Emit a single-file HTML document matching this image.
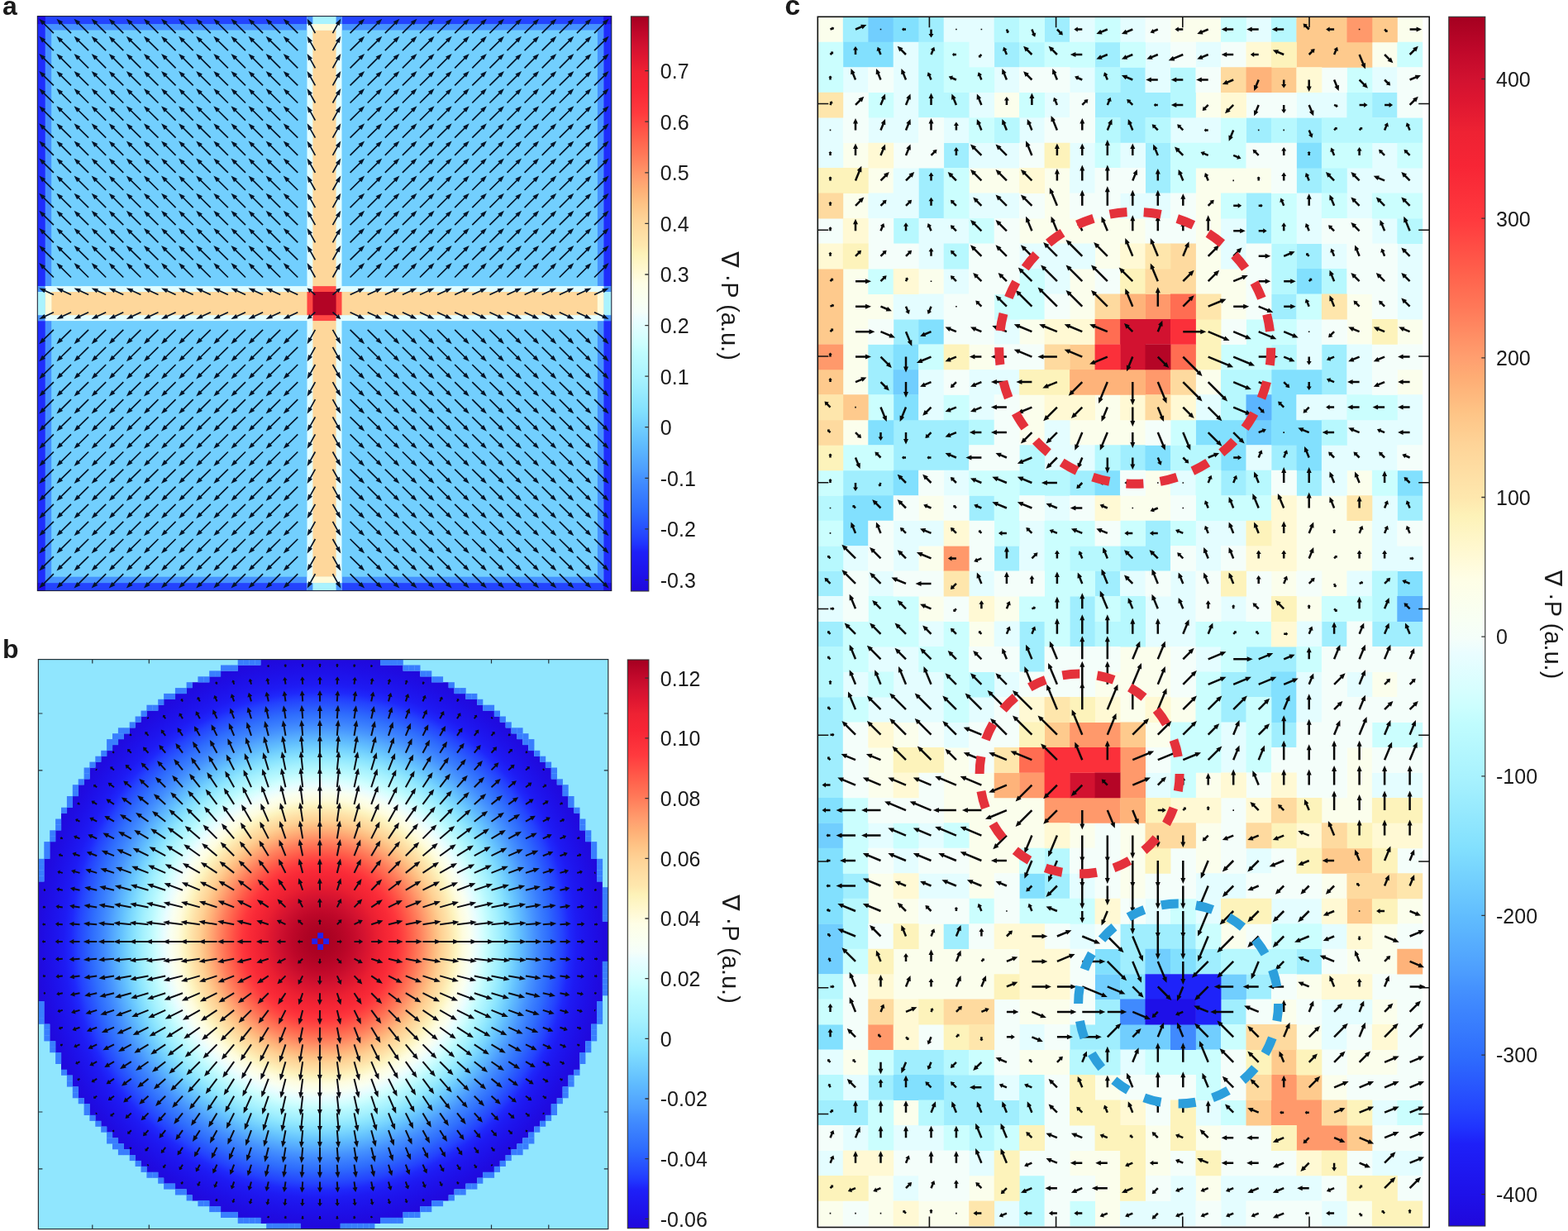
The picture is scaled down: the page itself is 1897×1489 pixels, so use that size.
<!DOCTYPE html><html><head><meta charset="utf-8"><title>figure</title><style>html,body{margin:0;padding:0;background:#fff;}svg{display:block;}text{font-family:"Liberation Sans","DejaVu Sans",Arial,sans-serif;fill:#1a1a1a;}</style></head><body><svg xmlns="http://www.w3.org/2000/svg" width="1897" height="1489" viewBox="0 0 1897 1489"><rect width="1897" height="1489" fill="#fff"/><g id="pa"><rect x="45.3" y="19.6" width="694.5" height="695" fill="#72cffe"/><rect x="58.5" y="32.8" width="668.1" height="668.6" fill="none" stroke="#4592fe" stroke-width="7.4"/><rect x="45.3" y="19.6" width="694.5" height="9.5" fill="#2443fe"/><rect x="45.3" y="705.1" width="694.5" height="9.5" fill="#2443fe"/><rect x="45.3" y="19.6" width="9.5" height="695" fill="#1f2dfc"/><rect x="730.3" y="19.6" width="9.5" height="695" fill="#1f2dfc"/><rect x="45.3" y="19.6" width="9.5" height="9.5" fill="#1e0ee6"/><rect x="730.3" y="19.6" width="9.5" height="9.5" fill="#1e0ee6"/><rect x="45.3" y="705.1" width="9.5" height="9.5" fill="#1e0ee6"/><rect x="730.3" y="705.1" width="9.5" height="9.5" fill="#1e0ee6"/><rect x="371.5" y="19.6" width="42" height="695" fill="#e2fdff"/><rect x="378.4" y="19.6" width="28.2" height="695" fill="#fed79b"/><rect x="45.3" y="346.1" width="694.5" height="42" fill="#e2fdff"/><rect x="45.3" y="353" width="694.5" height="28.2" fill="#fed79b"/><rect x="371.5" y="19.6" width="42" height="9.5" fill="#4592fe"/><rect x="378.4" y="19.6" width="28.2" height="9.5" fill="#aaf3fe"/><rect x="371.5" y="705.1" width="42" height="9.5" fill="#4592fe"/><rect x="378.4" y="705.1" width="28.2" height="9.5" fill="#aaf3fe"/><rect x="371.5" y="29.1" width="42" height="7.4" fill="#e2fdff"/><rect x="378.4" y="29.1" width="28.2" height="7.4" fill="#fffad8"/><rect x="371.5" y="697.7" width="42" height="7.4" fill="#e2fdff"/><rect x="378.4" y="697.7" width="28.2" height="7.4" fill="#fffad8"/><rect x="45.3" y="346.1" width="9.5" height="42" fill="#4592fe"/><rect x="45.3" y="353" width="9.5" height="28.2" fill="#aaf3fe"/><rect x="730.3" y="346.1" width="9.5" height="42" fill="#4592fe"/><rect x="730.3" y="353" width="9.5" height="28.2" fill="#aaf3fe"/><rect x="54.8" y="346.1" width="7.4" height="42" fill="#e2fdff"/><rect x="54.8" y="353" width="7.4" height="28.2" fill="#fffad8"/><rect x="722.9" y="346.1" width="7.4" height="42" fill="#e2fdff"/><rect x="722.9" y="353" width="7.4" height="28.2" fill="#fffad8"/><rect x="371.5" y="353" width="42" height="28.2" fill="#ff4743"/><rect x="378.4" y="346.1" width="28.2" height="42" fill="#ff4743"/><rect x="378.4" y="353" width="28.2" height="28.2" fill="#b30425"/><path d="M64.9 40.1l-14.8 -14.6M86 40.1l-14.8 -14.6M107.1 40.1l-14.8 -14.6M128.2 40.1l-14.8 -14.6M149.3 40.1l-14.8 -14.6M170.4 40.1l-14.8 -14.6M191.5 40.1l-14.8 -14.6M212.6 40.1l-14.8 -14.6M233.7 40.1l-14.8 -14.6M254.8 40.1l-14.8 -14.6M275.9 40.1l-14.8 -14.6M297 40.1l-14.8 -14.6M318.1 40.1l-14.8 -14.6M339.2 40.1l-14.8 -14.6M360.3 40.1l-14.8 -14.6M381.4 40.1l-7.8 -13.9M402.5 40.1l7.8 -13.9M423.6 40.1l14.8 -14.6M444.7 40.1l14.8 -14.6M465.8 40.1l14.8 -14.6M486.9 40.1l14.8 -14.6M508 40.1l14.8 -14.6M529.1 40.1l14.8 -14.6M550.2 40.1l14.8 -14.6M571.3 40.1l14.8 -14.6M592.4 40.1l14.8 -14.6M613.5 40.1l14.8 -14.6M634.6 40.1l14.8 -14.6M655.7 40.1l14.8 -14.6M676.8 40.1l14.8 -14.6M697.9 40.1l14.8 -14.6M719 40.1l14.8 -14.6M64.9 61.2l-14.8 -14.6M86 61.2l-14.8 -14.6M107.1 61.2l-14.8 -14.6M128.2 61.2l-14.8 -14.6M149.3 61.2l-14.8 -14.6M170.4 61.2l-14.8 -14.6M191.5 61.2l-14.8 -14.6M212.6 61.2l-14.8 -14.6M233.7 61.2l-14.8 -14.6M254.8 61.2l-14.8 -14.6M275.9 61.2l-14.8 -14.6M297 61.2l-14.8 -14.6M318.1 61.2l-14.8 -14.6M339.2 61.2l-14.8 -14.6M360.3 61.2l-14.8 -14.6M381.4 61.2l-7.8 -13.9M402.5 61.2l7.8 -13.9M423.6 61.2l14.8 -14.6M444.7 61.2l14.8 -14.6M465.8 61.2l14.8 -14.6M486.9 61.2l14.8 -14.6M508 61.2l14.8 -14.6M529.1 61.2l14.8 -14.6M550.2 61.2l14.8 -14.6M571.3 61.2l14.8 -14.6M592.4 61.2l14.8 -14.6M613.5 61.2l14.8 -14.6M634.6 61.2l14.8 -14.6M655.7 61.2l14.8 -14.6M676.8 61.2l14.8 -14.6M697.9 61.2l14.8 -14.6M719 61.2l14.8 -14.6M64.9 82.3l-14.8 -14.6M86 82.3l-14.8 -14.6M107.1 82.3l-14.8 -14.6M128.2 82.3l-14.8 -14.6M149.3 82.3l-14.8 -14.6M170.4 82.3l-14.8 -14.6M191.5 82.3l-14.8 -14.6M212.6 82.3l-14.8 -14.6M233.7 82.3l-14.8 -14.6M254.8 82.3l-14.8 -14.6M275.9 82.3l-14.8 -14.6M297 82.3l-14.8 -14.6M318.1 82.3l-14.8 -14.6M339.2 82.3l-14.8 -14.6M360.3 82.3l-14.8 -14.6M381.4 82.3l-7.8 -13.9M402.5 82.3l7.8 -13.9M423.6 82.3l14.8 -14.6M444.7 82.3l14.8 -14.6M465.8 82.3l14.8 -14.6M486.9 82.3l14.8 -14.6M508 82.3l14.8 -14.6M529.1 82.3l14.8 -14.6M550.2 82.3l14.8 -14.6M571.3 82.3l14.8 -14.6M592.4 82.3l14.8 -14.6M613.5 82.3l14.8 -14.6M634.6 82.3l14.8 -14.6M655.7 82.3l14.8 -14.6M676.8 82.3l14.8 -14.6M697.9 82.3l14.8 -14.6M719 82.3l14.8 -14.6M64.9 103.4l-14.8 -14.6M86 103.4l-14.8 -14.6M107.1 103.4l-14.8 -14.6M128.2 103.4l-14.8 -14.6M149.3 103.4l-14.8 -14.6M170.4 103.4l-14.8 -14.6M191.5 103.4l-14.8 -14.6M212.6 103.4l-14.8 -14.6M233.7 103.4l-14.8 -14.6M254.8 103.4l-14.8 -14.6M275.9 103.4l-14.8 -14.6M297 103.4l-14.8 -14.6M318.1 103.4l-14.8 -14.6M339.2 103.4l-14.8 -14.6M360.3 103.4l-14.8 -14.6M381.4 103.4l-7.8 -13.9M402.5 103.4l7.8 -13.9M423.6 103.4l14.8 -14.6M444.7 103.4l14.8 -14.6M465.8 103.4l14.8 -14.6M486.9 103.4l14.8 -14.6M508 103.4l14.8 -14.6M529.1 103.4l14.8 -14.6M550.2 103.4l14.8 -14.6M571.3 103.4l14.8 -14.6M592.4 103.4l14.8 -14.6M613.5 103.4l14.8 -14.6M634.6 103.4l14.8 -14.6M655.7 103.4l14.8 -14.6M676.8 103.4l14.8 -14.6M697.9 103.4l14.8 -14.6M719 103.4l14.8 -14.6M64.9 124.5l-14.8 -14.6M86 124.5l-14.8 -14.6M107.1 124.5l-14.8 -14.6M128.2 124.5l-14.8 -14.6M149.3 124.5l-14.8 -14.6M170.4 124.5l-14.8 -14.6M191.5 124.5l-14.8 -14.6M212.6 124.5l-14.8 -14.6M233.7 124.5l-14.8 -14.6M254.8 124.5l-14.8 -14.6M275.9 124.5l-14.8 -14.6M297 124.5l-14.8 -14.6M318.1 124.5l-14.8 -14.6M339.2 124.5l-14.8 -14.6M360.3 124.5l-14.8 -14.6M381.4 124.5l-7.8 -13.9M402.5 124.5l7.8 -13.9M423.6 124.5l14.8 -14.6M444.7 124.5l14.8 -14.6M465.8 124.5l14.8 -14.6M486.9 124.5l14.8 -14.6M508 124.5l14.8 -14.6M529.1 124.5l14.8 -14.6M550.2 124.5l14.8 -14.6M571.3 124.5l14.8 -14.6M592.4 124.5l14.8 -14.6M613.5 124.5l14.8 -14.6M634.6 124.5l14.8 -14.6M655.7 124.5l14.8 -14.6M676.8 124.5l14.8 -14.6M697.9 124.5l14.8 -14.6M719 124.5l14.8 -14.6M64.9 145.6l-14.8 -14.6M86 145.6l-14.8 -14.6M107.1 145.6l-14.8 -14.6M128.2 145.6l-14.8 -14.6M149.3 145.6l-14.8 -14.6M170.4 145.6l-14.8 -14.6M191.5 145.6l-14.8 -14.6M212.6 145.6l-14.8 -14.6M233.7 145.6l-14.8 -14.6M254.8 145.6l-14.8 -14.6M275.9 145.6l-14.8 -14.6M297 145.6l-14.8 -14.6M318.1 145.6l-14.8 -14.6M339.2 145.6l-14.8 -14.6M360.3 145.6l-14.8 -14.6M381.4 145.6l-7.8 -13.9M402.5 145.6l7.8 -13.9M423.6 145.6l14.8 -14.6M444.7 145.6l14.8 -14.6M465.8 145.6l14.8 -14.6M486.9 145.6l14.8 -14.6M508 145.6l14.8 -14.6M529.1 145.6l14.8 -14.6M550.2 145.6l14.8 -14.6M571.3 145.6l14.8 -14.6M592.4 145.6l14.8 -14.6M613.5 145.6l14.8 -14.6M634.6 145.6l14.8 -14.6M655.7 145.6l14.8 -14.6M676.8 145.6l14.8 -14.6M697.9 145.6l14.8 -14.6M719 145.6l14.8 -14.6M64.9 166.7l-14.8 -14.6M86 166.7l-14.8 -14.6M107.1 166.7l-14.8 -14.6M128.2 166.7l-14.8 -14.6M149.3 166.7l-14.8 -14.6M170.4 166.7l-14.8 -14.6M191.5 166.7l-14.8 -14.6M212.6 166.7l-14.8 -14.6M233.7 166.7l-14.8 -14.6M254.8 166.7l-14.8 -14.6M275.9 166.7l-14.8 -14.6M297 166.7l-14.8 -14.6M318.1 166.7l-14.8 -14.6M339.2 166.7l-14.8 -14.6M360.3 166.7l-14.8 -14.6M381.4 166.7l-7.8 -13.9M402.5 166.7l7.8 -13.9M423.6 166.7l14.8 -14.6M444.7 166.7l14.8 -14.6M465.8 166.7l14.8 -14.6M486.9 166.7l14.8 -14.6M508 166.7l14.8 -14.6M529.1 166.7l14.8 -14.6M550.2 166.7l14.8 -14.6M571.3 166.7l14.8 -14.6M592.4 166.7l14.8 -14.6M613.5 166.7l14.8 -14.6M634.6 166.7l14.8 -14.6M655.7 166.7l14.8 -14.6M676.8 166.7l14.8 -14.6M697.9 166.7l14.8 -14.6M719 166.7l14.8 -14.6M64.9 187.8l-14.8 -14.6M86 187.8l-14.8 -14.6M107.1 187.8l-14.8 -14.6M128.2 187.8l-14.8 -14.6M149.3 187.8l-14.8 -14.6M170.4 187.8l-14.8 -14.6M191.5 187.8l-14.8 -14.6M212.6 187.8l-14.8 -14.6M233.7 187.8l-14.8 -14.6M254.8 187.8l-14.8 -14.6M275.9 187.8l-14.8 -14.6M297 187.8l-14.8 -14.6M318.1 187.8l-14.8 -14.6M339.2 187.8l-14.8 -14.6M360.3 187.8l-14.8 -14.6M381.4 187.8l-7.8 -13.9M402.5 187.8l7.8 -13.9M423.6 187.8l14.8 -14.6M444.7 187.8l14.8 -14.6M465.8 187.8l14.8 -14.6M486.9 187.8l14.8 -14.6M508 187.8l14.8 -14.6M529.1 187.8l14.8 -14.6M550.2 187.8l14.8 -14.6M571.3 187.8l14.8 -14.6M592.4 187.8l14.8 -14.6M613.5 187.8l14.8 -14.6M634.6 187.8l14.8 -14.6M655.7 187.8l14.8 -14.6M676.8 187.8l14.8 -14.6M697.9 187.8l14.8 -14.6M719 187.8l14.8 -14.6M64.9 208.9l-14.8 -14.6M86 208.9l-14.8 -14.6M107.1 208.9l-14.8 -14.6M128.2 208.9l-14.8 -14.6M149.3 208.9l-14.8 -14.6M170.4 208.9l-14.8 -14.6M191.5 208.9l-14.8 -14.6M212.6 208.9l-14.8 -14.6M233.7 208.9l-14.8 -14.6M254.8 208.9l-14.8 -14.6M275.9 208.9l-14.8 -14.6M297 208.9l-14.8 -14.6M318.1 208.9l-14.8 -14.6M339.2 208.9l-14.8 -14.6M360.3 208.9l-14.8 -14.6M381.4 208.9l-7.8 -13.9M402.5 208.9l7.8 -13.9M423.6 208.9l14.8 -14.6M444.7 208.9l14.8 -14.6M465.8 208.9l14.8 -14.6M486.9 208.9l14.8 -14.6M508 208.9l14.8 -14.6M529.1 208.9l14.8 -14.6M550.2 208.9l14.8 -14.6M571.3 208.9l14.8 -14.6M592.4 208.9l14.8 -14.6M613.5 208.9l14.8 -14.6M634.6 208.9l14.8 -14.6M655.7 208.9l14.8 -14.6M676.8 208.9l14.8 -14.6M697.9 208.9l14.8 -14.6M719 208.9l14.8 -14.6M64.9 230l-14.8 -14.6M86 230l-14.8 -14.6M107.1 230l-14.8 -14.6M128.2 230l-14.8 -14.6M149.3 230l-14.8 -14.6M170.4 230l-14.8 -14.6M191.5 230l-14.8 -14.6M212.6 230l-14.8 -14.6M233.7 230l-14.8 -14.6M254.8 230l-14.8 -14.6M275.9 230l-14.8 -14.6M297 230l-14.8 -14.6M318.1 230l-14.8 -14.6M339.2 230l-14.8 -14.6M360.3 230l-14.8 -14.6M381.4 230l-7.8 -13.9M402.5 230l7.8 -13.9M423.6 230l14.8 -14.6M444.7 230l14.8 -14.6M465.8 230l14.8 -14.6M486.9 230l14.8 -14.6M508 230l14.8 -14.6M529.1 230l14.8 -14.6M550.2 230l14.8 -14.6M571.3 230l14.8 -14.6M592.4 230l14.8 -14.6M613.5 230l14.8 -14.6M634.6 230l14.8 -14.6M655.7 230l14.8 -14.6M676.8 230l14.8 -14.6M697.9 230l14.8 -14.6M719 230l14.8 -14.6M64.9 251.1l-14.8 -14.6M86 251.1l-14.8 -14.6M107.1 251.1l-14.8 -14.6M128.2 251.1l-14.8 -14.6M149.3 251.1l-14.8 -14.6M170.4 251.1l-14.8 -14.6M191.5 251.1l-14.8 -14.6M212.6 251.1l-14.8 -14.6M233.7 251.1l-14.8 -14.6M254.8 251.1l-14.8 -14.6M275.9 251.1l-14.8 -14.6M297 251.1l-14.8 -14.6M318.1 251.1l-14.8 -14.6M339.2 251.1l-14.8 -14.6M360.3 251.1l-14.8 -14.6M381.4 251.1l-7.8 -13.9M402.5 251.1l7.8 -13.9M423.6 251.1l14.8 -14.6M444.7 251.1l14.8 -14.6M465.8 251.1l14.8 -14.6M486.9 251.1l14.8 -14.6M508 251.1l14.8 -14.6M529.1 251.1l14.8 -14.6M550.2 251.1l14.8 -14.6M571.3 251.1l14.8 -14.6M592.4 251.1l14.8 -14.6M613.5 251.1l14.8 -14.6M634.6 251.1l14.8 -14.6M655.7 251.1l14.8 -14.6M676.8 251.1l14.8 -14.6M697.9 251.1l14.8 -14.6M719 251.1l14.8 -14.6M64.9 272.2l-14.8 -14.6M86 272.2l-14.8 -14.6M107.1 272.2l-14.8 -14.6M128.2 272.2l-14.8 -14.6M149.3 272.2l-14.8 -14.6M170.4 272.2l-14.8 -14.6M191.5 272.2l-14.8 -14.6M212.6 272.2l-14.8 -14.6M233.7 272.2l-14.8 -14.6M254.8 272.2l-14.8 -14.6M275.9 272.2l-14.8 -14.6M297 272.2l-14.8 -14.6M318.1 272.2l-14.8 -14.6M339.2 272.2l-14.8 -14.6M360.3 272.2l-14.8 -14.6M381.4 272.2l-7.8 -13.9M402.5 272.2l7.8 -13.9M423.6 272.2l14.8 -14.6M444.7 272.2l14.8 -14.6M465.8 272.2l14.8 -14.6M486.9 272.2l14.8 -14.6M508 272.2l14.8 -14.6M529.1 272.2l14.8 -14.6M550.2 272.2l14.8 -14.6M571.3 272.2l14.8 -14.6M592.4 272.2l14.8 -14.6M613.5 272.2l14.8 -14.6M634.6 272.2l14.8 -14.6M655.7 272.2l14.8 -14.6M676.8 272.2l14.8 -14.6M697.9 272.2l14.8 -14.6M719 272.2l14.8 -14.6M64.9 293.3l-14.8 -14.6M86 293.3l-14.8 -14.6M107.1 293.3l-14.8 -14.6M128.2 293.3l-14.8 -14.6M149.3 293.3l-14.8 -14.6M170.4 293.3l-14.8 -14.6M191.5 293.3l-14.8 -14.6M212.6 293.3l-14.8 -14.6M233.7 293.3l-14.8 -14.6M254.8 293.3l-14.8 -14.6M275.9 293.3l-14.8 -14.6M297 293.3l-14.8 -14.6M318.1 293.3l-14.8 -14.6M339.2 293.3l-14.8 -14.6M360.3 293.3l-14.8 -14.6M381.4 293.3l-7.8 -13.9M402.5 293.3l7.8 -13.9M423.6 293.3l14.8 -14.6M444.7 293.3l14.8 -14.6M465.8 293.3l14.8 -14.6M486.9 293.3l14.8 -14.6M508 293.3l14.8 -14.6M529.1 293.3l14.8 -14.6M550.2 293.3l14.8 -14.6M571.3 293.3l14.8 -14.6M592.4 293.3l14.8 -14.6M613.5 293.3l14.8 -14.6M634.6 293.3l14.8 -14.6M655.7 293.3l14.8 -14.6M676.8 293.3l14.8 -14.6M697.9 293.3l14.8 -14.6M719 293.3l14.8 -14.6M64.9 314.4l-14.8 -14.6M86 314.4l-14.8 -14.6M107.1 314.4l-14.8 -14.6M128.2 314.4l-14.8 -14.6M149.3 314.4l-14.8 -14.6M170.4 314.4l-14.8 -14.6M191.5 314.4l-14.8 -14.6M212.6 314.4l-14.8 -14.6M233.7 314.4l-14.8 -14.6M254.8 314.4l-14.8 -14.6M275.9 314.4l-14.8 -14.6M297 314.4l-14.8 -14.6M318.1 314.4l-14.8 -14.6M339.2 314.4l-14.8 -14.6M360.3 314.4l-14.8 -14.6M381.4 314.4l-7.8 -13.9M402.5 314.4l7.8 -13.9M423.6 314.4l14.8 -14.6M444.7 314.4l14.8 -14.6M465.8 314.4l14.8 -14.6M486.9 314.4l14.8 -14.6M508 314.4l14.8 -14.6M529.1 314.4l14.8 -14.6M550.2 314.4l14.8 -14.6M571.3 314.4l14.8 -14.6M592.4 314.4l14.8 -14.6M613.5 314.4l14.8 -14.6M634.6 314.4l14.8 -14.6M655.7 314.4l14.8 -14.6M676.8 314.4l14.8 -14.6M697.9 314.4l14.8 -14.6M719 314.4l14.8 -14.6M64.9 335.5l-14.8 -14.6M86 335.5l-14.8 -14.6M107.1 335.5l-14.8 -14.6M128.2 335.5l-14.8 -14.6M149.3 335.5l-14.8 -14.6M170.4 335.5l-14.8 -14.6M191.5 335.5l-14.8 -14.6M212.6 335.5l-14.8 -14.6M233.7 335.5l-14.8 -14.6M254.8 335.5l-14.8 -14.6M275.9 335.5l-14.8 -14.6M297 335.5l-14.8 -14.6M318.1 335.5l-14.8 -14.6M339.2 335.5l-14.8 -14.6M360.3 335.5l-14.8 -14.6M381.4 335.5l-7.8 -13.9M402.5 335.5l7.8 -13.9M423.6 335.5l14.8 -14.6M444.7 335.5l14.8 -14.6M465.8 335.5l14.8 -14.6M486.9 335.5l14.8 -14.6M508 335.5l14.8 -14.6M529.1 335.5l14.8 -14.6M550.2 335.5l14.8 -14.6M571.3 335.5l14.8 -14.6M592.4 335.5l14.8 -14.6M613.5 335.5l14.8 -14.6M634.6 335.5l14.8 -14.6M655.7 335.5l14.8 -14.6M676.8 335.5l14.8 -14.6M697.9 335.5l14.8 -14.6M719 335.5l14.8 -14.6M64.9 356.6l-14 -6.5M86 356.6l-14 -6.5M107.1 356.6l-14 -6.5M128.2 356.6l-14 -6.5M149.3 356.6l-14 -6.5M170.4 356.6l-14 -6.5M191.5 356.6l-14 -6.5M212.6 356.6l-14 -6.5M233.7 356.6l-14 -6.5M254.8 356.6l-14 -6.5M275.9 356.6l-14 -6.5M297 356.6l-14 -6.5M318.1 356.6l-14 -6.5M339.2 356.6l-14 -6.5M360.3 356.6l-14 -6.5M381.4 356.6l-7.6 -6.4M402.5 356.6l7.6 -6.4M423.6 356.6l14 -6.5M444.7 356.6l14 -6.5M465.8 356.6l14 -6.5M486.9 356.6l14 -6.5M508 356.6l14 -6.5M529.1 356.6l14 -6.5M550.2 356.6l14 -6.5M571.3 356.6l14 -6.5M592.4 356.6l14 -6.5M613.5 356.6l14 -6.5M634.6 356.6l14 -6.5M655.7 356.6l14 -6.5M676.8 356.6l14 -6.5M697.9 356.6l14 -6.5M719 356.6l14 -6.5M64.9 377.7l-14 6.5M86 377.7l-14 6.5M107.1 377.7l-14 6.5M128.2 377.7l-14 6.5M149.3 377.7l-14 6.5M170.4 377.7l-14 6.5M191.5 377.7l-14 6.5M212.6 377.7l-14 6.5M233.7 377.7l-14 6.5M254.8 377.7l-14 6.5M275.9 377.7l-14 6.5M297 377.7l-14 6.5M318.1 377.7l-14 6.5M339.2 377.7l-14 6.5M360.3 377.7l-14 6.5M381.4 377.7l-7.6 6.4M402.5 377.7l7.6 6.4M423.6 377.7l14 6.5M444.7 377.7l14 6.5M465.8 377.7l14 6.5M486.9 377.7l14 6.5M508 377.7l14 6.5M529.1 377.7l14 6.5M550.2 377.7l14 6.5M571.3 377.7l14 6.5M592.4 377.7l14 6.5M613.5 377.7l14 6.5M634.6 377.7l14 6.5M655.7 377.7l14 6.5M676.8 377.7l14 6.5M697.9 377.7l14 6.5M719 377.7l14 6.5M64.9 398.8l-14.8 14.6M86 398.8l-14.8 14.6M107.1 398.8l-14.8 14.6M128.2 398.8l-14.8 14.6M149.3 398.8l-14.8 14.6M170.4 398.8l-14.8 14.6M191.5 398.8l-14.8 14.6M212.6 398.8l-14.8 14.6M233.7 398.8l-14.8 14.6M254.8 398.8l-14.8 14.6M275.9 398.8l-14.8 14.6M297 398.8l-14.8 14.6M318.1 398.8l-14.8 14.6M339.2 398.8l-14.8 14.6M360.3 398.8l-14.8 14.6M381.4 398.8l-7.8 13.9M402.5 398.8l7.8 13.9M423.6 398.8l14.8 14.6M444.7 398.8l14.8 14.6M465.8 398.8l14.8 14.6M486.9 398.8l14.8 14.6M508 398.8l14.8 14.6M529.1 398.8l14.8 14.6M550.2 398.8l14.8 14.6M571.3 398.8l14.8 14.6M592.4 398.8l14.8 14.6M613.5 398.8l14.8 14.6M634.6 398.8l14.8 14.6M655.7 398.8l14.8 14.6M676.8 398.8l14.8 14.6M697.9 398.8l14.8 14.6M719 398.8l14.8 14.6M64.9 419.9l-14.8 14.6M86 419.9l-14.8 14.6M107.1 419.9l-14.8 14.6M128.2 419.9l-14.8 14.6M149.3 419.9l-14.8 14.6M170.4 419.9l-14.8 14.6M191.5 419.9l-14.8 14.6M212.6 419.9l-14.8 14.6M233.7 419.9l-14.8 14.6M254.8 419.9l-14.8 14.6M275.9 419.9l-14.8 14.6M297 419.9l-14.8 14.6M318.1 419.9l-14.8 14.6M339.2 419.9l-14.8 14.6M360.3 419.9l-14.8 14.6M381.4 419.9l-7.8 13.9M402.5 419.9l7.8 13.9M423.6 419.9l14.8 14.6M444.7 419.9l14.8 14.6M465.8 419.9l14.8 14.6M486.9 419.9l14.8 14.6M508 419.9l14.8 14.6M529.1 419.9l14.8 14.6M550.2 419.9l14.8 14.6M571.3 419.9l14.8 14.6M592.4 419.9l14.8 14.6M613.5 419.9l14.8 14.6M634.6 419.9l14.8 14.6M655.7 419.9l14.8 14.6M676.8 419.9l14.8 14.6M697.9 419.9l14.8 14.6M719 419.9l14.8 14.6M64.9 441l-14.8 14.6M86 441l-14.8 14.6M107.1 441l-14.8 14.6M128.2 441l-14.8 14.6M149.3 441l-14.8 14.6M170.4 441l-14.8 14.6M191.5 441l-14.8 14.6M212.6 441l-14.8 14.6M233.7 441l-14.8 14.6M254.8 441l-14.8 14.6M275.9 441l-14.8 14.6M297 441l-14.8 14.6M318.1 441l-14.8 14.6M339.2 441l-14.8 14.6M360.3 441l-14.8 14.6M381.4 441l-7.8 13.9M402.5 441l7.8 13.9M423.6 441l14.8 14.6M444.7 441l14.8 14.6M465.8 441l14.8 14.6M486.9 441l14.8 14.6M508 441l14.8 14.6M529.1 441l14.8 14.6M550.2 441l14.8 14.6M571.3 441l14.8 14.6M592.4 441l14.8 14.6M613.5 441l14.8 14.6M634.6 441l14.8 14.6M655.7 441l14.8 14.6M676.8 441l14.8 14.6M697.9 441l14.8 14.6M719 441l14.8 14.6M64.9 462.1l-14.8 14.6M86 462.1l-14.8 14.6M107.1 462.1l-14.8 14.6M128.2 462.1l-14.8 14.6M149.3 462.1l-14.8 14.6M170.4 462.1l-14.8 14.6M191.5 462.1l-14.8 14.6M212.6 462.1l-14.8 14.6M233.7 462.1l-14.8 14.6M254.8 462.1l-14.8 14.6M275.9 462.1l-14.8 14.6M297 462.1l-14.8 14.6M318.1 462.1l-14.8 14.6M339.2 462.1l-14.8 14.6M360.3 462.1l-14.8 14.6M381.4 462.1l-7.8 13.9M402.5 462.1l7.8 13.9M423.6 462.1l14.8 14.6M444.7 462.1l14.8 14.6M465.8 462.1l14.8 14.6M486.9 462.1l14.8 14.6M508 462.1l14.8 14.6M529.1 462.1l14.8 14.6M550.2 462.1l14.8 14.6M571.3 462.1l14.8 14.6M592.4 462.1l14.8 14.6M613.5 462.1l14.8 14.6M634.6 462.1l14.8 14.6M655.7 462.1l14.8 14.6M676.8 462.1l14.8 14.6M697.9 462.1l14.8 14.6M719 462.1l14.8 14.6M64.9 483.2l-14.8 14.6M86 483.2l-14.8 14.6M107.1 483.2l-14.8 14.6M128.2 483.2l-14.8 14.6M149.3 483.2l-14.8 14.6M170.4 483.2l-14.8 14.6M191.5 483.2l-14.8 14.6M212.6 483.2l-14.8 14.6M233.7 483.2l-14.8 14.6M254.8 483.2l-14.8 14.6M275.9 483.2l-14.8 14.6M297 483.2l-14.8 14.6M318.1 483.2l-14.8 14.6M339.2 483.2l-14.8 14.6M360.3 483.2l-14.8 14.6M381.4 483.2l-7.8 13.9M402.5 483.2l7.8 13.9M423.6 483.2l14.8 14.6M444.7 483.2l14.8 14.6M465.8 483.2l14.8 14.6M486.9 483.2l14.8 14.6M508 483.2l14.8 14.6M529.1 483.2l14.8 14.6M550.2 483.2l14.8 14.6M571.3 483.2l14.8 14.6M592.4 483.2l14.8 14.6M613.5 483.2l14.8 14.6M634.6 483.2l14.8 14.6M655.7 483.2l14.8 14.6M676.8 483.2l14.8 14.6M697.9 483.2l14.8 14.6M719 483.2l14.8 14.6M64.9 504.3l-14.8 14.6M86 504.3l-14.8 14.6M107.1 504.3l-14.8 14.6M128.2 504.3l-14.8 14.6M149.3 504.3l-14.8 14.6M170.4 504.3l-14.8 14.6M191.5 504.3l-14.8 14.6M212.6 504.3l-14.8 14.6M233.7 504.3l-14.8 14.6M254.8 504.3l-14.8 14.6M275.9 504.3l-14.8 14.6M297 504.3l-14.8 14.6M318.1 504.3l-14.8 14.6M339.2 504.3l-14.8 14.6M360.3 504.3l-14.8 14.6M381.4 504.3l-7.8 13.9M402.5 504.3l7.8 13.9M423.6 504.3l14.8 14.6M444.7 504.3l14.8 14.6M465.8 504.3l14.8 14.6M486.9 504.3l14.8 14.6M508 504.3l14.8 14.6M529.1 504.3l14.8 14.6M550.2 504.3l14.8 14.6M571.3 504.3l14.8 14.6M592.4 504.3l14.8 14.6M613.5 504.3l14.8 14.6M634.6 504.3l14.8 14.6M655.7 504.3l14.8 14.6M676.8 504.3l14.8 14.6M697.9 504.3l14.8 14.6M719 504.3l14.8 14.6M64.9 525.4l-14.8 14.6M86 525.4l-14.8 14.6M107.1 525.4l-14.8 14.6M128.2 525.4l-14.8 14.6M149.3 525.4l-14.8 14.6M170.4 525.4l-14.8 14.6M191.5 525.4l-14.8 14.6M212.6 525.4l-14.8 14.6M233.7 525.4l-14.8 14.6M254.8 525.4l-14.8 14.6M275.9 525.4l-14.8 14.6M297 525.4l-14.8 14.6M318.1 525.4l-14.8 14.6M339.2 525.4l-14.8 14.6M360.3 525.4l-14.8 14.6M381.4 525.4l-7.8 13.9M402.5 525.4l7.8 13.9M423.6 525.4l14.8 14.6M444.7 525.4l14.8 14.6M465.8 525.4l14.8 14.6M486.9 525.4l14.8 14.6M508 525.4l14.8 14.6M529.1 525.4l14.8 14.6M550.2 525.4l14.8 14.6M571.3 525.4l14.8 14.6M592.4 525.4l14.8 14.6M613.5 525.4l14.8 14.6M634.6 525.4l14.8 14.6M655.7 525.4l14.8 14.6M676.8 525.4l14.8 14.6M697.9 525.4l14.8 14.6M719 525.4l14.8 14.6M64.9 546.5l-14.8 14.6M86 546.5l-14.8 14.6M107.1 546.5l-14.8 14.6M128.2 546.5l-14.8 14.6M149.3 546.5l-14.8 14.6M170.4 546.5l-14.8 14.6M191.5 546.5l-14.8 14.6M212.6 546.5l-14.8 14.6M233.7 546.5l-14.8 14.6M254.8 546.5l-14.8 14.6M275.9 546.5l-14.8 14.6M297 546.5l-14.8 14.6M318.1 546.5l-14.8 14.6M339.2 546.5l-14.8 14.6M360.3 546.5l-14.8 14.6M381.4 546.5l-7.8 13.9M402.5 546.5l7.8 13.9M423.6 546.5l14.8 14.6M444.7 546.5l14.8 14.6M465.8 546.5l14.8 14.6M486.9 546.5l14.8 14.6M508 546.5l14.8 14.6M529.1 546.5l14.8 14.6M550.2 546.5l14.8 14.6M571.3 546.5l14.8 14.6M592.4 546.5l14.8 14.6M613.5 546.5l14.8 14.6M634.6 546.5l14.8 14.6M655.7 546.5l14.8 14.6M676.8 546.5l14.8 14.6M697.9 546.5l14.8 14.6M719 546.5l14.8 14.6M64.9 567.6l-14.8 14.6M86 567.6l-14.8 14.6M107.1 567.6l-14.8 14.6M128.2 567.6l-14.8 14.6M149.3 567.6l-14.8 14.6M170.4 567.6l-14.8 14.6M191.5 567.6l-14.8 14.6M212.6 567.6l-14.8 14.6M233.7 567.6l-14.8 14.6M254.8 567.6l-14.8 14.6M275.9 567.6l-14.8 14.6M297 567.6l-14.8 14.6M318.1 567.6l-14.8 14.6M339.2 567.6l-14.8 14.6M360.3 567.6l-14.8 14.6M381.4 567.6l-7.8 13.9M402.5 567.6l7.8 13.9M423.6 567.6l14.8 14.6M444.7 567.6l14.8 14.6M465.8 567.6l14.8 14.6M486.9 567.6l14.8 14.6M508 567.6l14.8 14.6M529.1 567.6l14.8 14.6M550.2 567.6l14.8 14.6M571.3 567.6l14.8 14.6M592.4 567.6l14.8 14.6M613.5 567.6l14.8 14.6M634.6 567.6l14.8 14.6M655.7 567.6l14.8 14.6M676.8 567.6l14.8 14.6M697.9 567.6l14.8 14.6M719 567.6l14.8 14.6M64.9 588.7l-14.8 14.6M86 588.7l-14.8 14.6M107.1 588.7l-14.8 14.6M128.2 588.7l-14.8 14.6M149.3 588.7l-14.8 14.6M170.4 588.7l-14.8 14.6M191.5 588.7l-14.8 14.6M212.6 588.7l-14.8 14.6M233.7 588.7l-14.8 14.6M254.8 588.7l-14.8 14.6M275.9 588.7l-14.8 14.6M297 588.7l-14.8 14.6M318.1 588.7l-14.8 14.6M339.2 588.7l-14.8 14.6M360.3 588.7l-14.8 14.6M381.4 588.7l-7.8 13.9M402.5 588.7l7.8 13.9M423.6 588.7l14.8 14.6M444.7 588.7l14.8 14.6M465.8 588.7l14.8 14.6M486.9 588.7l14.8 14.6M508 588.7l14.8 14.6M529.1 588.7l14.8 14.6M550.2 588.7l14.8 14.6M571.3 588.7l14.8 14.6M592.4 588.7l14.8 14.6M613.5 588.7l14.8 14.6M634.6 588.7l14.8 14.6M655.7 588.7l14.8 14.6M676.8 588.7l14.8 14.6M697.9 588.7l14.8 14.6M719 588.7l14.8 14.6M64.9 609.8l-14.8 14.6M86 609.8l-14.8 14.6M107.1 609.8l-14.8 14.6M128.2 609.8l-14.8 14.6M149.3 609.8l-14.8 14.6M170.4 609.8l-14.8 14.6M191.5 609.8l-14.8 14.6M212.6 609.8l-14.8 14.6M233.7 609.8l-14.8 14.6M254.8 609.8l-14.8 14.6M275.9 609.8l-14.8 14.6M297 609.8l-14.8 14.6M318.1 609.8l-14.8 14.6M339.2 609.8l-14.8 14.6M360.3 609.8l-14.8 14.6M381.4 609.8l-7.8 13.9M402.5 609.8l7.8 13.9M423.6 609.8l14.8 14.6M444.7 609.8l14.8 14.6M465.8 609.8l14.8 14.6M486.9 609.8l14.8 14.6M508 609.8l14.8 14.6M529.1 609.8l14.8 14.6M550.2 609.8l14.8 14.6M571.3 609.8l14.8 14.6M592.4 609.8l14.8 14.6M613.5 609.8l14.8 14.6M634.6 609.8l14.8 14.6M655.7 609.8l14.8 14.6M676.8 609.8l14.8 14.6M697.9 609.8l14.8 14.6M719 609.8l14.8 14.6M64.9 630.9l-14.8 14.6M86 630.9l-14.8 14.6M107.1 630.9l-14.8 14.6M128.2 630.9l-14.8 14.6M149.3 630.9l-14.8 14.6M170.4 630.9l-14.8 14.6M191.5 630.9l-14.8 14.6M212.6 630.9l-14.8 14.6M233.7 630.9l-14.8 14.6M254.8 630.9l-14.8 14.6M275.9 630.9l-14.8 14.6M297 630.9l-14.8 14.6M318.1 630.9l-14.8 14.6M339.2 630.9l-14.8 14.6M360.3 630.9l-14.8 14.6M381.4 630.9l-7.8 13.9M402.5 630.9l7.8 13.9M423.6 630.9l14.8 14.6M444.7 630.9l14.8 14.6M465.8 630.9l14.8 14.6M486.9 630.9l14.8 14.6M508 630.9l14.8 14.6M529.1 630.9l14.8 14.6M550.2 630.9l14.8 14.6M571.3 630.9l14.8 14.6M592.4 630.9l14.8 14.6M613.5 630.9l14.8 14.6M634.6 630.9l14.8 14.6M655.7 630.9l14.8 14.6M676.8 630.9l14.8 14.6M697.9 630.9l14.8 14.6M719 630.9l14.8 14.6M64.9 652l-14.8 14.6M86 652l-14.8 14.6M107.1 652l-14.8 14.6M128.2 652l-14.8 14.6M149.3 652l-14.8 14.6M170.4 652l-14.8 14.6M191.5 652l-14.8 14.6M212.6 652l-14.8 14.6M233.7 652l-14.8 14.6M254.8 652l-14.8 14.6M275.9 652l-14.8 14.6M297 652l-14.8 14.6M318.1 652l-14.8 14.6M339.2 652l-14.8 14.6M360.3 652l-14.8 14.6M381.4 652l-7.8 13.9M402.5 652l7.8 13.9M423.6 652l14.8 14.6M444.7 652l14.8 14.6M465.8 652l14.8 14.6M486.9 652l14.8 14.6M508 652l14.8 14.6M529.1 652l14.8 14.6M550.2 652l14.8 14.6M571.3 652l14.8 14.6M592.4 652l14.8 14.6M613.5 652l14.8 14.6M634.6 652l14.8 14.6M655.7 652l14.8 14.6M676.8 652l14.8 14.6M697.9 652l14.8 14.6M719 652l14.8 14.6M64.9 673.1l-14.8 14.6M86 673.1l-14.8 14.6M107.1 673.1l-14.8 14.6M128.2 673.1l-14.8 14.6M149.3 673.1l-14.8 14.6M170.4 673.1l-14.8 14.6M191.5 673.1l-14.8 14.6M212.6 673.1l-14.8 14.6M233.7 673.1l-14.8 14.6M254.8 673.1l-14.8 14.6M275.9 673.1l-14.8 14.6M297 673.1l-14.8 14.6M318.1 673.1l-14.8 14.6M339.2 673.1l-14.8 14.6M360.3 673.1l-14.8 14.6M381.4 673.1l-7.8 13.9M402.5 673.1l7.8 13.9M423.6 673.1l14.8 14.6M444.7 673.1l14.8 14.6M465.8 673.1l14.8 14.6M486.9 673.1l14.8 14.6M508 673.1l14.8 14.6M529.1 673.1l14.8 14.6M550.2 673.1l14.8 14.6M571.3 673.1l14.8 14.6M592.4 673.1l14.8 14.6M613.5 673.1l14.8 14.6M634.6 673.1l14.8 14.6M655.7 673.1l14.8 14.6M676.8 673.1l14.8 14.6M697.9 673.1l14.8 14.6M719 673.1l14.8 14.6M64.9 694.2l-14.8 14.6M86 694.2l-14.8 14.6M107.1 694.2l-14.8 14.6M128.2 694.2l-14.8 14.6M149.3 694.2l-14.8 14.6M170.4 694.2l-14.8 14.6M191.5 694.2l-14.8 14.6M212.6 694.2l-14.8 14.6M233.7 694.2l-14.8 14.6M254.8 694.2l-14.8 14.6M275.9 694.2l-14.8 14.6M297 694.2l-14.8 14.6M318.1 694.2l-14.8 14.6M339.2 694.2l-14.8 14.6M360.3 694.2l-14.8 14.6M381.4 694.2l-7.8 13.9M402.5 694.2l7.8 13.9M423.6 694.2l14.8 14.6M444.7 694.2l14.8 14.6M465.8 694.2l14.8 14.6M486.9 694.2l14.8 14.6M508 694.2l14.8 14.6M529.1 694.2l14.8 14.6M550.2 694.2l14.8 14.6M571.3 694.2l14.8 14.6M592.4 694.2l14.8 14.6M613.5 694.2l14.8 14.6M634.6 694.2l14.8 14.6M655.7 694.2l14.8 14.6M676.8 694.2l14.8 14.6M697.9 694.2l14.8 14.6M719 694.2l14.8 14.6" stroke="#061428" stroke-width="1.7" fill="none"/><path d="M47.3 22.7L55 26.3L51 30.3zM68.4 22.7L76.1 26.3L72.1 30.3zM89.5 22.7L97.2 26.3L93.2 30.3zM110.6 22.7L118.3 26.3L114.3 30.3zM131.7 22.7L139.4 26.3L135.4 30.3zM152.8 22.7L160.5 26.3L156.5 30.3zM173.9 22.7L181.6 26.3L177.6 30.3zM195 22.7L202.7 26.3L198.7 30.3zM216.1 22.7L223.8 26.3L219.8 30.3zM237.2 22.7L244.9 26.3L240.9 30.3zM258.3 22.7L266 26.3L262 30.3zM279.4 22.7L287.1 26.3L283.1 30.3zM300.5 22.7L308.2 26.3L304.2 30.3zM321.6 22.7L329.3 26.3L325.3 30.3zM342.7 22.7L350.4 26.3L346.4 30.3zM371.6 22.7L378 28.3L373.1 31zM412.3 22.7L410.8 31L405.9 28.3zM441.2 22.7L437.5 30.3L433.5 26.3zM462.3 22.7L458.6 30.3L454.6 26.3zM483.4 22.7L479.7 30.3L475.7 26.3zM504.5 22.7L500.8 30.3L496.8 26.3zM525.6 22.7L521.9 30.3L517.9 26.3zM546.7 22.7L543 30.3L539 26.3zM567.8 22.7L564.1 30.3L560.1 26.3zM588.9 22.7L585.2 30.3L581.2 26.3zM610 22.7L606.3 30.3L602.3 26.3zM631.1 22.7L627.4 30.3L623.4 26.3zM652.2 22.7L648.5 30.3L644.5 26.3zM673.3 22.7L669.6 30.3L665.6 26.3zM694.4 22.7L690.7 30.3L686.7 26.3zM715.5 22.7L711.8 30.3L707.8 26.3zM736.6 22.7L732.9 30.3L728.9 26.3zM47.3 43.8L55 47.4L51 51.4zM68.4 43.8L76.1 47.4L72.1 51.4zM89.5 43.8L97.2 47.4L93.2 51.4zM110.6 43.8L118.3 47.4L114.3 51.4zM131.7 43.8L139.4 47.4L135.4 51.4zM152.8 43.8L160.5 47.4L156.5 51.4zM173.9 43.8L181.6 47.4L177.6 51.4zM195 43.8L202.7 47.4L198.7 51.4zM216.1 43.8L223.8 47.4L219.8 51.4zM237.2 43.8L244.9 47.4L240.9 51.4zM258.3 43.8L266 47.4L262 51.4zM279.4 43.8L287.1 47.4L283.1 51.4zM300.5 43.8L308.2 47.4L304.2 51.4zM321.6 43.8L329.3 47.4L325.3 51.4zM342.7 43.8L350.4 47.4L346.4 51.4zM371.6 43.8L378 49.4L373.1 52.1zM412.3 43.8L410.8 52.1L405.9 49.4zM441.2 43.8L437.5 51.4L433.5 47.4zM462.3 43.8L458.6 51.4L454.6 47.4zM483.4 43.8L479.7 51.4L475.7 47.4zM504.5 43.8L500.8 51.4L496.8 47.4zM525.6 43.8L521.9 51.4L517.9 47.4zM546.7 43.8L543 51.4L539 47.4zM567.8 43.8L564.1 51.4L560.1 47.4zM588.9 43.8L585.2 51.4L581.2 47.4zM610 43.8L606.3 51.4L602.3 47.4zM631.1 43.8L627.4 51.4L623.4 47.4zM652.2 43.8L648.5 51.4L644.5 47.4zM673.3 43.8L669.6 51.4L665.6 47.4zM694.4 43.8L690.7 51.4L686.7 47.4zM715.5 43.8L711.8 51.4L707.8 47.4zM736.6 43.8L732.9 51.4L728.9 47.4zM47.3 64.9L55 68.5L51 72.5zM68.4 64.9L76.1 68.5L72.1 72.5zM89.5 64.9L97.2 68.5L93.2 72.5zM110.6 64.9L118.3 68.5L114.3 72.5zM131.7 64.9L139.4 68.5L135.4 72.5zM152.8 64.9L160.5 68.5L156.5 72.5zM173.9 64.9L181.6 68.5L177.6 72.5zM195 64.9L202.7 68.5L198.7 72.5zM216.1 64.9L223.8 68.5L219.8 72.5zM237.2 64.9L244.9 68.5L240.9 72.5zM258.3 64.9L266 68.5L262 72.5zM279.4 64.9L287.1 68.5L283.1 72.5zM300.5 64.9L308.2 68.5L304.2 72.5zM321.6 64.9L329.3 68.5L325.3 72.5zM342.7 64.9L350.4 68.5L346.4 72.5zM371.6 64.9L378 70.5L373.1 73.2zM412.3 64.9L410.8 73.2L405.9 70.5zM441.2 64.9L437.5 72.5L433.5 68.5zM462.3 64.9L458.6 72.5L454.6 68.5zM483.4 64.9L479.7 72.5L475.7 68.5zM504.5 64.9L500.8 72.5L496.8 68.5zM525.6 64.9L521.9 72.5L517.9 68.5zM546.7 64.9L543 72.5L539 68.5zM567.8 64.9L564.1 72.5L560.1 68.5zM588.9 64.9L585.2 72.5L581.2 68.5zM610 64.9L606.3 72.5L602.3 68.5zM631.1 64.9L627.4 72.5L623.4 68.5zM652.2 64.9L648.5 72.5L644.5 68.5zM673.3 64.9L669.6 72.5L665.6 68.5zM694.4 64.9L690.7 72.5L686.7 68.5zM715.5 64.9L711.8 72.5L707.8 68.5zM736.6 64.9L732.9 72.5L728.9 68.5zM47.3 86L55 89.6L51 93.6zM68.4 86L76.1 89.6L72.1 93.6zM89.5 86L97.2 89.6L93.2 93.6zM110.6 86L118.3 89.6L114.3 93.6zM131.7 86L139.4 89.6L135.4 93.6zM152.8 86L160.5 89.6L156.5 93.6zM173.9 86L181.6 89.6L177.6 93.6zM195 86L202.7 89.6L198.7 93.6zM216.1 86L223.8 89.6L219.8 93.6zM237.2 86L244.9 89.6L240.9 93.6zM258.3 86L266 89.6L262 93.6zM279.4 86L287.1 89.6L283.1 93.6zM300.5 86L308.2 89.6L304.2 93.6zM321.6 86L329.3 89.6L325.3 93.6zM342.7 86L350.4 89.6L346.4 93.6zM371.6 86L378 91.6L373.1 94.3zM412.3 86L410.8 94.3L405.9 91.6zM441.2 86L437.5 93.6L433.5 89.6zM462.3 86L458.6 93.6L454.6 89.6zM483.4 86L479.7 93.6L475.7 89.6zM504.5 86L500.8 93.6L496.8 89.6zM525.6 86L521.9 93.6L517.9 89.6zM546.7 86L543 93.6L539 89.6zM567.8 86L564.1 93.6L560.1 89.6zM588.9 86L585.2 93.6L581.2 89.6zM610 86L606.3 93.6L602.3 89.6zM631.1 86L627.4 93.6L623.4 89.6zM652.2 86L648.5 93.6L644.5 89.6zM673.3 86L669.6 93.6L665.6 89.6zM694.4 86L690.7 93.6L686.7 89.6zM715.5 86L711.8 93.6L707.8 89.6zM736.6 86L732.9 93.6L728.9 89.6zM47.3 107.1L55 110.7L51 114.7zM68.4 107.1L76.1 110.7L72.1 114.7zM89.5 107.1L97.2 110.7L93.2 114.7zM110.6 107.1L118.3 110.7L114.3 114.7zM131.7 107.1L139.4 110.7L135.4 114.7zM152.8 107.1L160.5 110.7L156.5 114.7zM173.9 107.1L181.6 110.7L177.6 114.7zM195 107.1L202.7 110.7L198.7 114.7zM216.1 107.1L223.8 110.7L219.8 114.7zM237.2 107.1L244.9 110.7L240.9 114.7zM258.3 107.1L266 110.7L262 114.7zM279.4 107.1L287.1 110.7L283.1 114.7zM300.5 107.1L308.2 110.7L304.2 114.7zM321.6 107.1L329.3 110.7L325.3 114.7zM342.7 107.1L350.4 110.7L346.4 114.7zM371.6 107.1L378 112.7L373.1 115.4zM412.3 107.1L410.8 115.4L405.9 112.7zM441.2 107.1L437.5 114.7L433.5 110.7zM462.3 107.1L458.6 114.7L454.6 110.7zM483.4 107.1L479.7 114.7L475.7 110.7zM504.5 107.1L500.8 114.7L496.8 110.7zM525.6 107.1L521.9 114.7L517.9 110.7zM546.7 107.1L543 114.7L539 110.7zM567.8 107.1L564.1 114.7L560.1 110.7zM588.9 107.1L585.2 114.7L581.2 110.7zM610 107.1L606.3 114.7L602.3 110.7zM631.1 107.1L627.4 114.7L623.4 110.7zM652.2 107.1L648.5 114.7L644.5 110.7zM673.3 107.1L669.6 114.7L665.6 110.7zM694.4 107.1L690.7 114.7L686.7 110.7zM715.5 107.1L711.8 114.7L707.8 110.7zM736.6 107.1L732.9 114.7L728.9 110.7zM47.3 128.2L55 131.8L51 135.8zM68.4 128.2L76.1 131.8L72.1 135.8zM89.5 128.2L97.2 131.8L93.2 135.8zM110.6 128.2L118.3 131.8L114.3 135.8zM131.7 128.2L139.4 131.8L135.4 135.8zM152.8 128.2L160.5 131.8L156.5 135.8zM173.9 128.2L181.6 131.8L177.6 135.8zM195 128.2L202.7 131.8L198.7 135.8zM216.1 128.2L223.8 131.8L219.8 135.8zM237.2 128.2L244.9 131.8L240.9 135.8zM258.3 128.2L266 131.8L262 135.8zM279.4 128.2L287.1 131.8L283.1 135.8zM300.5 128.2L308.2 131.8L304.2 135.8zM321.6 128.2L329.3 131.8L325.3 135.8zM342.7 128.2L350.4 131.8L346.4 135.8zM371.6 128.2L378 133.8L373.1 136.5zM412.3 128.2L410.8 136.5L405.9 133.8zM441.2 128.2L437.5 135.8L433.5 131.8zM462.3 128.2L458.6 135.8L454.6 131.8zM483.4 128.2L479.7 135.8L475.7 131.8zM504.5 128.2L500.8 135.8L496.8 131.8zM525.6 128.2L521.9 135.8L517.9 131.8zM546.7 128.2L543 135.8L539 131.8zM567.8 128.2L564.1 135.8L560.1 131.8zM588.9 128.2L585.2 135.8L581.2 131.8zM610 128.2L606.3 135.8L602.3 131.8zM631.1 128.2L627.4 135.8L623.4 131.8zM652.2 128.2L648.5 135.8L644.5 131.8zM673.3 128.2L669.6 135.8L665.6 131.8zM694.4 128.2L690.7 135.8L686.7 131.8zM715.5 128.2L711.8 135.8L707.8 131.8zM736.6 128.2L732.9 135.8L728.9 131.8zM47.3 149.3L55 152.9L51 156.9zM68.4 149.3L76.1 152.9L72.1 156.9zM89.5 149.3L97.2 152.9L93.2 156.9zM110.6 149.3L118.3 152.9L114.3 156.9zM131.7 149.3L139.4 152.9L135.4 156.9zM152.8 149.3L160.5 152.9L156.5 156.9zM173.9 149.3L181.6 152.9L177.6 156.9zM195 149.3L202.7 152.9L198.7 156.9zM216.1 149.3L223.8 152.9L219.8 156.9zM237.2 149.3L244.9 152.9L240.9 156.9zM258.3 149.3L266 152.9L262 156.9zM279.4 149.3L287.1 152.9L283.1 156.9zM300.5 149.3L308.2 152.9L304.2 156.9zM321.6 149.3L329.3 152.9L325.3 156.9zM342.7 149.3L350.4 152.9L346.4 156.9zM371.6 149.3L378 154.9L373.1 157.6zM412.3 149.3L410.8 157.6L405.9 154.9zM441.2 149.3L437.5 156.9L433.5 152.9zM462.3 149.3L458.6 156.9L454.6 152.9zM483.4 149.3L479.7 156.9L475.7 152.9zM504.5 149.3L500.8 156.9L496.8 152.9zM525.6 149.3L521.9 156.9L517.9 152.9zM546.7 149.3L543 156.9L539 152.9zM567.8 149.3L564.1 156.9L560.1 152.9zM588.9 149.3L585.2 156.9L581.2 152.9zM610 149.3L606.3 156.9L602.3 152.9zM631.1 149.3L627.4 156.9L623.4 152.9zM652.2 149.3L648.5 156.9L644.5 152.9zM673.3 149.3L669.6 156.9L665.6 152.9zM694.4 149.3L690.7 156.9L686.7 152.9zM715.5 149.3L711.8 156.9L707.8 152.9zM736.6 149.3L732.9 156.9L728.9 152.9zM47.3 170.4L55 174L51 178zM68.4 170.4L76.1 174L72.1 178zM89.5 170.4L97.2 174L93.2 178zM110.6 170.4L118.3 174L114.3 178zM131.7 170.4L139.4 174L135.4 178zM152.8 170.4L160.5 174L156.5 178zM173.9 170.4L181.6 174L177.6 178zM195 170.4L202.7 174L198.7 178zM216.1 170.4L223.8 174L219.8 178zM237.2 170.4L244.9 174L240.9 178zM258.3 170.4L266 174L262 178zM279.4 170.4L287.1 174L283.1 178zM300.5 170.4L308.2 174L304.2 178zM321.6 170.4L329.3 174L325.3 178zM342.7 170.4L350.4 174L346.4 178zM371.6 170.4L378 176L373.1 178.7zM412.3 170.4L410.8 178.7L405.9 176zM441.2 170.4L437.5 178L433.5 174zM462.3 170.4L458.6 178L454.6 174zM483.4 170.4L479.7 178L475.7 174zM504.5 170.4L500.8 178L496.8 174zM525.6 170.4L521.9 178L517.9 174zM546.7 170.4L543 178L539 174zM567.8 170.4L564.1 178L560.1 174zM588.9 170.4L585.2 178L581.2 174zM610 170.4L606.3 178L602.3 174zM631.1 170.4L627.4 178L623.4 174zM652.2 170.4L648.5 178L644.5 174zM673.3 170.4L669.6 178L665.6 174zM694.4 170.4L690.7 178L686.7 174zM715.5 170.4L711.8 178L707.8 174zM736.6 170.4L732.9 178L728.9 174zM47.3 191.5L55 195.1L51 199.1zM68.4 191.5L76.1 195.1L72.1 199.1zM89.5 191.5L97.2 195.1L93.2 199.1zM110.6 191.5L118.3 195.1L114.3 199.1zM131.7 191.5L139.4 195.1L135.4 199.1zM152.8 191.5L160.5 195.1L156.5 199.1zM173.9 191.5L181.6 195.1L177.6 199.1zM195 191.5L202.7 195.1L198.7 199.1zM216.1 191.5L223.8 195.1L219.8 199.1zM237.2 191.5L244.9 195.1L240.9 199.1zM258.3 191.5L266 195.1L262 199.1zM279.4 191.5L287.1 195.1L283.1 199.1zM300.5 191.5L308.2 195.1L304.2 199.1zM321.6 191.5L329.3 195.1L325.3 199.1zM342.7 191.5L350.4 195.1L346.4 199.1zM371.6 191.5L378 197.1L373.1 199.8zM412.3 191.5L410.8 199.8L405.9 197.1zM441.2 191.5L437.5 199.1L433.5 195.1zM462.3 191.5L458.6 199.1L454.6 195.1zM483.4 191.5L479.7 199.1L475.7 195.1zM504.5 191.5L500.8 199.1L496.8 195.1zM525.6 191.5L521.9 199.1L517.9 195.1zM546.7 191.5L543 199.1L539 195.1zM567.8 191.5L564.1 199.1L560.1 195.1zM588.9 191.5L585.2 199.1L581.2 195.1zM610 191.5L606.3 199.1L602.3 195.1zM631.1 191.5L627.4 199.1L623.4 195.1zM652.2 191.5L648.5 199.1L644.5 195.1zM673.3 191.5L669.6 199.1L665.6 195.1zM694.4 191.5L690.7 199.1L686.7 195.1zM715.5 191.5L711.8 199.1L707.8 195.1zM736.6 191.5L732.9 199.1L728.9 195.1zM47.3 212.6L55 216.2L51 220.2zM68.4 212.6L76.1 216.2L72.1 220.2zM89.5 212.6L97.2 216.2L93.2 220.2zM110.6 212.6L118.3 216.2L114.3 220.2zM131.7 212.6L139.4 216.2L135.4 220.2zM152.8 212.6L160.5 216.2L156.5 220.2zM173.9 212.6L181.6 216.2L177.6 220.2zM195 212.6L202.7 216.2L198.7 220.2zM216.1 212.6L223.8 216.2L219.8 220.2zM237.2 212.6L244.9 216.2L240.9 220.2zM258.3 212.6L266 216.2L262 220.2zM279.4 212.6L287.1 216.2L283.1 220.2zM300.5 212.6L308.2 216.2L304.2 220.2zM321.6 212.6L329.3 216.2L325.3 220.2zM342.7 212.6L350.4 216.2L346.4 220.2zM371.6 212.6L378 218.2L373.1 220.9zM412.3 212.6L410.8 220.9L405.9 218.2zM441.2 212.6L437.5 220.2L433.5 216.2zM462.3 212.6L458.6 220.2L454.6 216.2zM483.4 212.6L479.7 220.2L475.7 216.2zM504.5 212.6L500.8 220.2L496.8 216.2zM525.6 212.6L521.9 220.2L517.9 216.2zM546.7 212.6L543 220.2L539 216.2zM567.8 212.6L564.1 220.2L560.1 216.2zM588.9 212.6L585.2 220.2L581.2 216.2zM610 212.6L606.3 220.2L602.3 216.2zM631.1 212.6L627.4 220.2L623.4 216.2zM652.2 212.6L648.5 220.2L644.5 216.2zM673.3 212.6L669.6 220.2L665.6 216.2zM694.4 212.6L690.7 220.2L686.7 216.2zM715.5 212.6L711.8 220.2L707.8 216.2zM736.6 212.6L732.9 220.2L728.9 216.2zM47.3 233.7L55 237.3L51 241.3zM68.4 233.7L76.1 237.3L72.1 241.3zM89.5 233.7L97.2 237.3L93.2 241.3zM110.6 233.7L118.3 237.3L114.3 241.3zM131.7 233.7L139.4 237.3L135.4 241.3zM152.8 233.7L160.5 237.3L156.5 241.3zM173.9 233.7L181.6 237.3L177.6 241.3zM195 233.7L202.7 237.3L198.7 241.3zM216.1 233.7L223.8 237.3L219.8 241.3zM237.2 233.7L244.9 237.3L240.9 241.3zM258.3 233.7L266 237.3L262 241.3zM279.4 233.7L287.1 237.3L283.1 241.3zM300.5 233.7L308.2 237.3L304.2 241.3zM321.6 233.7L329.3 237.3L325.3 241.3zM342.7 233.7L350.4 237.3L346.4 241.3zM371.6 233.7L378 239.3L373.1 242zM412.3 233.7L410.8 242L405.9 239.3zM441.2 233.7L437.5 241.3L433.5 237.3zM462.3 233.7L458.6 241.3L454.6 237.3zM483.4 233.7L479.7 241.3L475.7 237.3zM504.5 233.7L500.8 241.3L496.8 237.3zM525.6 233.7L521.9 241.3L517.9 237.3zM546.7 233.7L543 241.3L539 237.3zM567.8 233.7L564.1 241.3L560.1 237.3zM588.9 233.7L585.2 241.3L581.2 237.3zM610 233.7L606.3 241.3L602.3 237.3zM631.1 233.7L627.4 241.3L623.4 237.3zM652.2 233.7L648.5 241.3L644.5 237.3zM673.3 233.7L669.6 241.3L665.6 237.3zM694.4 233.7L690.7 241.3L686.7 237.3zM715.5 233.7L711.8 241.3L707.8 237.3zM736.6 233.7L732.9 241.3L728.9 237.3zM47.3 254.8L55 258.4L51 262.4zM68.4 254.8L76.1 258.4L72.1 262.4zM89.5 254.8L97.2 258.4L93.2 262.4zM110.6 254.8L118.3 258.4L114.3 262.4zM131.7 254.8L139.4 258.4L135.4 262.4zM152.8 254.8L160.5 258.4L156.5 262.4zM173.9 254.8L181.6 258.4L177.6 262.4zM195 254.8L202.7 258.4L198.7 262.4zM216.1 254.8L223.8 258.4L219.8 262.4zM237.2 254.8L244.9 258.4L240.9 262.4zM258.3 254.8L266 258.4L262 262.4zM279.4 254.8L287.1 258.4L283.1 262.4zM300.5 254.8L308.2 258.4L304.2 262.4zM321.6 254.8L329.3 258.4L325.3 262.4zM342.7 254.8L350.4 258.4L346.4 262.4zM371.6 254.8L378 260.4L373.1 263.1zM412.3 254.8L410.8 263.1L405.9 260.4zM441.2 254.8L437.5 262.4L433.5 258.4zM462.3 254.8L458.6 262.4L454.6 258.4zM483.4 254.8L479.7 262.4L475.7 258.4zM504.5 254.8L500.8 262.4L496.8 258.4zM525.6 254.8L521.9 262.4L517.9 258.4zM546.7 254.8L543 262.4L539 258.4zM567.8 254.8L564.1 262.4L560.1 258.4zM588.9 254.8L585.2 262.4L581.2 258.4zM610 254.8L606.3 262.4L602.3 258.4zM631.1 254.8L627.4 262.4L623.4 258.4zM652.2 254.8L648.5 262.4L644.5 258.4zM673.3 254.8L669.6 262.4L665.6 258.4zM694.4 254.8L690.7 262.4L686.7 258.4zM715.5 254.8L711.8 262.4L707.8 258.4zM736.6 254.8L732.9 262.4L728.9 258.4zM47.3 275.9L55 279.5L51 283.5zM68.4 275.9L76.1 279.5L72.1 283.5zM89.5 275.9L97.2 279.5L93.2 283.5zM110.6 275.9L118.3 279.5L114.3 283.5zM131.7 275.9L139.4 279.5L135.4 283.5zM152.8 275.9L160.5 279.5L156.5 283.5zM173.9 275.9L181.6 279.5L177.6 283.5zM195 275.9L202.7 279.5L198.7 283.5zM216.1 275.9L223.8 279.5L219.8 283.5zM237.2 275.9L244.9 279.5L240.9 283.5zM258.3 275.9L266 279.5L262 283.5zM279.4 275.9L287.1 279.5L283.1 283.5zM300.5 275.9L308.2 279.5L304.2 283.5zM321.6 275.9L329.3 279.5L325.3 283.5zM342.7 275.9L350.4 279.5L346.4 283.5zM371.6 275.9L378 281.5L373.1 284.2zM412.3 275.9L410.8 284.2L405.9 281.5zM441.2 275.9L437.5 283.5L433.5 279.5zM462.3 275.9L458.6 283.5L454.6 279.5zM483.4 275.9L479.7 283.5L475.7 279.5zM504.5 275.9L500.8 283.5L496.8 279.5zM525.6 275.9L521.9 283.5L517.9 279.5zM546.7 275.9L543 283.5L539 279.5zM567.8 275.9L564.1 283.5L560.1 279.5zM588.9 275.9L585.2 283.5L581.2 279.5zM610 275.9L606.3 283.5L602.3 279.5zM631.1 275.9L627.4 283.5L623.4 279.5zM652.2 275.9L648.5 283.5L644.5 279.5zM673.3 275.9L669.6 283.5L665.6 279.5zM694.4 275.9L690.7 283.5L686.7 279.5zM715.5 275.9L711.8 283.5L707.8 279.5zM736.6 275.9L732.9 283.5L728.9 279.5zM47.3 297L55 300.6L51 304.6zM68.4 297L76.1 300.6L72.1 304.6zM89.5 297L97.2 300.6L93.2 304.6zM110.6 297L118.3 300.6L114.3 304.6zM131.7 297L139.4 300.6L135.4 304.6zM152.8 297L160.5 300.6L156.5 304.6zM173.9 297L181.6 300.6L177.6 304.6zM195 297L202.7 300.6L198.7 304.6zM216.1 297L223.8 300.6L219.8 304.6zM237.2 297L244.9 300.6L240.9 304.6zM258.3 297L266 300.6L262 304.6zM279.4 297L287.1 300.6L283.1 304.6zM300.5 297L308.2 300.6L304.2 304.6zM321.6 297L329.3 300.6L325.3 304.6zM342.7 297L350.4 300.6L346.4 304.6zM371.6 297L378 302.6L373.1 305.3zM412.3 297L410.8 305.3L405.9 302.6zM441.2 297L437.5 304.6L433.5 300.6zM462.3 297L458.6 304.6L454.6 300.6zM483.4 297L479.7 304.6L475.7 300.6zM504.5 297L500.8 304.6L496.8 300.6zM525.6 297L521.9 304.6L517.9 300.6zM546.7 297L543 304.6L539 300.6zM567.8 297L564.1 304.6L560.1 300.6zM588.9 297L585.2 304.6L581.2 300.6zM610 297L606.3 304.6L602.3 300.6zM631.1 297L627.4 304.6L623.4 300.6zM652.2 297L648.5 304.6L644.5 300.6zM673.3 297L669.6 304.6L665.6 300.6zM694.4 297L690.7 304.6L686.7 300.6zM715.5 297L711.8 304.6L707.8 300.6zM736.6 297L732.9 304.6L728.9 300.6zM47.3 318.1L55 321.7L51 325.7zM68.4 318.1L76.1 321.7L72.1 325.7zM89.5 318.1L97.2 321.7L93.2 325.7zM110.6 318.1L118.3 321.7L114.3 325.7zM131.7 318.1L139.4 321.7L135.4 325.7zM152.8 318.1L160.5 321.7L156.5 325.7zM173.9 318.1L181.6 321.7L177.6 325.7zM195 318.1L202.7 321.7L198.7 325.7zM216.1 318.1L223.8 321.7L219.8 325.7zM237.2 318.1L244.9 321.7L240.9 325.7zM258.3 318.1L266 321.7L262 325.7zM279.4 318.1L287.1 321.7L283.1 325.7zM300.5 318.1L308.2 321.7L304.2 325.7zM321.6 318.1L329.3 321.7L325.3 325.7zM342.7 318.1L350.4 321.7L346.4 325.7zM371.6 318.1L378 323.7L373.1 326.4zM412.3 318.1L410.8 326.4L405.9 323.7zM441.2 318.1L437.5 325.7L433.5 321.7zM462.3 318.1L458.6 325.7L454.6 321.7zM483.4 318.1L479.7 325.7L475.7 321.7zM504.5 318.1L500.8 325.7L496.8 321.7zM525.6 318.1L521.9 325.7L517.9 321.7zM546.7 318.1L543 325.7L539 321.7zM567.8 318.1L564.1 325.7L560.1 321.7zM588.9 318.1L585.2 325.7L581.2 321.7zM610 318.1L606.3 325.7L602.3 321.7zM631.1 318.1L627.4 325.7L623.4 321.7zM652.2 318.1L648.5 325.7L644.5 321.7zM673.3 318.1L669.6 325.7L665.6 321.7zM694.4 318.1L690.7 325.7L686.7 321.7zM715.5 318.1L711.8 325.7L707.8 321.7zM736.6 318.1L732.9 325.7L728.9 321.7zM47.3 348.4L55.7 349.2L53.4 354.3zM68.4 348.4L76.8 349.2L74.5 354.3zM89.5 348.4L97.9 349.2L95.6 354.3zM110.6 348.4L119 349.2L116.7 354.3zM131.7 348.4L140.1 349.2L137.8 354.3zM152.8 348.4L161.2 349.2L158.9 354.3zM173.9 348.4L182.3 349.2L180 354.3zM195 348.4L203.4 349.2L201.1 354.3zM216.1 348.4L224.5 349.2L222.2 354.3zM237.2 348.4L245.6 349.2L243.3 354.3zM258.3 348.4L266.7 349.2L264.4 354.3zM279.4 348.4L287.8 349.2L285.5 354.3zM300.5 348.4L308.9 349.2L306.6 354.3zM321.6 348.4L330 349.2L327.7 354.3zM342.7 348.4L351.1 349.2L348.8 354.3zM371.6 348.4L377.8 349.9L374.2 354.2zM412.3 348.4L409.7 354.2L406.1 349.9zM441.2 348.4L435.1 354.3L432.8 349.2zM462.3 348.4L456.2 354.3L453.9 349.2zM483.4 348.4L477.3 354.3L475 349.2zM504.5 348.4L498.4 354.3L496.1 349.2zM525.6 348.4L519.5 354.3L517.2 349.2zM546.7 348.4L540.6 354.3L538.3 349.2zM567.8 348.4L561.7 354.3L559.4 349.2zM588.9 348.4L582.8 354.3L580.5 349.2zM610 348.4L603.9 354.3L601.6 349.2zM631.1 348.4L625 354.3L622.7 349.2zM652.2 348.4L646.1 354.3L643.8 349.2zM673.3 348.4L667.2 354.3L664.9 349.2zM694.4 348.4L688.3 354.3L686 349.2zM715.5 348.4L709.4 354.3L707.1 349.2zM736.6 348.4L730.5 354.3L728.2 349.2zM47.3 385.9L53.4 380L55.7 385.1zM68.4 385.9L74.5 380L76.8 385.1zM89.5 385.9L95.6 380L97.9 385.1zM110.6 385.9L116.7 380L119 385.1zM131.7 385.9L137.8 380L140.1 385.1zM152.8 385.9L158.9 380L161.2 385.1zM173.9 385.9L180 380L182.3 385.1zM195 385.9L201.1 380L203.4 385.1zM216.1 385.9L222.2 380L224.5 385.1zM237.2 385.9L243.3 380L245.6 385.1zM258.3 385.9L264.4 380L266.7 385.1zM279.4 385.9L285.5 380L287.8 385.1zM300.5 385.9L306.6 380L308.9 385.1zM321.6 385.9L327.7 380L330 385.1zM342.7 385.9L348.8 380L351.1 385.1zM371.6 385.9L374.2 380.1L377.8 384.4zM412.3 385.9L406.1 384.4L409.7 380.1zM441.2 385.9L432.8 385.1L435.1 380zM462.3 385.9L453.9 385.1L456.2 380zM483.4 385.9L475 385.1L477.3 380zM504.5 385.9L496.1 385.1L498.4 380zM525.6 385.9L517.2 385.1L519.5 380zM546.7 385.9L538.3 385.1L540.6 380zM567.8 385.9L559.4 385.1L561.7 380zM588.9 385.9L580.5 385.1L582.8 380zM610 385.9L601.6 385.1L603.9 380zM631.1 385.9L622.7 385.1L625 380zM652.2 385.9L643.8 385.1L646.1 380zM673.3 385.9L664.9 385.1L667.2 380zM694.4 385.9L686 385.1L688.3 380zM715.5 385.9L707.1 385.1L709.4 380zM736.6 385.9L728.2 385.1L730.5 380zM47.3 416.2L51 408.6L55 412.6zM68.4 416.2L72.1 408.6L76.1 412.6zM89.5 416.2L93.2 408.6L97.2 412.6zM110.6 416.2L114.3 408.6L118.3 412.6zM131.7 416.2L135.4 408.6L139.4 412.6zM152.8 416.2L156.5 408.6L160.5 412.6zM173.9 416.2L177.6 408.6L181.6 412.6zM195 416.2L198.7 408.6L202.7 412.6zM216.1 416.2L219.8 408.6L223.8 412.6zM237.2 416.2L240.9 408.6L244.9 412.6zM258.3 416.2L262 408.6L266 412.6zM279.4 416.2L283.1 408.6L287.1 412.6zM300.5 416.2L304.2 408.6L308.2 412.6zM321.6 416.2L325.3 408.6L329.3 412.6zM342.7 416.2L346.4 408.6L350.4 412.6zM371.6 416.2L373.1 407.9L378 410.6zM412.3 416.2L405.9 410.6L410.8 407.9zM441.2 416.2L433.5 412.6L437.5 408.6zM462.3 416.2L454.6 412.6L458.6 408.6zM483.4 416.2L475.7 412.6L479.7 408.6zM504.5 416.2L496.8 412.6L500.8 408.6zM525.6 416.2L517.9 412.6L521.9 408.6zM546.7 416.2L539 412.6L543 408.6zM567.8 416.2L560.1 412.6L564.1 408.6zM588.9 416.2L581.2 412.6L585.2 408.6zM610 416.2L602.3 412.6L606.3 408.6zM631.1 416.2L623.4 412.6L627.4 408.6zM652.2 416.2L644.5 412.6L648.5 408.6zM673.3 416.2L665.6 412.6L669.6 408.6zM694.4 416.2L686.7 412.6L690.7 408.6zM715.5 416.2L707.8 412.6L711.8 408.6zM736.6 416.2L728.9 412.6L732.9 408.6zM47.3 437.3L51 429.7L55 433.7zM68.4 437.3L72.1 429.7L76.1 433.7zM89.5 437.3L93.2 429.7L97.2 433.7zM110.6 437.3L114.3 429.7L118.3 433.7zM131.7 437.3L135.4 429.7L139.4 433.7zM152.8 437.3L156.5 429.7L160.5 433.7zM173.9 437.3L177.6 429.7L181.6 433.7zM195 437.3L198.7 429.7L202.7 433.7zM216.1 437.3L219.8 429.7L223.8 433.7zM237.2 437.3L240.9 429.7L244.9 433.7zM258.3 437.3L262 429.7L266 433.7zM279.4 437.3L283.1 429.7L287.1 433.7zM300.5 437.3L304.2 429.7L308.2 433.7zM321.6 437.3L325.3 429.7L329.3 433.7zM342.7 437.3L346.4 429.7L350.4 433.7zM371.6 437.3L373.1 429L378 431.7zM412.3 437.3L405.9 431.7L410.8 429zM441.2 437.3L433.5 433.7L437.5 429.7zM462.3 437.3L454.6 433.7L458.6 429.7zM483.4 437.3L475.7 433.7L479.7 429.7zM504.5 437.3L496.8 433.7L500.8 429.7zM525.6 437.3L517.9 433.7L521.9 429.7zM546.7 437.3L539 433.7L543 429.7zM567.8 437.3L560.1 433.7L564.1 429.7zM588.9 437.3L581.2 433.7L585.2 429.7zM610 437.3L602.3 433.7L606.3 429.7zM631.1 437.3L623.4 433.7L627.4 429.7zM652.2 437.3L644.5 433.7L648.5 429.7zM673.3 437.3L665.6 433.7L669.6 429.7zM694.4 437.3L686.7 433.7L690.7 429.7zM715.5 437.3L707.8 433.7L711.8 429.7zM736.6 437.3L728.9 433.7L732.9 429.7zM47.3 458.4L51 450.8L55 454.8zM68.4 458.4L72.1 450.8L76.1 454.8zM89.5 458.4L93.2 450.8L97.2 454.8zM110.6 458.4L114.3 450.8L118.3 454.8zM131.7 458.4L135.4 450.8L139.4 454.8zM152.8 458.4L156.5 450.8L160.5 454.8zM173.9 458.4L177.6 450.8L181.6 454.8zM195 458.4L198.7 450.8L202.7 454.8zM216.1 458.4L219.8 450.8L223.8 454.8zM237.2 458.4L240.9 450.8L244.9 454.8zM258.3 458.4L262 450.8L266 454.8zM279.4 458.4L283.1 450.8L287.1 454.8zM300.5 458.4L304.2 450.8L308.2 454.8zM321.6 458.4L325.3 450.8L329.3 454.8zM342.7 458.4L346.4 450.8L350.4 454.8zM371.6 458.4L373.1 450.1L378 452.8zM412.3 458.4L405.9 452.8L410.8 450.1zM441.2 458.4L433.5 454.8L437.5 450.8zM462.3 458.4L454.6 454.8L458.6 450.8zM483.4 458.4L475.7 454.8L479.7 450.8zM504.5 458.4L496.8 454.8L500.8 450.8zM525.6 458.4L517.9 454.8L521.9 450.8zM546.7 458.4L539 454.8L543 450.8zM567.8 458.4L560.1 454.8L564.1 450.8zM588.9 458.4L581.2 454.8L585.2 450.8zM610 458.4L602.3 454.8L606.3 450.8zM631.1 458.4L623.4 454.8L627.4 450.8zM652.2 458.4L644.5 454.8L648.5 450.8zM673.3 458.4L665.6 454.8L669.6 450.8zM694.4 458.4L686.7 454.8L690.7 450.8zM715.5 458.4L707.8 454.8L711.8 450.8zM736.6 458.4L728.9 454.8L732.9 450.8zM47.3 479.5L51 471.9L55 475.9zM68.4 479.5L72.1 471.9L76.1 475.9zM89.5 479.5L93.2 471.9L97.2 475.9zM110.6 479.5L114.3 471.9L118.3 475.9zM131.7 479.5L135.4 471.9L139.4 475.9zM152.8 479.5L156.5 471.9L160.5 475.9zM173.9 479.5L177.6 471.9L181.6 475.9zM195 479.5L198.7 471.9L202.7 475.9zM216.1 479.5L219.8 471.9L223.8 475.9zM237.2 479.5L240.9 471.9L244.9 475.9zM258.3 479.5L262 471.9L266 475.9zM279.4 479.5L283.1 471.9L287.1 475.9zM300.5 479.5L304.2 471.9L308.2 475.9zM321.6 479.5L325.3 471.9L329.3 475.9zM342.7 479.5L346.4 471.9L350.4 475.9zM371.6 479.5L373.1 471.2L378 473.9zM412.3 479.5L405.9 473.9L410.8 471.2zM441.2 479.5L433.5 475.9L437.5 471.9zM462.3 479.5L454.6 475.9L458.6 471.9zM483.4 479.5L475.7 475.9L479.7 471.9zM504.5 479.5L496.8 475.9L500.8 471.9zM525.6 479.5L517.9 475.9L521.9 471.9zM546.7 479.5L539 475.9L543 471.9zM567.8 479.5L560.1 475.9L564.1 471.9zM588.9 479.5L581.2 475.9L585.2 471.9zM610 479.5L602.3 475.9L606.3 471.9zM631.1 479.5L623.4 475.9L627.4 471.9zM652.2 479.5L644.5 475.9L648.5 471.9zM673.3 479.5L665.6 475.9L669.6 471.9zM694.4 479.5L686.7 475.9L690.7 471.9zM715.5 479.5L707.8 475.9L711.8 471.9zM736.6 479.5L728.9 475.9L732.9 471.9zM47.3 500.6L51 493L55 497zM68.4 500.6L72.1 493L76.1 497zM89.5 500.6L93.2 493L97.2 497zM110.6 500.6L114.3 493L118.3 497zM131.7 500.6L135.4 493L139.4 497zM152.8 500.6L156.5 493L160.5 497zM173.9 500.6L177.6 493L181.6 497zM195 500.6L198.7 493L202.7 497zM216.1 500.6L219.8 493L223.8 497zM237.2 500.6L240.9 493L244.9 497zM258.3 500.6L262 493L266 497zM279.4 500.6L283.1 493L287.1 497zM300.5 500.6L304.2 493L308.2 497zM321.6 500.6L325.3 493L329.3 497zM342.7 500.6L346.4 493L350.4 497zM371.6 500.6L373.1 492.3L378 495zM412.3 500.6L405.9 495L410.8 492.3zM441.2 500.6L433.5 497L437.5 493zM462.3 500.6L454.6 497L458.6 493zM483.4 500.6L475.7 497L479.7 493zM504.5 500.6L496.8 497L500.8 493zM525.6 500.6L517.9 497L521.9 493zM546.7 500.6L539 497L543 493zM567.8 500.6L560.1 497L564.1 493zM588.9 500.6L581.2 497L585.2 493zM610 500.6L602.3 497L606.3 493zM631.1 500.6L623.4 497L627.4 493zM652.2 500.6L644.5 497L648.5 493zM673.3 500.6L665.6 497L669.6 493zM694.4 500.6L686.7 497L690.7 493zM715.5 500.6L707.8 497L711.8 493zM736.6 500.6L728.9 497L732.9 493zM47.3 521.7L51 514.1L55 518.1zM68.4 521.7L72.1 514.1L76.1 518.1zM89.5 521.7L93.2 514.1L97.2 518.1zM110.6 521.7L114.3 514.1L118.3 518.1zM131.7 521.7L135.4 514.1L139.4 518.1zM152.8 521.7L156.5 514.1L160.5 518.1zM173.9 521.7L177.6 514.1L181.6 518.1zM195 521.7L198.7 514.1L202.7 518.1zM216.1 521.7L219.8 514.1L223.8 518.1zM237.2 521.7L240.9 514.1L244.9 518.1zM258.3 521.7L262 514.1L266 518.1zM279.4 521.7L283.1 514.1L287.1 518.1zM300.5 521.7L304.2 514.1L308.2 518.1zM321.6 521.7L325.3 514.1L329.3 518.1zM342.7 521.7L346.4 514.1L350.4 518.1zM371.6 521.7L373.1 513.4L378 516.1zM412.3 521.7L405.9 516.1L410.8 513.4zM441.2 521.7L433.5 518.1L437.5 514.1zM462.3 521.7L454.6 518.1L458.6 514.1zM483.4 521.7L475.7 518.1L479.7 514.1zM504.5 521.7L496.8 518.1L500.8 514.1zM525.6 521.7L517.9 518.1L521.9 514.1zM546.7 521.7L539 518.1L543 514.1zM567.8 521.7L560.1 518.1L564.1 514.1zM588.9 521.7L581.2 518.1L585.2 514.1zM610 521.7L602.3 518.1L606.3 514.1zM631.1 521.7L623.4 518.1L627.4 514.1zM652.2 521.7L644.5 518.1L648.5 514.1zM673.3 521.7L665.6 518.1L669.6 514.1zM694.4 521.7L686.7 518.1L690.7 514.1zM715.5 521.7L707.8 518.1L711.8 514.1zM736.6 521.7L728.9 518.1L732.9 514.1zM47.3 542.8L51 535.2L55 539.2zM68.4 542.8L72.1 535.2L76.1 539.2zM89.5 542.8L93.2 535.2L97.2 539.2zM110.6 542.8L114.3 535.2L118.3 539.2zM131.7 542.8L135.4 535.2L139.4 539.2zM152.8 542.8L156.5 535.2L160.5 539.2zM173.9 542.8L177.6 535.2L181.6 539.2zM195 542.8L198.7 535.2L202.7 539.2zM216.1 542.8L219.8 535.2L223.8 539.2zM237.2 542.8L240.9 535.2L244.9 539.2zM258.3 542.8L262 535.2L266 539.2zM279.4 542.8L283.1 535.2L287.1 539.2zM300.5 542.8L304.2 535.2L308.2 539.2zM321.6 542.8L325.3 535.2L329.3 539.2zM342.7 542.8L346.4 535.2L350.4 539.2zM371.6 542.8L373.1 534.5L378 537.2zM412.3 542.8L405.9 537.2L410.8 534.5zM441.2 542.8L433.5 539.2L437.5 535.2zM462.3 542.8L454.6 539.2L458.6 535.2zM483.4 542.8L475.7 539.2L479.7 535.2zM504.5 542.8L496.8 539.2L500.8 535.2zM525.6 542.8L517.9 539.2L521.9 535.2zM546.7 542.8L539 539.2L543 535.2zM567.8 542.8L560.1 539.2L564.1 535.2zM588.9 542.8L581.2 539.2L585.2 535.2zM610 542.8L602.3 539.2L606.3 535.2zM631.1 542.8L623.4 539.2L627.4 535.2zM652.2 542.8L644.5 539.2L648.5 535.2zM673.3 542.8L665.6 539.2L669.6 535.2zM694.4 542.8L686.7 539.2L690.7 535.2zM715.5 542.8L707.8 539.2L711.8 535.2zM736.6 542.8L728.9 539.2L732.9 535.2zM47.3 563.9L51 556.3L55 560.3zM68.4 563.9L72.1 556.3L76.1 560.3zM89.5 563.9L93.2 556.3L97.2 560.3zM110.6 563.9L114.3 556.3L118.3 560.3zM131.7 563.9L135.4 556.3L139.4 560.3zM152.8 563.9L156.5 556.3L160.5 560.3zM173.9 563.9L177.6 556.3L181.6 560.3zM195 563.9L198.7 556.3L202.7 560.3zM216.1 563.9L219.8 556.3L223.8 560.3zM237.2 563.9L240.9 556.3L244.9 560.3zM258.3 563.9L262 556.3L266 560.3zM279.4 563.9L283.1 556.3L287.1 560.3zM300.5 563.9L304.2 556.3L308.2 560.3zM321.6 563.9L325.3 556.3L329.3 560.3zM342.7 563.9L346.4 556.3L350.4 560.3zM371.6 563.9L373.1 555.6L378 558.3zM412.3 563.9L405.9 558.3L410.8 555.6zM441.2 563.9L433.5 560.3L437.5 556.3zM462.3 563.9L454.6 560.3L458.6 556.3zM483.4 563.9L475.7 560.3L479.7 556.3zM504.5 563.9L496.8 560.3L500.8 556.3zM525.6 563.9L517.9 560.3L521.9 556.3zM546.7 563.9L539 560.3L543 556.3zM567.8 563.9L560.1 560.3L564.1 556.3zM588.9 563.9L581.2 560.3L585.2 556.3zM610 563.9L602.3 560.3L606.3 556.3zM631.1 563.9L623.4 560.3L627.4 556.3zM652.2 563.9L644.5 560.3L648.5 556.3zM673.3 563.9L665.6 560.3L669.6 556.3zM694.4 563.9L686.7 560.3L690.7 556.3zM715.5 563.9L707.8 560.3L711.8 556.3zM736.6 563.9L728.9 560.3L732.9 556.3zM47.3 585L51 577.4L55 581.4zM68.4 585L72.1 577.4L76.1 581.4zM89.5 585L93.2 577.4L97.2 581.4zM110.6 585L114.3 577.4L118.3 581.4zM131.7 585L135.4 577.4L139.4 581.4zM152.8 585L156.5 577.4L160.5 581.4zM173.9 585L177.6 577.4L181.6 581.4zM195 585L198.7 577.4L202.7 581.4zM216.1 585L219.8 577.4L223.8 581.4zM237.2 585L240.9 577.4L244.9 581.4zM258.3 585L262 577.4L266 581.4zM279.4 585L283.1 577.4L287.1 581.4zM300.5 585L304.2 577.4L308.2 581.4zM321.6 585L325.3 577.4L329.3 581.4zM342.7 585L346.4 577.4L350.4 581.4zM371.6 585L373.1 576.7L378 579.4zM412.3 585L405.9 579.4L410.8 576.7zM441.2 585L433.5 581.4L437.5 577.4zM462.3 585L454.6 581.4L458.6 577.4zM483.4 585L475.7 581.4L479.7 577.4zM504.5 585L496.8 581.4L500.8 577.4zM525.6 585L517.9 581.4L521.9 577.4zM546.7 585L539 581.4L543 577.4zM567.8 585L560.1 581.4L564.1 577.4zM588.9 585L581.2 581.4L585.2 577.4zM610 585L602.3 581.4L606.3 577.4zM631.1 585L623.4 581.4L627.4 577.4zM652.2 585L644.5 581.4L648.5 577.4zM673.3 585L665.6 581.4L669.6 577.4zM694.4 585L686.7 581.4L690.7 577.4zM715.5 585L707.8 581.4L711.8 577.4zM736.6 585L728.9 581.4L732.9 577.4zM47.3 606.1L51 598.5L55 602.5zM68.4 606.1L72.1 598.5L76.1 602.5zM89.5 606.1L93.2 598.5L97.2 602.5zM110.6 606.1L114.3 598.5L118.3 602.5zM131.7 606.1L135.4 598.5L139.4 602.5zM152.8 606.1L156.5 598.5L160.5 602.5zM173.9 606.1L177.6 598.5L181.6 602.5zM195 606.1L198.7 598.5L202.7 602.5zM216.1 606.1L219.8 598.5L223.8 602.5zM237.2 606.1L240.9 598.5L244.9 602.5zM258.3 606.1L262 598.5L266 602.5zM279.4 606.1L283.1 598.5L287.1 602.5zM300.5 606.1L304.2 598.5L308.2 602.5zM321.6 606.1L325.3 598.5L329.3 602.5zM342.7 606.1L346.4 598.5L350.4 602.5zM371.6 606.1L373.1 597.8L378 600.5zM412.3 606.1L405.9 600.5L410.8 597.8zM441.2 606.1L433.5 602.5L437.5 598.5zM462.3 606.1L454.6 602.5L458.6 598.5zM483.4 606.1L475.7 602.5L479.7 598.5zM504.5 606.1L496.8 602.5L500.8 598.5zM525.6 606.1L517.9 602.5L521.9 598.5zM546.7 606.1L539 602.5L543 598.5zM567.8 606.1L560.1 602.5L564.1 598.5zM588.9 606.1L581.2 602.5L585.2 598.5zM610 606.1L602.3 602.5L606.3 598.5zM631.1 606.1L623.4 602.5L627.4 598.5zM652.2 606.1L644.5 602.5L648.5 598.5zM673.3 606.1L665.6 602.5L669.6 598.5zM694.4 606.1L686.7 602.5L690.7 598.5zM715.5 606.1L707.8 602.5L711.8 598.5zM736.6 606.1L728.9 602.5L732.9 598.5zM47.3 627.2L51 619.6L55 623.6zM68.4 627.2L72.1 619.6L76.1 623.6zM89.5 627.2L93.2 619.6L97.2 623.6zM110.6 627.2L114.3 619.6L118.3 623.6zM131.7 627.2L135.4 619.6L139.4 623.6zM152.8 627.2L156.5 619.6L160.5 623.6zM173.9 627.2L177.6 619.6L181.6 623.6zM195 627.2L198.7 619.6L202.7 623.6zM216.1 627.2L219.8 619.6L223.8 623.6zM237.2 627.2L240.9 619.6L244.9 623.6zM258.3 627.2L262 619.6L266 623.6zM279.4 627.2L283.1 619.6L287.1 623.6zM300.5 627.2L304.2 619.6L308.2 623.6zM321.6 627.2L325.3 619.6L329.3 623.6zM342.7 627.2L346.4 619.6L350.4 623.6zM371.6 627.2L373.1 618.9L378 621.6zM412.3 627.2L405.9 621.6L410.8 618.9zM441.2 627.2L433.5 623.6L437.5 619.6zM462.3 627.2L454.6 623.6L458.6 619.6zM483.4 627.2L475.7 623.6L479.7 619.6zM504.5 627.2L496.8 623.6L500.8 619.6zM525.6 627.2L517.9 623.6L521.9 619.6zM546.7 627.2L539 623.6L543 619.6zM567.8 627.2L560.1 623.6L564.1 619.6zM588.9 627.2L581.2 623.6L585.2 619.6zM610 627.2L602.3 623.6L606.3 619.6zM631.1 627.2L623.4 623.6L627.4 619.6zM652.2 627.2L644.5 623.6L648.5 619.6zM673.3 627.2L665.6 623.6L669.6 619.6zM694.4 627.2L686.7 623.6L690.7 619.6zM715.5 627.2L707.8 623.6L711.8 619.6zM736.6 627.2L728.9 623.6L732.9 619.6zM47.3 648.3L51 640.7L55 644.7zM68.4 648.3L72.1 640.7L76.1 644.7zM89.5 648.3L93.2 640.7L97.2 644.7zM110.6 648.3L114.3 640.7L118.3 644.7zM131.7 648.3L135.4 640.7L139.4 644.7zM152.8 648.3L156.5 640.7L160.5 644.7zM173.9 648.3L177.6 640.7L181.6 644.7zM195 648.3L198.7 640.7L202.7 644.7zM216.1 648.3L219.8 640.7L223.8 644.7zM237.2 648.3L240.9 640.7L244.9 644.7zM258.3 648.3L262 640.7L266 644.7zM279.4 648.3L283.1 640.7L287.1 644.7zM300.5 648.3L304.2 640.7L308.2 644.7zM321.6 648.3L325.3 640.7L329.3 644.7zM342.7 648.3L346.4 640.7L350.4 644.7zM371.6 648.3L373.1 640L378 642.7zM412.3 648.3L405.9 642.7L410.8 640zM441.2 648.3L433.5 644.7L437.5 640.7zM462.3 648.3L454.6 644.7L458.6 640.7zM483.4 648.3L475.7 644.7L479.7 640.7zM504.5 648.3L496.8 644.7L500.8 640.7zM525.6 648.3L517.9 644.7L521.9 640.7zM546.7 648.3L539 644.7L543 640.7zM567.8 648.3L560.1 644.7L564.1 640.7zM588.9 648.3L581.2 644.7L585.2 640.7zM610 648.3L602.3 644.7L606.3 640.7zM631.1 648.3L623.4 644.7L627.4 640.7zM652.2 648.3L644.5 644.7L648.5 640.7zM673.3 648.3L665.6 644.7L669.6 640.7zM694.4 648.3L686.7 644.7L690.7 640.7zM715.5 648.3L707.8 644.7L711.8 640.7zM736.6 648.3L728.9 644.7L732.9 640.7zM47.3 669.4L51 661.8L55 665.8zM68.4 669.4L72.1 661.8L76.1 665.8zM89.5 669.4L93.2 661.8L97.2 665.8zM110.6 669.4L114.3 661.8L118.3 665.8zM131.7 669.4L135.4 661.8L139.4 665.8zM152.8 669.4L156.5 661.8L160.5 665.8zM173.9 669.4L177.6 661.8L181.6 665.8zM195 669.4L198.7 661.8L202.7 665.8zM216.1 669.4L219.8 661.8L223.8 665.8zM237.2 669.4L240.9 661.8L244.9 665.8zM258.3 669.4L262 661.8L266 665.8zM279.4 669.4L283.1 661.8L287.1 665.8zM300.5 669.4L304.2 661.8L308.2 665.8zM321.6 669.4L325.3 661.8L329.3 665.8zM342.7 669.4L346.4 661.8L350.4 665.8zM371.6 669.4L373.1 661.1L378 663.8zM412.3 669.4L405.9 663.8L410.8 661.1zM441.2 669.4L433.5 665.8L437.5 661.8zM462.3 669.4L454.6 665.8L458.6 661.8zM483.4 669.4L475.7 665.8L479.7 661.8zM504.5 669.4L496.8 665.8L500.8 661.8zM525.6 669.4L517.9 665.8L521.9 661.8zM546.7 669.4L539 665.8L543 661.8zM567.8 669.4L560.1 665.8L564.1 661.8zM588.9 669.4L581.2 665.8L585.2 661.8zM610 669.4L602.3 665.8L606.3 661.8zM631.1 669.4L623.4 665.8L627.4 661.8zM652.2 669.4L644.5 665.8L648.5 661.8zM673.3 669.4L665.6 665.8L669.6 661.8zM694.4 669.4L686.7 665.8L690.7 661.8zM715.5 669.4L707.8 665.8L711.8 661.8zM736.6 669.4L728.9 665.8L732.9 661.8zM47.3 690.5L51 682.9L55 686.9zM68.4 690.5L72.1 682.9L76.1 686.9zM89.5 690.5L93.2 682.9L97.2 686.9zM110.6 690.5L114.3 682.9L118.3 686.9zM131.7 690.5L135.4 682.9L139.4 686.9zM152.8 690.5L156.5 682.9L160.5 686.9zM173.9 690.5L177.6 682.9L181.6 686.9zM195 690.5L198.7 682.9L202.7 686.9zM216.1 690.5L219.8 682.9L223.8 686.9zM237.2 690.5L240.9 682.9L244.9 686.9zM258.3 690.5L262 682.9L266 686.9zM279.4 690.5L283.1 682.9L287.1 686.9zM300.5 690.5L304.2 682.9L308.2 686.9zM321.6 690.5L325.3 682.9L329.3 686.9zM342.7 690.5L346.4 682.9L350.4 686.9zM371.6 690.5L373.1 682.2L378 684.9zM412.3 690.5L405.9 684.9L410.8 682.2zM441.2 690.5L433.5 686.9L437.5 682.9zM462.3 690.5L454.6 686.9L458.6 682.9zM483.4 690.5L475.7 686.9L479.7 682.9zM504.5 690.5L496.8 686.9L500.8 682.9zM525.6 690.5L517.9 686.9L521.9 682.9zM546.7 690.5L539 686.9L543 682.9zM567.8 690.5L560.1 686.9L564.1 682.9zM588.9 690.5L581.2 686.9L585.2 682.9zM610 690.5L602.3 686.9L606.3 682.9zM631.1 690.5L623.4 686.9L627.4 682.9zM652.2 690.5L644.5 686.9L648.5 682.9zM673.3 690.5L665.6 686.9L669.6 682.9zM694.4 690.5L686.7 686.9L690.7 682.9zM715.5 690.5L707.8 686.9L711.8 682.9zM736.6 690.5L728.9 686.9L732.9 682.9zM47.3 711.6L51 704L55 708zM68.4 711.6L72.1 704L76.1 708zM89.5 711.6L93.2 704L97.2 708zM110.6 711.6L114.3 704L118.3 708zM131.7 711.6L135.4 704L139.4 708zM152.8 711.6L156.5 704L160.5 708zM173.9 711.6L177.6 704L181.6 708zM195 711.6L198.7 704L202.7 708zM216.1 711.6L219.8 704L223.8 708zM237.2 711.6L240.9 704L244.9 708zM258.3 711.6L262 704L266 708zM279.4 711.6L283.1 704L287.1 708zM300.5 711.6L304.2 704L308.2 708zM321.6 711.6L325.3 704L329.3 708zM342.7 711.6L346.4 704L350.4 708zM371.6 711.6L373.1 703.3L378 706zM412.3 711.6L405.9 706L410.8 703.3zM441.2 711.6L433.5 708L437.5 704zM462.3 711.6L454.6 708L458.6 704zM483.4 711.6L475.7 708L479.7 704zM504.5 711.6L496.8 708L500.8 704zM525.6 711.6L517.9 708L521.9 704zM546.7 711.6L539 708L543 704zM567.8 711.6L560.1 708L564.1 704zM588.9 711.6L581.2 708L585.2 704zM610 711.6L602.3 708L606.3 704zM631.1 711.6L623.4 708L627.4 704zM652.2 711.6L644.5 708L648.5 704zM673.3 711.6L665.6 708L669.6 704zM694.4 711.6L686.7 708L690.7 704zM715.5 711.6L707.8 708L711.8 704zM736.6 711.6L728.9 708L732.9 704z" fill="#061428"/><rect x="45.3" y="19.6" width="694.5" height="695" fill="none" stroke="#1a1a2a" stroke-width="1"/></g><g id="pb"><rect x="46.4" y="797.6" width="689.4" height="689" fill="#90e6fe"/><defs><radialGradient id="rg" gradientUnits="userSpaceOnUse" cx="387.7" cy="1138.7" r="344.7"><stop offset="0.000" stop-color="#a90122"/><stop offset="0.025" stop-color="#aa0222"/><stop offset="0.050" stop-color="#ae0324"/><stop offset="0.075" stop-color="#b50526"/><stop offset="0.100" stop-color="#be0729"/><stop offset="0.125" stop-color="#c70c2c"/><stop offset="0.150" stop-color="#d21230"/><stop offset="0.175" stop-color="#de1730"/><stop offset="0.200" stop-color="#ea1f32"/><stop offset="0.225" stop-color="#f32434"/><stop offset="0.250" stop-color="#f92a37"/><stop offset="0.275" stop-color="#fe363c"/><stop offset="0.300" stop-color="#ff4c44"/><stop offset="0.325" stop-color="#ff664e"/><stop offset="0.350" stop-color="#ff805d"/><stop offset="0.375" stop-color="#ff9d6e"/><stop offset="0.400" stop-color="#feb97e"/><stop offset="0.425" stop-color="#fed194"/><stop offset="0.450" stop-color="#fee1a7"/><stop offset="0.475" stop-color="#fdf3be"/><stop offset="0.500" stop-color="#fefcde"/><stop offset="0.525" stop-color="#f9fff1"/><stop offset="0.550" stop-color="#e8fdff"/><stop offset="0.575" stop-color="#d0fefe"/><stop offset="0.600" stop-color="#b7f8fe"/><stop offset="0.625" stop-color="#a3f0fe"/><stop offset="0.650" stop-color="#8ce5fe"/><stop offset="0.675" stop-color="#77d4fe"/><stop offset="0.700" stop-color="#63c0fe"/><stop offset="0.725" stop-color="#55aafe"/><stop offset="0.750" stop-color="#4693fe"/><stop offset="0.775" stop-color="#3a7ffe"/><stop offset="0.800" stop-color="#2f6efd"/><stop offset="0.825" stop-color="#2958fd"/><stop offset="0.850" stop-color="#2443fe"/><stop offset="0.875" stop-color="#1f28fb"/><stop offset="0.900" stop-color="#1e1bf3"/><stop offset="0.925" stop-color="#1e15ed"/><stop offset="0.950" stop-color="#1e10e8"/><stop offset="0.975" stop-color="#1f0ce2"/><stop offset="1.000" stop-color="#2009dd"/></radialGradient></defs><path d="M315.3 797.6h144.8v7.1h-144.8zM287.7 804.5h199.9v7.1h-199.9zM267 811.4h241.3v7.1h-241.3zM253.2 818.3h268.9v7.1h-268.9zM232.5 825.2h310.2v7.1h-310.2zM225.6 832.1h324v7.1h-324zM211.9 838.9h351.6v7.1h-351.6zM198.1 845.8h379.2v7.1h-379.2zM191.2 852.7h393v7.1h-393zM177.4 859.6h420.5v7.1h-420.5zM170.5 866.5h434.3v7.1h-434.3zM163.6 873.4h448.1v7.1h-448.1zM156.7 880.3h461.9v7.1h-461.9zM149.8 887.2h475.7v7.1h-475.7zM142.9 894.1h489.5v7.1h-489.5zM136 901h503.3v7.1h-503.3zM129.1 907.8h517v7.1h-517zM122.2 914.7h530.8v7.1h-530.8zM115.3 921.6h544.6v7.1h-544.6zM108.4 928.5h558.4v7.1h-558.4zM108.4 935.4h558.4v7.1h-558.4zM101.6 942.3h572.2v7.1h-572.2zM94.7 949.2h586v7.1h-586zM94.7 956.1h586v7.1h-586zM87.8 963h599.8v7.1h-599.8zM87.8 969.9h599.8v7.1h-599.8zM80.9 976.7h613.6v7.1h-613.6zM74 983.6h627.4v7.1h-627.4zM74 990.5h627.4v7.1h-627.4zM74 997.4h627.4v7.1h-627.4zM67.1 1004.3h641.1v7.1h-641.1zM67.1 1011.2h641.1v7.1h-641.1zM60.2 1018.1h654.9v7.1h-654.9zM60.2 1025h654.9v7.1h-654.9zM60.2 1031.9h654.9v7.1h-654.9zM53.3 1038.8h668.7v7.1h-668.7zM53.3 1045.6h668.7v7.1h-668.7zM53.3 1052.5h668.7v7.1h-668.7zM53.3 1059.4h668.7v7.1h-668.7zM46.4 1066.3h682.5v7.1h-682.5zM46.4 1073.2h682.5v7.1h-682.5zM46.4 1080.1h682.5v7.1h-682.5zM46.4 1087h682.5v7.1h-682.5zM46.4 1093.9h682.5v7.1h-682.5zM46.4 1100.8h682.5v7.1h-682.5zM46.4 1107.7h682.5v7.1h-682.5zM46.4 1114.5h689.4v7.1h-689.4zM46.4 1121.4h689.4v7.1h-689.4zM46.4 1128.3h689.4v7.1h-689.4zM46.4 1135.2h689.4v7.1h-689.4zM46.4 1142.1h689.4v7.1h-689.4zM46.4 1149h689.4v7.1h-689.4zM46.4 1155.9h689.4v7.1h-689.4zM46.4 1162.8h682.5v7.1h-682.5zM46.4 1169.7h682.5v7.1h-682.5zM46.4 1176.5h682.5v7.1h-682.5zM46.4 1183.4h682.5v7.1h-682.5zM46.4 1190.3h682.5v7.1h-682.5zM46.4 1197.2h682.5v7.1h-682.5zM46.4 1204.1h682.5v7.1h-682.5zM53.3 1211h668.7v7.1h-668.7zM53.3 1217.9h668.7v7.1h-668.7zM53.3 1224.8h668.7v7.1h-668.7zM53.3 1231.7h668.7v7.1h-668.7zM60.2 1238.6h654.9v7.1h-654.9zM60.2 1245.4h654.9v7.1h-654.9zM60.2 1252.3h654.9v7.1h-654.9zM67.1 1259.2h641.1v7.1h-641.1zM67.1 1266.1h641.1v7.1h-641.1zM74 1273h627.4v7.1h-627.4zM74 1279.9h627.4v7.1h-627.4zM74 1286.8h627.4v7.1h-627.4zM80.9 1293.7h613.6v7.1h-613.6zM87.8 1300.6h599.8v7.1h-599.8zM87.8 1307.5h599.8v7.1h-599.8zM94.7 1314.3h586v7.1h-586zM94.7 1321.2h586v7.1h-586zM101.6 1328.1h572.2v7.1h-572.2zM108.4 1335h558.4v7.1h-558.4zM108.4 1341.9h558.4v7.1h-558.4zM115.3 1348.8h544.6v7.1h-544.6zM122.2 1355.7h530.8v7.1h-530.8zM129.1 1362.6h517v7.1h-517zM136 1369.5h503.3v7.1h-503.3zM142.9 1376.4h489.5v7.1h-489.5zM149.8 1383.2h475.7v7.1h-475.7zM156.7 1390.1h461.9v7.1h-461.9zM163.6 1397h448.1v7.1h-448.1zM170.5 1403.9h434.3v7.1h-434.3zM177.4 1410.8h420.5v7.1h-420.5zM191.2 1417.7h393v7.1h-393zM198.1 1424.6h379.2v7.1h-379.2zM211.9 1431.5h351.6v7.1h-351.6zM225.6 1438.4h324v7.1h-324zM232.5 1445.3h310.2v7.1h-310.2zM253.2 1452.1h268.9v7.1h-268.9zM267 1459h241.3v7.1h-241.3zM287.7 1465.9h199.9v7.1h-199.9zM315.3 1472.8h144.8v7.1h-144.8zM363.5 1479.7h48.3v7.1h-48.3z" fill="url(#rg)"/><rect x="287.7" y="797.6" width="7.1" height="7.1" fill="#397efe"/><rect x="294.6" y="797.6" width="7.1" height="7.1" fill="#397efe"/><rect x="301.5" y="797.6" width="7.1" height="7.1" fill="#397efe"/><rect x="308.4" y="797.6" width="7.1" height="7.1" fill="#397efe"/><rect x="460" y="797.6" width="7.1" height="7.1" fill="#397efe"/><rect x="466.9" y="797.6" width="7.1" height="7.1" fill="#397efe"/><rect x="473.8" y="797.6" width="7.1" height="7.1" fill="#397efe"/><rect x="480.7" y="797.6" width="7.1" height="7.1" fill="#397efe"/><rect x="267" y="804.5" width="7.1" height="7.1" fill="#397efe"/><rect x="273.9" y="804.5" width="7.1" height="7.1" fill="#397efe"/><rect x="280.8" y="804.5" width="7.1" height="7.1" fill="#397efe"/><rect x="487.6" y="804.5" width="7.1" height="7.1" fill="#397efe"/><rect x="494.5" y="804.5" width="7.1" height="7.1" fill="#397efe"/><rect x="501.4" y="804.5" width="7.1" height="7.1" fill="#397efe"/><rect x="253.2" y="811.4" width="7.1" height="7.1" fill="#397efe"/><rect x="260.1" y="811.4" width="7.1" height="7.1" fill="#397efe"/><rect x="508.3" y="811.4" width="7.1" height="7.1" fill="#397efe"/><rect x="515.2" y="811.4" width="7.1" height="7.1" fill="#397efe"/><rect x="239.4" y="818.3" width="7.1" height="7.1" fill="#397efe"/><rect x="246.3" y="818.3" width="7.1" height="7.1" fill="#397efe"/><rect x="522.1" y="818.3" width="7.1" height="7.1" fill="#397efe"/><rect x="529" y="818.3" width="7.1" height="7.1" fill="#397efe"/><rect x="225.6" y="825.2" width="7.1" height="7.1" fill="#397efe"/><rect x="542.8" y="825.2" width="7.1" height="7.1" fill="#397efe"/><rect x="211.9" y="832.1" width="7.1" height="7.1" fill="#397efe"/><rect x="218.8" y="832.1" width="7.1" height="7.1" fill="#397efe"/><rect x="549.7" y="832.1" width="7.1" height="7.1" fill="#397efe"/><rect x="556.6" y="832.1" width="7.1" height="7.1" fill="#397efe"/><rect x="198.1" y="838.9" width="7.1" height="7.1" fill="#397efe"/><rect x="205" y="838.9" width="7.1" height="7.1" fill="#397efe"/><rect x="563.4" y="838.9" width="7.1" height="7.1" fill="#397efe"/><rect x="570.3" y="838.9" width="7.1" height="7.1" fill="#397efe"/><rect x="191.2" y="845.8" width="7.1" height="7.1" fill="#397efe"/><rect x="577.2" y="845.8" width="7.1" height="7.1" fill="#397efe"/><rect x="177.4" y="852.7" width="7.1" height="7.1" fill="#397efe"/><rect x="184.3" y="852.7" width="7.1" height="7.1" fill="#397efe"/><rect x="584.1" y="852.7" width="7.1" height="7.1" fill="#397efe"/><rect x="591" y="852.7" width="7.1" height="7.1" fill="#397efe"/><rect x="170.5" y="859.6" width="7.1" height="7.1" fill="#397efe"/><rect x="597.9" y="859.6" width="7.1" height="7.1" fill="#397efe"/><rect x="163.6" y="866.5" width="7.1" height="7.1" fill="#397efe"/><rect x="604.8" y="866.5" width="7.1" height="7.1" fill="#397efe"/><rect x="156.7" y="873.4" width="7.1" height="7.1" fill="#397efe"/><rect x="611.7" y="873.4" width="7.1" height="7.1" fill="#397efe"/><rect x="142.9" y="880.3" width="7.1" height="7.1" fill="#397efe"/><rect x="149.8" y="880.3" width="7.1" height="7.1" fill="#397efe"/><rect x="618.6" y="880.3" width="7.1" height="7.1" fill="#397efe"/><rect x="625.5" y="880.3" width="7.1" height="7.1" fill="#397efe"/><rect x="136" y="887.2" width="7.1" height="7.1" fill="#397efe"/><rect x="142.9" y="887.2" width="7.1" height="7.1" fill="#397efe"/><rect x="625.5" y="887.2" width="7.1" height="7.1" fill="#397efe"/><rect x="632.4" y="887.2" width="7.1" height="7.1" fill="#397efe"/><rect x="129.1" y="894.1" width="7.1" height="7.1" fill="#397efe"/><rect x="136" y="894.1" width="7.1" height="7.1" fill="#397efe"/><rect x="632.4" y="894.1" width="7.1" height="7.1" fill="#397efe"/><rect x="639.3" y="894.1" width="7.1" height="7.1" fill="#397efe"/><rect x="129.1" y="901" width="7.1" height="7.1" fill="#397efe"/><rect x="639.3" y="901" width="7.1" height="7.1" fill="#397efe"/><rect x="122.2" y="907.8" width="7.1" height="7.1" fill="#397efe"/><rect x="646.2" y="907.8" width="7.1" height="7.1" fill="#397efe"/><rect x="115.3" y="914.7" width="7.1" height="7.1" fill="#397efe"/><rect x="653.1" y="914.7" width="7.1" height="7.1" fill="#397efe"/><rect x="108.4" y="921.6" width="7.1" height="7.1" fill="#397efe"/><rect x="660" y="921.6" width="7.1" height="7.1" fill="#397efe"/><rect x="101.6" y="928.5" width="7.1" height="7.1" fill="#397efe"/><rect x="666.9" y="928.5" width="7.1" height="7.1" fill="#397efe"/><rect x="101.6" y="935.4" width="7.1" height="7.1" fill="#397efe"/><rect x="666.9" y="935.4" width="7.1" height="7.1" fill="#397efe"/><rect x="94.7" y="942.3" width="7.1" height="7.1" fill="#397efe"/><rect x="673.8" y="942.3" width="7.1" height="7.1" fill="#397efe"/><rect x="87.8" y="949.2" width="7.1" height="7.1" fill="#397efe"/><rect x="680.6" y="949.2" width="7.1" height="7.1" fill="#397efe"/><rect x="87.8" y="956.1" width="7.1" height="7.1" fill="#397efe"/><rect x="680.6" y="956.1" width="7.1" height="7.1" fill="#397efe"/><rect x="80.9" y="963" width="7.1" height="7.1" fill="#397efe"/><rect x="687.5" y="963" width="7.1" height="7.1" fill="#397efe"/><rect x="80.9" y="969.9" width="7.1" height="7.1" fill="#397efe"/><rect x="687.5" y="969.9" width="7.1" height="7.1" fill="#397efe"/><rect x="74" y="976.7" width="7.1" height="7.1" fill="#397efe"/><rect x="694.4" y="976.7" width="7.1" height="7.1" fill="#397efe"/><rect x="67.1" y="990.5" width="7.1" height="7.1" fill="#397efe"/><rect x="701.3" y="990.5" width="7.1" height="7.1" fill="#397efe"/><rect x="67.1" y="997.4" width="7.1" height="7.1" fill="#397efe"/><rect x="701.3" y="997.4" width="7.1" height="7.1" fill="#397efe"/><rect x="60.2" y="1004.3" width="7.1" height="7.1" fill="#397efe"/><rect x="708.2" y="1004.3" width="7.1" height="7.1" fill="#397efe"/><rect x="60.2" y="1011.2" width="7.1" height="7.1" fill="#397efe"/><rect x="708.2" y="1011.2" width="7.1" height="7.1" fill="#397efe"/><rect x="53.3" y="1018.1" width="7.1" height="7.1" fill="#397efe"/><rect x="715.1" y="1018.1" width="7.1" height="7.1" fill="#397efe"/><rect x="53.3" y="1025" width="7.1" height="7.1" fill="#397efe"/><rect x="715.1" y="1025" width="7.1" height="7.1" fill="#397efe"/><rect x="53.3" y="1031.9" width="7.1" height="7.1" fill="#397efe"/><rect x="715.1" y="1031.9" width="7.1" height="7.1" fill="#397efe"/><rect x="46.4" y="1038.8" width="7.1" height="7.1" fill="#397efe"/><rect x="722" y="1038.8" width="7.1" height="7.1" fill="#397efe"/><rect x="46.4" y="1045.6" width="7.1" height="7.1" fill="#397efe"/><rect x="722" y="1045.6" width="7.1" height="7.1" fill="#397efe"/><rect x="46.4" y="1052.5" width="7.1" height="7.1" fill="#397efe"/><rect x="722" y="1052.5" width="7.1" height="7.1" fill="#397efe"/><rect x="46.4" y="1059.4" width="7.1" height="7.1" fill="#397efe"/><rect x="722" y="1059.4" width="7.1" height="7.1" fill="#397efe"/><rect x="728.9" y="1073.2" width="7.1" height="7.1" fill="#397efe"/><rect x="728.9" y="1080.1" width="7.1" height="7.1" fill="#397efe"/><rect x="728.9" y="1087" width="7.1" height="7.1" fill="#397efe"/><rect x="728.9" y="1093.9" width="7.1" height="7.1" fill="#397efe"/><rect x="728.9" y="1100.8" width="7.1" height="7.1" fill="#397efe"/><rect x="728.9" y="1107.7" width="7.1" height="7.1" fill="#397efe"/><rect x="728.9" y="1162.8" width="7.1" height="7.1" fill="#397efe"/><rect x="728.9" y="1169.7" width="7.1" height="7.1" fill="#397efe"/><rect x="728.9" y="1176.5" width="7.1" height="7.1" fill="#397efe"/><rect x="728.9" y="1183.4" width="7.1" height="7.1" fill="#397efe"/><rect x="728.9" y="1190.3" width="7.1" height="7.1" fill="#397efe"/><rect x="728.9" y="1197.2" width="7.1" height="7.1" fill="#397efe"/><rect x="46.4" y="1211" width="7.1" height="7.1" fill="#397efe"/><rect x="722" y="1211" width="7.1" height="7.1" fill="#397efe"/><rect x="46.4" y="1217.9" width="7.1" height="7.1" fill="#397efe"/><rect x="722" y="1217.9" width="7.1" height="7.1" fill="#397efe"/><rect x="46.4" y="1224.8" width="7.1" height="7.1" fill="#397efe"/><rect x="722" y="1224.8" width="7.1" height="7.1" fill="#397efe"/><rect x="46.4" y="1231.7" width="7.1" height="7.1" fill="#397efe"/><rect x="722" y="1231.7" width="7.1" height="7.1" fill="#397efe"/><rect x="53.3" y="1238.6" width="7.1" height="7.1" fill="#397efe"/><rect x="715.1" y="1238.6" width="7.1" height="7.1" fill="#397efe"/><rect x="53.3" y="1245.4" width="7.1" height="7.1" fill="#397efe"/><rect x="715.1" y="1245.4" width="7.1" height="7.1" fill="#397efe"/><rect x="53.3" y="1252.3" width="7.1" height="7.1" fill="#397efe"/><rect x="715.1" y="1252.3" width="7.1" height="7.1" fill="#397efe"/><rect x="60.2" y="1259.2" width="7.1" height="7.1" fill="#397efe"/><rect x="708.2" y="1259.2" width="7.1" height="7.1" fill="#397efe"/><rect x="60.2" y="1266.1" width="7.1" height="7.1" fill="#397efe"/><rect x="708.2" y="1266.1" width="7.1" height="7.1" fill="#397efe"/><rect x="67.1" y="1273" width="7.1" height="7.1" fill="#397efe"/><rect x="701.3" y="1273" width="7.1" height="7.1" fill="#397efe"/><rect x="67.1" y="1279.9" width="7.1" height="7.1" fill="#397efe"/><rect x="701.3" y="1279.9" width="7.1" height="7.1" fill="#397efe"/><rect x="74" y="1293.7" width="7.1" height="7.1" fill="#397efe"/><rect x="694.4" y="1293.7" width="7.1" height="7.1" fill="#397efe"/><rect x="80.9" y="1300.6" width="7.1" height="7.1" fill="#397efe"/><rect x="687.5" y="1300.6" width="7.1" height="7.1" fill="#397efe"/><rect x="80.9" y="1307.5" width="7.1" height="7.1" fill="#397efe"/><rect x="687.5" y="1307.5" width="7.1" height="7.1" fill="#397efe"/><rect x="87.8" y="1314.3" width="7.1" height="7.1" fill="#397efe"/><rect x="680.6" y="1314.3" width="7.1" height="7.1" fill="#397efe"/><rect x="87.8" y="1321.2" width="7.1" height="7.1" fill="#397efe"/><rect x="680.6" y="1321.2" width="7.1" height="7.1" fill="#397efe"/><rect x="94.7" y="1328.1" width="7.1" height="7.1" fill="#397efe"/><rect x="673.8" y="1328.1" width="7.1" height="7.1" fill="#397efe"/><rect x="101.6" y="1335" width="7.1" height="7.1" fill="#397efe"/><rect x="666.9" y="1335" width="7.1" height="7.1" fill="#397efe"/><rect x="101.6" y="1341.9" width="7.1" height="7.1" fill="#397efe"/><rect x="666.9" y="1341.9" width="7.1" height="7.1" fill="#397efe"/><rect x="108.4" y="1348.8" width="7.1" height="7.1" fill="#397efe"/><rect x="660" y="1348.8" width="7.1" height="7.1" fill="#397efe"/><rect x="115.3" y="1355.7" width="7.1" height="7.1" fill="#397efe"/><rect x="653.1" y="1355.7" width="7.1" height="7.1" fill="#397efe"/><rect x="122.2" y="1362.6" width="7.1" height="7.1" fill="#397efe"/><rect x="646.2" y="1362.6" width="7.1" height="7.1" fill="#397efe"/><rect x="129.1" y="1369.5" width="7.1" height="7.1" fill="#397efe"/><rect x="639.3" y="1369.5" width="7.1" height="7.1" fill="#397efe"/><rect x="129.1" y="1376.4" width="7.1" height="7.1" fill="#397efe"/><rect x="136" y="1376.4" width="7.1" height="7.1" fill="#397efe"/><rect x="632.4" y="1376.4" width="7.1" height="7.1" fill="#397efe"/><rect x="639.3" y="1376.4" width="7.1" height="7.1" fill="#397efe"/><rect x="136" y="1383.2" width="7.1" height="7.1" fill="#397efe"/><rect x="142.9" y="1383.2" width="7.1" height="7.1" fill="#397efe"/><rect x="625.5" y="1383.2" width="7.1" height="7.1" fill="#397efe"/><rect x="632.4" y="1383.2" width="7.1" height="7.1" fill="#397efe"/><rect x="142.9" y="1390.1" width="7.1" height="7.1" fill="#397efe"/><rect x="149.8" y="1390.1" width="7.1" height="7.1" fill="#397efe"/><rect x="618.6" y="1390.1" width="7.1" height="7.1" fill="#397efe"/><rect x="625.5" y="1390.1" width="7.1" height="7.1" fill="#397efe"/><rect x="156.7" y="1397" width="7.1" height="7.1" fill="#397efe"/><rect x="611.7" y="1397" width="7.1" height="7.1" fill="#397efe"/><rect x="163.6" y="1403.9" width="7.1" height="7.1" fill="#397efe"/><rect x="604.8" y="1403.9" width="7.1" height="7.1" fill="#397efe"/><rect x="170.5" y="1410.8" width="7.1" height="7.1" fill="#397efe"/><rect x="597.9" y="1410.8" width="7.1" height="7.1" fill="#397efe"/><rect x="177.4" y="1417.7" width="7.1" height="7.1" fill="#397efe"/><rect x="184.3" y="1417.7" width="7.1" height="7.1" fill="#397efe"/><rect x="584.1" y="1417.7" width="7.1" height="7.1" fill="#397efe"/><rect x="591" y="1417.7" width="7.1" height="7.1" fill="#397efe"/><rect x="191.2" y="1424.6" width="7.1" height="7.1" fill="#397efe"/><rect x="577.2" y="1424.6" width="7.1" height="7.1" fill="#397efe"/><rect x="198.1" y="1431.5" width="7.1" height="7.1" fill="#397efe"/><rect x="205" y="1431.5" width="7.1" height="7.1" fill="#397efe"/><rect x="563.4" y="1431.5" width="7.1" height="7.1" fill="#397efe"/><rect x="570.3" y="1431.5" width="7.1" height="7.1" fill="#397efe"/><rect x="211.9" y="1438.4" width="7.1" height="7.1" fill="#397efe"/><rect x="218.8" y="1438.4" width="7.1" height="7.1" fill="#397efe"/><rect x="549.7" y="1438.4" width="7.1" height="7.1" fill="#397efe"/><rect x="556.6" y="1438.4" width="7.1" height="7.1" fill="#397efe"/><rect x="225.6" y="1445.3" width="7.1" height="7.1" fill="#397efe"/><rect x="542.8" y="1445.3" width="7.1" height="7.1" fill="#397efe"/><rect x="239.4" y="1452.1" width="7.1" height="7.1" fill="#397efe"/><rect x="246.3" y="1452.1" width="7.1" height="7.1" fill="#397efe"/><rect x="522.1" y="1452.1" width="7.1" height="7.1" fill="#397efe"/><rect x="529" y="1452.1" width="7.1" height="7.1" fill="#397efe"/><rect x="253.2" y="1459" width="7.1" height="7.1" fill="#397efe"/><rect x="260.1" y="1459" width="7.1" height="7.1" fill="#397efe"/><rect x="508.3" y="1459" width="7.1" height="7.1" fill="#397efe"/><rect x="515.2" y="1459" width="7.1" height="7.1" fill="#397efe"/><rect x="267" y="1465.9" width="7.1" height="7.1" fill="#397efe"/><rect x="273.9" y="1465.9" width="7.1" height="7.1" fill="#397efe"/><rect x="280.8" y="1465.9" width="7.1" height="7.1" fill="#397efe"/><rect x="487.6" y="1465.9" width="7.1" height="7.1" fill="#397efe"/><rect x="494.5" y="1465.9" width="7.1" height="7.1" fill="#397efe"/><rect x="501.4" y="1465.9" width="7.1" height="7.1" fill="#397efe"/><rect x="287.7" y="1472.8" width="7.1" height="7.1" fill="#397efe"/><rect x="294.6" y="1472.8" width="7.1" height="7.1" fill="#397efe"/><rect x="301.5" y="1472.8" width="7.1" height="7.1" fill="#397efe"/><rect x="308.4" y="1472.8" width="7.1" height="7.1" fill="#397efe"/><rect x="460" y="1472.8" width="7.1" height="7.1" fill="#397efe"/><rect x="466.9" y="1472.8" width="7.1" height="7.1" fill="#397efe"/><rect x="473.8" y="1472.8" width="7.1" height="7.1" fill="#397efe"/><rect x="480.7" y="1472.8" width="7.1" height="7.1" fill="#397efe"/><rect x="322.2" y="1479.7" width="7.1" height="7.1" fill="#397efe"/><rect x="329.1" y="1479.7" width="7.1" height="7.1" fill="#397efe"/><rect x="335.9" y="1479.7" width="7.1" height="7.1" fill="#397efe"/><rect x="342.8" y="1479.7" width="7.1" height="7.1" fill="#397efe"/><rect x="349.7" y="1479.7" width="7.1" height="7.1" fill="#397efe"/><rect x="356.6" y="1479.7" width="7.1" height="7.1" fill="#397efe"/><rect x="411.8" y="1479.7" width="7.1" height="7.1" fill="#397efe"/><rect x="418.7" y="1479.7" width="7.1" height="7.1" fill="#397efe"/><rect x="425.6" y="1479.7" width="7.1" height="7.1" fill="#397efe"/><rect x="432.5" y="1479.7" width="7.1" height="7.1" fill="#397efe"/><rect x="439.4" y="1479.7" width="7.1" height="7.1" fill="#397efe"/><rect x="446.3" y="1479.7" width="7.1" height="7.1" fill="#397efe"/><rect x="384.2" y="1128.3" width="6.9" height="6.9" fill="#2020f0"/><rect x="384.2" y="1142.1" width="6.9" height="6.9" fill="#2020f0"/><rect x="377.3" y="1135.2" width="6.9" height="6.9" fill="#2020f0"/><rect x="391.1" y="1135.2" width="6.9" height="6.9" fill="#2020f0"/><path d="M324.8 806.9l-0.4 -2M345.5 806.9l-0.4 -2.8M366.2 806.9l-0.2 -3.2M387 806.9l0 -3.4M407.8 806.9l0.2 -3.2M428.5 806.9l0.3 -2.8M449.2 806.9l0.4 -2.1M262.5 827.7l-1 -2.4M283.2 827.7l-1.3 -3.9M304 827.7l-1.4 -5.1M324.8 827.7l-1.2 -6M345.5 827.7l-0.9 -6.6M366.2 827.7l-0.5 -7M387 827.7l0 -7.1M407.8 827.7l0.5 -7M428.5 827.7l0.9 -6.6M449.2 827.7l1.2 -6M470 827.7l1.4 -5.1M490.8 827.7l1.3 -4M511.5 827.7l1 -2.5M221 848.4l-1.4 -2.4M241.8 848.4l-2.1 -4.2M262.5 848.4l-2.5 -5.8M283.2 848.4l-2.6 -7.1M304 848.4l-2.4 -8.2M324.8 848.4l-2 -9.1M345.5 848.4l-1.4 -9.7M366.2 848.4l-0.7 -10.1M387 848.4l0 -10.3M407.8 848.4l0.7 -10.2M428.5 848.4l1.4 -9.8M449.2 848.4l1.9 -9.2M470 848.4l2.4 -8.3M490.8 848.4l2.6 -7.2M511.5 848.4l2.5 -5.9M532.2 848.4l2.2 -4.3M553 848.4l1.4 -2.5M179.5 869.2l-0.8 -1.1M200.2 869.2l-2.3 -3.3M221 869.2l-3.2 -5.2M241.8 869.2l-3.7 -6.9M262.5 869.2l-3.9 -8.4M283.2 869.2l-3.8 -9.7M304 869.2l-3.4 -10.8M324.8 869.2l-2.7 -11.7M345.5 869.2l-1.9 -12.4M366.2 869.2l-1 -12.8M387 869.2l0 -12.9M407.8 869.2l1 -12.8M428.5 869.2l1.9 -12.4M449.2 869.2l2.7 -11.8M470 869.2l3.3 -10.9M490.8 869.2l3.8 -9.8M511.5 869.2l3.9 -8.5M532.2 869.2l3.8 -7M553 869.2l3.3 -5.3M573.8 869.2l2.4 -3.5M594.5 869.2l1 -1.2M158.8 889.9l-1.3 -1.5M179.5 889.9l-3.1 -3.7M200.2 889.9l-4.3 -5.6M221 889.9l-5 -7.4M241.8 889.9l-5.3 -9.1M262.5 889.9l-5.3 -10.6M283.2 889.9l-5 -11.9M304 889.9l-4.4 -13.2M324.8 889.9l-3.6 -14.2M345.5 889.9l-2.5 -15M366.2 889.9l-1.3 -15.5M387 889.9l0 -15.7M407.8 889.9l1.3 -15.5M428.5 889.9l2.5 -15.1M449.2 889.9l3.5 -14.3M470 889.9l4.4 -13.3M490.8 889.9l5 -11.9M511.5 889.9l5.3 -10.7M532.2 889.9l5.3 -9.2M553 889.9l5 -7.5M573.8 889.9l4.3 -5.8M594.5 889.9l3.2 -3.8M615.2 889.9l1.5 -1.6M138 910.7l-1.4 -1.3M158.8 910.7l-3.6 -3.6M179.5 910.7l-5.1 -5.5M200.2 910.7l-6.1 -7.4M221 910.7l-6.7 -9.1M241.8 910.7l-6.9 -10.8M262.5 910.7l-6.8 -12.5M283.2 910.7l-6.4 -14M304 910.7l-5.6 -15.3M324.8 910.7l-4.5 -16.4M345.5 910.7l-3.2 -17.2M366.2 910.7l-1.7 -17.6M387 910.7l-0.1 -17.8M407.8 910.7l1.6 -17.7M428.5 910.7l3.1 -17.2M449.2 910.7l4.4 -16.4M470 910.7l5.6 -15.4M490.8 910.7l6.4 -14.1M511.5 910.7l6.8 -12.6M532.2 910.7l6.9 -10.8M553 910.7l6.7 -9.2M573.8 910.7l6.1 -7.5M594.5 910.7l5.1 -5.7M615.2 910.7l3.7 -3.7M636 910.7l1.6 -1.5M117.2 931.4l-1 -0.8M138 931.4l-3.7 -3.1M158.8 931.4l-5.6 -5M179.5 931.4l-6.9 -6.9M200.2 931.4l-7.9 -8.7M221 931.4l-8.4 -10.5M241.8 931.4l-8.7 -12.3M262.5 931.4l-8.5 -14.1M283.2 931.4l-7.8 -15.6M304 931.4l-6.8 -16.9M324.8 931.4l-5.4 -17.9M345.5 931.4l-3.8 -18.7M366.2 931.4l-2 -19.1M387 931.4l-0.1 -19.3M407.8 931.4l1.9 -19.1M428.5 931.4l3.7 -18.7M449.2 931.4l5.3 -17.9M470 931.4l6.7 -16.9M490.8 931.4l7.8 -15.7M511.5 931.4l8.5 -14.2M532.2 931.4l8.7 -12.5M553 931.4l8.4 -10.6M573.8 931.4l7.9 -8.8M594.5 931.4l7 -7M615.2 931.4l5.7 -5.2M636 931.4l3.8 -3.2M656.8 931.4l1.3 -1M117.2 952.2l-3.3 -2.3M138 952.2l-5.6 -4.2M158.8 952.2l-7.4 -6M179.5 952.2l-8.7 -7.8M200.2 952.2l-9.7 -9.6M221 952.2l-10.3 -11.6M241.8 952.2l-10.5 -13.4M262.5 952.2l-10.1 -15M283.2 952.2l-9.2 -16.5M304 952.2l-8 -17.7M324.8 952.2l-6.3 -18.7M345.5 952.2l-4.4 -19.5M366.2 952.2l-2.3 -19.9M387 952.2l-0.1 -20.1M407.8 952.2l2.1 -19.9M428.5 952.2l4.3 -19.5M449.2 952.2l6.2 -18.8M470 952.2l7.9 -17.8M490.8 952.2l9.2 -16.6M511.5 952.2l10 -15.1M532.2 952.2l10.4 -13.5M553 952.2l10.4 -11.7M573.8 952.2l9.7 -9.7M594.5 952.2l8.8 -7.9M615.2 952.2l7.5 -6.2M636 952.2l5.8 -4.3M656.8 952.2l3.5 -2.4M96.5 972.9l-2.3 -1.3M117.2 972.9l-5.2 -3.2M138 972.9l-7.4 -4.9M158.8 972.9l-9.1 -6.6M179.5 972.9l-10.5 -8.3M200.2 972.9l-11.6 -10.3M221 972.9l-12.2 -12.1M241.8 972.9l-12.1 -13.8M262.5 972.9l-11.6 -15.4M283.2 972.9l-10.6 -16.8M304 972.9l-9.1 -18M324.8 972.9l-7.2 -18.9M345.5 972.9l-5 -19.6M366.2 972.9l-2.6 -20.1M387 972.9l-0.1 -20.2M407.8 972.9l2.4 -20.1M428.5 972.9l4.8 -19.7M449.2 972.9l7 -19M470 972.9l9 -18M490.8 972.9l10.5 -16.8M511.5 972.9l11.6 -15.5M532.2 972.9l12.1 -13.9M553 972.9l12.2 -12.2M573.8 972.9l11.7 -10.4M594.5 972.9l10.6 -8.5M615.2 972.9l9.2 -6.7M636 972.9l7.6 -5M656.8 972.9l5.4 -3.3M677.5 972.9l2.5 -1.4M96.5 993.7l-4.2 -2.1M117.2 993.7l-6.9 -3.7M138 993.7l-9.1 -5.3M158.8 993.7l-10.8 -6.8M179.5 993.7l-12.4 -8.6M200.2 993.7l-13.4 -10.4M221 993.7l-13.9 -12.1M241.8 993.7l-13.7 -13.7M262.5 993.7l-13 -15.1M283.2 993.7l-11.8 -16.4M304 993.7l-10.1 -17.5M324.8 993.7l-8 -18.4M345.5 993.7l-5.6 -19.1M366.2 993.7l-2.9 -19.5M387 993.7l-0.1 -19.7M407.8 993.7l2.7 -19.5M428.5 993.7l5.4 -19.1M449.2 993.7l7.8 -18.5M470 993.7l10 -17.6M490.8 993.7l11.7 -16.5M511.5 993.7l13 -15.2M532.2 993.7l13.7 -13.7M553 993.7l13.9 -12.2M573.8 993.7l13.5 -10.5M594.5 993.7l12.4 -8.7M615.2 993.7l10.8 -6.9M636 993.7l9.2 -5.4M656.8 993.7l7 -3.8M677.5 993.7l4.3 -2.2M75.8 1014.4l-2.3 -0.9M96.5 1014.4l-5.7 -2.4M117.2 1014.4l-8.4 -3.9M138 1014.4l-10.5 -5.2M158.8 1014.4l-12.5 -6.8M179.5 1014.4l-14.1 -8.4M200.2 1014.4l-15.1 -10M221 1014.4l-15.4 -11.5M241.8 1014.4l-15.2 -12.9M262.5 1014.4l-14.4 -14.3M283.2 1014.4l-13 -15.4M304 1014.4l-11.1 -16.5M324.8 1014.4l-8.8 -17.3M345.5 1014.4l-6.1 -17.9M366.2 1014.4l-3.1 -18.3M387 1014.4l-0.1 -18.4M407.8 1014.4l3 -18.3M428.5 1014.4l5.9 -17.9M449.2 1014.4l8.6 -17.3M470 1014.4l10.9 -16.5M490.8 1014.4l12.9 -15.5M511.5 1014.4l14.3 -14.3M532.2 1014.4l15.2 -13M553 1014.4l15.4 -11.6M573.8 1014.4l15.1 -10.1M594.5 1014.4l14.1 -8.5M615.2 1014.4l12.6 -6.9M636 1014.4l10.7 -5.3M656.8 1014.4l8.5 -3.9M677.5 1014.4l5.9 -2.5M698.2 1014.4l2.6 -1M75.8 1035.2l-3.8 -1.3M96.5 1035.2l-7 -2.5M117.2 1035.2l-9.7 -3.7M138 1035.2l-11.8 -4.9M158.8 1035.2l-14 -6.3M179.5 1035.2l-15.6 -7.7M200.2 1035.2l-16.5 -9.1M221 1035.2l-16.8 -10.4M241.8 1035.2l-16.5 -11.7M262.5 1035.2l-15.5 -12.9M283.2 1035.2l-14 -13.9M304 1035.2l-12 -14.8M324.8 1035.2l-9.4 -15.5M345.5 1035.2l-6.5 -16.1M366.2 1035.2l-3.4 -16.4M387 1035.2l-0.1 -16.5M407.8 1035.2l3.2 -16.4M428.5 1035.2l6.4 -16.1M449.2 1035.2l9.3 -15.6M470 1035.2l11.8 -14.8M490.8 1035.2l13.9 -14M511.5 1035.2l15.5 -12.9M532.2 1035.2l16.4 -11.8M553 1035.2l16.8 -10.5M573.8 1035.2l16.6 -9.2M594.5 1035.2l15.7 -7.8M615.2 1035.2l14.1 -6.4M636 1035.2l12 -5M656.8 1035.2l9.8 -3.8M677.5 1035.2l7.2 -2.6M698.2 1035.2l4 -1.3M75.8 1055.9l-4.9 -1.3M96.5 1055.9l-8.1 -2.3M117.2 1055.9l-10.8 -3.3M138 1055.9l-13.1 -4.4M158.8 1055.9l-15.3 -5.5M179.5 1055.9l-16.9 -6.7M200.2 1055.9l-17.8 -7.8M221 1055.9l-18 -8.9M241.8 1055.9l-17.6 -10M262.5 1055.9l-16.6 -11M283.2 1055.9l-14.9 -11.8M304 1055.9l-12.7 -12.6M324.8 1055.9l-10 -13.2M345.5 1055.9l-6.9 -13.6M366.2 1055.9l-3.6 -13.9M387 1055.9l-0.1 -14M407.8 1055.9l3.4 -13.9M428.5 1055.9l6.7 -13.6M449.2 1055.9l9.8 -13.2M470 1055.9l12.6 -12.6M490.8 1055.9l14.8 -11.9M511.5 1055.9l16.5 -11M532.2 1055.9l17.6 -10M553 1055.9l18 -9M573.8 1055.9l17.8 -7.9M594.5 1055.9l16.9 -6.8M615.2 1055.9l15.4 -5.6M636 1055.9l13.3 -4.4M656.8 1055.9l10.9 -3.4M677.5 1055.9l8.3 -2.4M698.2 1055.9l5.2 -1.4M719 1055.9l1.1 -0.3M55 1076.7l-1.9 -0.3M75.8 1076.7l-5.8 -1.2M96.5 1076.7l-9 -1.9M117.2 1076.7l-11.7 -2.7M138 1076.7l-14.2 -3.5M158.8 1076.7l-16.3 -4.4M179.5 1076.7l-17.9 -5.3M200.2 1076.7l-18.8 -6.2M221 1076.7l-19 -7.1M241.8 1076.7l-18.5 -7.9M262.5 1076.7l-17.4 -8.6M283.2 1076.7l-15.6 -9.3M304 1076.7l-13.3 -9.9M324.8 1076.7l-10.5 -10.3M345.5 1076.7l-7.2 -10.6M366.2 1076.7l-3.8 -11.1M387 1076.7l-0.1 -11.3M407.8 1076.7l3.6 -11.1M428.5 1076.7l7 -10.7M449.2 1076.7l10.3 -10.4M470 1076.7l13.2 -9.9M490.8 1076.7l15.5 -9.3M511.5 1076.7l17.3 -8.7M532.2 1076.7l18.4 -7.9M553 1076.7l18.9 -7.1M573.8 1076.7l18.8 -6.3M594.5 1076.7l18 -5.4M615.2 1076.7l16.5 -4.5M636 1076.7l14.3 -3.6M656.8 1076.7l11.8 -2.7M677.5 1076.7l9.2 -2M698.2 1076.7l6.1 -1.2M719 1076.7l2.2 -0.4M55 1097.4l-2.6 -0.3M75.8 1097.4l-6.5 -0.9M96.5 1097.4l-9.6 -1.4M117.2 1097.4l-12.3 -1.9M138 1097.4l-14.9 -2.5M158.8 1097.4l-17.1 -3.1M179.5 1097.4l-18.6 -3.7M200.2 1097.4l-19.5 -4.3M221 1097.4l-19.7 -4.9M241.8 1097.4l-19.2 -5.4M262.5 1097.4l-18 -5.9M283.2 1097.4l-16.2 -6.4M304 1097.4l-13.8 -6.8M324.8 1097.4l-10.8 -7.1M345.5 1097.4l-7.8 -7.6M366.2 1097.4l-4.2 -8.1M387 1097.4l-0.1 -8.3M407.8 1097.4l4 -8.1M428.5 1097.4l7.6 -7.6M449.2 1097.4l10.6 -7.1M470 1097.4l13.6 -6.8M490.8 1097.4l16 -6.4M511.5 1097.4l17.9 -6M532.2 1097.4l19.1 -5.5M553 1097.4l19.6 -4.9M573.8 1097.4l19.5 -4.3M594.5 1097.4l18.7 -3.7M615.2 1097.4l17.2 -3.1M636 1097.4l15.1 -2.5M656.8 1097.4l12.4 -1.9M677.5 1097.4l9.8 -1.4M698.2 1097.4l6.7 -0.9M719 1097.4l2.9 -0.4M55 1118.2l-3 -0.2M75.8 1118.2l-6.9 -0.5M96.5 1118.2l-10 -0.7M117.2 1118.2l-12.7 -1M138 1118.2l-15.4 -1.3M158.8 1118.2l-17.6 -1.6M179.5 1118.2l-19.1 -1.9M200.2 1118.2l-19.9 -2.2M221 1118.2l-20.1 -2.5M241.8 1118.2l-19.6 -2.7M262.5 1118.2l-18.4 -3M283.2 1118.2l-16.5 -3.2M304 1118.2l-14 -3.4M324.8 1118.2l-11.2 -3.7M345.5 1118.2l-8.3 -4M366.2 1118.2l-4.7 -4.5M387 1118.2l-0.2 -4.8M407.8 1118.2l4.4 -4.5M428.5 1118.2l8.1 -4M449.2 1118.2l11.1 -3.7M470 1118.2l13.8 -3.4M490.8 1118.2l16.4 -3.3M511.5 1118.2l18.3 -3M532.2 1118.2l19.5 -2.8M553 1118.2l20.1 -2.5M573.8 1118.2l20 -2.2M594.5 1118.2l19.2 -1.9M615.2 1118.2l17.7 -1.6M636 1118.2l15.6 -1.3M656.8 1118.2l12.8 -1M677.5 1118.2l10.2 -0.7M698.2 1118.2l7.1 -0.5M719 1118.2l3.3 -0.2M55 1138.9l-3.2 0M75.8 1138.9l-7 0M96.5 1138.9l-10.1 0M117.2 1138.9l-12.8 0M138 1138.9l-15.6 0M158.8 1138.9l-17.7 0M179.5 1138.9l-19.2 0M200.2 1138.9l-20.1 0M221 1138.9l-20.2 0M241.8 1138.9l-19.7 0M262.5 1138.9l-18.5 0M283.2 1138.9l-16.6 0M304 1138.9l-14.1 0M324.8 1138.9l-11.4 0M345.5 1138.9l-8.5 0M366.2 1138.9l-5 0.1M407.8 1138.9l4.8 0.1M428.5 1138.9l8.3 0M449.2 1138.9l11.2 0M470 1138.9l13.9 0M490.8 1138.9l16.5 0M511.5 1138.9l18.4 0M532.2 1138.9l19.6 0M553 1138.9l20.2 0M573.8 1138.9l20.1 0M594.5 1138.9l19.3 0M615.2 1138.9l17.8 0M636 1138.9l15.7 0M656.8 1138.9l13 0M677.5 1138.9l10.3 0M698.2 1138.9l7.2 0M719 1138.9l3.4 0M55 1159.7l-3 0.2M75.8 1159.7l-6.9 0.5M96.5 1159.7l-10 0.7M117.2 1159.7l-12.7 1M138 1159.7l-15.4 1.3M158.8 1159.7l-17.6 1.6M179.5 1159.7l-19.1 1.9M200.2 1159.7l-19.9 2.2M221 1159.7l-20.1 2.5M241.8 1159.7l-19.6 2.8M262.5 1159.7l-18.4 3.1M283.2 1159.7l-16.5 3.3M304 1159.7l-14 3.5M324.8 1159.7l-11.2 3.7M345.5 1159.7l-8.3 4.1M366.2 1159.7l-4.7 4.6M387 1159.7l-0.2 4.9M407.8 1159.7l4.4 4.6M428.5 1159.7l8.1 4.1M449.2 1159.7l11.1 3.8M470 1159.7l13.8 3.5M490.8 1159.7l16.4 3.3M511.5 1159.7l18.3 3.1M532.2 1159.7l19.5 2.8M553 1159.7l20.1 2.5M573.8 1159.7l19.9 2.3M594.5 1159.7l19.1 1.9M615.2 1159.7l17.7 1.6M636 1159.7l15.6 1.3M656.8 1159.7l12.8 1M677.5 1159.7l10.2 0.7M698.2 1159.7l7.1 0.5M719 1159.7l3.3 0.2M55 1180.4l-2.6 0.3M75.8 1180.4l-6.5 0.9M96.5 1180.4l-9.6 1.4M117.2 1180.4l-12.3 1.9M138 1180.4l-14.9 2.5M158.8 1180.4l-17.1 3.1M179.5 1180.4l-18.6 3.7M200.2 1180.4l-19.5 4.3M221 1180.4l-19.6 4.9M241.8 1180.4l-19.1 5.5M262.5 1180.4l-18 6M283.2 1180.4l-16.2 6.5M304 1180.4l-13.8 6.9M324.8 1180.4l-10.8 7.2M345.5 1180.4l-7.8 7.7M366.2 1180.4l-4.2 8.2M387 1180.4l-0.1 8.4M407.8 1180.4l4 8.2M428.5 1180.4l7.6 7.7M449.2 1180.4l10.6 7.2M470 1180.4l13.6 6.9M490.8 1180.4l16 6.5M511.5 1180.4l17.9 6M532.2 1180.4l19.1 5.5M553 1180.4l19.6 5M573.8 1180.4l19.5 4.4M594.5 1180.4l18.7 3.8M615.2 1180.4l17.2 3.2M636 1180.4l15.1 2.5M656.8 1180.4l12.4 1.9M677.5 1180.4l9.8 1.4M698.2 1180.4l6.7 0.9M719 1180.4l2.9 0.4M55 1201.2l-1.8 0.3M75.8 1201.2l-5.8 1.2M96.5 1201.2l-9 1.9M117.2 1201.2l-11.6 2.7M138 1201.2l-14.2 3.5M158.8 1201.2l-16.3 4.5M179.5 1201.2l-17.9 5.4M200.2 1201.2l-18.7 6.2M221 1201.2l-18.9 7.1M241.8 1201.2l-18.5 7.9M262.5 1201.2l-17.4 8.7M283.2 1201.2l-15.6 9.4M304 1201.2l-13.3 9.9M324.8 1201.2l-10.5 10.4M345.5 1201.2l-7.2 10.7M366.2 1201.2l-3.8 11.2M387 1201.2l-0.1 11.3M407.8 1201.2l3.6 11.2M428.5 1201.2l7 10.7M449.2 1201.2l10.3 10.4M470 1201.2l13.1 10M490.8 1201.2l15.5 9.4M511.5 1201.2l17.3 8.7M532.2 1201.2l18.4 8M553 1201.2l18.9 7.2M573.8 1201.2l18.8 6.3M594.5 1201.2l17.9 5.4M615.2 1201.2l16.4 4.5M636 1201.2l14.3 3.6M656.8 1201.2l11.8 2.7M677.5 1201.2l9.2 2M698.2 1201.2l6 1.2M719 1201.2l2.1 0.4M75.8 1221.9l-4.9 1.3M96.5 1221.9l-8.1 2.3M117.2 1221.9l-10.8 3.3M138 1221.9l-13.1 4.4M158.8 1221.9l-15.3 5.6M179.5 1221.9l-16.8 6.7M200.2 1221.9l-17.7 7.9M221 1221.9l-18 9M241.8 1221.9l-17.6 10M262.5 1221.9l-16.5 11M283.2 1221.9l-14.9 11.9M304 1221.9l-12.7 12.6M324.8 1221.9l-10 13.2M345.5 1221.9l-6.9 13.7M366.2 1221.9l-3.6 14M387 1221.9l-0.1 14M407.8 1221.9l3.4 14M428.5 1221.9l6.7 13.7M449.2 1221.9l9.8 13.3M470 1221.9l12.5 12.7M490.8 1221.9l14.8 11.9M511.5 1221.9l16.5 11.1M532.2 1221.9l17.5 10.1M553 1221.9l18 9M573.8 1221.9l17.8 7.9M594.5 1221.9l16.9 6.8M615.2 1221.9l15.4 5.6M636 1221.9l13.3 4.4M656.8 1221.9l10.9 3.4M677.5 1221.9l8.3 2.4M698.2 1221.9l5.1 1.4M719 1221.9l1 0.3M75.8 1242.7l-3.8 1.3M96.5 1242.7l-7 2.5M117.2 1242.7l-9.7 3.7M138 1242.7l-11.8 4.9M158.8 1242.7l-14 6.3M179.5 1242.7l-15.5 7.8M200.2 1242.7l-16.5 9.1M221 1242.7l-16.8 10.5M241.8 1242.7l-16.5 11.7M262.5 1242.7l-15.5 12.9M283.2 1242.7l-14 13.9M304 1242.7l-11.9 14.8M324.8 1242.7l-9.4 15.6M345.5 1242.7l-6.5 16.1M366.2 1242.7l-3.4 16.5M387 1242.7l-0.1 16.6M407.8 1242.7l3.2 16.5M428.5 1242.7l6.3 16.1M449.2 1242.7l9.3 15.6M470 1242.7l11.8 14.9M490.8 1242.7l13.9 14M511.5 1242.7l15.4 13M532.2 1242.7l16.4 11.8M553 1242.7l16.8 10.6M573.8 1242.7l16.5 9.2M594.5 1242.7l15.6 7.9M615.2 1242.7l14.1 6.4M636 1242.7l11.9 5M656.8 1242.7l9.8 3.8M677.5 1242.7l7.2 2.6M698.2 1242.7l4 1.3M75.8 1263.4l-2.3 0.9M96.5 1263.4l-5.7 2.4M117.2 1263.4l-8.4 3.9M138 1263.4l-10.5 5.3M158.8 1263.4l-12.4 6.8M179.5 1263.4l-14 8.4M200.2 1263.4l-15 10M221 1263.4l-15.4 11.5M241.8 1263.4l-15.2 13M262.5 1263.4l-14.3 14.3M283.2 1263.4l-12.9 15.5M304 1263.4l-11.1 16.5M324.8 1263.4l-8.7 17.3M345.5 1263.4l-6.1 17.9M366.2 1263.4l-3.1 18.3M387 1263.4l-0.1 18.5M407.8 1263.4l3 18.3M428.5 1263.4l5.9 18M449.2 1263.4l8.6 17.4M470 1263.4l10.9 16.6M490.8 1263.4l12.8 15.5M511.5 1263.4l14.3 14.4M532.2 1263.4l15.1 13M553 1263.4l15.4 11.6M573.8 1263.4l15.1 10.1M594.5 1263.4l14.1 8.5M615.2 1263.4l12.5 6.9M636 1263.4l10.6 5.3M656.8 1263.4l8.5 3.9M677.5 1263.4l5.9 2.5M698.2 1263.4l2.5 1M96.5 1284.2l-4.1 2.1M117.2 1284.2l-6.9 3.7M138 1284.2l-9 5.3M158.8 1284.2l-10.7 6.8M179.5 1284.2l-12.3 8.6M200.2 1284.2l-13.4 10.4M221 1284.2l-13.8 12.1M241.8 1284.2l-13.7 13.7M262.5 1284.2l-13 15.1M283.2 1284.2l-11.8 16.4M304 1284.2l-10.1 17.5M324.8 1284.2l-8 18.4M345.5 1284.2l-5.5 19.1M366.2 1284.2l-2.9 19.5M387 1284.2l-0.1 19.7M407.8 1284.2l2.7 19.5M428.5 1284.2l5.4 19.2M449.2 1284.2l7.8 18.5M470 1284.2l10 17.6M490.8 1284.2l11.7 16.5M511.5 1284.2l12.9 15.2M532.2 1284.2l13.7 13.8M553 1284.2l13.8 12.2M573.8 1284.2l13.4 10.5M594.5 1284.2l12.4 8.7M615.2 1284.2l10.8 6.9M636 1284.2l9.2 5.4M656.8 1284.2l7 3.8M677.5 1284.2l4.3 2.2M96.5 1304.9l-2.3 1.3M117.2 1304.9l-5.2 3.2M138 1304.9l-7.4 4.9M158.8 1304.9l-9.1 6.6M179.5 1304.9l-10.4 8.3M200.2 1304.9l-11.6 10.3M221 1304.9l-12.1 12.1M241.8 1304.9l-12.1 13.8M262.5 1304.9l-11.6 15.4M283.2 1304.9l-10.5 16.8M304 1304.9l-9 18M324.8 1304.9l-7.2 18.9M345.5 1304.9l-5 19.6M366.2 1304.9l-2.6 20.1M387 1304.9l-0.1 20.2M407.8 1304.9l2.4 20.1M428.5 1304.9l4.8 19.7M449.2 1304.9l7 19M470 1304.9l8.9 18M490.8 1304.9l10.4 16.8M511.5 1304.9l11.5 15.5M532.2 1304.9l12.1 13.9M553 1304.9l12.1 12.2M573.8 1304.9l11.6 10.4M594.5 1304.9l10.5 8.5M615.2 1304.9l9.2 6.7M636 1304.9l7.5 5M656.8 1304.9l5.3 3.3M677.5 1304.9l2.5 1.4M117.2 1325.7l-3.3 2.3M138 1325.7l-5.6 4.2M158.8 1325.7l-7.4 6M179.5 1325.7l-8.7 7.8M200.2 1325.7l-9.6 9.6M221 1325.7l-10.3 11.5M241.8 1325.7l-10.4 13.4M262.5 1325.7l-10 15M283.2 1325.7l-9.2 16.5M304 1325.7l-7.9 17.7M324.8 1325.7l-6.3 18.7M345.5 1325.7l-4.4 19.5M366.2 1325.7l-2.3 19.9M387 1325.7l-0.1 20.1M407.8 1325.7l2.1 19.9M428.5 1325.7l4.3 19.5M449.2 1325.7l6.2 18.8M470 1325.7l7.8 17.8M490.8 1325.7l9.1 16.6M511.5 1325.7l10 15.1M532.2 1325.7l10.4 13.5M553 1325.7l10.3 11.7M573.8 1325.7l9.7 9.7M594.5 1325.7l8.7 7.9M615.2 1325.7l7.5 6.1M636 1325.7l5.7 4.3M656.8 1325.7l3.4 2.4M117.2 1346.4l-1 0.8M138 1346.4l-3.6 3M158.8 1346.4l-5.5 5M179.5 1346.4l-6.9 6.9M200.2 1346.4l-7.8 8.7M221 1346.4l-8.4 10.4M241.8 1346.4l-8.6 12.3M262.5 1346.4l-8.4 14M283.2 1346.4l-7.8 15.5M304 1346.4l-6.8 16.8M324.8 1346.4l-5.4 17.9M345.5 1346.4l-3.8 18.6M366.2 1346.4l-2 19.1M387 1346.4l-0.1 19.3M407.8 1346.4l1.8 19.1M428.5 1346.4l3.7 18.7M449.2 1346.4l5.3 17.9M470 1346.4l6.7 16.9M490.8 1346.4l7.8 15.6M511.5 1346.4l8.4 14.1M532.2 1346.4l8.6 12.4M553 1346.4l8.4 10.5M573.8 1346.4l7.9 8.8M594.5 1346.4l7 7M615.2 1346.4l5.6 5.1M636 1346.4l3.8 3.2M656.8 1346.4l1.2 0.9M138 1367.2l-1.4 1.3M158.8 1367.2l-3.5 3.5M179.5 1367.2l-5 5.5M200.2 1367.2l-6 7.4M221 1367.2l-6.6 9.1M241.8 1367.2l-6.8 10.7M262.5 1367.2l-6.8 12.4M283.2 1367.2l-6.4 14M304 1367.2l-5.6 15.3M324.8 1367.2l-4.5 16.3M345.5 1367.2l-3.2 17.1M366.2 1367.2l-1.6 17.6M387 1367.2l-0.1 17.8M407.8 1367.2l1.5 17.6M428.5 1367.2l3.1 17.2M449.2 1367.2l4.4 16.4M470 1367.2l5.5 15.4M490.8 1367.2l6.3 14.1M511.5 1367.2l6.8 12.5M532.2 1367.2l6.8 10.8M553 1367.2l6.7 9.2M573.8 1367.2l6.1 7.5M594.5 1367.2l5.1 5.6M615.2 1367.2l3.6 3.6M636 1367.2l1.6 1.4M158.8 1387.9l-1.3 1.4M179.5 1387.9l-3 3.6M200.2 1387.9l-4.2 5.6M221 1387.9l-4.9 7.4M241.8 1387.9l-5.3 9M262.5 1387.9l-5.3 10.5M283.2 1387.9l-5 11.8M304 1387.9l-4.4 13.1M324.8 1387.9l-3.6 14.2M345.5 1387.9l-2.5 15M366.2 1387.9l-1.3 15.4M387 1387.9l0 15.6M407.8 1387.9l1.2 15.5M428.5 1387.9l2.5 15M449.2 1387.9l3.5 14.2M470 1387.9l4.4 13.2M490.8 1387.9l4.9 11.9M511.5 1387.9l5.3 10.6M532.2 1387.9l5.3 9.1M553 1387.9l5 7.5M573.8 1387.9l4.3 5.7M594.5 1387.9l3.1 3.8M615.2 1387.9l1.4 1.5M179.5 1408.7l-0.8 1M200.2 1408.7l-2.3 3.3M221 1408.7l-3.2 5.2M241.8 1408.7l-3.7 6.9M262.5 1408.7l-3.9 8.4M283.2 1408.7l-3.7 9.7M304 1408.7l-3.3 10.8M324.8 1408.7l-2.7 11.7M345.5 1408.7l-1.9 12.3M366.2 1408.7l-1 12.7M387 1408.7l0 12.8M407.8 1408.7l0.9 12.7M428.5 1408.7l1.9 12.3M449.2 1408.7l2.7 11.7M470 1408.7l3.3 10.8M490.8 1408.7l3.7 9.8M511.5 1408.7l3.9 8.5M532.2 1408.7l3.7 7M553 1408.7l3.2 5.3M573.8 1408.7l2.3 3.4M594.5 1408.7l0.9 1.2M221 1429.4l-1.3 2.3M241.8 1429.4l-2.1 4.1M262.5 1429.4l-2.5 5.7M283.2 1429.4l-2.5 7M304 1429.4l-2.3 8.2M324.8 1429.4l-2 9M345.5 1429.4l-1.4 9.7M366.2 1429.4l-0.7 10.1M387 1429.4l0 10.2M407.8 1429.4l0.7 10.1M428.5 1429.4l1.4 9.7M449.2 1429.4l1.9 9.1M470 1429.4l2.3 8.2M490.8 1429.4l2.5 7.1M511.5 1429.4l2.5 5.8M532.2 1429.4l2.1 4.2M553 1429.4l1.4 2.4M262.5 1450.2l-0.9 2.3M283.2 1450.2l-1.3 3.8M304 1450.2l-1.3 5M324.8 1450.2l-1.2 5.9M345.5 1450.2l-0.9 6.5M366.2 1450.2l-0.5 6.9M387 1450.2l0 7.1M407.8 1450.2l0.4 6.9M428.5 1450.2l0.9 6.6M449.2 1450.2l1.2 5.9M470 1450.2l1.3 5M490.8 1450.2l1.3 3.9M511.5 1450.2l1 2.4M324.8 1470.9l-0.4 1.9M345.5 1470.9l-0.3 2.7M366.2 1470.9l-0.2 3.1M387 1470.9l0 3.3M407.8 1470.9l0.2 3.1M428.5 1470.9l0.3 2.7M449.2 1470.9l0.4 2" stroke="#0b0b14" stroke-width="2.0" fill="none"/><path d="M324.3 804.3L326.3 805.1L322.6 805.8zM345 803.3L347.3 804.7L343.2 805.2zM366 802.8L368.2 804.5L364 804.8zM387 802.6L389.1 804.5L384.8 804.5zM408 802.7L410 804.7L405.8 804.5zM428.9 803.3L430.8 805.2L426.7 804.7zM449.7 804.2L451.4 805.8L447.6 805.1zM261.2 824.5L263.7 825.2L259.9 826.7zM281.6 822.6L284.5 824.2L280.1 825.6zM302.2 821.1L305.5 823.4L300.6 824.7zM323.2 820L326.5 822.9L321.3 824zM344.3 819.1L347.6 822.6L342.1 823.3zM365.6 818.6L368.8 822.5L363.1 822.9zM387 818.4L389.9 822.6L384.1 822.6zM408.3 818.6L410.9 822.9L405.2 822.5zM429.6 819.1L431.9 823.3L426.3 822.6zM450.8 819.9L452.7 823.9L447.5 822.9zM471.7 821L473.4 824.7L468.5 823.4zM492.4 822.5L493.9 825.6L489.5 824.1zM512.8 824.4L514.1 826.6L510.3 825.1zM219.2 845.3L221.8 845.7L218.3 847.7zM239 843L242.4 844.3L238.1 846.5zM259.3 840.9L263.2 843.2L258.2 845.4zM280 839.2L284.2 842.4L278.6 844.4zM300.9 837.8L305.2 841.7L299.4 843.4zM322.2 836.7L326.3 841.3L320.4 842.6zM343.7 835.8L347.5 841.1L341.5 841.9zM365.3 835.3L368.7 841L362.7 841.4zM387 835.1L390 841.1L384 841.1zM408.7 835.3L411.2 841.4L405.3 841zM430.3 835.8L432.4 841.9L426.5 841zM451.8 836.6L453.6 842.5L447.7 841.3zM473 837.7L474.6 843.3L468.8 841.7zM494 839.1L495.4 844.3L489.8 842.3zM514.7 840.8L515.8 845.3L510.8 843.2zM535 842.8L536 846.4L531.6 844.3zM554.8 845.2L555.8 847.6L552.2 845.6zM178.4 867.8L180.3 867.3L177.5 869.5zM197.3 864.8L200.5 865.5L196.7 868.1zM216.8 862.4L221 864L216.4 866.9zM236.9 860.2L241.7 862.8L236.5 865.7zM257.5 858.3L262.4 861.9L257 864.4zM278.4 856.6L283.4 861.2L277.8 863.3zM299.7 855.2L304.5 860.6L298.7 862.3zM321.2 854L325.7 860.1L319.9 861.5zM343 853.2L347.1 859.9L341.2 860.8zM364.9 852.7L368.5 859.9L362.5 860.3zM387 852.5L390 860L384 860zM409 852.7L411.4 860.3L405.4 859.9zM430.9 853.2L432.8 860.8L426.9 859.9zM452.7 854L454.1 861.5L448.2 860.1zM474.3 855.1L475.2 862.3L469.5 860.5zM495.6 856.5L496.2 863.3L490.6 861.1zM516.5 858.2L517 864.4L511.6 861.9zM537.1 860.1L537.6 865.6L532.3 862.7zM557.2 862.3L557.6 866.8L553 863.9zM576.8 864.7L577.4 868L573.5 865.4zM595.7 867.5L596.6 869.4L593.7 867.2zM157 888L159.2 887.6L156.4 890.1zM175.5 885.1L179.2 885.7L175.4 888.8zM194.8 882.6L199.5 884.2L194.9 887.6zM214.6 880.3L220 883L215 886.3zM234.9 878.2L240.6 881.9L235.4 885zM255.6 876.3L261.4 881.1L256 883.8zM276.8 874.6L282.5 880.3L276.9 882.6zM298.4 873.2L303.6 879.3L297.9 881.2zM320.2 872L325 878.6L319.2 880zM342.3 871.2L346.5 878.1L340.6 879.1zM364.6 870.7L368.2 877.9L362.2 878.4zM386.9 870.5L390 878L384 878zM409.3 870.6L411.7 878.4L405.7 877.9zM431.6 871.1L433.3 879L427.4 878.1zM453.7 872L454.8 880L449 878.5zM475.6 873.1L476.1 881.1L470.4 879.3zM497.1 874.5L497 882.6L491.5 880.3zM518.3 876.2L517.9 883.7L512.6 881zM539.1 878.1L538.6 884.9L533.4 881.9zM559.5 880.2L559.1 886.2L554.1 882.9zM579.3 882.5L579.1 887.5L574.5 884.1zM598.6 885L598.6 888.8L594.9 885.6zM617.1 887.8L617.7 890.1L614.9 887.5zM136.1 908.9L138.2 908.3L135.7 911.1zM154.1 906.1L158 906.4L154.5 909.9zM173 903.5L178.1 904.7L173.7 908.7zM192.4 901.1L198.2 903.5L193.6 907.3zM212.4 898.9L218.7 902.4L213.8 905.9zM232.9 896.8L239.4 901.4L234.3 904.6zM253.8 894.9L260.1 900L254.8 902.9zM275.3 893.2L281.1 898.8L275.7 901.3zM297.1 891.8L302.5 897.8L296.8 899.9zM319.2 890.6L324.1 897.1L318.3 898.7zM341.6 889.8L346 896.6L340.1 897.7zM364.2 889.3L367.9 896.5L362 897zM386.9 889.1L390 896.6L384 896.6zM409.6 889.3L412 897L406 896.5zM432.2 889.8L433.9 897.7L428 896.6zM454.7 890.6L455.6 898.6L449.8 897zM476.8 891.7L477.1 899.8L471.5 897.7zM498.7 893.1L498.3 901.2L492.9 898.7zM520.1 894.8L519.2 902.8L513.9 899.9zM541.1 896.7L539.7 904.6L534.6 901.3zM561.7 898.7L560.2 905.8L555.3 902.3zM581.7 901L580.4 907.2L575.8 903.4zM601.1 903.3L600.4 908.6L595.9 904.6zM620 905.9L619.6 909.8L616.1 906.3zM638.1 908.7L638.4 911L635.8 908.2zM115.9 930.4L117.6 929.4L115.4 932.2zM133.2 927.5L136.9 927.4L133.8 931.1zM151.6 924.9L156.8 925.6L152.8 930zM170.6 922.5L176.7 924.4L172.5 928.6zM190.1 920.2L196.9 923.2L192.5 927.3zM210.2 918L217.3 922L212.6 925.7zM230.9 916L237.7 920.4L232.8 923.9zM252.1 914.1L258.5 919L253.4 922.1zM273.7 912.5L279.8 917.8L274.4 920.5zM295.8 911.1L301.4 916.9L295.8 919.1zM318.2 909.9L323.3 916.2L317.5 918zM341 909.1L345.4 915.8L339.5 917zM363.9 908.6L367.6 915.7L361.7 916.3zM386.9 908.4L390 915.9L384 915.9zM410 908.5L412.2 916.3L406.3 915.7zM432.9 909L434.4 917L428.5 915.8zM455.7 909.9L456.4 917.9L450.6 916.2zM478.1 911L478.1 919.1L472.6 916.8zM500.2 912.4L499.6 920.4L494.2 917.8zM521.9 914L520.6 922L515.5 918.9zM543.1 915.9L541.3 923.7L536.3 920.3zM563.8 917.9L561.4 925.6L556.8 921.9zM583.9 920.1L581.6 927.2L577.1 923.2zM603.5 922.3L601.6 928.5L597.3 924.3zM622.6 924.7L621.3 929.9L617.3 925.5zM640.9 927.3L640.3 931L637.1 927.2zM658.4 930.2L658.7 932.1L656.5 929.3zM113 949.2L116.2 948.7L113.6 952.4zM130.7 946.7L135.7 946.9L132.3 951.5zM149.2 944.4L155.4 945.5L151.6 950.2zM168.3 942.1L175.3 944.4L171.3 948.8zM187.9 939.9L195.4 943.1L191.1 947.3zM208.2 937.8L215.4 941.4L210.9 945.4zM229 935.8L236 939.9L231.2 943.6zM250.3 934L257 938.6L252 941.9zM272.2 932.4L278.5 937.5L273.2 940.4zM294.5 931L300.3 936.6L294.8 939.1zM317.2 929.9L322.5 936L316.8 937.9zM340.3 929L344.9 935.7L339 937zM363.5 928.5L367.4 935.6L361.4 936.3zM386.9 928.3L389.9 935.8L383.9 935.8zM410.3 928.5L412.5 936.3L406.5 935.6zM433.6 929L434.9 936.9L429 935.7zM456.6 929.8L457.1 937.9L451.4 936zM479.4 930.9L479.1 939L473.6 936.6zM501.7 932.3L500.7 940.3L495.5 937.4zM523.6 933.9L522 941.8L517 938.5zM545 935.7L542.8 943.5L538 939.8zM565.8 937.7L563.1 945.3L558.6 941.3zM586.1 939.8L582.9 947.2L578.7 942.9zM605.8 941.9L602.7 948.8L598.7 944.3zM624.9 944.2L622.5 950.1L618.7 945.5zM643.4 946.6L641.8 951.4L638.4 946.8zM661.2 949L660.5 952.3L657.9 948.5zM93.5 971.2L95.9 970.2L93.9 973.7zM110.5 968.8L115 968.4L112.2 972.9zM128.4 966.5L134.4 966.9L131.1 971.9zM146.9 964.4L154 965.8L150.5 970.6zM166.1 962.2L173.8 964.5L170.1 969.2zM185.8 960.2L193.4 962.9L189.5 967.4zM206.2 958.2L213.6 961.3L209.4 965.6zM227.1 956.3L234.3 959.9L229.8 963.9zM248.6 954.5L255.5 958.7L250.8 962.3zM270.7 953L277.2 957.7L272.2 960.9zM293.3 951.6L299.3 956.9L294 959.6zM316.2 950.5L321.7 956.4L316.1 958.6zM339.6 949.6L344.3 956.2L338.5 957.6zM363.2 949.1L367.1 956.2L361.2 956.9zM386.9 948.9L389.9 956.4L383.9 956.4zM410.6 949.1L412.7 956.9L406.8 956.2zM434.2 949.6L435.4 957.6L429.5 956.2zM457.6 950.4L457.8 958.5L452.2 956.4zM480.6 951.5L480 959.6L474.6 956.9zM503.2 952.9L501.8 960.8L496.7 957.7zM525.3 954.4L523.2 962.2L518.4 958.6zM546.8 956.2L544.2 963.8L539.7 959.8zM567.8 958L564.6 965.5L560.4 961.2zM588.2 960L584.6 967.3L580.6 962.8zM608 962.1L604 969.1L600.3 964.4zM627.2 964.2L623.6 970.5L620 965.7zM645.7 966.4L643 971.8L639.7 966.8zM663.7 968.6L662 972.9L659.1 968.2zM680.8 971L680.3 973.7L678.3 970.1zM91.1 991L94.6 990L92.5 994.3zM108.4 988.9L113.8 988.4L110.9 993.7zM126.3 986.9L133.1 987.3L130.1 992.5zM144.9 984.9L152.7 986.3L149.5 991.3zM164.1 982.9L171.9 984.7L168.5 989.6zM183.9 981L191.6 983.2L188 987.9zM204.3 979.1L211.9 981.8L208 986.3zM225.4 977.4L232.8 980.5L228.6 984.8zM247 975.7L254.2 979.4L249.6 983.3zM269.2 974.2L276.1 978.5L271.2 982zM292 972.9L298.4 977.9L293.2 980.9zM315.3 971.8L321 977.5L315.5 979.9zM338.9 971L343.9 977.3L338.1 979zM362.8 970.4L366.9 977.4L361 978.3zM386.9 970.2L389.9 977.7L383.9 977.8zM411 970.4L412.9 978.2L407 977.4zM434.9 970.9L435.8 978.9L430 977.3zM458.6 971.7L458.4 979.8L452.9 977.5zM481.8 972.8L480.7 980.8L475.5 977.8zM504.6 974.1L502.7 982L497.9 978.5zM526.9 975.6L524.3 983.3L519.8 979.4zM548.6 977.2L545.4 984.7L541.2 980.4zM569.7 979L566 986.2L562.1 981.7zM590.2 980.9L586.1 987.8L582.4 983.1zM610 982.8L605.6 989.5L602.2 984.6zM629.2 984.7L624.6 991.3L621.3 986.2zM647.9 986.7L644 992.4L641 987.3zM665.8 988.8L663.2 993.6L660.3 988.3zM683.1 990.8L681.7 994.3L679.5 989.9zM72.7 1013.2L74.8 1011.9L73.4 1015.6zM89.1 1011.3L93.5 1010.2L91.4 1015.2zM106.4 1009.4L112.6 1008.9L110 1014.4zM124.4 1007.6L131.9 1008L129.2 1013.4zM143 1005.8L151 1006.8L148.2 1012.1zM162.2 1004.1L170.2 1005.3L167.1 1010.5zM182.1 1002.3L190 1004L186.7 1009zM202.6 1000.7L210.4 1002.7L206.8 1007.5zM223.7 999L231.4 1001.6L227.5 1006.2zM245.5 997.5L252.9 1000.7L248.7 1004.9zM267.9 996.1L275 999.9L270.4 1003.8zM290.8 994.8L297.5 999.4L292.5 1002.7zM314.3 993.8L320.4 999.1L315 1001.8zM338.2 992.9L343.5 999.1L337.8 1001zM362.5 992.4L366.7 999.3L360.8 1000.3zM386.9 992.2L389.9 999.7L383.9 999.7zM411.3 992.4L413.1 1000.3L407.1 999.3zM435.6 992.9L436.1 1001L430.4 999.1zM459.5 993.7L458.9 1001.8L453.5 999.1zM483 994.8L481.4 1002.7L476.4 999.3zM506 996L503.5 1003.7L498.9 999.9zM528.4 997.4L525.3 1004.8L521 1000.6zM550.3 998.9L546.5 1006.1L542.6 1001.5zM571.4 1000.5L567.2 1007.5L563.6 1002.7zM592 1002.2L587.4 1008.9L584.1 1003.9zM611.9 1004L607 1010.4L603.9 1005.3zM631.1 1005.7L626 1012L623.1 1006.7zM649.8 1007.5L644.9 1013.3L642.2 1007.9zM667.8 1009.3L664.1 1014.3L661.5 1008.9zM685.1 1011.1L682.8 1015.1L680.6 1010.1zM701.6 1013.1L700.8 1015.6L699.3 1011.8zM70.9 1033.5L73.8 1032.1L72.3 1036.4zM87.4 1031.9L92.5 1030.6L90.5 1036.1zM104.8 1030.4L111.4 1029.7L109.3 1035.3zM122.7 1028.8L130.7 1028.9L128.5 1034.4zM141.3 1027.3L149.4 1027.6L146.9 1033.1zM160.6 1025.7L168.6 1026.4L165.9 1031.8zM180.5 1024.2L188.5 1025.2L185.6 1030.5zM201 1022.7L209 1024.1L205.8 1029.2zM222.2 1021.3L230.1 1023.2L226.6 1028.1zM244.1 1019.9L251.8 1022.4L247.9 1027zM266.6 1018.6L274 1021.8L269.8 1026zM289.7 1017.4L296.7 1021.4L292.1 1025.2zM313.4 1016.4L319.8 1021.3L314.7 1024.4zM337.5 1015.6L343.1 1021.4L337.6 1023.7zM362.1 1015.1L366.6 1021.8L360.7 1023zM386.9 1014.9L389.9 1022.4L383.9 1022.4zM411.7 1015.1L413.2 1023L407.3 1021.8zM436.2 1015.6L436.3 1023.6L430.7 1021.4zM460.4 1016.4L459.2 1024.3L454 1021.3zM484.1 1017.4L481.8 1025.1L477.1 1021.4zM507.3 1018.5L504.1 1026L499.9 1021.7zM529.8 1019.8L526 1026.9L522.2 1022.3zM551.7 1021.2L547.4 1028L543.9 1023.1zM573 1022.6L568.2 1029.2L565 1024.1zM593.6 1024.1L588.5 1030.4L585.6 1025.1zM613.5 1025.6L608.1 1031.7L605.5 1026.3zM632.8 1027.2L627.2 1033L624.7 1027.5zM651.4 1028.7L645.7 1034.4L643.3 1028.8zM669.4 1030.3L664.8 1035.3L662.7 1029.7zM686.8 1031.8L683.6 1036.1L681.6 1030.5zM703.4 1033.4L701.8 1036.4L700.4 1032zM69.4 1054.2L72.9 1052.6L71.6 1057.4zM86 1052.9L91.5 1051.4L89.9 1057.1zM103.3 1051.6L110.5 1050.7L108.7 1056.4zM121.3 1050.4L129.4 1049.9L127.5 1055.6zM139.9 1049.1L148 1048.8L145.9 1054.5zM159.2 1047.8L167.2 1047.8L165 1053.4zM179.1 1046.5L187.1 1046.8L184.7 1052.3zM199.6 1045.3L207.7 1045.9L205 1051.3zM220.9 1044.1L228.9 1045.2L225.9 1050.4zM242.8 1042.9L250.7 1044.5L247.4 1049.5zM265.4 1041.7L273.1 1044.1L269.4 1048.8zM288.6 1040.7L296.1 1043.8L291.8 1048.1zM312.5 1039.7L319.4 1043.9L314.6 1047.5zM336.9 1038.9L342.9 1044.3L337.6 1047zM361.7 1038.4L366.5 1044.9L360.7 1046.4zM386.9 1038.2L389.9 1045.6L383.9 1045.7zM412 1038.4L413.2 1046.4L407.3 1044.9zM436.9 1038.9L436.3 1046.9L430.9 1044.3zM461.3 1039.7L459.3 1047.5L454.4 1043.9zM485.2 1040.6L482 1048.1L477.8 1043.8zM508.5 1041.7L504.5 1048.7L500.7 1044zM531.1 1042.8L526.5 1049.5L523.2 1044.5zM553.1 1044L548 1050.3L545.1 1045.1zM574.3 1045.2L569 1051.3L566.3 1045.9zM595 1046.5L589.3 1052.3L586.9 1046.8zM614.9 1047.7L609.1 1053.3L606.8 1047.7zM634.2 1049L628.2 1054.4L626.1 1048.8zM652.8 1050.3L646.7 1055.5L644.8 1049.8zM670.9 1051.6L665.4 1056.4L663.6 1050.6zM688.2 1052.8L684.2 1057.1L682.6 1051.3zM704.9 1054.1L702.6 1057.4L701.3 1052.5zM720.4 1055.6L720.2 1057.4L719.3 1054.1zM52.6 1076.2L54 1074.6L53.3 1078.2zM68.2 1075.2L72.1 1073.2L71.1 1078.4zM84.9 1074.2L90.7 1072.4L89.5 1078.2zM102.2 1073.2L109.7 1071.8L108.3 1077.7zM120.2 1072.2L128.2 1071.1L126.7 1076.9zM138.8 1071.2L146.8 1070.3L145.2 1076.1zM158 1070.3L166.1 1069.5L164.4 1075.3zM177.9 1069.3L186 1068.8L184.1 1074.5zM198.5 1068.3L206.6 1068.1L204.5 1073.7zM219.8 1067.3L227.9 1067.5L225.5 1073zM241.8 1066.4L249.8 1067L247.1 1072.4zM264.4 1065.4L272.4 1066.7L269.3 1071.9zM287.7 1064.5L295.5 1066.6L291.9 1071.4zM311.6 1063.7L319 1066.8L314.8 1071.1zM336.2 1062.9L342.8 1067.4L337.9 1070.8zM361.3 1062.3L366.4 1067.8L360.7 1069.8zM386.8 1062.1L389.9 1068.6L383.9 1068.7zM412.4 1062.3L413.2 1069.7L407.5 1067.8zM437.6 1062.9L436 1070.7L431 1067.4zM462.2 1063.6L459 1071.1L454.8 1066.8zM486.2 1064.5L482 1071.4L478.4 1066.6zM509.5 1065.4L504.6 1071.8L501.5 1066.7zM532.1 1066.3L526.8 1072.4L524.1 1067zM554.1 1067.3L548.4 1073L546.1 1067.5zM575.5 1068.2L569.5 1073.7L567.4 1068.1zM596.1 1069.2L589.9 1074.4L588 1068.7zM616 1070.2L609.7 1075.2L608 1069.5zM635.3 1071.2L628.9 1076L627.3 1070.3zM654 1072.2L647.4 1076.9L646 1071.1zM672 1073.1L665.8 1077.6L664.5 1071.8zM689.4 1074.1L684.7 1078.2L683.4 1072.3zM706.1 1075.1L703.1 1078.4L702 1073.1zM721.8 1076.1L720.9 1078.3L720.2 1074.5zM51.6 1097L53.4 1095.2L52.9 1099.2zM67.4 1096.3L71.5 1094L70.8 1099.5zM84.1 1095.6L90.1 1093.5L89.2 1099.4zM101.4 1095L109 1093.1L108.1 1099zM119.4 1094.3L127.2 1092.6L126.3 1098.5zM138 1093.7L145.9 1092L144.8 1097.9zM157.2 1093L165.1 1091.5L164 1097.4zM177.1 1092.3L185.1 1091L183.8 1096.8zM197.7 1091.6L205.7 1090.5L204.3 1096.3zM219 1091L227 1090.1L225.4 1095.9zM240.9 1090.3L249 1089.8L247.1 1095.5zM263.6 1089.6L271.7 1089.6L269.5 1095.2zM286.9 1089L294.9 1089.6L292.3 1095zM310.8 1088.3L318.7 1089.9L315.4 1094.9zM335.5 1087.6L342.1 1089.9L337.9 1094.1zM360.8 1086.9L365.9 1090.3L360.6 1093zM386.8 1086.6L389.9 1091.4L383.9 1091.5zM412.9 1086.9L413.3 1092.9L407.9 1090.3zM438.3 1087.5L436 1094.1L431.7 1089.9zM462.9 1088.2L458.5 1094.8L455.1 1089.9zM486.9 1088.9L481.6 1095L478.9 1089.6zM510.3 1089.6L504.4 1095.2L502.2 1089.6zM533 1090.3L526.8 1095.5L524.9 1089.8zM555 1090.9L548.6 1095.9L546.9 1090.1zM576.3 1091.6L569.7 1096.3L568.3 1090.5zM596.9 1092.3L590.2 1096.8L589 1091zM616.9 1092.9L610.1 1097.3L608.9 1091.5zM636.2 1093.6L629.3 1097.9L628.2 1092zM654.8 1094.3L647.9 1098.5L646.9 1092.5zM672.8 1094.9L666 1099L665.1 1093.1zM690.2 1095.6L684.9 1099.4L684 1093.4zM706.9 1096.3L703.4 1099.6L702.6 1094zM722.7 1096.9L721.3 1099.2L720.8 1095.1zM51.1 1117.9L53 1115.9L52.7 1120.1zM66.9 1117.6L71.1 1115L70.7 1120.7zM83.6 1117.2L89.6 1114.7L89.2 1120.6zM100.9 1116.9L108.5 1114.5L108 1120.5zM118.9 1116.6L126.6 1114.2L126.1 1120.2zM137.4 1116.2L145.2 1113.9L144.6 1119.9zM156.7 1115.9L164.4 1113.7L163.9 1119.6zM176.6 1115.6L184.4 1113.4L183.7 1119.4zM197.2 1115.2L205 1113.2L204.3 1119.1zM218.5 1114.9L226.3 1113L225.5 1118.9zM240.4 1114.5L248.3 1112.8L247.4 1118.7zM263.1 1114.2L271 1112.7L269.8 1118.6zM286.3 1113.8L294.3 1112.7L292.9 1118.5zM310.3 1113.4L317.7 1112.7L315.8 1118.4zM334.8 1113L340.9 1112.6L338.3 1118zM360.2 1112.4L364.8 1113L361 1117zM386.8 1111.9L389.3 1114.6L384.5 1114.8zM413.4 1112.3L412.8 1116.9L408.9 1113zM438.9 1112.9L435.6 1118L432.9 1112.6zM463.5 1113.4L458 1118.4L456.2 1112.7zM487.5 1113.8L480.9 1118.5L479.5 1112.7zM510.8 1114.2L504 1118.6L502.9 1112.7zM533.5 1114.5L526.6 1118.7L525.6 1112.8zM555.5 1114.9L548.5 1118.9L547.6 1112.9zM576.8 1115.2L569.7 1119.1L569 1113.1zM597.4 1115.5L590.3 1119.3L589.6 1113.4zM617.4 1115.9L610.2 1119.6L609.6 1113.6zM636.7 1116.2L629.5 1119.9L628.9 1113.9zM655.3 1116.6L648.1 1120.2L647.6 1114.2zM673.3 1116.9L666.1 1120.4L665.6 1114.5zM690.7 1117.2L685 1120.6L684.5 1114.6zM707.4 1117.5L703.5 1120.7L703.1 1115zM723.3 1117.9L721.5 1120.1L721.2 1115.9zM50.9 1138.9L52.7 1136.8L52.8 1141zM66.7 1138.9L70.8 1136.1L70.8 1141.8zM83.4 1138.9L89.3 1135.9L89.3 1141.9zM100.7 1138.9L108.2 1135.9L108.2 1141.9zM118.7 1138.9L126.2 1135.9L126.2 1141.9zM137.3 1138.9L144.8 1135.9L144.8 1141.9zM156.5 1138.9L164 1135.9L164 1141.9zM176.4 1138.9L183.9 1135.9L183.9 1141.9zM197 1138.9L204.5 1135.9L204.5 1141.9zM218.3 1138.9L225.8 1135.9L225.8 1141.9zM240.3 1138.9L247.8 1135.9L247.8 1141.9zM262.9 1138.9L270.4 1135.9L270.4 1141.9zM286.2 1139L293.6 1135.9L293.7 1141.9zM310 1139L316.6 1135.9L316.7 1141.9zM334.6 1139L339.5 1135.9L339.5 1141.9zM359.8 1139L362.7 1136.5L362.7 1141.4zM413.9 1139L411.1 1141.4L411.2 1136.5zM439.2 1139L434.4 1141.9L434.4 1135.9zM463.7 1139L457.2 1141.9L457.2 1135.9zM487.7 1139L480.2 1141.9L480.2 1135.9zM511 1138.9L503.5 1141.9L503.5 1135.9zM533.6 1138.9L526.1 1141.9L526.1 1135.9zM555.6 1138.9L548.1 1141.9L548.1 1135.9zM577 1138.9L569.5 1141.9L569.5 1135.9zM597.6 1138.9L590.1 1141.9L590.1 1135.9zM617.6 1138.9L610.1 1141.9L610.1 1135.9zM636.8 1138.9L629.3 1141.9L629.3 1135.9zM655.5 1138.9L648 1141.9L648 1135.9zM673.5 1138.9L666 1141.9L666 1135.9zM690.8 1138.9L684.8 1141.9L684.8 1135.9zM707.6 1138.9L703.4 1141.8L703.4 1136zM723.4 1138.9L721.4 1141.1L721.4 1136.7zM51.1 1159.9L52.7 1157.7L53 1161.9zM66.9 1160.2L70.7 1157.2L71.1 1162.8zM83.6 1160.6L89.2 1157.2L89.6 1163.2zM100.9 1160.9L108 1157.4L108.5 1163.3zM118.9 1161.3L126.1 1157.6L126.6 1163.6zM137.5 1161.6L144.6 1157.9L145.2 1163.9zM156.7 1162L163.9 1158.2L164.5 1164.2zM176.6 1162.3L183.7 1158.5L184.4 1164.4zM197.2 1162.6L204.3 1158.7L205 1164.7zM218.5 1163L225.5 1159L226.3 1164.9zM240.4 1163.3L247.3 1159.2L248.3 1165.1zM263.1 1163.7L269.8 1159.3L271 1165.2zM286.3 1164.1L292.9 1159.3L294.4 1165.2zM310.3 1164.5L315.8 1159.5L317.7 1165.2zM334.8 1165L338.3 1159.9L341 1165.3zM360.2 1165.5L361 1160.9L364.9 1164.9zM386.8 1166L384.4 1163.1L389.3 1163.2zM413.4 1165.6L408.9 1164.8L412.8 1161zM438.9 1165L432.8 1165.3L435.6 1159.9zM463.5 1164.5L456.1 1165.2L458.1 1159.5zM487.5 1164.1L479.5 1165.2L480.9 1159.3zM510.8 1163.7L502.8 1165.2L504 1159.3zM533.5 1163.4L525.6 1165.1L526.6 1159.2zM555.5 1163L547.6 1164.9L548.5 1159zM576.8 1162.7L569 1164.7L569.7 1158.7zM597.4 1162.3L589.6 1164.5L590.3 1158.5zM617.4 1162L609.6 1164.2L610.2 1158.2zM636.7 1161.6L628.9 1163.9L629.5 1157.9zM655.3 1161.3L647.6 1163.6L648.1 1157.7zM673.3 1160.9L665.6 1163.4L666.1 1157.4zM690.7 1160.6L684.5 1163.2L685 1157.2zM707.4 1160.3L703.1 1162.9L703.5 1157.1zM723.3 1159.9L721.2 1161.9L721.5 1157.7zM51.7 1180.8L52.9 1178.6L53.4 1182.6zM67.4 1181.5L70.8 1178.3L71.5 1183.8zM84.1 1182.2L89.2 1178.4L90.1 1184.3zM101.4 1182.8L108.1 1178.8L109 1184.7zM119.4 1183.5L126.3 1179.3L127.3 1185.2zM138 1184.2L144.8 1179.9L145.9 1185.8zM157.2 1184.9L164 1180.5L165.2 1186.3zM177.1 1185.6L183.8 1181L185.1 1186.8zM197.7 1186.2L204.3 1181.5L205.7 1187.3zM219 1186.9L225.4 1182L227 1187.7zM241 1187.6L247.1 1182.4L249 1188.1zM263.6 1188.3L269.4 1182.7L271.7 1188.3zM286.9 1188.9L292.3 1182.9L294.9 1188.3zM310.8 1189.6L315.4 1183L318.8 1188zM335.5 1190.3L337.9 1183.7L342.1 1188zM360.8 1191L360.6 1184.8L365.9 1187.6zM386.8 1191.3L383.9 1186.3L389.9 1186.4zM412.8 1191L407.9 1187.5L413.3 1184.9zM438.3 1190.4L431.7 1188L436 1183.8zM462.9 1189.7L455.1 1188L458.5 1183zM486.9 1189L478.9 1188.3L481.6 1182.9zM510.3 1188.3L502.2 1188.3L504.4 1182.7zM532.9 1187.6L524.9 1188.1L526.8 1182.4zM554.9 1187L546.9 1187.8L548.6 1182zM576.3 1186.3L568.3 1187.3L569.7 1181.5zM596.9 1185.6L588.9 1186.9L590.2 1181zM616.9 1184.9L608.9 1186.4L610.1 1180.5zM636.1 1184.2L628.2 1185.8L629.3 1179.9zM654.8 1183.6L646.9 1185.3L647.9 1179.4zM672.8 1182.9L665.1 1184.7L666 1178.8zM690.2 1182.2L684 1184.4L684.9 1178.4zM706.9 1181.6L702.6 1183.8L703.4 1178.3zM722.7 1180.9L720.8 1182.7L721.3 1178.6zM52.6 1201.6L53.3 1199.6L54 1203.2zM68.2 1202.7L71.1 1199.4L72.1 1204.6zM84.9 1203.6L89.5 1199.6L90.7 1205.5zM102.2 1204.6L108.3 1200.1L109.7 1206zM120.2 1205.6L126.8 1200.9L128.2 1206.7zM138.8 1206.6L145.2 1201.7L146.8 1207.5zM158.1 1207.6L164.4 1202.6L166.1 1208.3zM178 1208.6L184.1 1203.4L186 1209.1zM198.6 1209.6L204.5 1204.1L206.6 1209.7zM219.8 1210.5L225.5 1204.8L227.9 1210.3zM241.8 1211.5L247.1 1205.5L249.8 1210.8zM264.4 1212.4L269.3 1206L272.4 1211.2zM287.7 1213.3L291.9 1206.4L295.5 1211.3zM311.6 1214.2L314.8 1206.8L319.1 1211zM336.2 1215L337.9 1207.1L342.9 1210.4zM361.3 1215.6L360.7 1208.1L366.4 1210zM386.8 1215.8L383.9 1209.2L389.9 1209.2zM412.4 1215.6L407.4 1210L413.2 1208.2zM437.6 1215L431 1210.4L436 1207.1zM462.2 1214.3L454.8 1211L459 1206.8zM486.1 1213.4L478.3 1211.2L482 1206.5zM509.5 1212.5L501.5 1211.2L504.6 1206zM532.1 1211.6L524.1 1210.9L526.8 1205.5zM554.1 1210.6L546 1210.4L548.4 1204.9zM575.4 1209.6L567.4 1209.8L569.5 1204.2zM596.1 1208.6L588 1209.1L589.9 1203.4zM616 1207.7L608 1208.4L609.7 1202.6zM635.3 1206.7L627.3 1207.6L628.9 1201.8zM653.9 1205.7L645.9 1206.7L647.4 1200.9zM672 1204.7L664.4 1206L665.8 1200.2zM689.3 1203.7L683.4 1205.5L684.6 1199.6zM706 1202.7L702 1204.7L703.1 1199.4zM721.8 1201.7L720.2 1203.3L720.9 1199.5zM69.4 1223.6L71.6 1220.4L72.9 1225.2zM86 1224.9L89.9 1220.7L91.6 1226.4zM103.4 1226.2L108.7 1221.4L110.5 1227.1zM121.3 1227.5L127.5 1222.2L129.4 1227.9zM139.9 1228.7L146 1223.4L148 1229zM159.2 1230L165 1224.5L167.3 1230zM179.1 1231.3L184.7 1225.5L187.2 1231zM199.7 1232.6L205 1226.5L207.7 1231.9zM220.9 1233.8L225.9 1227.5L228.9 1232.7zM242.8 1235L247.4 1228.3L250.7 1233.3zM265.4 1236.1L269.4 1229.1L273.2 1233.8zM288.6 1237.2L291.8 1229.8L296.1 1234zM312.5 1238.1L314.6 1230.3L319.4 1234zM336.9 1238.9L337.6 1230.9L342.9 1233.6zM361.7 1239.5L360.7 1231.5L366.5 1233zM386.9 1239.7L383.9 1232.2L389.9 1232.2zM412 1239.5L407.3 1232.9L413.2 1231.5zM436.9 1239L430.9 1233.6L436.3 1230.9zM461.3 1238.2L454.4 1234L459.3 1230.4zM485.2 1237.2L477.8 1234L482 1229.8zM508.4 1236.2L500.7 1233.8L504.5 1229.1zM531.1 1235.1L523.2 1233.4L526.5 1228.4zM553 1233.9L545 1232.7L548 1227.5zM574.3 1232.6L566.3 1231.9L569 1226.6zM594.9 1231.4L586.9 1231.1L589.3 1225.6zM614.9 1230.1L606.8 1230.1L609 1224.5zM634.2 1228.8L626.1 1229.1L628.2 1223.4zM652.8 1227.5L644.7 1228L646.7 1222.3zM670.8 1226.3L663.6 1227.2L665.4 1221.4zM688.2 1225L682.6 1226.5L684.2 1220.7zM704.9 1223.7L701.2 1225.3L702.6 1220.4zM720.3 1222.2L719.3 1223.7L720.1 1220.4zM70.9 1244.3L72.4 1241.4L73.8 1245.7zM87.5 1245.9L90.5 1241.7L92.5 1247.2zM104.8 1247.4L109.3 1242.5L111.5 1248.1zM122.8 1249L128.5 1243.4L130.8 1248.9zM141.4 1250.5L147 1244.7L149.4 1250.2zM160.6 1252.1L166 1246.1L168.7 1251.4zM180.5 1253.6L185.6 1247.4L188.5 1252.6zM201 1255.1L205.8 1248.6L209 1253.7zM222.2 1256.6L226.6 1249.8L230.1 1254.6zM244.1 1257.9L247.9 1250.8L251.8 1255.5zM266.6 1259.2L269.8 1251.8L274 1256.1zM289.7 1260.4L292.1 1252.7L296.7 1256.5zM313.4 1261.4L314.7 1253.5L319.8 1256.6zM337.6 1262.2L337.6 1254.2L343.2 1256.4zM362.1 1262.8L360.7 1254.8L366.6 1256zM386.9 1263L383.9 1255.5L389.9 1255.5zM411.6 1262.8L407.3 1256L413.2 1254.9zM436.2 1262.3L430.7 1256.4L436.3 1254.2zM460.4 1261.5L454 1256.6L459.2 1253.5zM484.1 1260.5L477.1 1256.5L481.8 1252.7zM507.3 1259.3L499.9 1256.1L504.1 1251.9zM529.8 1258L522.1 1255.5L526 1250.9zM551.7 1256.6L543.9 1254.7L547.4 1249.8zM573 1255.2L565 1253.8L568.2 1248.7zM593.5 1253.7L585.5 1252.7L588.5 1247.4zM613.5 1252.2L605.4 1251.5L608.1 1246.1zM632.7 1250.6L624.7 1250.3L627.2 1244.8zM651.4 1249.1L643.3 1249L645.6 1243.4zM669.4 1247.5L662.6 1248.1L664.8 1242.5zM686.8 1246L681.6 1247.3L683.6 1241.7zM703.4 1244.4L700.3 1245.8L701.8 1241.4zM72.8 1264.6L73.4 1262.2L74.9 1265.9zM89.2 1266.5L91.4 1262.6L93.5 1267.6zM106.5 1268.4L110.1 1263.4L112.6 1268.9zM124.4 1270.2L129.2 1264.4L131.9 1269.8zM143 1272L148.2 1265.7L151.1 1271zM162.3 1273.7L167.1 1267.3L170.2 1272.5zM182.1 1275.5L186.7 1268.8L190 1273.8zM202.6 1277.2L206.8 1270.3L210.4 1275.1zM223.7 1278.8L227.5 1271.6L231.4 1276.2zM245.5 1280.3L248.7 1272.9L252.9 1277.2zM267.9 1281.7L270.4 1274.1L275 1277.9zM290.9 1283L292.5 1275.1L297.5 1278.5zM314.3 1284.1L315 1276L320.4 1278.7zM338.2 1284.9L337.8 1276.8L343.5 1278.7zM362.5 1285.4L360.8 1277.5L366.7 1278.5zM386.9 1285.6L383.9 1278.1L389.9 1278.1zM411.3 1285.4L407.1 1278.5L413.1 1277.6zM435.6 1284.9L430.4 1278.7L436.1 1276.9zM459.5 1284.1L453.5 1278.7L458.9 1276.1zM483 1283.1L476.4 1278.5L481.4 1275.2zM506 1281.8L498.9 1278L503.5 1274.1zM528.4 1280.4L521 1277.2L525.2 1273zM550.2 1278.9L542.6 1276.3L546.5 1271.7zM571.4 1277.3L563.6 1275.2L567.2 1270.4zM591.9 1275.6L584 1273.9L587.4 1268.9zM611.8 1273.8L603.9 1272.5L606.9 1267.4zM631.1 1272.1L623.1 1271.1L625.9 1265.8zM649.7 1270.3L642.2 1269.9L644.9 1264.5zM667.7 1268.5L661.5 1268.9L664 1263.5zM685.1 1266.7L680.6 1267.7L682.7 1262.7zM701.5 1264.7L699.3 1266L700.8 1262.2zM91.2 1286.8L92.5 1283.5L94.7 1287.7zM108.4 1288.9L111 1284.1L113.8 1289.4zM126.3 1290.9L130.1 1285.3L133.1 1290.5zM144.9 1292.9L149.5 1286.5L152.8 1291.5zM164.1 1294.9L168.5 1288.2L172 1293.1zM183.9 1296.8L188 1289.9L191.7 1294.6zM204.3 1298.7L208 1291.5L212 1296zM225.4 1300.5L228.6 1293L232.8 1297.3zM247 1302.1L249.7 1294.5L254.2 1298.4zM269.3 1303.6L271.2 1295.8L276.1 1299.3zM292 1304.9L293.2 1296.9L298.4 1299.9zM315.3 1306L315.5 1298L321 1300.3zM338.9 1306.9L338.1 1298.8L343.9 1300.5zM362.8 1307.4L361 1299.5L366.9 1300.4zM386.9 1307.6L383.9 1300.1L389.9 1300.1zM411 1307.4L407 1300.4L412.9 1299.6zM434.9 1306.9L430 1300.5L435.8 1298.9zM458.5 1306.1L452.9 1300.4L458.4 1298zM481.8 1305L475.5 1300L480.7 1297zM504.6 1303.7L497.8 1299.3L502.7 1295.9zM526.9 1302.2L519.7 1298.4L524.3 1294.6zM548.6 1300.6L541.2 1297.4L545.4 1293.1zM569.7 1298.8L562 1296.1L566 1291.6zM590.1 1297L582.4 1294.7L586.1 1290zM610 1295L602.1 1293.2L605.6 1288.3zM629.2 1293.1L621.3 1291.6L624.5 1286.5zM647.8 1291.1L641 1290.5L644 1285.4zM665.8 1289L660.3 1289.5L663.1 1284.2zM683.1 1286.9L679.5 1287.9L681.6 1283.5zM93.6 1306.6L93.9 1304.1L95.9 1307.6zM110.6 1309L112.2 1304.9L115 1309.4zM128.5 1311.2L131.1 1305.9L134.4 1310.9zM147 1313.4L150.5 1307.2L154 1312zM166.1 1315.6L170.1 1308.5L173.9 1313.2zM185.9 1317.6L189.5 1310.4L193.5 1314.9zM206.2 1319.6L209.4 1312.2L213.7 1316.5zM227.2 1321.5L229.9 1313.9L234.4 1317.9zM248.7 1323.3L250.8 1315.5L255.6 1319.1zM270.7 1324.8L272.2 1316.9L277.3 1320.1zM293.3 1326.2L294 1318.2L299.3 1320.9zM316.3 1327.3L316.1 1319.2L321.7 1321.4zM339.6 1328.2L338.5 1320.2L344.4 1321.6zM363.2 1328.7L361.2 1320.9L367.1 1321.6zM386.9 1328.9L383.9 1321.4L389.9 1321.4zM410.6 1328.7L406.7 1321.6L412.7 1320.9zM434.2 1328.2L429.5 1321.6L435.4 1320.2zM457.6 1327.4L452.2 1321.4L457.8 1319.3zM480.6 1326.3L474.6 1320.9L480 1318.2zM503.2 1324.9L496.7 1320.1L501.8 1317zM525.3 1323.4L518.4 1319.1L523.2 1315.6zM546.8 1321.6L539.6 1317.9L544.1 1314zM567.8 1319.8L560.4 1316.6L564.6 1312.3zM588.2 1317.8L580.6 1315L584.6 1310.5zM607.9 1315.7L600.2 1313.3L604 1308.7zM627.1 1313.6L620 1312.1L623.5 1307.2zM645.7 1311.4L639.7 1311L643 1306zM663.6 1309.1L659.1 1309.5L661.9 1304.9zM680.7 1306.7L678.2 1307.7L680.3 1304.1zM113 1328.6L113.6 1325.4L116.2 1329.1zM130.8 1331.1L132.3 1326.3L135.7 1330.9zM149.2 1333.4L151.6 1327.6L155.4 1332.2zM168.3 1335.7L171.3 1328.9L175.4 1333.4zM188 1337.9L191.2 1330.5L195.4 1334.7zM208.2 1340L211 1332.4L215.4 1336.4zM229 1342L231.3 1334.2L236 1337.9zM250.4 1343.8L252.1 1335.9L257 1339.2zM272.2 1345.4L273.3 1337.4L278.5 1340.3zM294.5 1346.8L294.9 1338.7L300.3 1341.2zM317.3 1347.9L316.8 1339.9L322.5 1341.8zM340.3 1348.8L339 1340.8L344.9 1342.1zM363.5 1349.3L361.4 1341.5L367.4 1342.2zM386.9 1349.5L383.9 1342L389.9 1342zM410.3 1349.3L406.5 1342.2L412.5 1341.5zM433.6 1348.8L429 1342.1L434.9 1340.8zM456.6 1348L451.4 1341.8L457.1 1339.9zM479.3 1346.9L473.6 1341.2L479.1 1338.8zM501.7 1345.5L495.4 1340.4L500.7 1337.5zM523.6 1343.9L516.9 1339.3L521.9 1336zM545 1342.1L538 1338L542.7 1334.3zM565.8 1340.1L558.6 1336.5L563.1 1332.5zM586.1 1338L578.7 1334.8L582.9 1330.6zM605.8 1335.8L598.7 1333.5L602.7 1329zM624.9 1333.6L618.6 1332.3L622.5 1327.7zM643.4 1331.2L638.3 1331L641.8 1326.4zM661.2 1328.7L657.9 1329.2L660.5 1325.4zM116 1347.4L115.5 1345.6L117.6 1348.3zM133.3 1350.3L133.9 1346.7L137 1350.4zM151.6 1352.9L152.9 1347.8L156.8 1352.1zM170.6 1355.3L172.5 1349.2L176.7 1353.4zM190.2 1357.6L192.5 1350.5L196.9 1354.6zM210.3 1359.7L212.6 1352L217.3 1355.8zM231 1361.8L232.8 1353.9L237.7 1357.4zM252.1 1363.6L253.4 1355.7L258.6 1358.8zM273.8 1365.3L274.4 1357.2L279.8 1359.9zM295.8 1366.7L295.8 1358.6L301.4 1360.9zM318.3 1367.9L317.6 1359.8L323.3 1361.5zM341 1368.7L339.5 1360.8L345.4 1361.9zM363.9 1369.2L361.7 1361.5L367.7 1362.1zM386.9 1369.4L384 1361.9L390 1361.9zM410 1369.2L406.3 1362.1L412.2 1361.5zM432.9 1368.7L428.5 1362L434.4 1360.8zM455.6 1367.9L450.6 1361.6L456.4 1359.9zM478.1 1366.8L472.5 1360.9L478.1 1358.7zM500.2 1365.4L494.2 1360L499.5 1357.3zM521.8 1363.7L515.4 1358.8L520.6 1355.8zM543 1361.9L536.3 1357.5L541.2 1354zM563.7 1359.9L556.7 1355.9L561.4 1352.1zM583.9 1357.7L577.1 1354.6L581.6 1350.6zM603.5 1355.4L597.3 1353.5L601.6 1349.2zM622.5 1353L617.2 1352.2L621.2 1347.8zM640.9 1350.5L637.1 1350.5L640.2 1346.8zM658.3 1347.6L656.5 1348.5L658.7 1345.6zM136.2 1368.8L135.8 1366.7L138.3 1369.4zM154.2 1371.7L154.5 1367.9L158 1371.4zM173 1374.3L173.8 1369.1L178.1 1373zM192.5 1376.7L193.6 1370.5L198.3 1374.3zM212.4 1378.9L213.9 1371.8L218.7 1375.4zM232.9 1381L234.4 1373.1L239.4 1376.4zM253.9 1382.9L254.9 1374.8L260.1 1377.7zM275.3 1384.5L275.7 1376.5L281.1 1379zM297.1 1386L296.9 1377.9L302.5 1380zM319.3 1387.1L318.4 1379.1L324.1 1380.7zM341.7 1388L340.1 1380L346 1381.1zM364.3 1388.5L362 1380.7L367.9 1381.3zM386.9 1388.7L384 1381.1L390 1381.2zM409.6 1388.5L406 1381.3L412 1380.8zM432.2 1388L428 1381.1L433.9 1380.1zM454.6 1387.2L449.8 1380.7L455.6 1379.2zM476.8 1386L471.4 1380L477.1 1378zM498.6 1384.6L492.8 1379L498.3 1376.6zM520.1 1383L513.9 1377.8L519.1 1375zM541.1 1381.1L534.6 1376.4L539.6 1373.2zM561.6 1379L555.3 1375.4L560.2 1371.9zM581.6 1376.8L575.7 1374.4L580.4 1370.6zM601.1 1374.4L595.9 1373.1L600.3 1369.2zM619.9 1371.9L616.1 1371.5L619.6 1368zM638 1369L635.8 1369.6L638.4 1366.8zM157.1 1389.7L156.5 1387.6L159.2 1390.1zM175.6 1392.6L175.5 1388.9L179.2 1392zM194.8 1395.1L195 1390.2L199.5 1393.6zM214.6 1397.4L215 1391.5L220 1394.8zM234.9 1399.6L235.4 1392.8L240.6 1395.8zM255.7 1401.5L256.1 1394L261.4 1396.7zM276.9 1403.2L277 1395.1L282.5 1397.4zM298.4 1404.6L297.9 1396.5L303.6 1398.4zM320.3 1405.7L319.2 1397.7L325 1399.2zM342.3 1406.6L340.6 1398.7L346.6 1399.7zM364.6 1407.1L362.3 1399.3L368.2 1399.9zM386.9 1407.3L384 1399.7L390 1399.8zM409.3 1407.1L405.7 1399.9L411.7 1399.4zM431.6 1406.6L427.4 1399.7L433.3 1398.7zM453.7 1405.8L449 1399.2L454.8 1397.8zM475.5 1404.7L470.3 1398.5L476 1396.6zM497.1 1403.3L491.5 1397.5L497 1395.2zM518.3 1401.6L512.6 1396.8L517.9 1394.1zM539.1 1399.7L533.4 1395.9L538.6 1392.9zM559.4 1397.6L554 1394.9L559 1391.6zM579.3 1395.3L574.5 1393.7L579.1 1390.2zM598.5 1392.8L594.8 1392.1L598.6 1389zM617.1 1389.9L614.8 1390.3L617.7 1387.7zM178.5 1409.9L177.6 1408.3L180.3 1410.4zM197.3 1412.9L196.8 1409.7L200.5 1412.3zM216.9 1415.3L216.5 1410.9L221 1413.7zM237 1417.5L236.5 1412.1L241.8 1414.9zM257.5 1419.5L257 1413.3L262.5 1415.9zM278.4 1421.1L277.8 1414.4L283.4 1416.6zM299.7 1422.6L298.8 1415.4L304.5 1417.2zM321.2 1423.7L319.9 1416.2L325.7 1417.6zM343 1424.5L341.2 1416.9L347.1 1417.8zM365 1425L362.5 1417.4L368.5 1417.9zM387 1425.2L384 1417.8L390 1417.8zM409 1425.1L405.4 1417.9L411.4 1417.5zM430.9 1424.6L426.9 1417.9L432.8 1417zM452.7 1423.8L448.2 1417.6L454.1 1416.3zM474.3 1422.6L469.5 1417.2L475.2 1415.5zM495.6 1421.2L490.6 1416.6L496.2 1414.5zM516.5 1419.6L511.5 1415.9L517 1413.4zM537.1 1417.6L532.3 1415L537.5 1412.2zM557.2 1415.5L553 1413.8L557.6 1411zM576.8 1413L573.5 1412.4L577.3 1409.8zM595.6 1410.2L593.7 1410.6L596.5 1408.4zM219.3 1432.4L218.3 1430L221.8 1432zM239.1 1434.7L238.1 1431.3L242.4 1433.4zM259.3 1436.8L258.3 1432.4L263.2 1434.5zM280 1438.5L278.7 1433.4L284.2 1435.4zM301 1439.9L299.5 1434.4L305.2 1436zM322.2 1441.1L320.4 1435.2L326.3 1436.4zM343.7 1441.9L341.5 1435.8L347.5 1436.7zM365.3 1442.4L362.7 1436.3L368.7 1436.8zM387 1442.6L384 1436.6L390 1436.6zM408.6 1442.4L405.3 1436.8L411.2 1436.3zM430.3 1441.9L426.5 1436.7L432.4 1435.9zM451.7 1441.1L447.7 1436.5L453.6 1435.2zM473 1440L468.8 1436L474.5 1434.4zM494 1438.6L489.7 1435.4L495.3 1433.5zM514.7 1436.9L510.8 1434.6L515.8 1432.4zM535 1434.9L531.6 1433.5L535.9 1431.3zM554.8 1432.5L552.2 1432.1L555.7 1430.1zM261.3 1453.2L260 1451.1L263.7 1452.5zM281.6 1455.1L280.2 1452.1L284.5 1453.6zM302.3 1456.6L300.6 1453L305.5 1454.3zM323.2 1457.7L321.3 1453.8L326.5 1454.8zM344.4 1458.6L342.1 1454.4L347.6 1455.2zM365.6 1459.1L363.1 1454.9L368.7 1455.3zM387 1459.3L384.1 1455.2L389.9 1455.2zM408.3 1459.1L405.2 1455.3L410.9 1454.9zM429.6 1458.6L426.4 1455.2L431.9 1454.4zM450.8 1457.8L447.5 1454.9L452.7 1453.8zM471.7 1456.6L468.5 1454.4L473.4 1453.1zM492.4 1455.2L489.5 1453.6L493.8 1452.2zM512.7 1453.3L510.3 1452.6L514.1 1451.1zM324.3 1473.4L322.6 1471.9L326.3 1472.6zM345.1 1474.3L343.3 1472.5L347.3 1473zM366 1474.9L364 1473L368.2 1473.2zM387 1475.1L384.9 1473.2L389.1 1473.2zM408 1474.9L405.8 1473.2L410 1473zM428.9 1474.4L426.7 1473.1L430.7 1472.6zM449.7 1473.4L447.7 1472.6L451.4 1472z" fill="#0b0b14"/><path d="M111.8 797.6v5M111.8 1486.6v-5M180.3 797.6v5M180.3 1486.6v-5M594.5 797.6v5M594.5 1486.6v-5M663.8 797.6v5M663.8 1486.6v-5M46.4 863h5M735.8 863h-5M46.4 931.9h5M735.8 931.9h-5M46.4 1345h5M735.8 1345h-5M46.4 1413.8h5M735.8 1413.8h-5" stroke="#263238" stroke-width="1.2"/><rect x="46.4" y="797.6" width="689.4" height="689" fill="none" stroke="#263238" stroke-width="1.2"/></g><g id="pc"><rect x="989.3" y="20.3" width="739.9" height="1464.2" fill="#ffffff"/><path fill="#fbfeec" d="M989.3 20.3h30.9v30.9h-30.9zM1416 20.3h30.9v30.9h-30.9zM1446.5 20.3h30.9v30.9h-30.9zM1690.3 20.3h30.9v30.9h-30.9zM1659.9 50.8h30.9v30.9h-30.9zM1202.7 111.7h30.9v30.9h-30.9zM1446.5 111.7h30.9v30.9h-30.9zM1019.8 172.7h30.9v30.9h-30.9zM1050.3 203.1h30.9v30.9h-30.9zM1172.2 203.1h30.9v30.9h-30.9zM1202.7 203.1h30.9v30.9h-30.9zM1263.6 203.1h30.9v30.9h-30.9zM1446.5 203.1h30.9v30.9h-30.9zM1477 203.1h30.9v30.9h-30.9zM1507.5 203.1h30.9v30.9h-30.9zM1019.8 233.6h30.9v30.9h-30.9zM1263.6 233.6h30.9v30.9h-30.9zM1446.5 233.6h30.9v30.9h-30.9zM1233.1 264.1h30.9v30.9h-30.9zM1263.6 264.1h30.9v30.9h-30.9zM1294.1 264.1h30.9v30.9h-30.9zM1324.6 264.1h30.9v30.9h-30.9zM1355.1 264.1h30.9v30.9h-30.9zM1446.5 264.1h30.9v30.9h-30.9zM1324.6 294.5h30.9v30.9h-30.9zM1446.5 294.5h30.9v30.9h-30.9zM1019.8 325h30.9v30.9h-30.9zM1111.2 325h30.9v30.9h-30.9zM1294.1 325h30.9v30.9h-30.9zM1446.5 325h30.9v30.9h-30.9zM1477 325h30.9v30.9h-30.9zM1019.8 355.5h30.9v30.9h-30.9zM1050.3 355.5h30.9v30.9h-30.9zM1294.1 355.5h30.9v30.9h-30.9zM1477 355.5h30.9v30.9h-30.9zM1629.4 355.5h30.9v30.9h-30.9zM1019.8 385.9h30.9v30.9h-30.9zM1233.1 385.9h30.9v30.9h-30.9zM1629.4 385.9h30.9v30.9h-30.9zM1690.3 385.9h30.9v30.9h-30.9zM1019.8 416.4h30.9v30.9h-30.9zM1172.2 416.4h30.9v30.9h-30.9zM1019.8 446.9h30.9v30.9h-30.9zM1446.5 446.9h30.9v30.9h-30.9zM1690.3 446.9h30.9v30.9h-30.9zM1233.1 477.3h30.9v30.9h-30.9zM1324.6 477.3h30.9v30.9h-30.9zM1019.8 507.8h30.9v30.9h-30.9zM1233.1 507.8h30.9v30.9h-30.9zM1294.1 507.8h30.9v30.9h-30.9zM1324.6 507.8h30.9v30.9h-30.9zM1355.1 507.8h30.9v30.9h-30.9zM1385.5 568.8h30.9v30.9h-30.9zM1629.4 568.8h30.9v30.9h-30.9zM1111.2 599.2h30.9v30.9h-30.9zM1355.1 599.2h30.9v30.9h-30.9zM1385.5 599.2h30.9v30.9h-30.9zM1568.4 599.2h30.9v30.9h-30.9zM1598.9 599.2h30.9v30.9h-30.9zM1568.4 629.7h30.9v30.9h-30.9zM1598.9 629.7h30.9v30.9h-30.9zM1629.4 629.7h30.9v30.9h-30.9zM1111.2 660.2h30.9v30.9h-30.9zM1568.4 660.2h30.9v30.9h-30.9zM1598.9 660.2h30.9v30.9h-30.9zM1629.4 660.2h30.9v30.9h-30.9zM1537.9 690.6h30.9v30.9h-30.9zM1598.9 690.6h30.9v30.9h-30.9zM1111.2 721.1h30.9v30.9h-30.9zM1202.7 721.1h30.9v30.9h-30.9zM1568.4 721.1h30.9v30.9h-30.9zM1172.2 751.6h30.9v30.9h-30.9zM1355.1 782h30.9v30.9h-30.9zM1385.5 782h30.9v30.9h-30.9zM1324.6 812.5h30.9v30.9h-30.9zM1355.1 812.5h30.9v30.9h-30.9zM1385.5 812.5h30.9v30.9h-30.9zM1659.9 812.5h30.9v30.9h-30.9zM1355.1 843h30.9v30.9h-30.9zM1416 843h30.9v30.9h-30.9zM1080.7 873.5h30.9v30.9h-30.9zM1385.5 873.5h30.9v30.9h-30.9zM1050.3 903.9h30.9v30.9h-30.9zM1141.7 903.9h30.9v30.9h-30.9zM1629.4 903.9h30.9v30.9h-30.9zM1050.3 934.4h30.9v30.9h-30.9zM1141.7 934.4h30.9v30.9h-30.9zM1172.2 934.4h30.9v30.9h-30.9zM1446.5 934.4h30.9v30.9h-30.9zM1629.4 934.4h30.9v30.9h-30.9zM1141.7 964.9h30.9v30.9h-30.9zM1172.2 964.9h30.9v30.9h-30.9zM1202.7 964.9h30.9v30.9h-30.9zM1233.1 964.9h30.9v30.9h-30.9zM1598.9 964.9h30.9v30.9h-30.9zM1629.4 964.9h30.9v30.9h-30.9zM1172.2 995.3h30.9v30.9h-30.9zM1202.7 995.3h30.9v30.9h-30.9zM1233.1 995.3h30.9v30.9h-30.9zM1294.1 995.3h30.9v30.9h-30.9zM1355.1 995.3h30.9v30.9h-30.9zM1446.5 995.3h30.9v30.9h-30.9zM1172.2 1025.8h30.9v30.9h-30.9zM1202.7 1025.8h30.9v30.9h-30.9zM1355.1 1025.8h30.9v30.9h-30.9zM1446.5 1025.8h30.9v30.9h-30.9zM1050.3 1056.3h30.9v30.9h-30.9zM1172.2 1056.3h30.9v30.9h-30.9zM1355.1 1056.3h30.9v30.9h-30.9zM1598.9 1056.3h30.9v30.9h-30.9zM1050.3 1086.8h30.9v30.9h-30.9zM1080.7 1086.8h30.9v30.9h-30.9zM1690.3 1086.8h30.9v30.9h-30.9zM1111.2 1117.2h30.9v30.9h-30.9zM1477 1117.2h30.9v30.9h-30.9zM1659.9 1117.2h30.9v30.9h-30.9zM1080.7 1147.7h30.9v30.9h-30.9zM1111.2 1147.7h30.9v30.9h-30.9zM1141.7 1147.7h30.9v30.9h-30.9zM1172.2 1147.7h30.9v30.9h-30.9zM1202.7 1147.7h30.9v30.9h-30.9zM1629.4 1147.7h30.9v30.9h-30.9zM1659.9 1147.7h30.9v30.9h-30.9zM1080.7 1178.2h30.9v30.9h-30.9zM1111.2 1178.2h30.9v30.9h-30.9zM1141.7 1178.2h30.9v30.9h-30.9zM1172.2 1178.2h30.9v30.9h-30.9zM1568.4 1178.2h30.9v30.9h-30.9zM1233.1 1208.6h30.9v30.9h-30.9zM1263.6 1208.6h30.9v30.9h-30.9zM1537.9 1208.6h30.9v30.9h-30.9zM1659.9 1208.6h30.9v30.9h-30.9zM1568.4 1239.1h30.9v30.9h-30.9zM1019.8 1269.6h30.9v30.9h-30.9zM1233.1 1269.6h30.9v30.9h-30.9zM1263.6 1269.6h30.9v30.9h-30.9zM1629.4 1269.6h30.9v30.9h-30.9zM1659.9 1269.6h30.9v30.9h-30.9zM1324.6 1300h30.9v30.9h-30.9zM1598.9 1300h30.9v30.9h-30.9zM1080.7 1330.5h30.9v30.9h-30.9zM1385.5 1361h30.9v30.9h-30.9zM1446.5 1361h30.9v30.9h-30.9zM1294.1 1391.4h30.9v30.9h-30.9zM1324.6 1391.4h30.9v30.9h-30.9zM1385.5 1391.4h30.9v30.9h-30.9zM1050.3 1421.9h30.9v30.9h-30.9zM1172.2 1421.9h30.9v30.9h-30.9zM1324.6 1421.9h30.9v30.9h-30.9zM1446.5 1421.9h30.9v30.9h-30.9zM989.3 1452.4h30.9v30.9h-30.9zM1050.3 1452.4h30.9v30.9h-30.9zM1111.2 1452.4h30.9v30.9h-30.9zM1141.7 1452.4h30.9v30.9h-30.9zM1324.6 1452.4h30.9v30.9h-30.9zM1629.4 1452.4h30.9v30.9h-30.9z"/><path fill="#a0eefe" d="M1019.8 20.3h30.9v30.9h-30.9zM1111.2 20.3h30.9v30.9h-30.9zM1263.6 20.3h30.9v30.9h-30.9zM1202.7 50.8h30.9v30.9h-30.9zM1324.6 50.8h30.9v30.9h-30.9zM1355.1 81.2h30.9v30.9h-30.9zM1324.6 111.7h30.9v30.9h-30.9zM1355.1 111.7h30.9v30.9h-30.9zM1385.5 111.7h30.9v30.9h-30.9zM1659.9 111.7h30.9v30.9h-30.9zM1355.1 142.2h30.9v30.9h-30.9zM1507.5 142.2h30.9v30.9h-30.9zM1568.4 142.2h30.9v30.9h-30.9zM1141.7 172.7h30.9v30.9h-30.9zM1385.5 172.7h30.9v30.9h-30.9zM1111.2 203.1h30.9v30.9h-30.9zM1385.5 203.1h30.9v30.9h-30.9zM1568.4 203.1h30.9v30.9h-30.9zM1111.2 233.6h30.9v30.9h-30.9zM1507.5 233.6h30.9v30.9h-30.9zM1507.5 264.1h30.9v30.9h-30.9zM1568.4 294.5h30.9v30.9h-30.9zM1537.9 355.5h30.9v30.9h-30.9zM1080.7 385.9h30.9v30.9h-30.9zM1050.3 416.4h30.9v30.9h-30.9zM1598.9 416.4h30.9v30.9h-30.9zM1050.3 446.9h30.9v30.9h-30.9zM1598.9 446.9h30.9v30.9h-30.9zM1080.7 507.8h30.9v30.9h-30.9zM1111.2 507.8h30.9v30.9h-30.9zM1141.7 507.8h30.9v30.9h-30.9zM1080.7 538.3h30.9v30.9h-30.9zM1111.2 538.3h30.9v30.9h-30.9zM1141.7 538.3h30.9v30.9h-30.9zM1355.1 538.3h30.9v30.9h-30.9zM1537.9 538.3h30.9v30.9h-30.9zM1019.8 568.8h30.9v30.9h-30.9zM1050.3 568.8h30.9v30.9h-30.9zM1294.1 568.8h30.9v30.9h-30.9zM1477 568.8h30.9v30.9h-30.9zM1568.4 568.8h30.9v30.9h-30.9zM1172.2 599.2h30.9v30.9h-30.9zM1690.3 599.2h30.9v30.9h-30.9zM1385.5 629.7h30.9v30.9h-30.9zM1202.7 660.2h30.9v30.9h-30.9zM1355.1 660.2h30.9v30.9h-30.9zM1385.5 660.2h30.9v30.9h-30.9zM989.3 690.6h30.9v30.9h-30.9zM1324.6 690.6h30.9v30.9h-30.9zM1294.1 721.1h30.9v30.9h-30.9zM989.3 751.6h30.9v30.9h-30.9zM1233.1 751.6h30.9v30.9h-30.9zM1294.1 751.6h30.9v30.9h-30.9zM1598.9 751.6h30.9v30.9h-30.9zM1659.9 751.6h30.9v30.9h-30.9zM1690.3 751.6h30.9v30.9h-30.9zM1233.1 782h30.9v30.9h-30.9zM1507.5 782h30.9v30.9h-30.9zM1537.9 782h30.9v30.9h-30.9zM1477 812.5h30.9v30.9h-30.9zM1507.5 812.5h30.9v30.9h-30.9zM989.3 843h30.9v30.9h-30.9zM1477 843h30.9v30.9h-30.9zM989.3 873.5h30.9v30.9h-30.9zM1537.9 873.5h30.9v30.9h-30.9zM989.3 903.9h30.9v30.9h-30.9zM989.3 934.4h30.9v30.9h-30.9zM1019.8 1056.3h30.9v30.9h-30.9zM1263.6 1056.3h30.9v30.9h-30.9zM1141.7 1117.2h30.9v30.9h-30.9zM1355.1 1117.2h30.9v30.9h-30.9zM1385.5 1117.2h30.9v30.9h-30.9zM1416 1117.2h30.9v30.9h-30.9zM1355.1 1147.7h30.9v30.9h-30.9zM1446.5 1147.7h30.9v30.9h-30.9zM1568.4 1147.7h30.9v30.9h-30.9zM1507.5 1178.2h30.9v30.9h-30.9zM1324.6 1208.6h30.9v30.9h-30.9zM1477 1208.6h30.9v30.9h-30.9zM1294.1 1239.1h30.9v30.9h-30.9zM1324.6 1239.1h30.9v30.9h-30.9zM1080.7 1269.6h30.9v30.9h-30.9zM1111.2 1269.6h30.9v30.9h-30.9zM1050.3 1300h30.9v30.9h-30.9zM1141.7 1300h30.9v30.9h-30.9zM1172.2 1300h30.9v30.9h-30.9zM989.3 1330.5h30.9v30.9h-30.9zM1019.8 1330.5h30.9v30.9h-30.9zM1141.7 1330.5h30.9v30.9h-30.9zM1172.2 1330.5h30.9v30.9h-30.9zM1202.7 1330.5h30.9v30.9h-30.9z"/><path fill="#71cefe" d="M1050.3 20.3h30.9v30.9h-30.9zM1080.7 446.9h30.9v30.9h-30.9zM1507.5 507.8h30.9v30.9h-30.9zM989.3 995.3h30.9v30.9h-30.9zM989.3 1117.2h30.9v30.9h-30.9zM989.3 1147.7h30.9v30.9h-30.9zM1385.5 1147.7h30.9v30.9h-30.9zM1324.6 1178.2h30.9v30.9h-30.9zM1477 1178.2h30.9v30.9h-30.9zM1355.1 1239.1h30.9v30.9h-30.9zM1385.5 1239.1h30.9v30.9h-30.9zM1446.5 1239.1h30.9v30.9h-30.9z"/><path fill="#82e0fe" d="M1080.7 20.3h30.9v30.9h-30.9zM1019.8 50.8h30.9v30.9h-30.9zM1050.3 50.8h30.9v30.9h-30.9zM1568.4 172.7h30.9v30.9h-30.9zM1568.4 325h30.9v30.9h-30.9zM1111.2 385.9h30.9v30.9h-30.9zM1080.7 416.4h30.9v30.9h-30.9zM1537.9 446.9h30.9v30.9h-30.9zM1568.4 446.9h30.9v30.9h-30.9zM1080.7 477.3h30.9v30.9h-30.9zM1537.9 477.3h30.9v30.9h-30.9zM1050.3 507.8h30.9v30.9h-30.9zM1446.5 507.8h30.9v30.9h-30.9zM1477 507.8h30.9v30.9h-30.9zM1537.9 507.8h30.9v30.9h-30.9zM1568.4 507.8h30.9v30.9h-30.9zM1385.5 538.3h30.9v30.9h-30.9zM1477 538.3h30.9v30.9h-30.9zM1568.4 538.3h30.9v30.9h-30.9zM1080.7 568.8h30.9v30.9h-30.9zM1324.6 568.8h30.9v30.9h-30.9zM1690.3 568.8h30.9v30.9h-30.9zM1019.8 599.2h30.9v30.9h-30.9zM1050.3 599.2h30.9v30.9h-30.9zM1019.8 629.7h30.9v30.9h-30.9zM1690.3 690.6h30.9v30.9h-30.9zM1537.9 812.5h30.9v30.9h-30.9zM1537.9 843h30.9v30.9h-30.9zM989.3 964.9h30.9v30.9h-30.9zM989.3 1025.8h30.9v30.9h-30.9zM989.3 1056.3h30.9v30.9h-30.9zM1233.1 1056.3h30.9v30.9h-30.9zM989.3 1086.8h30.9v30.9h-30.9zM1324.6 1147.7h30.9v30.9h-30.9zM1416 1147.7h30.9v30.9h-30.9zM1355.1 1178.2h30.9v30.9h-30.9zM989.3 1239.1h30.9v30.9h-30.9zM1080.7 1300h30.9v30.9h-30.9zM1111.2 1300h30.9v30.9h-30.9z"/><path fill="#e4fdff" d="M1141.7 20.3h30.9v30.9h-30.9zM1172.2 20.3h30.9v30.9h-30.9zM1294.1 20.3h30.9v30.9h-30.9zM1355.1 20.3h30.9v30.9h-30.9zM1507.5 20.3h30.9v30.9h-30.9zM1080.7 50.8h30.9v30.9h-30.9zM1172.2 50.8h30.9v30.9h-30.9zM1385.5 50.8h30.9v30.9h-30.9zM1446.5 50.8h30.9v30.9h-30.9zM1019.8 81.2h30.9v30.9h-30.9zM1080.7 81.2h30.9v30.9h-30.9zM1202.7 81.2h30.9v30.9h-30.9zM1294.1 81.2h30.9v30.9h-30.9zM1385.5 81.2h30.9v30.9h-30.9zM1659.9 81.2h30.9v30.9h-30.9zM1080.7 111.7h30.9v30.9h-30.9zM1172.2 111.7h30.9v30.9h-30.9zM1263.6 111.7h30.9v30.9h-30.9zM1568.4 111.7h30.9v30.9h-30.9zM1598.9 111.7h30.9v30.9h-30.9zM989.3 142.2h30.9v30.9h-30.9zM1050.3 142.2h30.9v30.9h-30.9zM1080.7 142.2h30.9v30.9h-30.9zM1141.7 142.2h30.9v30.9h-30.9zM1233.1 142.2h30.9v30.9h-30.9zM1416 142.2h30.9v30.9h-30.9zM1446.5 142.2h30.9v30.9h-30.9zM989.3 172.7h30.9v30.9h-30.9zM1172.2 172.7h30.9v30.9h-30.9zM1202.7 172.7h30.9v30.9h-30.9zM1294.1 172.7h30.9v30.9h-30.9zM1355.1 172.7h30.9v30.9h-30.9zM1659.9 172.7h30.9v30.9h-30.9zM1080.7 203.1h30.9v30.9h-30.9zM1294.1 203.1h30.9v30.9h-30.9zM1629.4 203.1h30.9v30.9h-30.9zM1659.9 203.1h30.9v30.9h-30.9zM1690.3 203.1h30.9v30.9h-30.9zM1050.3 233.6h30.9v30.9h-30.9zM1080.7 233.6h30.9v30.9h-30.9zM1172.2 233.6h30.9v30.9h-30.9zM1202.7 233.6h30.9v30.9h-30.9zM1355.1 233.6h30.9v30.9h-30.9zM1385.5 233.6h30.9v30.9h-30.9zM1568.4 233.6h30.9v30.9h-30.9zM1629.4 233.6h30.9v30.9h-30.9zM1111.2 264.1h30.9v30.9h-30.9zM1141.7 264.1h30.9v30.9h-30.9zM1477 264.1h30.9v30.9h-30.9zM1568.4 264.1h30.9v30.9h-30.9zM1659.9 264.1h30.9v30.9h-30.9zM1111.2 294.5h30.9v30.9h-30.9zM1233.1 294.5h30.9v30.9h-30.9zM1263.6 294.5h30.9v30.9h-30.9zM1294.1 294.5h30.9v30.9h-30.9zM1477 294.5h30.9v30.9h-30.9zM1598.9 294.5h30.9v30.9h-30.9zM1690.3 294.5h30.9v30.9h-30.9zM1141.7 325h30.9v30.9h-30.9zM1263.6 325h30.9v30.9h-30.9zM1690.3 325h30.9v30.9h-30.9zM1080.7 355.5h30.9v30.9h-30.9zM1111.2 355.5h30.9v30.9h-30.9zM1690.3 355.5h30.9v30.9h-30.9zM1202.7 385.9h30.9v30.9h-30.9zM1568.4 385.9h30.9v30.9h-30.9zM1568.4 416.4h30.9v30.9h-30.9zM1629.4 416.4h30.9v30.9h-30.9zM1111.2 446.9h30.9v30.9h-30.9zM1172.2 446.9h30.9v30.9h-30.9zM1202.7 446.9h30.9v30.9h-30.9zM1629.4 446.9h30.9v30.9h-30.9zM1111.2 477.3h30.9v30.9h-30.9zM1172.2 477.3h30.9v30.9h-30.9zM1446.5 477.3h30.9v30.9h-30.9zM1568.4 477.3h30.9v30.9h-30.9zM1598.9 477.3h30.9v30.9h-30.9zM1690.3 477.3h30.9v30.9h-30.9zM1263.6 507.8h30.9v30.9h-30.9zM1629.4 507.8h30.9v30.9h-30.9zM1659.9 507.8h30.9v30.9h-30.9zM1690.3 507.8h30.9v30.9h-30.9zM1263.6 538.3h30.9v30.9h-30.9zM1294.1 538.3h30.9v30.9h-30.9zM1507.5 538.3h30.9v30.9h-30.9zM1598.9 538.3h30.9v30.9h-30.9zM1629.4 538.3h30.9v30.9h-30.9zM1659.9 538.3h30.9v30.9h-30.9zM1141.7 568.8h30.9v30.9h-30.9zM1416 568.8h30.9v30.9h-30.9zM1598.9 568.8h30.9v30.9h-30.9zM1263.6 599.2h30.9v30.9h-30.9zM1659.9 599.2h30.9v30.9h-30.9zM1080.7 629.7h30.9v30.9h-30.9zM1111.2 629.7h30.9v30.9h-30.9zM1233.1 629.7h30.9v30.9h-30.9zM1446.5 629.7h30.9v30.9h-30.9zM1477 629.7h30.9v30.9h-30.9zM1659.9 629.7h30.9v30.9h-30.9zM1019.8 660.2h30.9v30.9h-30.9zM1080.7 660.2h30.9v30.9h-30.9zM1233.1 660.2h30.9v30.9h-30.9zM1446.5 660.2h30.9v30.9h-30.9zM1659.9 660.2h30.9v30.9h-30.9zM1690.3 660.2h30.9v30.9h-30.9zM1050.3 690.6h30.9v30.9h-30.9zM1172.2 690.6h30.9v30.9h-30.9zM1355.1 690.6h30.9v30.9h-30.9zM1416 690.6h30.9v30.9h-30.9zM1629.4 690.6h30.9v30.9h-30.9zM989.3 721.1h30.9v30.9h-30.9zM1385.5 721.1h30.9v30.9h-30.9zM1416 721.1h30.9v30.9h-30.9zM1477 721.1h30.9v30.9h-30.9zM1111.2 751.6h30.9v30.9h-30.9zM1202.7 751.6h30.9v30.9h-30.9zM1385.5 751.6h30.9v30.9h-30.9zM1416 751.6h30.9v30.9h-30.9zM1568.4 751.6h30.9v30.9h-30.9zM1050.3 782h30.9v30.9h-30.9zM1080.7 782h30.9v30.9h-30.9zM1446.5 782h30.9v30.9h-30.9zM1019.8 812.5h30.9v30.9h-30.9zM1080.7 812.5h30.9v30.9h-30.9zM1111.2 812.5h30.9v30.9h-30.9zM1202.7 812.5h30.9v30.9h-30.9zM1568.4 812.5h30.9v30.9h-30.9zM1629.4 812.5h30.9v30.9h-30.9zM1050.3 843h30.9v30.9h-30.9zM1080.7 843h30.9v30.9h-30.9zM1111.2 843h30.9v30.9h-30.9zM1172.2 843h30.9v30.9h-30.9zM1568.4 843h30.9v30.9h-30.9zM1141.7 873.5h30.9v30.9h-30.9zM1477 873.5h30.9v30.9h-30.9zM1477 903.9h30.9v30.9h-30.9zM1385.5 934.4h30.9v30.9h-30.9zM1659.9 934.4h30.9v30.9h-30.9zM1690.3 934.4h30.9v30.9h-30.9zM1050.3 995.3h30.9v30.9h-30.9zM1111.2 995.3h30.9v30.9h-30.9zM1080.7 1025.8h30.9v30.9h-30.9zM1507.5 1025.8h30.9v30.9h-30.9zM1111.2 1056.3h30.9v30.9h-30.9zM1141.7 1056.3h30.9v30.9h-30.9zM1294.1 1056.3h30.9v30.9h-30.9zM1446.5 1056.3h30.9v30.9h-30.9zM1477 1056.3h30.9v30.9h-30.9zM1385.5 1086.8h30.9v30.9h-30.9zM1446.5 1086.8h30.9v30.9h-30.9zM1537.9 1086.8h30.9v30.9h-30.9zM1568.4 1086.8h30.9v30.9h-30.9zM1294.1 1117.2h30.9v30.9h-30.9zM1598.9 1117.2h30.9v30.9h-30.9zM1598.9 1208.6h30.9v30.9h-30.9zM1629.4 1208.6h30.9v30.9h-30.9zM1233.1 1239.1h30.9v30.9h-30.9zM1598.9 1239.1h30.9v30.9h-30.9zM989.3 1269.6h30.9v30.9h-30.9zM1355.1 1269.6h30.9v30.9h-30.9zM1019.8 1300h30.9v30.9h-30.9zM1202.7 1300h30.9v30.9h-30.9zM1446.5 1330.5h30.9v30.9h-30.9zM1659.9 1330.5h30.9v30.9h-30.9zM1019.8 1361h30.9v30.9h-30.9zM1080.7 1361h30.9v30.9h-30.9zM1111.2 1361h30.9v30.9h-30.9zM989.3 1391.4h30.9v30.9h-30.9zM1172.2 1391.4h30.9v30.9h-30.9zM1659.9 1391.4h30.9v30.9h-30.9zM1690.3 1391.4h30.9v30.9h-30.9zM1080.7 1421.9h30.9v30.9h-30.9zM1416 1421.9h30.9v30.9h-30.9zM1477 1421.9h30.9v30.9h-30.9zM1507.5 1421.9h30.9v30.9h-30.9zM1537.9 1421.9h30.9v30.9h-30.9zM1568.4 1421.9h30.9v30.9h-30.9zM1202.7 1452.4h30.9v30.9h-30.9zM1355.1 1452.4h30.9v30.9h-30.9zM1385.5 1452.4h30.9v30.9h-30.9zM1416 1452.4h30.9v30.9h-30.9zM1477 1452.4h30.9v30.9h-30.9zM1598.9 1452.4h30.9v30.9h-30.9z"/><path fill="#b7f8fe" d="M1202.7 20.3h30.9v30.9h-30.9zM1537.9 20.3h30.9v30.9h-30.9zM1111.2 50.8h30.9v30.9h-30.9zM1233.1 50.8h30.9v30.9h-30.9zM1111.2 81.2h30.9v30.9h-30.9zM1324.6 81.2h30.9v30.9h-30.9zM1416 81.2h30.9v30.9h-30.9zM1111.2 111.7h30.9v30.9h-30.9zM1141.7 111.7h30.9v30.9h-30.9zM1416 111.7h30.9v30.9h-30.9zM1629.4 111.7h30.9v30.9h-30.9zM1202.7 142.2h30.9v30.9h-30.9zM1324.6 142.2h30.9v30.9h-30.9zM1385.5 142.2h30.9v30.9h-30.9zM1537.9 142.2h30.9v30.9h-30.9zM1598.9 142.2h30.9v30.9h-30.9zM1629.4 142.2h30.9v30.9h-30.9zM1659.9 142.2h30.9v30.9h-30.9zM1690.3 142.2h30.9v30.9h-30.9zM1598.9 203.1h30.9v30.9h-30.9zM1080.7 264.1h30.9v30.9h-30.9zM1690.3 264.1h30.9v30.9h-30.9zM1141.7 294.5h30.9v30.9h-30.9zM1537.9 294.5h30.9v30.9h-30.9zM1537.9 325h30.9v30.9h-30.9zM1598.9 325h30.9v30.9h-30.9zM1537.9 416.4h30.9v30.9h-30.9zM1477 446.9h30.9v30.9h-30.9zM1507.5 446.9h30.9v30.9h-30.9zM1477 477.3h30.9v30.9h-30.9zM1172.2 507.8h30.9v30.9h-30.9zM1598.9 507.8h30.9v30.9h-30.9zM1233.1 538.3h30.9v30.9h-30.9zM1324.6 538.3h30.9v30.9h-30.9zM1416 538.3h30.9v30.9h-30.9zM1446.5 538.3h30.9v30.9h-30.9zM1233.1 568.8h30.9v30.9h-30.9zM1263.6 568.8h30.9v30.9h-30.9zM1507.5 568.8h30.9v30.9h-30.9zM989.3 599.2h30.9v30.9h-30.9zM989.3 660.2h30.9v30.9h-30.9zM1294.1 660.2h30.9v30.9h-30.9zM1324.6 660.2h30.9v30.9h-30.9zM1659.9 690.6h30.9v30.9h-30.9zM1355.1 721.1h30.9v30.9h-30.9zM1659.9 721.1h30.9v30.9h-30.9zM1324.6 751.6h30.9v30.9h-30.9zM1355.1 751.6h30.9v30.9h-30.9zM989.3 782h30.9v30.9h-30.9zM989.3 812.5h30.9v30.9h-30.9zM1172.2 812.5h30.9v30.9h-30.9zM1263.6 1025.8h30.9v30.9h-30.9zM1019.8 1086.8h30.9v30.9h-30.9zM1019.8 1117.2h30.9v30.9h-30.9zM1477 1147.7h30.9v30.9h-30.9zM1507.5 1147.7h30.9v30.9h-30.9zM1537.9 1147.7h30.9v30.9h-30.9zM989.3 1178.2h30.9v30.9h-30.9zM1141.7 1269.6h30.9v30.9h-30.9zM1294.1 1269.6h30.9v30.9h-30.9zM1324.6 1269.6h30.9v30.9h-30.9zM989.3 1300h30.9v30.9h-30.9zM1233.1 1300h30.9v30.9h-30.9zM1111.2 1330.5h30.9v30.9h-30.9zM1233.1 1330.5h30.9v30.9h-30.9zM1172.2 1361h30.9v30.9h-30.9zM1233.1 1421.9h30.9v30.9h-30.9zM1233.1 1452.4h30.9v30.9h-30.9z"/><path fill="#cbfefe" d="M1233.1 20.3h30.9v30.9h-30.9zM1324.6 20.3h30.9v30.9h-30.9zM1477 20.3h30.9v30.9h-30.9zM989.3 50.8h30.9v30.9h-30.9zM1141.7 50.8h30.9v30.9h-30.9zM1263.6 50.8h30.9v30.9h-30.9zM1294.1 50.8h30.9v30.9h-30.9zM1355.1 50.8h30.9v30.9h-30.9zM1690.3 50.8h30.9v30.9h-30.9zM989.3 81.2h30.9v30.9h-30.9zM1141.7 81.2h30.9v30.9h-30.9zM1172.2 81.2h30.9v30.9h-30.9zM1629.4 81.2h30.9v30.9h-30.9zM1050.3 111.7h30.9v30.9h-30.9zM1233.1 111.7h30.9v30.9h-30.9zM1172.2 142.2h30.9v30.9h-30.9zM1477 142.2h30.9v30.9h-30.9zM1324.6 172.7h30.9v30.9h-30.9zM1416 172.7h30.9v30.9h-30.9zM1446.5 172.7h30.9v30.9h-30.9zM1477 172.7h30.9v30.9h-30.9zM1598.9 172.7h30.9v30.9h-30.9zM1629.4 172.7h30.9v30.9h-30.9zM1690.3 172.7h30.9v30.9h-30.9zM1141.7 203.1h30.9v30.9h-30.9zM1416 203.1h30.9v30.9h-30.9zM1141.7 233.6h30.9v30.9h-30.9zM1477 233.6h30.9v30.9h-30.9zM1537.9 233.6h30.9v30.9h-30.9zM1598.9 233.6h30.9v30.9h-30.9zM1659.9 233.6h30.9v30.9h-30.9zM1690.3 233.6h30.9v30.9h-30.9zM1172.2 264.1h30.9v30.9h-30.9zM1537.9 264.1h30.9v30.9h-30.9zM1050.3 325h30.9v30.9h-30.9zM1233.1 325h30.9v30.9h-30.9zM1202.7 355.5h30.9v30.9h-30.9zM1233.1 355.5h30.9v30.9h-30.9zM1568.4 355.5h30.9v30.9h-30.9zM1507.5 385.9h30.9v30.9h-30.9zM1537.9 385.9h30.9v30.9h-30.9zM1111.2 416.4h30.9v30.9h-30.9zM1477 416.4h30.9v30.9h-30.9zM1507.5 416.4h30.9v30.9h-30.9zM1050.3 477.3h30.9v30.9h-30.9zM1141.7 477.3h30.9v30.9h-30.9zM1629.4 477.3h30.9v30.9h-30.9zM1659.9 477.3h30.9v30.9h-30.9zM1416 507.8h30.9v30.9h-30.9zM1019.8 538.3h30.9v30.9h-30.9zM1050.3 538.3h30.9v30.9h-30.9zM989.3 568.8h30.9v30.9h-30.9zM1172.2 568.8h30.9v30.9h-30.9zM1202.7 568.8h30.9v30.9h-30.9zM1446.5 568.8h30.9v30.9h-30.9zM1659.9 568.8h30.9v30.9h-30.9zM1202.7 599.2h30.9v30.9h-30.9zM1446.5 599.2h30.9v30.9h-30.9zM1477 599.2h30.9v30.9h-30.9zM1507.5 599.2h30.9v30.9h-30.9zM989.3 629.7h30.9v30.9h-30.9zM1202.7 629.7h30.9v30.9h-30.9zM1263.6 629.7h30.9v30.9h-30.9zM1294.1 629.7h30.9v30.9h-30.9zM1355.1 629.7h30.9v30.9h-30.9zM1416 629.7h30.9v30.9h-30.9zM1263.6 660.2h30.9v30.9h-30.9zM1263.6 690.6h30.9v30.9h-30.9zM1294.1 690.6h30.9v30.9h-30.9zM1050.3 721.1h30.9v30.9h-30.9zM1080.7 721.1h30.9v30.9h-30.9zM1233.1 721.1h30.9v30.9h-30.9zM1263.6 721.1h30.9v30.9h-30.9zM1324.6 721.1h30.9v30.9h-30.9zM1598.9 721.1h30.9v30.9h-30.9zM1629.4 721.1h30.9v30.9h-30.9zM1019.8 751.6h30.9v30.9h-30.9zM1050.3 751.6h30.9v30.9h-30.9zM1080.7 751.6h30.9v30.9h-30.9zM1141.7 751.6h30.9v30.9h-30.9zM1263.6 751.6h30.9v30.9h-30.9zM1446.5 751.6h30.9v30.9h-30.9zM1477 751.6h30.9v30.9h-30.9zM1507.5 751.6h30.9v30.9h-30.9zM1019.8 782h30.9v30.9h-30.9zM1111.2 782h30.9v30.9h-30.9zM1141.7 782h30.9v30.9h-30.9zM1477 782h30.9v30.9h-30.9zM1568.4 782h30.9v30.9h-30.9zM1050.3 812.5h30.9v30.9h-30.9zM1141.7 812.5h30.9v30.9h-30.9zM1446.5 812.5h30.9v30.9h-30.9zM1019.8 843h30.9v30.9h-30.9zM1141.7 843h30.9v30.9h-30.9zM1446.5 843h30.9v30.9h-30.9zM1507.5 843h30.9v30.9h-30.9zM1416 873.5h30.9v30.9h-30.9zM1446.5 873.5h30.9v30.9h-30.9zM1507.5 873.5h30.9v30.9h-30.9zM1659.9 873.5h30.9v30.9h-30.9zM1690.3 873.5h30.9v30.9h-30.9zM1416 903.9h30.9v30.9h-30.9zM1446.5 903.9h30.9v30.9h-30.9zM1507.5 903.9h30.9v30.9h-30.9zM1416 934.4h30.9v30.9h-30.9zM1019.8 964.9h30.9v30.9h-30.9zM1019.8 995.3h30.9v30.9h-30.9zM1080.7 995.3h30.9v30.9h-30.9zM1141.7 995.3h30.9v30.9h-30.9zM1019.8 1025.8h30.9v30.9h-30.9zM1233.1 1025.8h30.9v30.9h-30.9zM1172.2 1086.8h30.9v30.9h-30.9zM1233.1 1086.8h30.9v30.9h-30.9zM1263.6 1086.8h30.9v30.9h-30.9zM1294.1 1086.8h30.9v30.9h-30.9zM1416 1086.8h30.9v30.9h-30.9zM1446.5 1117.2h30.9v30.9h-30.9zM1537.9 1117.2h30.9v30.9h-30.9zM1568.4 1117.2h30.9v30.9h-30.9zM1019.8 1147.7h30.9v30.9h-30.9zM989.3 1208.6h30.9v30.9h-30.9zM1477 1239.1h30.9v30.9h-30.9zM1050.3 1269.6h30.9v30.9h-30.9zM1172.2 1269.6h30.9v30.9h-30.9zM1385.5 1269.6h30.9v30.9h-30.9zM1416 1269.6h30.9v30.9h-30.9zM1446.5 1269.6h30.9v30.9h-30.9zM1446.5 1300h30.9v30.9h-30.9zM1050.3 1330.5h30.9v30.9h-30.9zM1477 1330.5h30.9v30.9h-30.9zM1690.3 1330.5h30.9v30.9h-30.9zM1050.3 1361h30.9v30.9h-30.9zM1141.7 1361h30.9v30.9h-30.9zM1202.7 1361h30.9v30.9h-30.9zM1294.1 1452.4h30.9v30.9h-30.9z"/><path fill="#f4fefa" d="M1385.5 20.3h30.9v30.9h-30.9zM1416 50.8h30.9v30.9h-30.9zM1477 50.8h30.9v30.9h-30.9zM1050.3 81.2h30.9v30.9h-30.9zM1233.1 81.2h30.9v30.9h-30.9zM1263.6 81.2h30.9v30.9h-30.9zM1446.5 81.2h30.9v30.9h-30.9zM1598.9 81.2h30.9v30.9h-30.9zM1690.3 81.2h30.9v30.9h-30.9zM1019.8 111.7h30.9v30.9h-30.9zM1294.1 111.7h30.9v30.9h-30.9zM1507.5 111.7h30.9v30.9h-30.9zM1537.9 111.7h30.9v30.9h-30.9zM1690.3 111.7h30.9v30.9h-30.9zM1019.8 142.2h30.9v30.9h-30.9zM1111.2 142.2h30.9v30.9h-30.9zM1263.6 142.2h30.9v30.9h-30.9zM1294.1 142.2h30.9v30.9h-30.9zM1080.7 172.7h30.9v30.9h-30.9zM1111.2 172.7h30.9v30.9h-30.9zM1233.1 172.7h30.9v30.9h-30.9zM1507.5 172.7h30.9v30.9h-30.9zM1537.9 172.7h30.9v30.9h-30.9zM1324.6 203.1h30.9v30.9h-30.9zM1355.1 203.1h30.9v30.9h-30.9zM1537.9 203.1h30.9v30.9h-30.9zM1233.1 233.6h30.9v30.9h-30.9zM1294.1 233.6h30.9v30.9h-30.9zM1324.6 233.6h30.9v30.9h-30.9zM1416 233.6h30.9v30.9h-30.9zM989.3 264.1h30.9v30.9h-30.9zM1050.3 264.1h30.9v30.9h-30.9zM1202.7 264.1h30.9v30.9h-30.9zM1385.5 264.1h30.9v30.9h-30.9zM1416 264.1h30.9v30.9h-30.9zM1598.9 264.1h30.9v30.9h-30.9zM1629.4 264.1h30.9v30.9h-30.9zM1050.3 294.5h30.9v30.9h-30.9zM1080.7 294.5h30.9v30.9h-30.9zM1172.2 294.5h30.9v30.9h-30.9zM1202.7 294.5h30.9v30.9h-30.9zM1507.5 294.5h30.9v30.9h-30.9zM1629.4 294.5h30.9v30.9h-30.9zM1659.9 294.5h30.9v30.9h-30.9zM1172.2 325h30.9v30.9h-30.9zM1202.7 325h30.9v30.9h-30.9zM1324.6 325h30.9v30.9h-30.9zM1507.5 325h30.9v30.9h-30.9zM1629.4 325h30.9v30.9h-30.9zM1659.9 325h30.9v30.9h-30.9zM1141.7 355.5h30.9v30.9h-30.9zM1172.2 355.5h30.9v30.9h-30.9zM1263.6 355.5h30.9v30.9h-30.9zM1507.5 355.5h30.9v30.9h-30.9zM1659.9 355.5h30.9v30.9h-30.9zM1050.3 385.9h30.9v30.9h-30.9zM1141.7 385.9h30.9v30.9h-30.9zM1172.2 385.9h30.9v30.9h-30.9zM1477 385.9h30.9v30.9h-30.9zM1598.9 385.9h30.9v30.9h-30.9zM1202.7 416.4h30.9v30.9h-30.9zM1233.1 416.4h30.9v30.9h-30.9zM1659.9 416.4h30.9v30.9h-30.9zM1690.3 416.4h30.9v30.9h-30.9zM1141.7 446.9h30.9v30.9h-30.9zM1659.9 446.9h30.9v30.9h-30.9zM1202.7 477.3h30.9v30.9h-30.9zM1202.7 507.8h30.9v30.9h-30.9zM1385.5 507.8h30.9v30.9h-30.9zM1172.2 538.3h30.9v30.9h-30.9zM1202.7 538.3h30.9v30.9h-30.9zM1690.3 538.3h30.9v30.9h-30.9zM1111.2 568.8h30.9v30.9h-30.9zM1355.1 568.8h30.9v30.9h-30.9zM1537.9 568.8h30.9v30.9h-30.9zM1080.7 599.2h30.9v30.9h-30.9zM1141.7 599.2h30.9v30.9h-30.9zM1233.1 599.2h30.9v30.9h-30.9zM1294.1 599.2h30.9v30.9h-30.9zM1416 599.2h30.9v30.9h-30.9zM1050.3 629.7h30.9v30.9h-30.9zM1172.2 629.7h30.9v30.9h-30.9zM1324.6 629.7h30.9v30.9h-30.9zM1690.3 629.7h30.9v30.9h-30.9zM1050.3 660.2h30.9v30.9h-30.9zM1172.2 660.2h30.9v30.9h-30.9zM1416 660.2h30.9v30.9h-30.9zM1477 660.2h30.9v30.9h-30.9zM1019.8 690.6h30.9v30.9h-30.9zM1080.7 690.6h30.9v30.9h-30.9zM1111.2 690.6h30.9v30.9h-30.9zM1202.7 690.6h30.9v30.9h-30.9zM1233.1 690.6h30.9v30.9h-30.9zM1385.5 690.6h30.9v30.9h-30.9zM1446.5 690.6h30.9v30.9h-30.9zM1507.5 690.6h30.9v30.9h-30.9zM1568.4 690.6h30.9v30.9h-30.9zM1019.8 721.1h30.9v30.9h-30.9zM1141.7 721.1h30.9v30.9h-30.9zM1446.5 721.1h30.9v30.9h-30.9zM1507.5 721.1h30.9v30.9h-30.9zM1629.4 751.6h30.9v30.9h-30.9zM1172.2 782h30.9v30.9h-30.9zM1202.7 782h30.9v30.9h-30.9zM1263.6 782h30.9v30.9h-30.9zM1294.1 782h30.9v30.9h-30.9zM1324.6 782h30.9v30.9h-30.9zM1416 782h30.9v30.9h-30.9zM1598.9 782h30.9v30.9h-30.9zM1629.4 782h30.9v30.9h-30.9zM1659.9 782h30.9v30.9h-30.9zM1690.3 782h30.9v30.9h-30.9zM1233.1 812.5h30.9v30.9h-30.9zM1263.6 812.5h30.9v30.9h-30.9zM1294.1 812.5h30.9v30.9h-30.9zM1416 812.5h30.9v30.9h-30.9zM1598.9 812.5h30.9v30.9h-30.9zM1690.3 812.5h30.9v30.9h-30.9zM1202.7 843h30.9v30.9h-30.9zM1598.9 843h30.9v30.9h-30.9zM1629.4 843h30.9v30.9h-30.9zM1659.9 843h30.9v30.9h-30.9zM1690.3 843h30.9v30.9h-30.9zM1019.8 873.5h30.9v30.9h-30.9zM1111.2 873.5h30.9v30.9h-30.9zM1172.2 873.5h30.9v30.9h-30.9zM1202.7 873.5h30.9v30.9h-30.9zM1568.4 873.5h30.9v30.9h-30.9zM1598.9 873.5h30.9v30.9h-30.9zM1629.4 873.5h30.9v30.9h-30.9zM1019.8 903.9h30.9v30.9h-30.9zM1172.2 903.9h30.9v30.9h-30.9zM1385.5 903.9h30.9v30.9h-30.9zM1537.9 903.9h30.9v30.9h-30.9zM1568.4 903.9h30.9v30.9h-30.9zM1598.9 903.9h30.9v30.9h-30.9zM1659.9 903.9h30.9v30.9h-30.9zM1690.3 903.9h30.9v30.9h-30.9zM1019.8 934.4h30.9v30.9h-30.9zM1111.2 934.4h30.9v30.9h-30.9zM1507.5 934.4h30.9v30.9h-30.9zM1568.4 934.4h30.9v30.9h-30.9zM1598.9 934.4h30.9v30.9h-30.9zM1050.3 964.9h30.9v30.9h-30.9zM1080.7 964.9h30.9v30.9h-30.9zM1111.2 964.9h30.9v30.9h-30.9zM1477 964.9h30.9v30.9h-30.9zM1324.6 995.3h30.9v30.9h-30.9zM1477 995.3h30.9v30.9h-30.9zM1050.3 1025.8h30.9v30.9h-30.9zM1111.2 1025.8h30.9v30.9h-30.9zM1141.7 1025.8h30.9v30.9h-30.9zM1294.1 1025.8h30.9v30.9h-30.9zM1324.6 1025.8h30.9v30.9h-30.9zM1416 1025.8h30.9v30.9h-30.9zM1477 1025.8h30.9v30.9h-30.9zM1537.9 1025.8h30.9v30.9h-30.9zM1690.3 1025.8h30.9v30.9h-30.9zM1202.7 1056.3h30.9v30.9h-30.9zM1324.6 1056.3h30.9v30.9h-30.9zM1385.5 1056.3h30.9v30.9h-30.9zM1416 1056.3h30.9v30.9h-30.9zM1507.5 1056.3h30.9v30.9h-30.9zM1537.9 1056.3h30.9v30.9h-30.9zM1568.4 1056.3h30.9v30.9h-30.9zM1111.2 1086.8h30.9v30.9h-30.9zM1141.7 1086.8h30.9v30.9h-30.9zM1202.7 1086.8h30.9v30.9h-30.9zM1355.1 1086.8h30.9v30.9h-30.9zM1050.3 1117.2h30.9v30.9h-30.9zM1172.2 1117.2h30.9v30.9h-30.9zM1263.6 1117.2h30.9v30.9h-30.9zM1324.6 1117.2h30.9v30.9h-30.9zM1507.5 1117.2h30.9v30.9h-30.9zM1690.3 1117.2h30.9v30.9h-30.9zM1294.1 1147.7h30.9v30.9h-30.9zM1598.9 1147.7h30.9v30.9h-30.9zM1019.8 1178.2h30.9v30.9h-30.9zM1294.1 1178.2h30.9v30.9h-30.9zM1537.9 1178.2h30.9v30.9h-30.9zM1659.9 1178.2h30.9v30.9h-30.9zM1690.3 1178.2h30.9v30.9h-30.9zM1019.8 1208.6h30.9v30.9h-30.9zM1202.7 1208.6h30.9v30.9h-30.9zM1294.1 1208.6h30.9v30.9h-30.9zM1507.5 1208.6h30.9v30.9h-30.9zM1568.4 1208.6h30.9v30.9h-30.9zM1690.3 1208.6h30.9v30.9h-30.9zM1019.8 1239.1h30.9v30.9h-30.9zM1111.2 1239.1h30.9v30.9h-30.9zM1202.7 1239.1h30.9v30.9h-30.9zM1263.6 1239.1h30.9v30.9h-30.9zM1629.4 1239.1h30.9v30.9h-30.9zM1690.3 1239.1h30.9v30.9h-30.9zM1202.7 1269.6h30.9v30.9h-30.9zM1477 1269.6h30.9v30.9h-30.9zM1598.9 1269.6h30.9v30.9h-30.9zM1690.3 1269.6h30.9v30.9h-30.9zM1263.6 1300h30.9v30.9h-30.9zM1355.1 1300h30.9v30.9h-30.9zM1385.5 1300h30.9v30.9h-30.9zM1416 1300h30.9v30.9h-30.9zM1477 1300h30.9v30.9h-30.9zM1629.4 1300h30.9v30.9h-30.9zM1659.9 1300h30.9v30.9h-30.9zM1690.3 1300h30.9v30.9h-30.9zM1263.6 1330.5h30.9v30.9h-30.9zM1385.5 1330.5h30.9v30.9h-30.9zM989.3 1361h30.9v30.9h-30.9zM1263.6 1361h30.9v30.9h-30.9zM1294.1 1361h30.9v30.9h-30.9zM1477 1361h30.9v30.9h-30.9zM1507.5 1361h30.9v30.9h-30.9zM1659.9 1361h30.9v30.9h-30.9zM1690.3 1361h30.9v30.9h-30.9zM1080.7 1391.4h30.9v30.9h-30.9zM1111.2 1391.4h30.9v30.9h-30.9zM1141.7 1391.4h30.9v30.9h-30.9zM1233.1 1391.4h30.9v30.9h-30.9zM1263.6 1391.4h30.9v30.9h-30.9zM1416 1391.4h30.9v30.9h-30.9zM1477 1391.4h30.9v30.9h-30.9zM1507.5 1391.4h30.9v30.9h-30.9zM1537.9 1391.4h30.9v30.9h-30.9zM1629.4 1391.4h30.9v30.9h-30.9zM1111.2 1421.9h30.9v30.9h-30.9zM1141.7 1421.9h30.9v30.9h-30.9zM1263.6 1421.9h30.9v30.9h-30.9zM1294.1 1421.9h30.9v30.9h-30.9zM1385.5 1421.9h30.9v30.9h-30.9zM1598.9 1421.9h30.9v30.9h-30.9zM1690.3 1421.9h30.9v30.9h-30.9zM1019.8 1452.4h30.9v30.9h-30.9zM1263.6 1452.4h30.9v30.9h-30.9zM1446.5 1452.4h30.9v30.9h-30.9zM1507.5 1452.4h30.9v30.9h-30.9zM1537.9 1452.4h30.9v30.9h-30.9zM1568.4 1452.4h30.9v30.9h-30.9z"/><path fill="#feca8d" d="M1568.4 20.3h30.9v30.9h-30.9zM1598.9 20.3h30.9v30.9h-30.9zM1659.9 20.3h30.9v30.9h-30.9zM1568.4 50.8h30.9v30.9h-30.9zM1598.9 50.8h30.9v30.9h-30.9zM1629.4 50.8h30.9v30.9h-30.9zM1537.9 81.2h30.9v30.9h-30.9zM989.3 325h30.9v30.9h-30.9zM989.3 355.5h30.9v30.9h-30.9zM989.3 385.9h30.9v30.9h-30.9zM1294.1 416.4h30.9v30.9h-30.9zM989.3 446.9h30.9v30.9h-30.9zM1019.8 477.3h30.9v30.9h-30.9zM1263.6 873.5h30.9v30.9h-30.9zM1355.1 873.5h30.9v30.9h-30.9zM1598.9 1025.8h30.9v30.9h-30.9zM1629.4 1025.8h30.9v30.9h-30.9zM1629.4 1086.8h30.9v30.9h-30.9zM1537.9 1269.6h30.9v30.9h-30.9zM1568.4 1300h30.9v30.9h-30.9zM1507.5 1330.5h30.9v30.9h-30.9zM1629.4 1361h30.9v30.9h-30.9z"/><path fill="#ff996b" d="M1629.4 20.3h30.9v30.9h-30.9zM1385.5 355.5h30.9v30.9h-30.9zM989.3 416.4h30.9v30.9h-30.9zM1385.5 446.9h30.9v30.9h-30.9zM1141.7 660.2h30.9v30.9h-30.9zM1294.1 873.5h30.9v30.9h-30.9zM1324.6 873.5h30.9v30.9h-30.9zM1355.1 903.9h30.9v30.9h-30.9zM1233.1 934.4h30.9v30.9h-30.9zM1355.1 934.4h30.9v30.9h-30.9zM1263.6 964.9h30.9v30.9h-30.9zM1294.1 964.9h30.9v30.9h-30.9zM1324.6 964.9h30.9v30.9h-30.9zM1050.3 1239.1h30.9v30.9h-30.9zM1537.9 1300h30.9v30.9h-30.9zM1537.9 1330.5h30.9v30.9h-30.9zM1568.4 1330.5h30.9v30.9h-30.9zM1568.4 1361h30.9v30.9h-30.9zM1598.9 1361h30.9v30.9h-30.9z"/><path fill="#fff9d4" d="M1507.5 50.8h30.9v30.9h-30.9zM1568.4 81.2h30.9v30.9h-30.9zM1477 111.7h30.9v30.9h-30.9zM1050.3 172.7h30.9v30.9h-30.9zM1233.1 203.1h30.9v30.9h-30.9zM1019.8 264.1h30.9v30.9h-30.9zM989.3 294.5h30.9v30.9h-30.9zM1355.1 294.5h30.9v30.9h-30.9zM1080.7 325h30.9v30.9h-30.9zM1263.6 385.9h30.9v30.9h-30.9zM1294.1 385.9h30.9v30.9h-30.9zM1263.6 477.3h30.9v30.9h-30.9zM1294.1 477.3h30.9v30.9h-30.9zM1355.1 477.3h30.9v30.9h-30.9zM1416 477.3h30.9v30.9h-30.9zM1324.6 599.2h30.9v30.9h-30.9zM1537.9 599.2h30.9v30.9h-30.9zM1141.7 629.7h30.9v30.9h-30.9zM1537.9 629.7h30.9v30.9h-30.9zM1507.5 660.2h30.9v30.9h-30.9zM1537.9 660.2h30.9v30.9h-30.9zM1172.2 721.1h30.9v30.9h-30.9zM1537.9 751.6h30.9v30.9h-30.9zM1233.1 843h30.9v30.9h-30.9zM1324.6 843h30.9v30.9h-30.9zM1385.5 843h30.9v30.9h-30.9zM1050.3 873.5h30.9v30.9h-30.9zM1080.7 934.4h30.9v30.9h-30.9zM1477 934.4h30.9v30.9h-30.9zM1537.9 934.4h30.9v30.9h-30.9zM1416 964.9h30.9v30.9h-30.9zM1446.5 964.9h30.9v30.9h-30.9zM1507.5 964.9h30.9v30.9h-30.9zM1263.6 995.3h30.9v30.9h-30.9zM1568.4 995.3h30.9v30.9h-30.9zM1659.9 995.3h30.9v30.9h-30.9zM1690.3 995.3h30.9v30.9h-30.9zM1080.7 1056.3h30.9v30.9h-30.9zM1324.6 1086.8h30.9v30.9h-30.9zM1598.9 1086.8h30.9v30.9h-30.9zM1202.7 1117.2h30.9v30.9h-30.9zM1233.1 1117.2h30.9v30.9h-30.9zM1629.4 1117.2h30.9v30.9h-30.9zM1233.1 1147.7h30.9v30.9h-30.9zM1263.6 1147.7h30.9v30.9h-30.9zM1050.3 1178.2h30.9v30.9h-30.9zM1233.1 1178.2h30.9v30.9h-30.9zM1263.6 1178.2h30.9v30.9h-30.9zM1598.9 1178.2h30.9v30.9h-30.9zM1629.4 1178.2h30.9v30.9h-30.9zM1080.7 1208.6h30.9v30.9h-30.9zM1080.7 1239.1h30.9v30.9h-30.9zM1659.9 1239.1h30.9v30.9h-30.9zM1355.1 1330.5h30.9v30.9h-30.9zM1019.8 1391.4h30.9v30.9h-30.9zM1050.3 1391.4h30.9v30.9h-30.9zM1568.4 1391.4h30.9v30.9h-30.9zM1080.7 1452.4h30.9v30.9h-30.9z"/><path fill="#fdf3bb" d="M1537.9 50.8h30.9v30.9h-30.9zM1263.6 172.7h30.9v30.9h-30.9zM989.3 203.1h30.9v30.9h-30.9zM1019.8 203.1h30.9v30.9h-30.9zM1019.8 294.5h30.9v30.9h-30.9zM1355.1 325h30.9v30.9h-30.9zM1446.5 385.9h30.9v30.9h-30.9zM1659.9 385.9h30.9v30.9h-30.9zM1141.7 416.4h30.9v30.9h-30.9zM1446.5 416.4h30.9v30.9h-30.9zM1233.1 446.9h30.9v30.9h-30.9zM1263.6 446.9h30.9v30.9h-30.9zM989.3 538.3h30.9v30.9h-30.9zM1507.5 629.7h30.9v30.9h-30.9zM1477 690.6h30.9v30.9h-30.9zM1537.9 721.1h30.9v30.9h-30.9zM1294.1 843h30.9v30.9h-30.9zM1233.1 873.5h30.9v30.9h-30.9zM1080.7 903.9h30.9v30.9h-30.9zM1111.2 903.9h30.9v30.9h-30.9zM1385.5 964.9h30.9v30.9h-30.9zM1568.4 964.9h30.9v30.9h-30.9zM1659.9 964.9h30.9v30.9h-30.9zM1690.3 964.9h30.9v30.9h-30.9zM1537.9 995.3h30.9v30.9h-30.9zM1629.4 995.3h30.9v30.9h-30.9zM1385.5 1025.8h30.9v30.9h-30.9zM1568.4 1025.8h30.9v30.9h-30.9zM1659.9 1025.8h30.9v30.9h-30.9zM1477 1086.8h30.9v30.9h-30.9zM1507.5 1086.8h30.9v30.9h-30.9zM1659.9 1086.8h30.9v30.9h-30.9zM1080.7 1117.2h30.9v30.9h-30.9zM1050.3 1147.7h30.9v30.9h-30.9zM1202.7 1178.2h30.9v30.9h-30.9zM1111.2 1208.6h30.9v30.9h-30.9zM1141.7 1239.1h30.9v30.9h-30.9zM1507.5 1269.6h30.9v30.9h-30.9zM1568.4 1269.6h30.9v30.9h-30.9zM1294.1 1300h30.9v30.9h-30.9zM1294.1 1330.5h30.9v30.9h-30.9zM1324.6 1330.5h30.9v30.9h-30.9zM1416 1330.5h30.9v30.9h-30.9zM1629.4 1330.5h30.9v30.9h-30.9zM1233.1 1361h30.9v30.9h-30.9zM1324.6 1361h30.9v30.9h-30.9zM1355.1 1361h30.9v30.9h-30.9zM1416 1361h30.9v30.9h-30.9zM1537.9 1361h30.9v30.9h-30.9zM1202.7 1391.4h30.9v30.9h-30.9zM1355.1 1391.4h30.9v30.9h-30.9zM1446.5 1391.4h30.9v30.9h-30.9zM1598.9 1391.4h30.9v30.9h-30.9zM989.3 1421.9h30.9v30.9h-30.9zM1019.8 1421.9h30.9v30.9h-30.9zM1202.7 1421.9h30.9v30.9h-30.9zM1355.1 1421.9h30.9v30.9h-30.9zM1629.4 1421.9h30.9v30.9h-30.9zM1659.9 1421.9h30.9v30.9h-30.9zM1659.9 1452.4h30.9v30.9h-30.9zM1690.3 1452.4h30.9v30.9h-30.9z"/><path fill="#feda9f" d="M1477 81.2h30.9v30.9h-30.9zM989.3 233.6h30.9v30.9h-30.9zM1416 294.5h30.9v30.9h-30.9zM1385.5 325h30.9v30.9h-30.9zM1416 325h30.9v30.9h-30.9zM1324.6 355.5h30.9v30.9h-30.9zM1263.6 416.4h30.9v30.9h-30.9zM1416 446.9h30.9v30.9h-30.9zM1385.5 477.3h30.9v30.9h-30.9zM989.3 507.8h30.9v30.9h-30.9zM1537.9 964.9h30.9v30.9h-30.9zM1385.5 995.3h30.9v30.9h-30.9zM1416 995.3h30.9v30.9h-30.9zM1507.5 995.3h30.9v30.9h-30.9zM1598.9 995.3h30.9v30.9h-30.9zM1629.4 1056.3h30.9v30.9h-30.9zM1659.9 1056.3h30.9v30.9h-30.9zM1050.3 1208.6h30.9v30.9h-30.9zM1141.7 1208.6h30.9v30.9h-30.9zM1172.2 1208.6h30.9v30.9h-30.9zM1507.5 1239.1h30.9v30.9h-30.9zM1537.9 1239.1h30.9v30.9h-30.9zM1507.5 1300h30.9v30.9h-30.9zM1598.9 1330.5h30.9v30.9h-30.9z"/><path fill="#feb37a" d="M1507.5 81.2h30.9v30.9h-30.9zM1355.1 355.5h30.9v30.9h-30.9zM1294.1 446.9h30.9v30.9h-30.9zM1324.6 446.9h30.9v30.9h-30.9zM1355.1 446.9h30.9v30.9h-30.9zM1202.7 934.4h30.9v30.9h-30.9zM1355.1 964.9h30.9v30.9h-30.9zM1690.3 1147.7h30.9v30.9h-30.9z"/><path fill="#fee6ac" d="M989.3 111.7h30.9v30.9h-30.9zM1385.5 294.5h30.9v30.9h-30.9zM1446.5 355.5h30.9v30.9h-30.9zM1598.9 355.5h30.9v30.9h-30.9zM989.3 477.3h30.9v30.9h-30.9zM1629.4 599.2h30.9v30.9h-30.9zM1141.7 690.6h30.9v30.9h-30.9zM1263.6 843h30.9v30.9h-30.9zM1202.7 903.9h30.9v30.9h-30.9zM1690.3 1056.3h30.9v30.9h-30.9zM1172.2 1239.1h30.9v30.9h-30.9zM1172.2 1452.4h30.9v30.9h-30.9z"/><path fill="#ff6d52" d="M1416 355.5h30.9v30.9h-30.9zM1324.6 385.9h30.9v30.9h-30.9zM1416 416.4h30.9v30.9h-30.9zM1233.1 903.9h30.9v30.9h-30.9z"/><path fill="#d21230" d="M1355.1 385.9h30.9v30.9h-30.9zM1385.5 385.9h30.9v30.9h-30.9zM1355.1 416.4h30.9v30.9h-30.9zM1294.1 934.4h30.9v30.9h-30.9z"/><path fill="#fb303a" d="M1416 385.9h30.9v30.9h-30.9zM1324.6 416.4h30.9v30.9h-30.9zM1263.6 903.9h30.9v30.9h-30.9zM1294.1 903.9h30.9v30.9h-30.9zM1324.6 903.9h30.9v30.9h-30.9zM1263.6 934.4h30.9v30.9h-30.9z"/><path fill="#b50526" d="M1385.5 416.4h30.9v30.9h-30.9zM1324.6 934.4h30.9v30.9h-30.9z"/><path fill="#5bb4fe" d="M1507.5 477.3h30.9v30.9h-30.9zM1690.3 721.1h30.9v30.9h-30.9z"/><path fill="#1e23f9" d="M1385.5 1178.2h30.9v30.9h-30.9zM1416 1178.2h30.9v30.9h-30.9zM1446.5 1178.2h30.9v30.9h-30.9zM1446.5 1208.6h30.9v30.9h-30.9z"/><path fill="#408afe" d="M1355.1 1208.6h30.9v30.9h-30.9zM1416 1239.1h30.9v30.9h-30.9z"/><path fill="#1e10e8" d="M1385.5 1208.6h30.9v30.9h-30.9zM1416 1208.6h30.9v30.9h-30.9z"/></g><path d="M1124.4 20.3v13M1124.4 1484.5v-13M1277.6 20.3v13M1277.6 1484.5v-13M1430.8 20.3v13M1430.8 1484.5v-13M1584 20.3v13M1584 1484.5v-13M989.3 125.5h13M1729.2 125.5h-13M989.3 278.2h13M1729.2 278.2h-13M989.3 431h13M1729.2 431h-13M989.3 583.8h13M1729.2 583.8h-13M989.3 736.5h13M1729.2 736.5h-13M989.3 889.2h13M1729.2 889.2h-13M989.3 1042h13M1729.2 1042h-13M989.3 1194.8h13M1729.2 1194.8h-13M989.3 1347.5h13M1729.2 1347.5h-13" stroke="#111" stroke-width="1.6"/><rect x="989.3" y="20.3" width="739.9" height="1464.2" fill="none" stroke="#111" stroke-width="1.6"/><path d="M1004.5 35.5l3.6 -1.5M1035 35.5l10.4 -4.3M1096 35.5l-3.9 0M1126.5 35.5l0 7.8M1217.9 35.5l1.5 3.6M1248.4 35.5l3 7.2M1278.9 35.5l5.5 5.5M1309.3 35.5l-7.8 0M1339.8 35.5l-10.4 4.3M1370.3 35.5l-10.4 4.3M1400.8 35.5l-7.2 3M1431.3 35.5l-7.8 0M1461.7 35.5l-10.4 4.3M1492.2 35.5l-11.2 0M1522.7 35.5l-11.2 0M1553.2 35.5l-11.2 0M1583.7 35.5l-5.5 -5.5M1614.1 35.5l-7.8 0M1675.1 35.5l2.7 2.7M1705.6 35.5l11.2 0M1004.5 66l2.7 -2.7M1035 66l0 -7.8M1065.5 66l-3 -7.2M1096 66l-7.9 -7.9M1126.5 66l3 -7.2M1156.9 66l-3.9 0M1187.4 66l-2.7 2.7M1217.9 66l-3 -7.2M1248.4 66l-7.9 -7.9M1278.9 66l-7.9 -7.9M1309.3 66l-11.2 0M1339.8 66l-10.4 4.3M1370.3 66l-10.4 4.3M1400.8 66l-10.4 4.3M1431.3 66l-14.3 5.9M1461.7 66l-10.4 4.3M1492.2 66l-11.2 0M1522.7 66l-7.8 0M1553.2 66l-10.4 -4.3M1583.7 66l5.5 -5.5M1614.1 66l3 -7.2M1644.6 66l5.9 14.3M1675.1 66l7.9 7.9M1705.6 66l7.9 -7.9M1004.5 96.5l0 -3.9M1035 96.5l-4.3 -10.4M1065.5 96.5l-4.3 -10.4M1096 96.5l-4.3 -10.4M1126.5 96.5l-3 -7.2M1156.9 96.5l-7.2 -3M1187.4 96.5l-3 -7.2M1217.9 96.5l-4.3 -10.4M1248.4 96.5l-7.9 -7.9M1278.9 96.5l-4.3 -10.4M1309.3 96.5l-7.2 -3M1339.8 96.5l-3 -7.2M1370.3 96.5l-10.4 -4.3M1400.8 96.5l-11.2 0M1431.3 96.5l-11.2 0M1461.7 96.5l-11.2 0M1492.2 96.5l-10.4 4.3M1522.7 96.5l-4.3 10.4M1553.2 96.5l0 7.8M1583.7 96.5l0 11.2M1614.1 96.5l4.3 10.4M1644.6 96.5l7.9 7.9M1675.1 96.5l5.5 5.5M1705.6 96.5l10.4 -4.3M1004.5 126.9l1.5 -3.6M1035 126.9l7.9 -7.9M1065.5 126.9l4.3 -10.4M1096 126.9l4.3 -10.4M1126.5 126.9l0 -11.2M1156.9 126.9l-4.3 -10.4M1187.4 126.9l-4.3 -10.4M1217.9 126.9l0 -7.8M1248.4 126.9l0 -11.2M1278.9 126.9l-3 -7.2M1309.3 126.9l5.5 -5.5M1339.8 126.9l3 -7.2M1370.3 126.9l-5.5 -5.5M1400.8 126.9l-3.9 0M1431.3 126.9l-11.2 0M1461.7 126.9l-5.5 5.5M1492.2 126.9l-7.9 7.9M1522.7 126.9l-4.3 10.4M1553.2 126.9l0 7.8M1583.7 126.9l4.3 10.4M1614.1 126.9l3.6 1.5M1644.6 126.9l7.8 0M1675.1 126.9l7.8 0M1705.6 126.9l7.9 -7.9M1035 157.4l0 -11.2M1065.5 157.4l4.3 -10.4M1096 157.4l4.3 -10.4M1126.5 157.4l0 -11.2M1156.9 157.4l0 -7.8M1187.4 157.4l-4.3 -10.4M1217.9 157.4l-4.3 -10.4M1248.4 157.4l-4.3 -10.4M1278.9 157.4l-5.9 -14.3M1309.3 157.4l0 -11.2M1339.8 157.4l4.3 -10.4M1370.3 157.4l-4.3 -10.4M1400.8 157.4l-5.5 -5.5M1431.3 157.4l-5.5 -5.5M1461.7 157.4l-3.9 0M1492.2 157.4l-4.3 10.4M1583.7 157.4l3 7.2M1614.1 157.4l2.7 -2.7M1644.6 157.4l2.7 -2.7M1675.1 157.4l3 -7.2M1705.6 157.4l-3 -7.2M1004.5 187.9l0 -3.9M1035 187.9l0 -11.2M1065.5 187.9l4.3 -10.4M1096 187.9l4.3 -10.4M1126.5 187.9l5.5 -5.5M1156.9 187.9l0 -7.8M1187.4 187.9l-11 -11M1217.9 187.9l-11 -11M1248.4 187.9l-5.9 -14.3M1278.9 187.9l0 -11.2M1309.3 187.9l0 -11.2M1339.8 187.9l0 -15.5M1370.3 187.9l0 -11.2M1400.8 187.9l-4.3 -10.4M1431.3 187.9l-7.9 -7.9M1461.7 187.9l-7.2 -3M1492.2 187.9l7.2 3M1522.7 187.9l-5.5 -5.5M1553.2 187.9l0 -7.8M1583.7 187.9l0 -3.9M1614.1 187.9l-3 -7.2M1644.6 187.9l0 -7.8M1675.1 187.9l-5.5 -5.5M1705.6 187.9l-5.5 -5.5M1004.5 218.4l0 -3.9M1035 218.4l5.9 -14.3M1065.5 218.4l7.9 -7.9M1096 218.4l7.9 -7.9M1126.5 218.4l0 -7.8M1156.9 218.4l-7.9 -7.9M1187.4 218.4l-11 -11M1217.9 218.4l-11 -11M1248.4 218.4l-11 -11M1278.9 218.4l0 -11.2M1309.3 218.4l0 -15.5M1339.8 218.4l0 -15.5M1370.3 218.4l4.3 -10.4M1400.8 218.4l0 -11.2M1431.3 218.4l-4.3 -10.4M1461.7 218.4l-3 -7.2M1522.7 218.4l0 -3.9M1553.2 218.4l0 -7.8M1583.7 218.4l-3 -7.2M1614.1 218.4l-7.9 -7.9M1644.6 218.4l-7.9 -7.9M1675.1 218.4l-10.4 -4.3M1705.6 218.4l-7.9 -7.9M1004.5 248.8l0 -3.9M1035 248.8l7.9 -7.9M1065.5 248.8l5.5 -5.5M1096 248.8l5.5 -5.5M1126.5 248.8l0 -7.8M1156.9 248.8l-5.5 -5.5M1187.4 248.8l-7.9 -7.9M1217.9 248.8l-11 -11M1248.4 248.8l-11 -11M1278.9 248.8l-7.7 -18.5M1309.3 248.8l0 -15.5M1339.8 248.8l0 -20M1370.3 248.8l0 -15.5M1400.8 248.8l0 -15.5M1431.3 248.8l0 -11.2M1461.7 248.8l5.5 -5.5M1492.2 248.8l7.8 0M1522.7 248.8l3.9 0M1553.2 248.8l-3 -7.2M1583.7 248.8l0 -11.2M1614.1 248.8l-4.3 -10.4M1644.6 248.8l-7.9 -7.9M1675.1 248.8l-7.9 -7.9M1705.6 248.8l-7.9 -7.9M1004.5 279.3l0 -3.9M1035 279.3l0 -11.2M1065.5 279.3l3 -7.2M1096 279.3l0 -7.8M1126.5 279.3l-3 -7.2M1156.9 279.3l-5.5 -5.5M1187.4 279.3l-11 -11M1217.9 279.3l-11 -11M1248.4 279.3l-5.9 -14.3M1278.9 279.3l-5.9 -14.3M1309.3 279.3l-4.3 -10.4M1339.8 279.3l-5.9 -14.3M1370.3 279.3l0 -15.5M1400.8 279.3l0 -15.5M1431.3 279.3l0 -7.8M1461.7 279.3l0 -15.5M1492.2 279.3l11.2 0M1522.7 279.3l7.8 0M1553.2 279.3l0 -7.8M1583.7 279.3l-3 -7.2M1614.1 279.3l-5.5 -5.5M1644.6 279.3l-7.9 -7.9M1675.1 279.3l-4.3 -10.4M1705.6 279.3l-5.9 -14.3M1004.5 309.8l0 -3.9M1035 309.8l5.5 -5.5M1065.5 309.8l5.5 -5.5M1096 309.8l5.5 -5.5M1126.5 309.8l0 -7.8M1156.9 309.8l-5.5 -5.5M1187.4 309.8l-11 -11M1217.9 309.8l-11 -11M1248.4 309.8l-11 -11M1278.9 309.8l-14.1 -14.1M1309.3 309.8l-17.3 -17.3M1339.8 309.8l-14.1 -14.1M1370.3 309.8l-7.7 -18.5M1400.8 309.8l-7.7 -18.5M1431.3 309.8l5.9 -14.3M1461.7 309.8l11 -11M1492.2 309.8l7.9 -7.9M1522.7 309.8l11.2 0M1553.2 309.8l10.4 -4.3M1583.7 309.8l-2.7 -2.7M1614.1 309.8l-3 -7.2M1644.6 309.8l-4.3 -10.4M1675.1 309.8l-3 -7.2M1705.6 309.8l-7.9 -7.9M1004.5 340.2l2.7 -2.7M1035 340.2l15.5 0M1065.5 340.2l5.5 -5.5M1096 340.2l1.5 -3.6M1156.9 340.2l-5.5 -5.5M1187.4 340.2l-7.9 -7.9M1217.9 340.2l-7.9 -7.9M1248.4 340.2l-14.1 -14.1M1278.9 340.2l-17.3 -17.3M1309.3 340.2l-17.3 -17.3M1339.8 340.2l-17.3 -17.3M1370.3 340.2l-14.1 -14.1M1400.8 340.2l-7.7 -18.5M1431.3 340.2l11 -11M1461.7 340.2l11 -11M1492.2 340.2l14.3 -5.9M1522.7 340.2l11.2 0M1553.2 340.2l11.2 0M1583.7 340.2l2.7 -2.7M1614.1 340.2l-4.3 -10.4M1644.6 340.2l-7.9 -7.9M1675.1 340.2l-7.9 -7.9M1705.6 340.2l-7.9 -7.9M1004.5 370.7l3.6 -1.5M1035 370.7l15.5 0M1065.5 370.7l10.4 4.3M1096 370.7l3 7.2M1126.5 370.7l-3 7.2M1187.4 370.7l-5.5 -5.5M1217.9 370.7l-11 -11M1248.4 370.7l-17.3 -17.3M1278.9 370.7l-20.9 -20.9M1309.3 370.7l-17.3 -17.3M1339.8 370.7l-17.3 -17.3M1370.3 370.7l-7.7 -18.5M1400.8 370.7l0 -20M1431.3 370.7l11 -11M1461.7 370.7l18.5 -7.7M1492.2 370.7l15.5 0M1522.7 370.7l14.3 5.9M1553.2 370.7l11.2 0M1583.7 370.7l-3 -7.2M1614.1 370.7l-4.3 -10.4M1644.6 370.7l-5.5 -5.5M1675.1 370.7l-5.5 -5.5M1705.6 370.7l-7.9 -7.9M1004.5 401.2l2.7 -2.7M1035 401.2l20 0M1065.5 401.2l14.3 5.9M1096 401.2l5.9 14.3M1126.5 401.2l-10.4 4.3M1156.9 401.2l-10.4 -4.3M1187.4 401.2l-10.4 -4.3M1217.9 401.2l-14.3 -5.9M1248.4 401.2l-18.5 -7.7M1278.9 401.2l-18.5 -7.7M1309.3 401.2l-18.5 -7.7M1339.8 401.2l-18.5 -7.7M1370.3 401.2l-7.9 -7.9M1400.8 401.2l4.3 -10.4M1431.3 401.2l24.5 0M1461.7 401.2l22.6 9.4M1492.2 401.2l18.5 7.7M1522.7 401.2l18.5 7.7M1553.2 401.2l14.3 5.9M1614.1 401.2l-5.5 5.5M1644.6 401.2l-10.4 -4.3M1675.1 401.2l-10.4 -4.3M1705.6 401.2l-10.4 -4.3M1004.5 431.6l0 -3.9M1035 431.6l15.5 0M1065.5 431.6l11 11M1096 431.6l0 15.5M1126.5 431.6l-14.3 5.9M1156.9 431.6l-10.4 4.3M1187.4 431.6l-11.2 0M1217.9 431.6l-15.5 0M1248.4 431.6l-18.5 -7.7M1278.9 431.6l-20 0M1309.3 431.6l-18.5 -7.7M1339.8 431.6l-18.5 7.7M1370.3 431.6l-5.9 14.3M1400.8 431.6l11 11M1431.3 431.6l20.9 20.9M1461.7 431.6l27.3 11.3M1492.2 431.6l22.6 9.4M1522.7 431.6l20 0M1553.2 431.6l10.4 4.3M1583.7 431.6l0 7.8M1614.1 431.6l-7.2 3M1644.6 431.6l-10.4 4.3M1675.1 431.6l-10.4 4.3M1705.6 431.6l-11.2 0M1004.5 462.1l0 -3.9M1035 462.1l10.4 -4.3M1065.5 462.1l7.9 7.9M1096 462.1l0 15.5M1126.5 462.1l-10.4 4.3M1156.9 462.1l-5.5 5.5M1187.4 462.1l-10.4 4.3M1217.9 462.1l-15.5 0M1248.4 462.1l-15.5 0M1278.9 462.1l-14.3 5.9M1309.3 462.1l-14.1 14.1M1339.8 462.1l-9.4 22.6M1370.3 462.1l0 24.5M1400.8 462.1l9.4 22.6M1431.3 462.1l20.9 20.9M1461.7 462.1l20.9 20.9M1492.2 462.1l18.5 7.7M1522.7 462.1l7.2 3M1553.2 462.1l5.5 5.5M1583.7 462.1l0 7.8M1614.1 462.1l-7.2 -3M1644.6 462.1l-11.2 0M1675.1 462.1l-10.4 4.3M1705.6 462.1l-11.2 0M1004.5 492.6l-5.5 -5.5M1065.5 492.6l5.9 14.3M1096 492.6l-5.9 14.3M1126.5 492.6l-7.9 7.9M1156.9 492.6l-10.4 4.3M1187.4 492.6l-10.4 4.3M1217.9 492.6l-15.5 0M1248.4 492.6l-14.3 5.9M1278.9 492.6l-14.1 14.1M1309.3 492.6l-11 11M1339.8 492.6l-5.9 14.3M1370.3 492.6l0 20M1400.8 492.6l5.9 14.3M1431.3 492.6l11 11M1461.7 492.6l14.1 14.1M1492.2 492.6l18.5 7.7M1522.7 492.6l5.5 5.5M1553.2 492.6l-5.5 -5.5M1583.7 492.6l-5.5 5.5M1614.1 492.6l-7.8 0M1644.6 492.6l-11.2 0M1675.1 492.6l-11.2 0M1705.6 492.6l-11.2 0M1004.5 523.1l-2.7 -2.7M1035 523.1l5.5 5.5M1065.5 523.1l0 7.8M1096 523.1l0 11.2M1126.5 523.1l-5.5 5.5M1156.9 523.1l-10.4 4.3M1187.4 523.1l-11.2 0M1217.9 523.1l-15.5 0M1248.4 523.1l-11 11M1278.9 523.1l-11 11M1309.3 523.1l-7.7 18.5M1339.8 523.1l-7.7 18.5M1370.3 523.1l0 15.5M1400.8 523.1l7.7 18.5M1431.3 523.1l7.7 18.5M1461.7 523.1l14.1 14.1M1492.2 523.1l11 11M1522.7 523.1l7.2 -3M1583.7 523.1l-10.4 -4.3M1614.1 523.1l-11.2 0M1644.6 523.1l-10.4 -4.3M1675.1 523.1l-7.2 -3M1705.6 523.1l-11.2 0M1004.5 553.5l0 -3.9M1035 553.5l4.3 10.4M1065.5 553.5l-5.5 -5.5M1096 553.5l-3.9 0M1126.5 553.5l-3.9 0M1156.9 553.5l-10.4 -4.3M1187.4 553.5l-15.5 0M1217.9 553.5l-10.4 -4.3M1248.4 553.5l-14.3 5.9M1278.9 553.5l-11 11M1309.3 553.5l-4.3 10.4M1339.8 553.5l0 15.5M1370.3 553.5l0 11.2M1400.8 553.5l3 7.2M1431.3 553.5l5.5 5.5M1461.7 553.5l10.4 -4.3M1492.2 553.5l7.8 0M1522.7 553.5l3 -7.2M1553.2 553.5l3 -7.2M1583.7 553.5l-4.3 -10.4M1614.1 553.5l-5.5 -5.5M1644.6 553.5l-5.5 -5.5M1675.1 553.5l-5.5 -5.5M1705.6 553.5l-7.2 -3M1004.5 584l0 -3.9M1035 584l0 7.8M1065.5 584l-1.5 3.6M1096 584l-7.9 -7.9M1126.5 584l-7.9 -7.9M1156.9 584l-5.5 -5.5M1187.4 584l-10.4 -4.3M1217.9 584l-14.3 -5.9M1248.4 584l-14.3 -5.9M1278.9 584l-15.5 0M1309.3 584l-5.5 5.5M1339.8 584l-7.8 0M1370.3 584l-7.8 0M1461.7 584l3 -7.2M1492.2 584l3 -7.2M1522.7 584l-4.3 -10.4M1553.2 584l0 -15.5M1583.7 584l0 -15.5M1614.1 584l-4.3 -10.4M1644.6 584l-4.3 -10.4M1675.1 584l0 -11.2M1705.6 584l-5.5 -5.5M1035 614.5l-2.7 -2.7M1065.5 614.5l-7.9 -7.9M1096 614.5l-7.9 -7.9M1126.5 614.5l-7.2 -3M1156.9 614.5l-2.7 -2.7M1187.4 614.5l-7.2 -3M1217.9 614.5l-14.3 -5.9M1248.4 614.5l-14.3 -5.9M1278.9 614.5l-10.4 -4.3M1309.3 614.5l-11.2 0M1339.8 614.5l-7.2 -3M1400.8 614.5l-7.2 3M1461.7 614.5l-3 -7.2M1492.2 614.5l-4.3 -10.4M1522.7 614.5l-5.9 -14.3M1553.2 614.5l-5.9 -14.3M1583.7 614.5l0 -15.5M1614.1 614.5l-4.3 -10.4M1644.6 614.5l0 -11.2M1675.1 614.5l3 -7.2M1705.6 614.5l-3 -7.2M1035 644.9l-4.3 -10.4M1065.5 644.9l-4.3 -10.4M1096 644.9l-5.5 -5.5M1126.5 644.9l-10.4 -4.3M1156.9 644.9l-5.5 -5.5M1187.4 644.9l-2.7 -2.7M1217.9 644.9l-7.8 0M1248.4 644.9l-5.5 -5.5M1278.9 644.9l-7.2 -3M1309.3 644.9l-10.4 -4.3M1339.8 644.9l-10.4 -4.3M1370.3 644.9l-7.8 0M1400.8 644.9l-7.8 0M1431.3 644.9l-7.2 -3M1461.7 644.9l-3 -7.2M1492.2 644.9l-4.3 -10.4M1522.7 644.9l-4.3 -10.4M1553.2 644.9l0 -11.2M1583.7 644.9l4.3 -10.4M1614.1 644.9l0 -3.9M1644.6 644.9l3 -7.2M1675.1 644.9l3 -7.2M1705.6 644.9l-3 -7.2M1004.5 675.4l-2.7 -2.7M1035 675.4l-14.1 -14.1M1065.5 675.4l-11 -11M1096 675.4l-7.9 -7.9M1126.5 675.4l-14.3 -5.9M1156.9 675.4l-7.8 0M1187.4 675.4l-7.2 3M1217.9 675.4l0 -11.2M1248.4 675.4l5.5 -5.5M1278.9 675.4l0 -7.8M1309.3 675.4l-3 -7.2M1339.8 675.4l-4.3 -10.4M1370.3 675.4l-7.9 -7.9M1400.8 675.4l-7.9 -7.9M1431.3 675.4l-5.5 -5.5M1461.7 675.4l-4.3 -10.4M1492.2 675.4l-4.3 -10.4M1522.7 675.4l0 -7.8M1553.2 675.4l0 -7.8M1583.7 675.4l4.3 -10.4M1614.1 675.4l2.7 -2.7M1644.6 675.4l0 -7.8M1675.1 675.4l0 -7.8M1705.6 675.4l3.9 0M1004.5 705.9l-5.5 -5.5M1035 705.9l-14.1 -14.1M1065.5 705.9l-11 -11M1096 705.9l-14.3 -5.9M1126.5 705.9l-15.5 0M1156.9 705.9l-5.5 5.5M1187.4 705.9l-4.3 -10.4M1217.9 705.9l0 -11.2M1248.4 705.9l0 -7.8M1278.9 705.9l0 -11.2M1309.3 705.9l-4.3 -10.4M1339.8 705.9l-5.9 -14.3M1370.3 705.9l-7.9 -7.9M1400.8 705.9l-5.9 -14.3M1431.3 705.9l-4.3 -10.4M1461.7 705.9l-4.3 -10.4M1492.2 705.9l-4.3 -10.4M1522.7 705.9l0 -7.8M1553.2 705.9l3 -7.2M1583.7 705.9l5.5 -5.5M1614.1 705.9l1.5 3.6M1644.6 705.9l3.6 -1.5M1675.1 705.9l5.5 -5.5M1705.6 705.9l-7.2 -3M1004.5 736.3l3.9 0M1035 736.3l-5.9 -14.3M1065.5 736.3l-7.9 -7.9M1096 736.3l-7.9 -7.9M1126.5 736.3l-10.4 -4.3M1156.9 736.3l-2.7 2.7M1187.4 736.3l0 -7.8M1217.9 736.3l3 -7.2M1248.4 736.3l3.6 -1.5M1278.9 736.3l0 -11.2M1309.3 736.3l0 -15.5M1339.8 736.3l-7.7 -18.5M1370.3 736.3l-4.3 -10.4M1400.8 736.3l-5.9 -14.3M1431.3 736.3l-4.3 -10.4M1461.7 736.3l0 -7.8M1492.2 736.3l0 -3.9M1522.7 736.3l-5.5 -5.5M1553.2 736.3l-7.9 -7.9M1583.7 736.3l0 -3.9M1614.1 736.3l2.7 2.7M1644.6 736.3l0 -11.2M1675.1 736.3l4.3 -10.4M1705.6 736.3l-5.5 -5.5M1004.5 766.8l-2.7 -2.7M1035 766.8l-11 -11M1065.5 766.8l-11 -11M1096 766.8l-11 -11M1126.5 766.8l-7.9 -7.9M1156.9 766.8l-5.5 -5.5M1187.4 766.8l-2.7 -2.7M1217.9 766.8l3 -7.2M1248.4 766.8l3 -7.2M1278.9 766.8l0 -15.5M1309.3 766.8l0 -20M1339.8 766.8l0 -20M1370.3 766.8l0 -15.5M1400.8 766.8l0 -15.5M1431.3 766.8l5.9 -14.3M1461.7 766.8l4.3 -10.4M1492.2 766.8l2.7 -2.7M1522.7 766.8l-2.7 -2.7M1553.2 766.8l3.9 0M1583.7 766.8l3 -7.2M1614.1 766.8l0 -11.2M1644.6 766.8l4.3 -10.4M1675.1 766.8l4.3 -10.4M1705.6 766.8l-4.3 -10.4M1004.5 797.3l-2.7 -2.7M1035 797.3l-5.9 -14.3M1065.5 797.3l-14.1 -14.1M1096 797.3l-11 -11M1126.5 797.3l-11 -11M1156.9 797.3l-7.9 -7.9M1187.4 797.3l-7.9 -7.9M1217.9 797.3l-4.3 -10.4M1248.4 797.3l-5.9 -14.3M1278.9 797.3l-7.7 -18.5M1309.3 797.3l0 -24.5M1339.8 797.3l0 -24.5M1370.3 797.3l7.7 -18.5M1400.8 797.3l7.7 -18.5M1431.3 797.3l11 -11M1461.7 797.3l18.5 -7.7M1492.2 797.3l20 0M1522.7 797.3l14.3 -5.9M1553.2 797.3l10.4 -4.3M1583.7 797.3l0 -11.2M1614.1 797.3l5.9 -14.3M1644.6 797.3l5.9 -14.3M1675.1 797.3l5.9 -14.3M1705.6 797.3l4.3 -10.4M1004.5 827.8l0 -3.9M1035 827.8l-5.9 -14.3M1065.5 827.8l-5.9 -14.3M1096 827.8l-7.7 -18.5M1126.5 827.8l-7.7 -18.5M1156.9 827.8l-11 -11M1187.4 827.8l-11 -11M1217.9 827.8l-11 -11M1248.4 827.8l-7.7 -18.5M1278.9 827.8l-9.4 -22.6M1309.3 827.8l0 -24.5M1339.8 827.8l0 -24.5M1370.3 827.8l9.4 -22.6M1400.8 827.8l7.7 -18.5M1431.3 827.8l14.1 -14.1M1461.7 827.8l18.5 -7.7M1492.2 827.8l18.5 -7.7M1522.7 827.8l18.5 -7.7M1553.2 827.8l14.3 -5.9M1583.7 827.8l4.3 -10.4M1614.1 827.8l11 -11M1644.6 827.8l5.9 -14.3M1675.1 827.8l5.5 -5.5M1705.6 827.8l5.5 -5.5M1004.5 858.2l-2.7 -2.7M1035 858.2l-7.7 -18.5M1065.5 858.2l-14.1 -14.1M1096 858.2l-17.3 -17.3M1126.5 858.2l-17.3 -17.3M1156.9 858.2l-14.1 -14.1M1187.4 858.2l-17.3 -17.3M1217.9 858.2l-20.9 -20.9M1248.4 858.2l-20.9 -20.9M1278.9 858.2l-11.3 -27.3M1309.3 858.2l0 -29.5M1339.8 858.2l11.3 -27.3M1370.3 858.2l0 -24.5M1400.8 858.2l9.4 -22.6M1431.3 858.2l14.1 -14.1M1461.7 858.2l14.1 -14.1M1492.2 858.2l14.1 -14.1M1522.7 858.2l11 -11M1553.2 858.2l5.9 -14.3M1583.7 858.2l0 -15.5M1614.1 858.2l7.9 -7.9M1644.6 858.2l5.9 -14.3M1675.1 858.2l7.9 -7.9M1705.6 858.2l7.9 -7.9M1004.5 888.7l3.9 0M1035 888.7l-14.1 -14.1M1065.5 888.7l-14.1 -14.1M1096 888.7l-17.3 -17.3M1126.5 888.7l-17.3 -17.3M1156.9 888.7l-14.1 -14.1M1187.4 888.7l-18.5 -7.7M1217.9 888.7l-17.3 -17.3M1248.4 888.7l-20.9 -20.9M1278.9 888.7l-20.9 -20.9M1309.3 888.7l-11.3 -27.3M1339.8 888.7l9.4 -22.6M1370.3 888.7l17.3 -17.3M1400.8 888.7l14.1 -14.1M1431.3 888.7l14.1 -14.1M1461.7 888.7l11 -11M1492.2 888.7l5.9 -14.3M1522.7 888.7l11 -11M1553.2 888.7l0 -20M1583.7 888.7l0 -15.5M1614.1 888.7l5.9 -14.3M1644.6 888.7l7.7 -18.5M1675.1 888.7l5.9 -14.3M1705.6 888.7l5.9 -14.3M1004.5 919.2l-2.7 -2.7M1035 919.2l-14.3 -5.9M1065.5 919.2l-14.3 -5.9M1096 919.2l-14.1 -14.1M1126.5 919.2l-14.1 -14.1M1156.9 919.2l-11 -11M1187.4 919.2l-18.5 -7.7M1217.9 919.2l-18.5 -7.7M1248.4 919.2l-22.6 -9.4M1278.9 919.2l-17.3 -17.3M1309.3 919.2l-7.7 -18.5M1339.8 919.2l0 -20M1370.3 919.2l22.6 -9.4M1400.8 919.2l22.6 -9.4M1431.3 919.2l18.5 -7.7M1461.7 919.2l14.1 -14.1M1492.2 919.2l5.9 -14.3M1522.7 919.2l5.9 -14.3M1553.2 919.2l0 -20M1583.7 919.2l0 -15.5M1614.1 919.2l0 -20M1644.6 919.2l0 -20M1675.1 919.2l7.7 -18.5M1705.6 919.2l7.7 -18.5M1004.5 949.6l-7.8 0M1035 949.6l-18.5 -7.7M1065.5 949.6l-18.5 -7.7M1096 949.6l-18.5 -7.7M1126.5 949.6l-18.5 -7.7M1156.9 949.6l-22.6 -9.4M1187.4 949.6l-22.6 -9.4M1217.9 949.6l-18.5 7.7M1248.4 949.6l-17.3 17.3M1278.9 949.6l-14.1 14.1M1309.3 949.6l-11 11M1339.8 949.6l-5.5 -5.5M1370.3 949.6l18.5 -7.7M1400.8 949.6l7.9 -7.9M1431.3 949.6l0 -7.8M1461.7 949.6l0 -11.2M1492.2 949.6l0 -15.5M1522.7 949.6l-5.9 -14.3M1553.2 949.6l0 -15.5M1583.7 949.6l0 -15.5M1614.1 949.6l0 -20M1644.6 949.6l0 -20M1675.1 949.6l0 -20M1705.6 949.6l0 -20M1004.5 980.1l-7.8 0M1035 980.1l-20 0M1065.5 980.1l-20 0M1096 980.1l-22.6 -9.4M1126.5 980.1l-22.6 -9.4M1156.9 980.1l-24.5 0M1187.4 980.1l-20 0M1217.9 980.1l-22.6 9.4M1248.4 980.1l-17.3 17.3M1278.9 980.1l-14.1 14.1M1309.3 980.1l0 20M1339.8 980.1l7.7 18.5M1370.3 980.1l5.9 14.3M1400.8 980.1l7.8 0M1431.3 980.1l2.7 -2.7M1461.7 980.1l0 -3.9M1522.7 980.1l-7.9 -7.9M1553.2 980.1l-5.5 -5.5M1583.7 980.1l-4.3 -10.4M1614.1 980.1l0 -20M1644.6 980.1l0 -15.5M1675.1 980.1l0 -20M1705.6 980.1l0 -20M1004.5 1010.6l-3.9 0M1035 1010.6l-20 0M1065.5 1010.6l-20 0M1096 1010.6l-18.5 -7.7M1126.5 1010.6l-18.5 -7.7M1156.9 1010.6l-22.6 -9.4M1187.4 1010.6l-22.6 -9.4M1217.9 1010.6l-14.1 14.1M1248.4 1010.6l-7.7 18.5M1278.9 1010.6l-9.4 22.6M1309.3 1010.6l0 29.5M1339.8 1010.6l0 29.5M1370.3 1010.6l0 24.5M1400.8 1010.6l0 11.2M1431.3 1010.6l0 11.2M1461.7 1010.6l-5.5 5.5M1492.2 1010.6l-10.4 4.3M1522.7 1010.6l-10.4 4.3M1553.2 1010.6l-10.4 4.3M1583.7 1010.6l-10.4 -4.3M1614.1 1010.6l-5.9 -14.3M1644.6 1010.6l0 -15.5M1675.1 1010.6l0 -15.5M1705.6 1010.6l0 -15.5M1004.5 1041l-3.9 0M1035 1041l-15.5 0M1065.5 1041l-18.5 -7.7M1096 1041l-18.5 -7.7M1126.5 1041l-18.5 -7.7M1156.9 1041l-18.5 -7.7M1187.4 1041l-22.6 -9.4M1217.9 1041l-15.5 0M1248.4 1041l-7.7 18.5M1278.9 1041l-9.4 22.6M1309.3 1041l0 29.5M1339.8 1041l0 24.5M1370.3 1041l0 29.5M1400.8 1041l0 29.5M1431.3 1041l0 24.5M1461.7 1041l-7.7 18.5M1492.2 1041l-11 11M1522.7 1041l-11 11M1553.2 1041l-14.3 5.9M1583.7 1041l-10.4 4.3M1614.1 1041l-11.2 0M1644.6 1041l-4.3 -10.4M1675.1 1041l5.9 -14.3M1705.6 1041l4.3 -10.4M1004.5 1071.5l-3.9 0M1035 1071.5l-20 0M1065.5 1071.5l-18.5 -7.7M1096 1071.5l-10.4 -4.3M1126.5 1071.5l-10.4 -4.3M1156.9 1071.5l-14.3 -5.9M1187.4 1071.5l-14.3 -5.9M1217.9 1071.5l-10.4 -4.3M1248.4 1071.5l-5.5 5.5M1278.9 1071.5l-11 11M1309.3 1071.5l0 24.5M1339.8 1071.5l0 20M1370.3 1071.5l0 29.5M1400.8 1071.5l0 24.5M1431.3 1071.5l0 24.5M1461.7 1071.5l-9.4 22.6M1492.2 1071.5l-11 11M1522.7 1071.5l-10.4 4.3M1553.2 1071.5l-7.9 7.9M1583.7 1071.5l-7.9 7.9M1614.1 1071.5l-7.9 7.9M1644.6 1071.5l-2.7 -2.7M1675.1 1071.5l4.3 -10.4M1705.6 1071.5l4.3 -10.4M1004.5 1102l-3.6 -1.5M1035 1102l-18.5 -7.7M1065.5 1102l-18.5 -7.7M1096 1102l-7.9 -7.9M1126.5 1102l-5.5 -5.5M1156.9 1102l0 -3.9M1187.4 1102l-3 -7.2M1248.4 1102l-3 -7.2M1278.9 1102l-10.4 -4.3M1309.3 1102l0 11.2M1339.8 1102l-5.9 14.3M1370.3 1102l0 24.5M1400.8 1102l0 29.5M1431.3 1102l0 29.5M1461.7 1102l-11.3 27.3M1492.2 1102l-14.1 14.1M1522.7 1102l-11 11M1553.2 1102l-11 11M1583.7 1102l-11 11M1614.1 1102l-10.4 4.3M1675.1 1102l-7.8 0M1705.6 1102l10.4 4.3M1004.5 1132.5l-2.7 -2.7M1035 1132.5l-18.5 -7.7M1065.5 1132.5l-11 -11M1096 1132.5l-4.3 -10.4M1126.5 1132.5l3 -7.2M1156.9 1132.5l4.3 -10.4M1187.4 1132.5l0 -7.8M1217.9 1132.5l5.5 -5.5M1248.4 1132.5l15.5 0M1278.9 1132.5l14.3 -5.9M1309.3 1132.5l18.5 7.7M1339.8 1132.5l17.3 17.3M1370.3 1132.5l11.3 27.3M1400.8 1132.5l0 24.5M1431.3 1132.5l0 24.5M1461.7 1132.5l-11.3 27.3M1492.2 1132.5l-17.3 17.3M1522.7 1132.5l-11 11M1553.2 1132.5l-11 11M1583.7 1132.5l-14.3 5.9M1614.1 1132.5l-10.4 4.3M1644.6 1132.5l0 3.9M1675.1 1132.5l14.3 5.9M1705.6 1132.5l14.3 -5.9M1004.5 1162.9l-1.5 -3.6M1035 1162.9l-14.1 -14.1M1065.5 1162.9l-4.3 -10.4M1096 1162.9l0 -7.8M1126.5 1162.9l0 -11.2M1156.9 1162.9l4.3 -10.4M1187.4 1162.9l2.7 -2.7M1217.9 1162.9l10.4 -4.3M1248.4 1162.9l15.5 0M1278.9 1162.9l18.5 -7.7M1309.3 1162.9l24.5 0M1339.8 1162.9l20.9 20.9M1370.3 1162.9l9.4 22.6M1400.8 1162.9l9.4 22.6M1431.3 1162.9l0 24.5M1461.7 1162.9l-17.3 17.3M1492.2 1162.9l-17.3 17.3M1522.7 1162.9l-7.7 18.5M1553.2 1162.9l-7.9 7.9M1583.7 1162.9l-10.4 -4.3M1614.1 1162.9l-14.3 -5.9M1644.6 1162.9l-4.3 -10.4M1675.1 1162.9l5.5 -5.5M1705.6 1162.9l14.3 5.9M1004.5 1193.4l3.9 0M1035 1193.4l-5.9 -14.3M1065.5 1193.4l0 -11.2M1096 1193.4l4.3 -10.4M1126.5 1193.4l0 -7.8M1156.9 1193.4l4.3 -10.4M1187.4 1193.4l4.3 -10.4M1217.9 1193.4l10.4 -4.3M1248.4 1193.4l20 0M1278.9 1193.4l20 0M1309.3 1193.4l27.3 11.3M1339.8 1193.4l18.5 7.7M1370.3 1193.4l11 11M1400.8 1193.4l14.1 14.1M1431.3 1193.4l-5.9 14.3M1461.7 1193.4l-14.1 14.1M1492.2 1193.4l-20 0M1522.7 1193.4l-15.5 0M1553.2 1193.4l-15.5 0M1583.7 1193.4l-10.4 -4.3M1614.1 1193.4l-4.3 -10.4M1644.6 1193.4l0 -7.8M1675.1 1193.4l4.3 -10.4M1705.6 1193.4l15.5 0M1004.5 1223.9l0 -7.8M1035 1223.9l-5.9 -14.3M1065.5 1223.9l3 -7.2M1096 1223.9l10.4 -4.3M1126.5 1223.9l1.5 -3.6M1156.9 1223.9l5.5 -5.5M1187.4 1223.9l7.2 -3M1217.9 1223.9l11.2 0M1248.4 1223.9l14.3 5.9M1278.9 1223.9l20 0M1309.3 1223.9l24.5 0M1339.8 1223.9l20 0M1370.3 1223.9l18.5 7.7M1400.8 1223.9l-5.5 5.5M1431.3 1223.9l-7.2 3M1461.7 1223.9l-14.3 -5.9M1492.2 1223.9l-24.5 0M1522.7 1223.9l-14.3 -5.9M1553.2 1223.9l0 -11.2M1583.7 1223.9l4.3 -10.4M1614.1 1223.9l7.9 -7.9M1644.6 1223.9l4.3 -10.4M1675.1 1223.9l7.9 -7.9M1705.6 1223.9l11 -11M1004.5 1254.3l0 -7.8M1035 1254.3l-7.9 -7.9M1065.5 1254.3l-2.7 -2.7M1096 1254.3l2.7 2.7M1126.5 1254.3l-3 7.2M1156.9 1254.3l2.7 -2.7M1187.4 1254.3l0 3.9M1217.9 1254.3l7.8 0M1248.4 1254.3l10.4 4.3M1278.9 1254.3l15.5 0M1309.3 1254.3l20 0M1339.8 1254.3l14.1 -14.1M1370.3 1254.3l7.9 -7.9M1400.8 1254.3l5.9 -14.3M1431.3 1254.3l-5.9 -14.3M1461.7 1254.3l-14.1 -14.1M1492.2 1254.3l-17.3 -17.3M1522.7 1254.3l-11 -11M1553.2 1254.3l5.9 -14.3M1583.7 1254.3l11 -11M1614.1 1254.3l14.1 -14.1M1644.6 1254.3l5.9 -14.3M1675.1 1254.3l14.1 -14.1M1705.6 1254.3l14.1 -14.1M1004.5 1284.8l-2.7 -2.7M1035 1284.8l-2.7 -2.7M1065.5 1284.8l0 11.2M1096 1284.8l-4.3 10.4M1126.5 1284.8l-3 7.2M1156.9 1284.8l-5.5 5.5M1187.4 1284.8l-7.9 7.9M1217.9 1284.8l-10.4 -4.3M1248.4 1284.8l-2.7 -2.7M1278.9 1284.8l5.5 -5.5M1309.3 1284.8l4.3 -10.4M1339.8 1284.8l0 -15.5M1370.3 1284.8l5.9 -14.3M1400.8 1284.8l0 -20M1431.3 1284.8l0 -20M1461.7 1284.8l-9.4 -22.6M1492.2 1284.8l-14.1 -14.1M1522.7 1284.8l-11 -11M1553.2 1284.8l-4.3 -10.4M1583.7 1284.8l7.9 -7.9M1614.1 1284.8l11 -11M1644.6 1284.8l11 -11M1675.1 1284.8l14.3 -5.9M1705.6 1284.8l14.3 -5.9M1004.5 1315.3l-1.5 -3.6M1035 1315.3l-7.9 -7.9M1065.5 1315.3l0 -7.8M1096 1315.3l0 -11.2M1126.5 1315.3l-5.5 -5.5M1156.9 1315.3l-5.5 -5.5M1187.4 1315.3l-11.2 0M1217.9 1315.3l-7.2 -3M1248.4 1315.3l-7.2 -3M1278.9 1315.3l-7.9 -7.9M1309.3 1315.3l-4.3 -10.4M1339.8 1315.3l0 -11.2M1370.3 1315.3l-5.9 -14.3M1400.8 1315.3l0 -15.5M1431.3 1315.3l0 -15.5M1461.7 1315.3l-5.9 -14.3M1492.2 1315.3l-11 -11M1522.7 1315.3l-7.9 -7.9M1553.2 1315.3l0 -11.2M1583.7 1315.3l11 -11M1614.1 1315.3l14.3 -5.9M1644.6 1315.3l14.3 -5.9M1675.1 1315.3l14.3 -5.9M1705.6 1315.3l14.3 -5.9M1004.5 1345.7l2.7 -2.7M1035 1345.7l0 -11.2M1065.5 1345.7l0 -11.2M1096 1345.7l0 -11.2M1126.5 1345.7l4.3 -10.4M1156.9 1345.7l-4.3 -10.4M1187.4 1345.7l-4.3 -10.4M1217.9 1345.7l-4.3 -10.4M1248.4 1345.7l-4.3 -10.4M1278.9 1345.7l-7.9 -7.9M1309.3 1345.7l-5.5 -5.5M1339.8 1345.7l-3 -7.2M1370.3 1345.7l-4.3 -10.4M1400.8 1345.7l0 -11.2M1431.3 1345.7l0 -11.2M1461.7 1345.7l0 -11.2M1492.2 1345.7l-7.9 -7.9M1522.7 1345.7l-10.4 -4.3M1553.2 1345.7l-3.9 0M1583.7 1345.7l-3.9 0M1614.1 1345.7l10.4 -4.3M1644.6 1345.7l14.3 -5.9M1675.1 1345.7l14.3 -5.9M1705.6 1345.7l14.3 -5.9M1004.5 1376.2l3 -7.2M1035 1376.2l4.3 -10.4M1065.5 1376.2l0 -11.2M1096 1376.2l0 -11.2M1126.5 1376.2l0 -11.2M1156.9 1376.2l0 -11.2M1187.4 1376.2l-5.9 -14.3M1217.9 1376.2l-5.9 -14.3M1248.4 1376.2l-5.5 -5.5M1278.9 1376.2l-10.4 -4.3M1309.3 1376.2l-10.4 -4.3M1339.8 1376.2l-7.2 -3M1370.3 1376.2l-2.7 -2.7M1400.8 1376.2l-5.5 -5.5M1431.3 1376.2l-7.2 -3M1461.7 1376.2l-7.9 -7.9M1492.2 1376.2l-11.2 0M1522.7 1376.2l-11.2 0M1553.2 1376.2l-10.4 4.3M1583.7 1376.2l-5.5 5.5M1614.1 1376.2l10.4 4.3M1644.6 1376.2l14.3 5.9M1675.1 1376.2l14.3 -5.9M1705.6 1376.2l14.3 -5.9M1004.5 1406.7l3 -7.2M1035 1406.7l0 -11.2M1065.5 1406.7l0 -11.2M1096 1406.7l3 -7.2M1126.5 1406.7l0 -11.2M1156.9 1406.7l0 -11.2M1187.4 1406.7l-5.9 -14.3M1217.9 1406.7l-5.9 -14.3M1248.4 1406.7l-7.2 3M1278.9 1406.7l-10.4 -4.3M1309.3 1406.7l-11.2 0M1339.8 1406.7l-11.2 0M1370.3 1406.7l-7.2 3M1400.8 1406.7l-7.8 0M1431.3 1406.7l-7.2 -3M1461.7 1406.7l-10.4 -4.3M1492.2 1406.7l-11.2 0M1522.7 1406.7l-11.2 0M1553.2 1406.7l-10.4 4.3M1583.7 1406.7l-7.9 7.9M1614.1 1406.7l0 7.8M1644.6 1406.7l10.4 4.3M1675.1 1406.7l11 -11M1705.6 1406.7l14.3 -5.9M1004.5 1437.2l2.7 -2.7M1035 1437.2l-7.2 3M1065.5 1437.2l-7.2 3M1096 1437.2l5.5 -5.5M1126.5 1437.2l3 -7.2M1156.9 1437.2l0 -7.8M1187.4 1437.2l-5.5 -5.5M1217.9 1437.2l-5.5 5.5M1248.4 1437.2l-10.4 4.3M1278.9 1437.2l-11.2 0M1309.3 1437.2l-10.4 4.3M1339.8 1437.2l-15.5 0M1370.3 1437.2l-10.4 4.3M1400.8 1437.2l-5.5 5.5M1431.3 1437.2l-7.2 3M1461.7 1437.2l-7.2 3M1492.2 1437.2l-7.2 3M1522.7 1437.2l-10.4 4.3M1553.2 1437.2l-10.4 4.3M1583.7 1437.2l-11.2 0M1614.1 1437.2l-7.2 3M1644.6 1437.2l2.7 -2.7M1675.1 1437.2l11 -11M1705.6 1437.2l11 -11M1096 1467.6l-2.7 -2.7M1126.5 1467.6l0 -3.9M1187.4 1467.6l-7.8 0M1217.9 1467.6l-7.2 3M1248.4 1467.6l-7.8 0M1278.9 1467.6l-7.8 0M1309.3 1467.6l-7.8 0M1339.8 1467.6l-7.2 3M1370.3 1467.6l-7.2 3M1400.8 1467.6l-5.5 5.5M1431.3 1467.6l-7.2 3M1461.7 1467.6l-7.2 3M1492.2 1467.6l-7.2 3M1522.7 1467.6l-7.2 3M1553.2 1467.6l-10.4 4.3M1583.7 1467.6l-3.9 0M1614.1 1467.6l-7.8 0M1644.6 1467.6l2.7 2.7M1675.1 1467.6l-2.7 -2.7M1705.6 1467.6l0 -3.9" stroke="#080808" stroke-width="2.5" fill="none"/><path d="M1009.2 33.6L1007.9 36.6L1006.2 32.4zM1048.4 30L1043.5 35.3L1041.2 29.7zM1064.7 34.7h1.6v1.6h-1.6zM1091 35.5L1093.2 33.3L1093.2 37.8zM1126.5 45.5L1123.5 41L1129.5 41zM1156.1 34.7h1.6v1.6h-1.6zM1186.6 34.7h1.6v1.6h-1.6zM1219.8 40.2L1216.9 38.9L1221 37.2zM1252.2 44.8L1247.7 41.8L1253.3 39.5zM1285.9 42.6L1280.6 41.5L1284.9 37.3zM1299.3 35.5L1303.8 32.5L1303.8 38.5zM1326.4 41.1L1331.3 35.8L1333.6 41.4zM1356.9 41.1L1361.8 35.8L1364.1 41.4zM1391.5 39.4L1394.6 34.9L1396.8 40.4zM1421.3 35.5L1425.8 32.5L1425.8 38.5zM1448.3 41.1L1453.2 35.8L1455.5 41.4zM1477.7 35.5L1484.2 32.5L1484.2 38.5zM1508.2 35.5L1514.7 32.5L1514.7 38.5zM1538.7 35.5L1545.2 32.5L1545.2 38.5zM1576.6 28.5L1581.9 29.5L1577.6 33.8zM1604.1 35.5L1608.6 32.5L1608.6 38.5zM1643.8 34.7h1.6v1.6h-1.6zM1678.6 39.1L1675.5 39.1L1678.6 35.9zM1720.1 35.5L1713.6 38.5L1713.6 32.5zM1008.1 62.5L1008.1 65.7L1004.9 62.5zM1035 56L1038 60.5L1032 60.5zM1061.7 56.8L1066.2 59.8L1060.6 62.1zM1085.7 55.8L1092.5 58.2L1088.2 62.5zM1130.3 56.8L1131.3 62.1L1125.8 59.8zM1151.9 66L1154.2 63.8L1154.2 68.3zM1183.9 69.5L1183.9 66.4L1187.1 69.5zM1214.1 56.8L1218.6 59.8L1213 62.1zM1238.1 55.8L1244.9 58.2L1240.6 62.5zM1268.6 55.8L1275.3 58.2L1271.1 62.5zM1294.8 66L1301.4 63L1301.4 69zM1326.4 71.6L1331.3 66.3L1333.6 71.8zM1356.9 71.6L1361.8 66.3L1364.1 71.8zM1387.4 71.6L1392.3 66.3L1394.6 71.8zM1413.7 73.3L1419 67.8L1421.3 73.4zM1448.3 71.6L1453.2 66.3L1455.5 71.8zM1477.7 66L1484.2 63L1484.2 69zM1512.7 66L1517.2 63L1517.2 69zM1539.8 60.5L1547 60.2L1544.7 65.7zM1590.7 58.9L1589.7 64.2L1585.4 60zM1618 56.8L1619 62.1L1613.5 59.8zM1651.9 83.6L1646.4 78.2L1652 75.9zM1685.4 76.3L1678.6 73.8L1682.9 69.5zM1715.8 55.8L1713.3 62.5L1709.1 58.2zM1004.5 91.5L1006.8 93.7L1002.3 93.7zM1029.5 83.1L1034.7 88L1029.2 90.3zM1060 83.1L1065.2 88L1059.7 90.3zM1090.4 83.1L1095.7 88L1090.2 90.3zM1122.6 87.2L1127.1 90.2L1121.6 92.5zM1147.7 92.6L1153 91.6L1150.7 97.1zM1183.6 87.2L1188.1 90.2L1182.5 92.5zM1212.4 83.1L1217.6 88L1212.1 90.3zM1238.1 86.2L1244.9 88.7L1240.6 93zM1273.3 83.1L1278.6 88L1273 90.3zM1300.1 92.6L1305.4 91.6L1303.1 97.1zM1336 87.2L1340.5 90.2L1334.9 92.5zM1356.9 90.9L1364.1 90.7L1361.8 96.2zM1386.3 96.5L1392.8 93.5L1392.8 99.5zM1416.8 96.5L1423.3 93.5L1423.3 99.5zM1447.2 96.5L1453.8 93.5L1453.8 99.5zM1478.8 102L1483.7 96.8L1486 102.3zM1517.2 109.9L1516.9 102.7L1522.4 105zM1553.2 106.5L1550.2 102L1556.2 102zM1583.7 111L1580.7 104.4L1586.7 104.4zM1619.7 109.9L1614.4 105L1620 102.7zM1654.9 106.7L1648.1 104.2L1652.4 100zM1682.2 103.5L1676.9 102.5L1681.1 98.2zM1719 90.9L1714.1 96.2L1711.8 90.7zM1006.5 122.3L1007.7 125.3L1003.5 123.5zM1045.3 116.7L1042.8 123.4L1038.5 119.2zM1071 113.5L1071.3 120.7L1065.8 118.4zM1101.5 113.5L1101.8 120.7L1096.3 118.4zM1126.5 112.4L1129.5 119L1123.5 119zM1151.4 113.5L1156.7 118.4L1151.1 120.7zM1181.9 113.5L1187.1 118.4L1181.6 120.7zM1217.9 116.9L1220.9 121.4L1214.9 121.4zM1248.4 112.4L1251.4 119L1245.4 119zM1275 117.7L1279.5 120.7L1274 123zM1316.4 119.9L1315.4 125.2L1311.1 120.9zM1343.6 117.7L1344.7 123L1339.2 120.7zM1363.2 119.9L1368.5 120.9L1364.3 125.2zM1395.8 126.9L1398 124.7L1398 129.2zM1416.8 126.9L1423.3 123.9L1423.3 129.9zM1454.7 134L1455.7 128.7L1460 133zM1482 137.2L1484.5 130.5L1488.7 134.7zM1517.2 140.3L1516.9 133.2L1522.4 135.5zM1553.2 136.9L1550.2 132.4L1556.2 132.4zM1589.2 140.3L1583.9 135.5L1589.5 133.2zM1618.8 128.9L1615.8 130.1L1617.5 125.9zM1654.6 126.9L1650.1 129.9L1650.1 123.9zM1685.1 126.9L1680.6 129.9L1680.6 123.9zM1715.8 116.7L1713.3 123.4L1709.1 119.2zM1003.7 156.6h1.6v1.6h-1.6zM1035 142.9L1038 149.4L1032 149.4zM1071 144L1071.3 151.2L1065.8 148.9zM1101.5 144L1101.8 151.2L1096.3 148.9zM1126.5 142.9L1129.5 149.4L1123.5 149.4zM1156.9 147.4L1159.9 151.9L1153.9 151.9zM1181.9 144L1187.1 148.9L1181.6 151.2zM1212.4 144L1217.6 148.9L1212.1 151.2zM1242.8 144L1248.1 148.9L1242.6 151.2zM1271.6 139.9L1277 145.2L1271.5 147.5zM1309.3 142.9L1312.3 149.4L1306.3 149.4zM1345.4 144L1345.6 151.2L1340.1 148.9zM1364.8 144L1370 148.9L1364.5 151.2zM1393.7 150.3L1399 151.4L1394.8 155.6zM1424.2 150.3L1429.5 151.4L1425.2 155.6zM1456.7 157.4L1459 155.2L1459 159.7zM1486.7 170.8L1486.4 163.6L1491.9 165.9zM1521.9 156.6h1.6v1.6h-1.6zM1552.4 156.6h1.6v1.6h-1.6zM1587.5 166.7L1583 163.6L1588.5 161.3zM1617.7 153.9L1617.7 157.1L1614.5 153.9zM1648.2 153.9L1648.2 157.1L1645 153.9zM1678.9 148.2L1680 153.5L1674.4 151.2zM1701.8 148.2L1706.2 151.2L1700.7 153.5zM1004.5 182.9L1006.8 185.1L1002.3 185.1zM1035 173.4L1038 179.9L1032 179.9zM1071 174.5L1071.3 181.7L1065.8 179.4zM1101.5 174.5L1101.8 181.7L1096.3 179.4zM1133.5 180.8L1132.5 186.1L1128.2 181.9zM1156.9 177.9L1159.9 182.4L1153.9 182.4zM1174 174.4L1181.1 177.3L1176.8 181.5zM1204.5 174.4L1211.5 177.3L1207.3 181.5zM1241.1 170.3L1246.6 175.7L1241 177.9zM1278.9 173.4L1281.9 179.9L1275.9 179.9zM1309.3 173.4L1312.3 179.9L1306.3 179.9zM1339.8 168.9L1342.8 175.9L1336.8 175.9zM1370.3 173.4L1373.3 179.9L1367.3 179.9zM1395.2 174.5L1400.5 179.4L1395 181.7zM1421 177.6L1427.7 180.1L1423.5 184.4zM1452.5 184.1L1457.8 183L1455.5 188.6zM1501.5 191.7L1496.2 192.8L1498.4 187.2zM1515.6 180.8L1520.9 181.9L1516.7 186.1zM1553.2 177.9L1556.2 182.4L1550.2 182.4zM1583.7 182.9L1585.9 185.1L1581.4 185.1zM1610.3 178.6L1614.8 181.7L1609.3 184zM1644.6 177.9L1647.6 182.4L1641.6 182.4zM1668 180.8L1673.3 181.9L1669.1 186.1zM1698.5 180.8L1703.8 181.9L1699.6 186.1zM1004.5 213.4L1006.8 215.6L1002.3 215.6zM1042.3 200.8L1042.4 208.4L1036.8 206.1zM1075.8 208.1L1073.3 214.8L1069 210.6zM1106.2 208.1L1103.7 214.8L1099.5 210.6zM1126.5 208.4L1129.5 212.9L1123.5 212.9zM1146.7 208.1L1153.4 210.6L1149.2 214.8zM1174 204.9L1181.1 207.7L1176.8 212zM1204.5 204.9L1211.5 207.7L1207.3 212zM1234.9 204.9L1242 207.7L1237.8 212zM1278.9 203.9L1281.9 210.4L1275.9 210.4zM1309.3 199.4L1312.3 206.4L1306.3 206.4zM1339.8 199.4L1342.8 206.4L1336.8 206.4zM1375.8 205L1376.1 212.1L1370.6 209.8zM1400.8 203.9L1403.8 210.4L1397.8 210.4zM1425.7 205L1431 209.8L1425.4 212.1zM1457.9 209.1L1462.4 212.1L1456.9 214.4zM1491.4 217.6h1.6v1.6h-1.6zM1522.7 213.4L1524.9 215.6L1520.4 215.6zM1553.2 208.4L1556.2 212.9L1550.2 212.9zM1579.8 209.1L1584.3 212.1L1578.8 214.4zM1603.9 208.1L1610.6 210.6L1606.4 214.8zM1634.4 208.1L1641.1 210.6L1636.9 214.8zM1661.7 212.8L1668.9 212.5L1666.6 218.1zM1695.3 208.1L1702.1 210.6L1697.8 214.8zM1004.5 243.8L1006.8 246.1L1002.3 246.1zM1045.3 238.6L1042.8 245.3L1038.5 241.1zM1072.6 241.8L1071.5 247.1L1067.3 242.8zM1103.1 241.8L1102 247.1L1097.7 242.8zM1126.5 238.8L1129.5 243.3L1123.5 243.3zM1149.9 241.8L1155.2 242.8L1150.9 247.1zM1177.2 238.6L1183.9 241.1L1179.7 245.3zM1204.5 235.4L1211.5 238.2L1207.3 242.5zM1234.9 235.4L1242 238.2L1237.8 242.5zM1269.9 227.1L1275.3 232.4L1269.8 234.7zM1309.3 229.8L1312.3 236.8L1306.3 236.8zM1339.8 225.3L1342.8 232.3L1336.8 232.3zM1370.3 229.8L1373.3 236.8L1367.3 236.8zM1400.8 229.8L1403.8 236.8L1397.8 236.8zM1431.3 234.3L1434.3 240.8L1428.3 240.8zM1468.8 241.8L1467.8 247.1L1463.5 242.8zM1502.2 248.8L1497.7 251.8L1497.7 245.8zM1527.7 248.8L1525.4 251.1L1525.4 246.6zM1549.4 239.6L1553.8 242.6L1548.3 244.9zM1583.7 234.3L1586.7 240.8L1580.7 240.8zM1608.6 235.4L1613.9 240.3L1608.3 242.6zM1634.4 238.6L1641.1 241.1L1636.9 245.3zM1664.8 238.6L1671.6 241.1L1667.3 245.3zM1695.3 238.6L1702.1 241.1L1697.8 245.3zM1004.5 274.3L1006.8 276.5L1002.3 276.5zM1035 264.8L1038 271.3L1032 271.3zM1069.3 270.1L1070.4 275.4L1064.8 273.1zM1096 269.3L1099 273.8L1093 273.8zM1122.6 270.1L1127.1 273.1L1121.6 275.4zM1149.9 272.2L1155.2 273.3L1150.9 277.5zM1174 265.9L1181.1 268.7L1176.8 272.9zM1204.5 265.9L1211.5 268.7L1207.3 272.9zM1241.1 261.7L1246.6 267.1L1241 269.4zM1271.6 261.7L1277 267.1L1271.5 269.4zM1303.8 265.9L1309.1 270.8L1303.5 273.1zM1332.5 261.7L1338 267.1L1332.5 269.4zM1370.3 260.3L1373.3 267.3L1367.3 267.3zM1400.8 260.3L1403.8 267.3L1397.8 267.3zM1431.3 269.3L1434.3 273.8L1428.3 273.8zM1461.7 260.3L1464.7 267.3L1458.7 267.3zM1506.7 279.3L1500.2 282.3L1500.2 276.3zM1532.7 279.3L1528.2 282.3L1528.2 276.3zM1553.2 269.3L1556.2 273.8L1550.2 273.8zM1579.8 270.1L1584.3 273.1L1578.8 275.4zM1607.1 272.2L1612.4 273.3L1608.1 277.5zM1634.4 269L1641.1 271.5L1636.9 275.8zM1669.6 265.9L1674.8 270.8L1669.3 273.1zM1698.3 261.7L1703.8 267.1L1698.2 269.4zM1004.5 304.8L1006.8 307L1002.3 307zM1042.1 302.7L1041 308L1036.8 303.8zM1072.6 302.7L1071.5 308L1067.3 303.8zM1103.1 302.7L1102 308L1097.7 303.8zM1126.5 299.8L1129.5 304.3L1123.5 304.3zM1149.9 302.7L1155.2 303.8L1150.9 308zM1174 296.3L1181.1 299.2L1176.8 303.4zM1204.5 296.3L1211.5 299.2L1207.3 303.4zM1234.9 296.3L1242 299.2L1237.8 303.4zM1262.2 293.1L1269.3 296L1265.1 300.2zM1289.5 290L1296.6 292.8L1292.4 297zM1323.2 293.1L1330.3 296L1326 300.2zM1361.3 288.1L1366.8 293.4L1361.2 295.7zM1391.8 288.1L1397.2 293.4L1391.7 295.7zM1438.5 292.2L1438.6 299.8L1433.1 297.5zM1475.2 296.3L1472.3 303.4L1468.1 299.2zM1502.5 299.5L1500 306.2L1495.7 302zM1537.2 309.8L1530.7 312.8L1530.7 306.8zM1566.6 304.2L1561.7 309.5L1559.4 303.9zM1580.1 306.2L1583.3 306.2L1580.1 309.4zM1610.3 300.5L1614.8 303.5L1609.3 305.8zM1639.1 296.4L1644.3 301.2L1638.8 303.5zM1671.3 300.5L1675.8 303.5L1670.2 305.8zM1695.3 299.5L1702.1 302L1697.8 306.2zM1008.1 336.7L1008.1 339.9L1004.9 336.7zM1054 340.2L1047 343.2L1047 337.2zM1072.6 333.2L1071.5 338.5L1067.3 334.2zM1097.9 335.6L1099.1 338.6L1095 336.8zM1125.7 339.4h1.6v1.6h-1.6zM1149.9 333.2L1155.2 334.2L1150.9 338.5zM1177.2 330L1183.9 332.5L1179.7 336.7zM1207.6 330L1214.4 332.5L1210.1 336.7zM1231.8 323.6L1238.8 326.4L1234.6 330.7zM1259.1 320.4L1266.1 323.3L1261.9 327.5zM1289.5 320.4L1296.6 323.3L1292.4 327.5zM1320 320.4L1327.1 323.3L1322.8 327.5zM1353.7 323.6L1360.8 326.4L1356.5 330.7zM1391.8 318.5L1397.2 323.8L1391.7 326.1zM1444.7 326.8L1441.9 333.9L1437.6 329.6zM1475.2 326.8L1472.3 333.9L1468.1 329.6zM1509.8 333L1504.5 338.4L1502.2 332.9zM1537.2 340.2L1530.7 343.2L1530.7 337.2zM1567.7 340.2L1561.2 343.2L1561.2 337.2zM1587.2 336.7L1587.2 339.9L1584 336.7zM1608.6 326.8L1613.9 331.7L1608.3 334zM1634.4 330L1641.1 332.5L1636.9 336.7zM1664.8 330L1671.6 332.5L1667.3 336.7zM1695.3 330L1702.1 332.5L1697.8 336.7zM1009.2 368.8L1007.9 371.7L1006.2 367.6zM1054 370.7L1047 373.7L1047 367.7zM1078.9 376.3L1071.7 376.5L1074 371zM1099.8 379.9L1095.3 376.9L1100.9 374.6zM1122.6 379.9L1121.6 374.6L1127.1 376.9zM1156.1 369.9h1.6v1.6h-1.6zM1180.3 363.6L1185.7 364.7L1181.4 368.9zM1204.5 357.3L1211.5 360.1L1207.3 364.3zM1228.6 350.9L1235.7 353.7L1231.4 358zM1255.5 347.4L1262.6 350.2L1258.4 354.4zM1289.5 350.9L1296.6 353.7L1292.4 358zM1320 350.9L1327.1 353.7L1322.8 358zM1361.3 349L1366.8 354.3L1361.2 356.6zM1400.8 347.2L1403.8 354.2L1397.8 354.2zM1444.7 357.3L1441.9 364.3L1437.6 360.1zM1483.5 361.7L1478.1 367.2L1475.8 361.6zM1511.2 370.7L1504.2 373.7L1504.2 367.7zM1540.3 378L1532.6 378.1L1534.9 372.5zM1567.7 370.7L1561.2 373.7L1561.2 367.7zM1579.8 361.5L1584.3 364.5L1578.8 366.8zM1608.6 357.3L1613.9 362.2L1608.3 364.5zM1637.5 363.6L1642.9 364.7L1638.6 368.9zM1668 363.6L1673.3 364.7L1669.1 368.9zM1695.3 360.5L1702.1 362.9L1697.8 367.2zM1008.1 397.6L1008.1 400.8L1004.9 397.6zM1058.5 401.2L1051.5 404.2L1051.5 398.2zM1083.1 408.4L1075.4 408.5L1077.7 403zM1103.3 418.7L1097.8 413.4L1103.3 411.1zM1113.1 406.7L1117.9 401.5L1120.2 407zM1143.5 395.6L1150.7 395.4L1148.4 400.9zM1174 395.6L1181.2 395.4L1178.9 400.9zM1200.3 393.9L1208 393.8L1205.7 399.4zM1226.7 392.2L1234.3 392.1L1232 397.6zM1257.1 392.2L1264.8 392.1L1262.5 397.6zM1287.6 392.2L1295.2 392.1L1292.9 397.6zM1318.1 392.2L1325.7 392.1L1323.4 397.6zM1360 390.9L1366.8 393.4L1362.5 397.7zM1406.3 387.8L1406.6 395L1401.1 392.7zM1459.3 401.2L1452.3 404.2L1452.3 398.2zM1487.6 411.9L1480 412L1482.3 406.4zM1513.9 410.2L1506.3 410.3L1508.6 404.7zM1544.4 410.2L1536.8 410.3L1539.1 404.7zM1570.7 408.4L1563.1 408.5L1565.4 403zM1582.9 400.4h1.6v1.6h-1.6zM1607.1 408.2L1608.1 402.9L1612.4 407.2zM1631.2 395.6L1638.4 395.4L1636.1 400.9zM1661.7 395.6L1668.9 395.4L1666.6 400.9zM1692.2 395.6L1699.4 395.4L1697.1 400.9zM1004.5 426.6L1006.8 428.9L1002.3 428.9zM1054 431.6L1047 434.6L1047 428.6zM1078.9 445.1L1071.9 442.3L1076.1 438zM1096 450.6L1093 443.6L1099 443.6zM1108.9 438.9L1114.2 433.5L1116.5 439zM1143.5 437.2L1148.4 431.9L1150.7 437.5zM1172.9 431.6L1179.4 428.6L1179.4 434.6zM1198.9 431.6L1205.9 428.6L1205.9 434.6zM1226.7 422.7L1234.3 422.6L1232 428.1zM1255.4 431.6L1262.4 428.6L1262.4 434.6zM1287.6 422.7L1295.2 422.6L1292.9 428.1zM1318.1 440.6L1323.4 435.2L1325.7 440.7zM1363 449.2L1362.9 441.6L1368.5 443.9zM1414.2 445.1L1407.1 442.3L1411.4 438zM1454.6 455L1447.5 452.2L1451.8 447.9zM1492.2 444.3L1484.6 444.4L1486.9 438.8zM1518.1 442.4L1510.5 442.5L1512.8 436.9zM1546.2 431.6L1539.2 434.6L1539.2 428.6zM1566.6 437.2L1559.4 437.5L1561.7 431.9zM1583.7 441.6L1580.7 437.1L1586.7 437.1zM1604.9 435.5L1607.9 431L1610.2 436.5zM1631.2 437.2L1636.1 431.9L1638.4 437.5zM1661.7 437.2L1666.6 431.9L1668.9 437.5zM1691.1 431.6L1697.6 428.6L1697.6 434.6zM1004.5 457.1L1006.8 459.4L1002.3 459.4zM1048.4 456.6L1043.5 461.8L1041.2 456.3zM1075.8 472.4L1069 469.9L1073.3 465.6zM1096 481.1L1093 474.1L1099 474.1zM1113.1 467.7L1117.9 462.4L1120.2 467.9zM1149.9 469.2L1150.9 463.9L1155.2 468.1zM1174 467.7L1178.9 462.4L1181.2 467.9zM1198.9 462.1L1205.9 459.1L1205.9 465.1zM1229.4 462.1L1236.4 459.1L1236.4 465.1zM1261.3 469.4L1266.6 463.9L1268.9 469.5zM1292.7 478.7L1295.6 471.7L1299.8 475.9zM1329.1 488L1329 480.4L1334.6 482.7zM1370.3 490.1L1367.3 483.1L1373.3 483.1zM1411.5 488L1406 482.7L1411.6 480.4zM1454.6 485.4L1447.5 482.6L1451.8 478.4zM1485.1 485.4L1478 482.6L1482.2 478.4zM1513.9 471.1L1506.3 471.2L1508.6 465.7zM1531.9 465.9L1526.6 467L1528.9 461.4zM1560.3 469.2L1554.9 468.1L1559.2 463.9zM1583.7 472.1L1580.7 467.6L1586.7 467.6zM1604.9 458.3L1610.2 457.2L1607.9 462.8zM1630.1 462.1L1636.6 459.1L1636.6 465.1zM1661.7 467.7L1666.6 462.4L1668.9 467.9zM1691.1 462.1L1697.6 459.1L1697.6 465.1zM997.5 485.5L1002.8 486.6L998.5 490.8zM1034.2 491.8h1.6v1.6h-1.6zM1072.8 510.1L1067.3 504.8L1072.9 502.5zM1088.7 510.1L1088.6 502.5L1094.2 504.8zM1116.2 502.8L1118.7 496.1L1122.9 500.3zM1143.5 498.1L1148.4 492.9L1150.7 498.4zM1174 498.1L1178.9 492.9L1181.2 498.4zM1198.9 492.6L1205.9 489.6L1205.9 495.6zM1230.8 499.9L1236.1 494.4L1238.4 499.9zM1262.2 509.2L1265.1 502.1L1269.3 506.4zM1295.9 506L1298.7 498.9L1303 503.2zM1332.5 510.1L1332.5 502.5L1338 504.8zM1370.3 516.1L1367.3 509.1L1373.3 509.1zM1408.1 510.1L1402.6 504.8L1408.1 502.5zM1444.7 506L1437.6 503.2L1441.9 498.9zM1478.4 509.2L1471.3 506.4L1475.5 502.1zM1513.9 501.6L1506.3 501.7L1508.6 496.1zM1529.8 499.7L1524.5 498.6L1528.7 494.4zM1546.1 485.5L1551.4 486.6L1547.2 490.8zM1576.6 499.7L1577.6 494.4L1581.9 498.6zM1604.1 492.6L1608.6 489.6L1608.6 495.6zM1630.1 492.6L1636.6 489.6L1636.6 495.6zM1660.6 492.6L1667.1 489.6L1667.1 495.6zM1691.1 492.6L1697.6 489.6L1697.6 495.6zM1001 519.5L1004.2 519.5L1001 522.7zM1042.1 530.1L1036.8 529.1L1041 524.8zM1065.5 533.1L1062.5 528.6L1068.5 528.6zM1096 537.6L1093 531L1099 531zM1119.4 530.1L1120.4 524.8L1124.7 529.1zM1143.5 528.6L1148.4 523.3L1150.7 528.9zM1172.9 523.1L1179.4 520.1L1179.4 526.1zM1198.9 523.1L1205.9 520.1L1205.9 526.1zM1234.9 536.5L1237.8 529.4L1242 533.7zM1265.4 536.5L1268.3 529.4L1272.5 533.7zM1300.3 544.8L1300.3 537.2L1305.8 539.4zM1330.8 544.8L1330.7 537.2L1336.3 539.4zM1370.3 542.1L1367.3 535.1L1373.3 535.1zM1409.8 544.8L1404.3 539.4L1409.9 537.2zM1440.3 544.8L1434.8 539.4L1440.3 537.2zM1478.4 539.7L1471.3 536.8L1475.5 532.6zM1505.7 536.5L1498.6 533.7L1502.8 529.4zM1531.9 519.2L1528.9 523.7L1526.6 518.2zM1552.4 522.3h1.6v1.6h-1.6zM1570.3 517.5L1577.4 517.2L1575.1 522.8zM1599.6 523.1L1606.2 520.1L1606.2 526.1zM1631.2 517.5L1638.4 517.2L1636.1 522.8zM1665.9 519.2L1671.2 518.2L1668.9 523.7zM1691.1 523.1L1697.6 520.1L1697.6 526.1zM1004.5 548.5L1006.8 550.8L1002.3 550.8zM1040.6 566.9L1035.3 562L1040.8 559.7zM1058.4 546.5L1063.7 547.5L1059.5 551.8zM1091 553.5L1093.2 551.3L1093.2 555.8zM1121.5 553.5L1123.7 551.3L1123.7 555.8zM1143.5 548L1150.7 547.7L1148.4 553.2zM1168.4 553.5L1175.4 550.5L1175.4 556.5zM1204.5 548L1211.7 547.7L1209.4 553.2zM1230.8 560.8L1236.1 555.3L1238.4 560.9zM1265.4 567L1268.3 559.9L1272.5 564.1zM1303.8 566.9L1303.5 559.7L1309.1 562zM1339.8 572.5L1336.8 565.5L1342.8 565.5zM1370.3 568L1367.3 561.5L1373.3 561.5zM1404.6 562.8L1400.1 559.8L1405.7 557.5zM1438.3 560.6L1433 559.5L1437.3 555.3zM1475.1 548L1470.3 553.2L1468 547.7zM1502.2 553.5L1497.7 556.5L1497.7 550.5zM1526.5 544.3L1527.6 549.6L1522 547.3zM1557 544.3L1558.1 549.6L1552.5 547.3zM1578.1 540.1L1583.4 545L1577.8 547.3zM1607.1 546.5L1612.4 547.5L1608.1 551.8zM1637.5 546.5L1642.9 547.5L1638.6 551.8zM1668 546.5L1673.3 547.5L1669.1 551.8zM1696.3 549.7L1701.6 548.6L1699.4 554.2zM1004.5 579L1006.8 581.2L1002.3 581.2zM1035 594L1032 589.5L1038 589.5zM1063.6 588.6L1062.4 585.7L1066.5 587.4zM1085.7 573.7L1092.5 576.2L1088.2 580.5zM1116.2 573.7L1122.9 576.2L1118.7 580.5zM1149.9 576.9L1155.2 578L1150.9 582.2zM1174 578.4L1181.2 578.2L1178.9 583.7zM1200.3 576.7L1208 576.6L1205.7 582.2zM1230.8 576.7L1238.4 576.6L1236.1 582.2zM1259.9 584L1266.9 581L1266.9 587zM1302.3 591.1L1303.3 585.8L1307.6 590zM1329.8 584L1334.3 581L1334.3 587zM1360.3 584L1364.8 581L1364.8 587zM1400 583.2h1.6v1.6h-1.6zM1430.5 583.2h1.6v1.6h-1.6zM1465.6 574.8L1466.6 580.1L1461.1 577.8zM1496 574.8L1497.1 580.1L1491.6 577.8zM1517.2 570.6L1522.4 575.5L1516.9 577.8zM1553.2 565L1556.2 572L1550.2 572zM1583.7 565L1586.7 572L1580.7 572zM1608.6 570.6L1613.9 575.5L1608.3 577.8zM1639.1 570.6L1644.3 575.5L1638.8 577.8zM1675.1 569.5L1678.1 576L1672.1 576zM1698.5 576.9L1703.8 578L1699.6 582.2zM1003.7 613.7h1.6v1.6h-1.6zM1031.5 610.9L1034.7 610.9L1031.5 614.1zM1055.2 604.2L1062 606.7L1057.7 610.9zM1085.7 604.2L1092.5 606.7L1088.2 610.9zM1117.2 610.6L1122.5 609.6L1120.2 615.1zM1153.4 610.9L1156.6 610.9L1153.4 614.1zM1178.2 610.6L1183.5 609.6L1181.2 615.1zM1200.3 607.2L1208 607.1L1205.7 612.6zM1230.8 607.2L1238.4 607.1L1236.1 612.6zM1265.5 608.9L1272.6 608.6L1270.3 614.2zM1294.8 614.5L1301.4 611.5L1301.4 617.5zM1330.6 610.6L1335.9 609.6L1333.6 615.1zM1369.5 613.7h1.6v1.6h-1.6zM1391.5 618.3L1394.6 613.8L1396.8 619.3zM1430.5 613.7h1.6v1.6h-1.6zM1457.9 605.2L1462.4 608.2L1456.9 610.5zM1486.7 601.1L1491.9 605.9L1486.4 608.2zM1515.4 596.9L1520.9 602.2L1515.3 604.5zM1545.9 596.9L1551.4 602.2L1545.8 604.5zM1583.7 595.5L1586.7 602.5L1580.7 602.5zM1608.6 601.1L1613.9 605.9L1608.3 608.2zM1644.6 600L1647.6 606.5L1641.6 606.5zM1678.9 605.2L1680 610.5L1674.4 608.2zM1701.8 605.2L1706.2 608.2L1700.7 610.5zM1003.7 644.1h1.6v1.6h-1.6zM1029.5 631.5L1034.7 636.4L1029.2 638.7zM1060 631.5L1065.2 636.4L1059.7 638.7zM1088.9 637.9L1094.2 638.9L1090 643.2zM1113.1 639.4L1120.2 639.1L1117.9 644.7zM1149.9 637.9L1155.2 638.9L1150.9 643.2zM1183.9 641.4L1187.1 641.4L1183.9 644.6zM1207.9 644.9L1212.4 641.9L1212.4 647.9zM1241.3 637.9L1246.6 638.9L1242.4 643.2zM1269.6 641.1L1274.9 640.1L1272.6 645.6zM1295.9 639.4L1303.1 639.1L1300.8 644.7zM1326.4 639.4L1333.6 639.1L1331.3 644.7zM1360.3 644.9L1364.8 641.9L1364.8 647.9zM1390.8 644.9L1395.3 641.9L1395.3 647.9zM1422 641.1L1427.3 640.1L1425 645.6zM1457.9 635.7L1462.4 638.7L1456.9 641zM1486.7 631.5L1491.9 636.4L1486.4 638.7zM1517.2 631.5L1522.4 636.4L1516.9 638.7zM1553.2 630.4L1556.2 637L1550.2 637zM1589.2 631.5L1589.5 638.7L1583.9 636.4zM1614.1 639.9L1616.4 642.2L1611.9 642.2zM1648.4 635.7L1649.5 641L1644 638.7zM1678.9 635.7L1680 641L1674.4 638.7zM1701.8 635.7L1706.2 638.7L1700.7 641zM1001 671.9L1004.2 671.9L1001 675.1zM1018.4 658.8L1025.5 661.6L1021.2 665.9zM1052.1 662L1059.1 664.8L1054.9 669zM1085.7 665.2L1092.5 667.6L1088.2 671.9zM1108.9 668.1L1116.5 668L1114.2 673.6zM1146.9 675.4L1151.4 672.4L1151.4 678.4zM1178.2 679.2L1181.2 674.7L1183.5 680.3zM1217.9 660.9L1220.9 667.4L1214.9 667.4zM1255.5 668.3L1254.4 673.6L1250.1 669.4zM1278.9 665.4L1281.9 669.9L1275.9 669.9zM1305.5 666.2L1310 669.2L1304.5 671.5zM1334.3 662L1339.5 666.9L1334 669.2zM1360 665.2L1366.8 667.6L1362.5 671.9zM1390.5 665.2L1397.3 667.6L1393 671.9zM1424.2 668.3L1429.5 669.4L1425.2 673.6zM1456.2 662L1461.5 666.9L1455.9 669.2zM1486.7 662L1491.9 666.9L1486.4 669.2zM1522.7 665.4L1525.7 669.9L1519.7 669.9zM1553.2 665.4L1556.2 669.9L1550.2 669.9zM1589.2 662L1589.5 669.2L1583.9 666.9zM1617.7 671.9L1617.7 675.1L1614.5 671.9zM1644.6 665.4L1647.6 669.9L1641.6 669.9zM1675.1 665.4L1678.1 669.9L1672.1 669.9zM1710.6 675.4L1708.3 677.7L1708.3 673.2zM997.5 698.8L1002.8 699.9L998.5 704.1zM1018.4 689.3L1025.5 692.1L1021.2 696.3zM1052.1 692.4L1059.1 695.3L1054.9 699.5zM1078.4 698.6L1086 698.5L1083.7 704.1zM1107.5 705.9L1114.5 702.9L1114.5 708.9zM1149.9 712.9L1150.9 707.6L1155.2 711.9zM1181.9 692.5L1187.1 697.4L1181.6 699.7zM1217.9 691.4L1220.9 697.9L1214.9 697.9zM1248.4 695.9L1251.4 700.4L1245.4 700.4zM1278.9 691.4L1281.9 697.9L1275.9 697.9zM1303.8 692.5L1309.1 697.4L1303.5 699.7zM1332.5 688.3L1338 693.6L1332.5 695.9zM1360 695.6L1366.8 698.1L1362.5 702.4zM1393.5 688.3L1399 693.6L1393.4 695.9zM1425.7 692.5L1431 697.4L1425.4 699.7zM1456.2 692.5L1461.5 697.4L1455.9 699.7zM1486.7 692.5L1491.9 697.4L1486.4 699.7zM1522.7 695.9L1525.7 700.4L1519.7 700.4zM1557 696.6L1558.1 701.9L1552.5 699.6zM1590.7 698.8L1589.7 704.1L1585.4 699.9zM1616.1 710.5L1613.1 709.3L1617.3 707.6zM1649.2 704L1648 706.9L1646.3 702.7zM1682.2 698.8L1681.1 704.1L1676.9 699.9zM1696.3 702L1701.6 701L1699.4 706.5zM1009.5 736.3L1007.3 738.6L1007.3 734.1zM1027.7 718.8L1033.2 724.1L1027.7 726.4zM1055.2 726.1L1062 728.6L1057.7 732.8zM1085.7 726.1L1092.5 728.6L1088.2 732.8zM1113.1 730.8L1120.2 730.5L1117.9 736.1zM1153.4 739.9L1153.4 736.7L1156.6 739.9zM1187.4 726.3L1190.4 730.8L1184.4 730.8zM1221.7 727.1L1222.8 732.4L1217.2 730.1zM1253 734.4L1251.8 737.4L1250.1 733.2zM1278.9 721.8L1281.9 728.4L1275.9 728.4zM1309.3 717.3L1312.3 724.3L1306.3 724.3zM1330.8 714.6L1336.3 720L1330.7 722.2zM1364.8 722.9L1370 727.8L1364.5 730.1zM1393.5 718.8L1399 724.1L1393.4 726.4zM1425.7 722.9L1431 727.8L1425.4 730.1zM1461.7 726.3L1464.7 730.8L1458.7 730.8zM1492.2 731.3L1494.5 733.6L1490 733.6zM1515.6 729.3L1520.9 730.3L1516.7 734.6zM1542.9 726.1L1549.7 728.6L1545.4 732.8zM1583.7 731.3L1585.9 733.6L1581.4 733.6zM1617.7 739.9L1614.5 739.9L1617.7 736.7zM1644.6 721.8L1647.6 728.4L1641.6 728.4zM1680.6 722.9L1680.9 730.1L1675.4 727.8zM1698.5 729.3L1703.8 730.3L1699.6 734.6zM1001 763.3L1004.2 763.3L1001 766.5zM1021.6 753.4L1028.7 756.2L1024.4 760.5zM1052.1 753.4L1059.1 756.2L1054.9 760.5zM1082.5 753.4L1089.6 756.2L1085.4 760.5zM1116.2 756.6L1122.9 759.1L1118.7 763.3zM1149.9 759.7L1155.2 760.8L1150.9 765zM1183.9 763.3L1187.1 763.3L1183.9 766.5zM1221.7 757.6L1222.8 762.9L1217.2 760.6zM1252.2 757.6L1253.3 762.9L1247.7 760.6zM1278.9 747.8L1281.9 754.8L1275.9 754.8zM1309.3 743.3L1312.3 750.3L1306.3 750.3zM1339.8 743.3L1342.8 750.3L1336.8 750.3zM1370.3 747.8L1373.3 754.8L1367.3 754.8zM1400.8 747.8L1403.8 754.8L1397.8 754.8zM1438.5 749.3L1438.6 756.9L1433.1 754.6zM1467.3 753.4L1467.6 760.6L1462 758.3zM1495.8 763.3L1495.8 766.5L1492.6 763.3zM1519.2 763.3L1522.3 763.3L1519.2 766.5zM1558.2 766.8L1555.9 769.1L1555.9 764.6zM1587.5 757.6L1588.5 762.9L1583 760.6zM1614.1 752.3L1617.1 758.8L1611.1 758.8zM1650.2 753.4L1650.4 760.6L1644.9 758.3zM1680.6 753.4L1680.9 760.6L1675.4 758.3zM1700 753.4L1705.3 758.3L1699.8 760.6zM1001 793.7L1004.2 793.7L1001 796.9zM1027.7 779.7L1033.2 785.1L1027.7 787.3zM1048.9 780.7L1056 783.5L1051.7 787.7zM1082.5 783.8L1089.6 786.7L1085.4 790.9zM1113 783.8L1120.1 786.7L1115.9 790.9zM1146.7 787L1153.4 789.5L1149.2 793.8zM1177.2 787L1183.9 789.5L1179.7 793.8zM1212.4 783.9L1217.6 788.8L1212.1 791.1zM1241.1 779.7L1246.6 785.1L1241 787.3zM1269.9 775.6L1275.3 780.9L1269.8 783.2zM1309.3 769.3L1312.3 776.3L1306.3 776.3zM1339.8 769.3L1342.8 776.3L1336.8 776.3zM1379.3 775.6L1379.4 783.2L1373.8 780.9zM1409.8 775.6L1409.9 783.2L1404.3 780.9zM1444.7 783.8L1441.9 790.9L1437.6 786.7zM1483.5 788.3L1478.1 793.7L1475.8 788.2zM1515.7 797.3L1508.7 800.3L1508.7 794.3zM1540.3 790L1534.9 795.5L1532.6 789.9zM1566.6 791.7L1561.7 797L1559.4 791.5zM1583.7 782.8L1586.7 789.3L1580.7 789.3zM1621.4 779.7L1621.5 787.3L1616 785.1zM1651.9 779.7L1652 787.3L1646.4 785.1zM1682.4 779.7L1682.5 787.3L1676.9 785.1zM1711.1 783.9L1711.4 791.1L1705.9 788.8zM1004.5 822.8L1006.8 825L1002.3 825zM1027.7 810.2L1033.2 815.5L1027.7 817.8zM1058.2 810.2L1063.7 815.5L1058.1 817.8zM1087 806L1092.4 811.4L1086.9 813.7zM1117.5 806L1122.9 811.4L1117.4 813.7zM1143.5 814.3L1150.6 817.1L1146.3 821.4zM1174 814.3L1181.1 817.1L1176.8 821.4zM1204.5 814.3L1211.5 817.1L1207.3 821.4zM1239.4 806L1244.8 811.4L1239.3 813.7zM1268.1 801.9L1273.6 807.2L1268.1 809.5zM1309.3 799.8L1312.3 806.8L1306.3 806.8zM1339.8 799.8L1342.8 806.8L1336.8 806.8zM1381 801.9L1381.1 809.5L1375.6 807.2zM1409.8 806L1409.9 813.7L1404.3 811.4zM1447.9 811.1L1445 818.2L1440.8 814zM1483.5 818.8L1478.1 824.2L1475.8 818.7zM1513.9 818.8L1508.6 824.2L1506.3 818.7zM1544.4 818.8L1539.1 824.2L1536.8 818.7zM1570.7 820.5L1565.4 825.9L1563.1 820.4zM1589.2 814.4L1589.5 821.5L1583.9 819.2zM1627.6 814.3L1624.7 821.4L1620.5 817.1zM1651.9 810.2L1652 817.8L1646.4 815.5zM1682.2 820.7L1681.1 826L1676.9 821.7zM1712.7 820.7L1711.6 826L1707.3 821.7zM1001 854.7L1004.2 854.7L1001 857.9zM1026 836.5L1031.5 841.8L1025.9 844.1zM1048.9 841.6L1056 844.4L1051.7 848.7zM1076.2 838.4L1083.3 841.3L1079 845.5zM1106.7 838.4L1113.7 841.3L1109.5 845.5zM1140.3 841.6L1147.4 844.4L1143.2 848.7zM1167.6 838.4L1174.7 841.3L1170.4 845.5zM1194.6 834.9L1201.6 837.7L1197.4 842zM1225 834.9L1232.1 837.7L1227.9 842zM1266.2 827.7L1271.7 833.1L1266.1 835.4zM1309.3 825.2L1312.3 832.2L1306.3 832.2zM1352.4 827.7L1352.5 835.4L1347 833.1zM1370.3 830.2L1373.3 837.2L1367.3 837.2zM1411.5 832.4L1411.6 840L1406 837.7zM1447.9 841.6L1445 848.7L1440.8 844.4zM1478.4 841.6L1475.5 848.7L1471.3 844.4zM1508.8 841.6L1506 848.7L1501.8 844.4zM1536.1 844.8L1533.3 851.9L1529.1 847.6zM1560.5 840.7L1560.5 848.3L1555 846zM1583.7 839.2L1586.7 846.2L1580.7 846.2zM1624.4 848L1621.9 854.7L1617.7 850.5zM1651.9 840.7L1652 848.3L1646.4 846zM1685.4 848L1682.9 854.7L1678.6 850.5zM1715.8 848L1713.3 854.7L1709.1 850.5zM1009.5 888.7L1007.3 890.9L1007.3 886.4zM1018.4 872.1L1025.5 874.9L1021.2 879.1zM1048.9 872.1L1056 874.9L1051.7 879.1zM1076.2 868.9L1083.3 871.7L1079 876zM1106.7 868.9L1113.7 871.7L1109.5 876zM1140.3 872.1L1147.4 874.9L1143.2 879.1zM1165.7 879.7L1173.3 879.6L1171 885.2zM1198.1 868.9L1205.2 871.7L1200.9 876zM1225 865.4L1232.1 868.2L1227.9 872.4zM1255.5 865.4L1262.6 868.2L1258.4 872.4zM1296.7 858.2L1302.2 863.5L1296.6 865.8zM1350.5 862.8L1350.6 870.4L1345.1 868.1zM1390.1 868.9L1387.3 876L1383 871.7zM1417.4 872.1L1414.6 879.1L1410.3 874.9zM1447.9 872.1L1445 879.1L1440.8 874.9zM1475.2 875.3L1472.3 882.3L1468.1 878.1zM1499.5 871.1L1499.6 878.8L1494 876.5zM1536.1 875.3L1533.3 882.3L1529.1 878.1zM1553.2 865.2L1556.2 872.2L1550.2 872.2zM1583.7 869.7L1586.7 876.7L1580.7 876.7zM1621.4 871.1L1621.5 878.8L1616 876.5zM1653.6 867L1653.7 874.6L1648.2 872.3zM1682.4 871.1L1682.5 878.8L1676.9 876.5zM1712.9 871.1L1712.9 878.8L1707.4 876.5zM1001 915.6L1004.2 915.6L1001 918.8zM1017.5 911.9L1025.1 911.8L1022.8 917.3zM1047.9 911.9L1055.6 911.8L1053.3 917.3zM1079.4 902.5L1086.4 905.4L1082.2 909.6zM1109.8 902.5L1116.9 905.4L1112.7 909.6zM1143.5 905.7L1150.6 908.6L1146.3 912.8zM1165.7 910.2L1173.3 910.1L1171 915.6zM1196.2 910.2L1203.8 910.1L1201.5 915.6zM1222.5 908.4L1230.1 908.4L1227.8 913.9zM1259.1 899.4L1266.1 902.2L1261.9 906.4zM1300.3 897.5L1305.8 902.8L1300.3 905.1zM1339.8 895.7L1342.8 902.7L1336.8 902.7zM1396.2 908.4L1390.8 913.9L1388.6 908.4zM1426.6 908.4L1421.3 913.9L1419 908.4zM1453 910.2L1447.7 915.6L1445.4 910.1zM1478.4 902.5L1475.5 909.6L1471.3 905.4zM1499.5 901.6L1499.6 909.2L1494 906.9zM1530 901.6L1530.1 909.2L1524.5 906.9zM1553.2 895.7L1556.2 902.7L1550.2 902.7zM1583.7 900.2L1586.7 907.2L1580.7 907.2zM1614.1 895.7L1617.1 902.7L1611.1 902.7zM1644.6 895.7L1647.6 902.7L1641.6 902.7zM1684.1 897.5L1684.2 905.1L1678.6 902.8zM1714.6 897.5L1714.7 905.1L1709.1 902.8zM994.5 949.6L999 946.6L999 952.6zM1013.3 940.6L1020.9 940.5L1018.6 946.1zM1043.8 940.6L1051.4 940.5L1049.1 946.1zM1074.3 940.6L1081.9 940.5L1079.6 946.1zM1104.7 940.6L1112.4 940.5L1110.1 946.1zM1131.1 938.9L1138.7 938.8L1136.4 944.4zM1161.6 938.9L1169.2 938.8L1166.9 944.4zM1196.2 958.6L1201.5 953.2L1203.8 958.7zM1228.6 969.4L1231.4 962.4L1235.7 966.6zM1262.2 966.3L1265.1 959.2L1269.3 963.4zM1295.9 963.1L1298.7 956L1303 960.2zM1332.7 942.6L1338.1 943.6L1333.8 947.9zM1392 940.6L1386.7 946.1L1384.4 940.5zM1411 939.4L1408.5 946.1L1404.3 941.9zM1431.3 939.6L1434.3 944.1L1428.3 944.1zM1461.7 935.1L1464.7 941.7L1458.7 941.7zM1492.2 930.6L1495.2 937.6L1489.2 937.6zM1515.4 932.1L1520.9 937.4L1515.3 939.7zM1553.2 930.6L1556.2 937.6L1550.2 937.6zM1583.7 930.6L1586.7 937.6L1580.7 937.6zM1614.1 926.1L1617.1 933.1L1611.1 933.1zM1644.6 926.1L1647.6 933.1L1641.6 933.1zM1675.1 926.1L1678.1 933.1L1672.1 933.1zM1705.6 926.1L1708.6 933.1L1702.6 933.1zM994.5 980.1L999 977.1L999 983.1zM1011.5 980.1L1018.5 977.1L1018.5 983.1zM1042 980.1L1049 977.1L1049 983.1zM1070.1 969.4L1077.7 969.3L1075.4 974.8zM1100.6 969.4L1108.2 969.3L1105.9 974.8zM1128.9 980.1L1135.9 977.1L1135.9 983.1zM1163.9 980.1L1170.9 977.1L1170.9 983.1zM1192 990.8L1197.4 985.4L1199.6 990.9zM1228.6 999.9L1231.4 992.8L1235.7 997.1zM1262.2 996.7L1265.1 989.7L1269.3 993.9zM1309.3 1003.6L1306.3 996.6L1312.3 996.6zM1348.8 1001.8L1343.4 996.5L1348.9 994.2zM1377.6 997.7L1372.1 992.3L1377.7 990zM1410.8 980.1L1406.3 983.1L1406.3 977.1zM1434.8 976.6L1434.8 979.8L1431.6 976.6zM1461.7 975.1L1464 977.4L1459.5 977.4zM1491.4 979.3h1.6v1.6h-1.6zM1512.4 969.9L1519.2 972.3L1514.9 976.6zM1546.1 973L1551.4 974.1L1547.2 978.3zM1578.1 966.7L1583.4 971.6L1577.8 973.9zM1614.1 956.6L1617.1 963.6L1611.1 963.6zM1644.6 961.1L1647.6 968.1L1641.6 968.1zM1675.1 956.6L1678.1 963.6L1672.1 963.6zM1705.6 956.6L1708.6 963.6L1702.6 963.6zM999.5 1010.6L1001.8 1008.3L1001.8 1012.8zM1011.5 1010.6L1018.5 1007.6L1018.5 1013.6zM1042 1010.6L1049 1007.6L1049 1013.6zM1074.3 1001.6L1081.9 1001.5L1079.6 1007zM1104.7 1001.6L1112.4 1001.5L1110.1 1007zM1131.1 999.9L1138.7 999.8L1136.4 1005.3zM1161.6 999.9L1169.2 999.8L1166.9 1005.3zM1201.3 1027.2L1204.1 1020.1L1208.4 1024.4zM1239.4 1032.3L1239.3 1024.7L1244.8 1027zM1268.1 1036.4L1268.1 1028.8L1273.6 1031.1zM1309.3 1043.6L1306.3 1036.6L1312.3 1036.6zM1339.8 1043.6L1336.8 1036.6L1342.8 1036.6zM1370.3 1038.6L1367.3 1031.6L1373.3 1031.6zM1400.8 1025.1L1397.8 1018.5L1403.8 1018.5zM1431.3 1025.1L1428.3 1018.5L1434.3 1018.5zM1454.7 1017.6L1455.7 1012.3L1460 1016.6zM1478.8 1016.1L1483.7 1010.9L1486 1016.4zM1509.3 1016.1L1514.2 1010.9L1516.5 1016.4zM1539.8 1016.1L1544.7 1010.9L1547 1016.4zM1570.3 1005L1577.4 1004.8L1575.1 1010.3zM1606.9 993L1612.3 998.3L1606.8 1000.6zM1644.6 991.6L1647.6 998.6L1641.6 998.6zM1675.1 991.6L1678.1 998.6L1672.1 998.6zM1705.6 991.6L1708.6 998.6L1702.6 998.6zM999.5 1041L1001.8 1038.8L1001.8 1043.3zM1016 1041L1023 1038L1023 1044zM1043.8 1032.1L1051.4 1032L1049.1 1037.5zM1074.3 1032.1L1081.9 1032L1079.6 1037.5zM1104.7 1032.1L1112.4 1032L1110.1 1037.5zM1135.2 1032.1L1142.8 1032L1140.5 1037.5zM1161.6 1030.3L1169.2 1030.2L1166.9 1035.8zM1198.9 1041L1205.9 1038L1205.9 1044zM1239.4 1062.8L1239.3 1055.1L1244.8 1057.4zM1268.1 1066.9L1268.1 1059.3L1273.6 1061.6zM1309.3 1074L1306.3 1067L1312.3 1067zM1339.8 1069L1336.8 1062L1342.8 1062zM1370.3 1074L1367.3 1067L1373.3 1067zM1400.8 1074L1397.8 1067L1403.8 1067zM1431.3 1069L1428.3 1062L1434.3 1062zM1452.7 1062.8L1452.7 1055.1L1458.2 1057.4zM1478.8 1054.5L1481.6 1047.4L1485.9 1051.7zM1509.3 1054.5L1512.1 1047.4L1516.3 1051.7zM1535.6 1048.3L1540.9 1042.9L1543.2 1048.4zM1570.3 1046.6L1575.1 1041.3L1577.4 1046.9zM1599.6 1041L1606.2 1038L1606.2 1044zM1639.1 1027.6L1644.3 1032.5L1638.8 1034.8zM1682.4 1023.5L1682.5 1031.1L1676.9 1028.8zM1711.1 1027.6L1711.4 1034.8L1705.9 1032.5zM999.5 1071.5L1001.8 1069.3L1001.8 1073.8zM1011.5 1071.5L1018.5 1068.5L1018.5 1074.5zM1043.8 1062.5L1051.4 1062.4L1049.1 1068zM1082.6 1066L1089.8 1065.7L1087.5 1071.2zM1113.1 1066L1120.2 1065.7L1117.9 1071.2zM1139.4 1064.2L1147 1064.2L1144.7 1069.7zM1169.9 1064.2L1177.5 1064.2L1175.2 1069.7zM1204.5 1066L1211.7 1065.7L1209.4 1071.2zM1241.3 1078.6L1242.4 1073.3L1246.6 1077.5zM1265.4 1085L1268.3 1077.9L1272.5 1082.1zM1309.3 1099.5L1306.3 1092.5L1312.3 1092.5zM1339.8 1095L1336.8 1088L1342.8 1088zM1370.3 1104.5L1367.3 1097.5L1373.3 1097.5zM1400.8 1099.5L1397.8 1092.5L1403.8 1092.5zM1431.3 1099.5L1428.3 1092.5L1434.3 1092.5zM1451 1097.4L1450.9 1089.8L1456.5 1092.1zM1478.8 1085L1481.6 1077.9L1485.9 1082.1zM1509.3 1077.1L1514.2 1071.8L1516.5 1077.3zM1542.9 1081.8L1545.4 1075L1549.7 1079.3zM1573.4 1081.8L1575.9 1075L1580.1 1079.3zM1603.9 1081.8L1606.4 1075L1610.6 1079.3zM1641.1 1068L1644.3 1068L1641.1 1071.2zM1680.6 1058.1L1680.9 1065.3L1675.4 1063zM1711.1 1058.1L1711.4 1065.3L1705.9 1063zM999.9 1100.1L1002.9 1098.9L1001.1 1103zM1013.3 1093L1020.9 1092.9L1018.6 1098.4zM1043.8 1093L1051.4 1092.9L1049.1 1098.4zM1085.7 1091.7L1092.5 1094.2L1088.2 1098.5zM1119.4 1094.9L1124.7 1096L1120.4 1100.2zM1156.9 1097L1159.2 1099.2L1154.7 1099.2zM1183.6 1092.7L1188.1 1095.8L1182.5 1098.1zM1217.1 1101.2h1.6v1.6h-1.6zM1244.6 1092.7L1249 1095.8L1243.5 1098.1zM1265.5 1096.4L1272.6 1096.2L1270.3 1101.7zM1309.3 1116.5L1306.3 1110L1312.3 1110zM1332.5 1119.5L1332.5 1111.9L1338 1114.2zM1370.3 1130L1367.3 1123L1373.3 1123zM1400.8 1135L1397.8 1128L1403.8 1128zM1431.3 1135L1428.3 1128L1434.3 1128zM1449.1 1132.5L1449 1124.9L1454.6 1127.2zM1475.6 1118.6L1478.4 1111.5L1482.7 1115.8zM1509.3 1115.4L1512.1 1108.3L1516.3 1112.6zM1539.7 1115.4L1542.6 1108.3L1546.8 1112.6zM1570.2 1115.4L1573.1 1108.3L1577.3 1112.6zM1600.7 1107.5L1605.6 1102.3L1607.9 1107.8zM1643.8 1101.2h1.6v1.6h-1.6zM1665.1 1102L1669.6 1099L1669.6 1105zM1719 1107.5L1711.8 1107.8L1714.1 1102.3zM1001 1128.9L1004.2 1128.9L1001 1132.1zM1013.3 1123.5L1020.9 1123.4L1018.6 1128.9zM1052.1 1119L1059.1 1121.8L1054.9 1126.1zM1090.4 1119.1L1095.7 1123.9L1090.2 1126.2zM1130.3 1123.2L1131.3 1128.5L1125.8 1126.2zM1162.5 1119.1L1162.8 1126.2L1157.2 1123.9zM1187.4 1122.5L1190.4 1127L1184.4 1127zM1225 1125.4L1223.9 1130.7L1219.7 1126.4zM1267.4 1132.5L1260.4 1135.5L1260.4 1129.5zM1296.4 1125.2L1291.1 1130.6L1288.8 1125.1zM1331.1 1141.4L1323.4 1141.5L1325.7 1136zM1359.6 1152.3L1352.5 1149.4L1356.8 1145.2zM1382.9 1162.9L1377.5 1157.6L1383 1155.3zM1400.8 1160.5L1397.8 1153.5L1403.8 1153.5zM1431.3 1160.5L1428.3 1153.5L1434.3 1153.5zM1449.1 1162.9L1449 1155.3L1454.6 1157.6zM1472.4 1152.3L1475.2 1145.2L1479.5 1149.4zM1509.3 1145.9L1512.1 1138.8L1516.3 1143.1zM1539.7 1145.9L1542.6 1138.8L1546.8 1143.1zM1566.1 1139.7L1571.4 1134.3L1573.7 1139.8zM1600.7 1138L1605.6 1132.7L1607.9 1138.3zM1644.6 1137.5L1642.4 1135.2L1646.9 1135.2zM1692.7 1139.7L1685 1139.8L1687.3 1134.3zM1723.1 1125.2L1717.8 1130.6L1715.5 1125.1zM1002.6 1158.3L1005.6 1159.5L1001.4 1161.2zM1018.4 1146.3L1025.5 1149.1L1021.2 1153.4zM1060 1149.5L1065.2 1154.4L1059.7 1156.7zM1096 1152.9L1099 1157.4L1093 1157.4zM1126.5 1148.4L1129.5 1155L1123.5 1155zM1162.5 1149.5L1162.8 1156.7L1157.2 1154.4zM1191 1159.4L1191 1162.6L1187.8 1159.4zM1231.3 1157.4L1226.4 1162.6L1224.1 1157.1zM1267.4 1162.9L1260.4 1165.9L1260.4 1159.9zM1300.6 1153.9L1295.3 1159.4L1293 1153.8zM1337.3 1162.9L1330.3 1165.9L1330.3 1159.9zM1363.2 1186.3L1356.1 1183.4L1360.3 1179.2zM1381 1188.8L1375.6 1183.5L1381.1 1181.2zM1411.5 1188.8L1406 1183.5L1411.6 1181.2zM1431.3 1190.9L1428.3 1183.9L1434.3 1183.9zM1441.9 1182.7L1444.8 1175.7L1449 1179.9zM1472.4 1182.7L1475.2 1175.7L1479.5 1179.9zM1513.7 1184.6L1513.6 1177L1519.2 1179.3zM1542.9 1173.2L1545.4 1166.4L1549.7 1170.7zM1570.3 1157.4L1577.4 1157.1L1575.1 1162.6zM1596.6 1155.7L1604.2 1155.6L1601.9 1161.1zM1639.1 1149.5L1644.3 1154.4L1638.8 1156.7zM1682.2 1155.9L1681.1 1161.2L1676.9 1156.9zM1723.1 1170.2L1715.5 1170.3L1717.8 1164.7zM1009.5 1193.4L1007.3 1195.6L1007.3 1191.1zM1027.7 1175.8L1033.2 1181.2L1027.7 1183.5zM1065.5 1178.9L1068.5 1185.4L1062.5 1185.4zM1101.5 1180L1101.8 1187.2L1096.3 1184.9zM1126.5 1183.4L1129.5 1187.9L1123.5 1187.9zM1162.5 1180L1162.8 1187.2L1157.2 1184.9zM1193 1180L1193.2 1187.2L1187.7 1184.9zM1231.3 1187.8L1226.4 1193.1L1224.1 1187.6zM1271.9 1193.4L1264.9 1196.4L1264.9 1190.4zM1302.4 1193.4L1295.4 1196.4L1295.4 1190.4zM1339.8 1206L1332.2 1206.1L1334.5 1200.6zM1361.5 1202.4L1353.9 1202.5L1356.2 1196.9zM1383.7 1206.8L1376.7 1204L1380.9 1199.8zM1417.4 1210L1410.3 1207.2L1414.6 1202.9zM1424 1210.9L1423.9 1203.3L1429.4 1205.6zM1445.1 1210L1448 1202.9L1452.2 1207.2zM1468.7 1193.4L1475.7 1190.4L1475.7 1196.4zM1503.7 1193.4L1510.7 1190.4L1510.7 1196.4zM1534.2 1193.4L1541.2 1190.4L1541.2 1196.4zM1570.3 1187.8L1577.4 1187.6L1575.1 1193.1zM1608.6 1180L1613.9 1184.9L1608.3 1187.2zM1644.6 1183.4L1647.6 1187.9L1641.6 1187.9zM1680.6 1180L1680.9 1187.2L1675.4 1184.9zM1724.6 1193.4L1717.6 1196.4L1717.6 1190.4zM1004.5 1213.9L1007.5 1218.4L1001.5 1218.4zM1027.7 1206.3L1033.2 1211.6L1027.7 1213.9zM1069.3 1214.6L1070.4 1219.9L1064.8 1217.6zM1109.4 1218.3L1104.5 1223.6L1102.2 1218zM1128.4 1219.2L1129.6 1222.2L1125.4 1220.5zM1164 1216.8L1163 1222.1L1158.7 1217.9zM1196.7 1220L1193.6 1224.5L1191.4 1219zM1232.4 1223.9L1225.9 1226.9L1225.9 1220.9zM1265.9 1231.1L1258.3 1231.2L1260.6 1225.7zM1302.4 1223.9L1295.4 1226.9L1295.4 1220.9zM1337.3 1223.9L1330.3 1226.9L1330.3 1220.9zM1363.3 1223.9L1356.3 1226.9L1356.3 1220.9zM1392 1232.9L1384.4 1233L1386.7 1227.4zM1393.7 1230.9L1394.8 1225.6L1399 1229.9zM1422 1227.7L1425 1223.2L1427.3 1228.7zM1444.2 1216.6L1451.8 1216.5L1449.5 1222zM1464.2 1223.9L1471.2 1220.9L1471.2 1226.9zM1505.1 1216.6L1512.8 1216.5L1510.5 1222zM1553.2 1209.4L1556.2 1215.9L1550.2 1215.9zM1589.2 1210.5L1589.5 1217.6L1583.9 1215.3zM1624.4 1213.6L1621.9 1220.3L1617.7 1216.1zM1650.2 1210.5L1650.4 1217.6L1644.9 1215.3zM1685.4 1213.6L1682.9 1220.3L1678.6 1216.1zM1719 1210.4L1716.2 1217.5L1711.9 1213.3zM1004.5 1244.3L1007.5 1248.8L1001.5 1248.8zM1024.8 1244.1L1031.5 1246.6L1027.3 1250.8zM1062 1250.8L1065.1 1250.8L1062 1254zM1099.5 1257.9L1096.3 1257.9L1099.5 1254.7zM1122.6 1263.6L1121.6 1258.3L1127.1 1260.6zM1160.5 1250.8L1160.5 1254L1157.3 1250.8zM1187.4 1259.3L1185.2 1257.1L1189.7 1257.1zM1227.9 1254.3L1223.4 1257.3L1223.4 1251.3zM1261.8 1259.9L1254.6 1260.2L1256.9 1254.6zM1297.9 1254.3L1290.9 1257.3L1290.9 1251.3zM1332.8 1254.3L1325.8 1257.3L1325.8 1251.3zM1356.4 1237.7L1353.6 1244.8L1349.4 1240.5zM1380.6 1244.1L1378.1 1250.8L1373.8 1246.6zM1408.1 1236.8L1408.1 1244.4L1402.6 1242.1zM1424 1236.8L1429.4 1242.1L1423.9 1244.4zM1445.1 1237.7L1452.2 1240.5L1448 1244.8zM1472.4 1234.5L1479.5 1237.4L1475.2 1241.6zM1509.3 1240.9L1516.3 1243.7L1512.1 1248zM1560.5 1236.8L1560.5 1244.4L1555 1242.1zM1597.1 1240.9L1594.3 1248L1590 1243.7zM1630.8 1237.7L1627.9 1244.8L1623.7 1240.5zM1651.9 1236.8L1652 1244.4L1646.4 1242.1zM1691.7 1237.7L1688.9 1244.8L1684.6 1240.5zM1722.2 1237.7L1719.4 1244.8L1715.1 1240.5zM1001 1281.3L1004.2 1281.3L1001 1284.5zM1031.5 1281.3L1034.7 1281.3L1031.5 1284.5zM1065.5 1299.3L1062.5 1292.8L1068.5 1292.8zM1090.4 1298.2L1090.2 1291L1095.7 1293.3zM1122.6 1294L1121.6 1288.7L1127.1 1291zM1149.9 1291.9L1150.9 1286.6L1155.2 1290.8zM1177.2 1295.1L1179.7 1288.3L1183.9 1292.6zM1204.5 1279.3L1211.7 1279L1209.4 1284.5zM1244.8 1281.3L1248 1281.3L1244.8 1284.5zM1285.9 1277.7L1284.9 1283L1280.6 1278.8zM1314.9 1271.4L1315.2 1278.6L1309.6 1276.3zM1339.8 1265.8L1342.8 1272.8L1336.8 1272.8zM1377.6 1267.3L1377.7 1274.9L1372.1 1272.6zM1400.8 1261.3L1403.8 1268.3L1397.8 1268.3zM1431.3 1261.3L1434.3 1268.3L1428.3 1268.3zM1451 1258.9L1456.5 1264.3L1450.9 1266.6zM1475.6 1268.2L1482.7 1271L1478.4 1275.3zM1509.3 1271.4L1516.3 1274.2L1512.1 1278.4zM1547.6 1271.4L1552.9 1276.3L1547.4 1278.6zM1593.9 1274.6L1591.4 1281.3L1587.2 1277zM1627.6 1271.4L1624.7 1278.4L1620.5 1274.2zM1658.1 1271.4L1655.2 1278.4L1651 1274.2zM1692.7 1277.5L1687.3 1283L1685 1277.4zM1723.1 1277.5L1717.8 1283L1715.5 1277.4zM1002.6 1310.7L1005.6 1311.9L1001.4 1313.6zM1024.8 1305L1031.5 1307.5L1027.3 1311.8zM1065.5 1305.3L1068.5 1309.8L1062.5 1309.8zM1096 1300.8L1099 1307.3L1093 1307.3zM1119.4 1308.2L1124.7 1309.3L1120.4 1313.5zM1149.9 1308.2L1155.2 1309.3L1150.9 1313.5zM1172.9 1315.3L1179.4 1312.3L1179.4 1318.3zM1208.7 1311.4L1214 1310.4L1211.7 1315.9zM1239.1 1311.4L1244.4 1310.4L1242.2 1315.9zM1268.6 1305L1275.3 1307.5L1271.1 1311.8zM1303.8 1301.9L1309.1 1306.8L1303.5 1309.1zM1339.8 1300.8L1342.8 1307.3L1336.8 1307.3zM1363 1297.7L1368.5 1303L1362.9 1305.3zM1400.8 1296.3L1403.8 1303.3L1397.8 1303.3zM1431.3 1296.3L1434.3 1303.3L1428.3 1303.3zM1454.5 1297.7L1459.9 1303L1454.4 1305.3zM1478.8 1301.8L1485.9 1304.7L1481.6 1308.9zM1512.4 1305L1519.2 1307.5L1514.9 1311.8zM1553.2 1300.8L1556.2 1307.3L1550.2 1307.3zM1597.1 1301.8L1594.3 1308.9L1590 1304.7zM1631.7 1308L1626.4 1313.5L1624.1 1307.9zM1662.2 1308L1656.9 1313.5L1654.6 1307.9zM1692.7 1308L1687.3 1313.5L1685 1307.9zM1723.1 1308L1717.8 1313.5L1715.5 1307.9zM1008.1 1342.2L1008.1 1345.4L1004.9 1342.2zM1035 1331.2L1038 1337.8L1032 1337.8zM1065.5 1331.2L1068.5 1337.8L1062.5 1337.8zM1096 1331.2L1099 1337.8L1093 1337.8zM1132 1332.3L1132.3 1339.5L1126.7 1337.2zM1151.4 1332.3L1156.7 1337.2L1151.1 1339.5zM1181.9 1332.3L1187.1 1337.2L1181.6 1339.5zM1212.4 1332.3L1217.6 1337.2L1212.1 1339.5zM1242.8 1332.3L1248.1 1337.2L1242.6 1339.5zM1268.6 1335.5L1275.3 1338L1271.1 1342.2zM1302.3 1338.7L1307.6 1339.7L1303.3 1344zM1336 1336.5L1340.5 1339.5L1334.9 1341.8zM1364.8 1332.3L1370 1337.2L1364.5 1339.5zM1400.8 1331.2L1403.8 1337.8L1397.8 1337.8zM1431.3 1331.2L1434.3 1337.8L1428.3 1337.8zM1461.7 1331.2L1464.7 1337.8L1458.7 1337.8zM1482 1335.5L1488.7 1338L1484.5 1342.2zM1509.3 1340.2L1516.5 1339.9L1514.2 1345.5zM1548.2 1345.7L1550.4 1343.5L1550.4 1348zM1578.7 1345.7L1580.9 1343.5L1580.9 1348zM1627.5 1340.2L1622.7 1345.5L1620.4 1339.9zM1662.2 1338.5L1656.9 1343.9L1654.6 1338.4zM1692.7 1338.5L1687.3 1343.9L1685 1338.4zM1723.1 1338.5L1717.8 1343.9L1715.5 1338.4zM1008.4 1367L1009.4 1372.3L1003.9 1370zM1040.6 1362.8L1040.8 1370L1035.3 1367.7zM1065.5 1361.7L1068.5 1368.2L1062.5 1368.2zM1096 1361.7L1099 1368.2L1093 1368.2zM1126.5 1361.7L1129.5 1368.2L1123.5 1368.2zM1156.9 1361.7L1159.9 1368.2L1153.9 1368.2zM1180.1 1358.7L1185.6 1364L1180.1 1366.3zM1210.6 1358.7L1216.1 1364L1210.5 1366.3zM1241.3 1369.1L1246.6 1370.2L1242.4 1374.4zM1265.5 1370.7L1272.6 1370.4L1270.3 1375.9zM1295.9 1370.7L1303.1 1370.4L1300.8 1375.9zM1330.6 1372.4L1335.9 1371.3L1333.6 1376.9zM1366.8 1372.7L1369.9 1372.7L1366.8 1375.9zM1393.7 1369.1L1399 1370.2L1394.8 1374.4zM1422 1372.4L1427.3 1371.3L1425 1376.9zM1451.5 1366L1458.2 1368.5L1454 1372.7zM1477.7 1376.2L1484.2 1373.2L1484.2 1379.2zM1508.2 1376.2L1514.7 1373.2L1514.7 1379.2zM1539.8 1381.8L1544.7 1376.5L1547 1382zM1576.6 1383.3L1577.6 1378L1581.9 1382.2zM1627.5 1381.8L1620.4 1382L1622.7 1376.5zM1662.2 1383.5L1654.6 1383.6L1656.9 1378zM1692.7 1368.9L1687.3 1374.4L1685 1368.9zM1723.1 1368.9L1717.8 1374.4L1715.5 1368.9zM1008.4 1397.4L1009.4 1402.8L1003.9 1400.5zM1035 1392.2L1038 1398.7L1032 1398.7zM1065.5 1392.2L1068.5 1398.7L1062.5 1398.7zM1099.8 1397.4L1100.9 1402.8L1095.3 1400.5zM1126.5 1392.2L1129.5 1398.7L1123.5 1398.7zM1156.9 1392.2L1159.9 1398.7L1153.9 1398.7zM1180.1 1389.1L1185.6 1394.5L1180.1 1396.7zM1210.6 1389.1L1216.1 1394.5L1210.5 1396.7zM1239.1 1410.5L1242.2 1406L1244.4 1411.6zM1265.5 1401.1L1272.6 1400.9L1270.3 1406.4zM1294.8 1406.7L1301.4 1403.7L1301.4 1409.7zM1325.3 1406.7L1331.8 1403.7L1331.8 1409.7zM1361.1 1410.5L1364.1 1406L1366.4 1411.6zM1390.8 1406.7L1395.3 1403.7L1395.3 1409.7zM1422 1402.9L1427.3 1401.8L1425 1407.4zM1448.3 1401.1L1455.5 1400.9L1453.2 1406.4zM1477.7 1406.7L1484.2 1403.7L1484.2 1409.7zM1508.2 1406.7L1514.7 1403.7L1514.7 1409.7zM1539.8 1412.2L1544.7 1407L1547 1412.5zM1573.4 1416.9L1575.9 1410.2L1580.1 1414.4zM1614.1 1416.7L1611.1 1412.2L1617.1 1412.2zM1658 1412.2L1650.8 1412.5L1653.1 1407zM1688.5 1393.2L1685.7 1400.3L1681.5 1396.1zM1723.1 1399.4L1717.8 1404.9L1715.5 1399.3zM1008.1 1433.6L1008.1 1436.8L1004.9 1433.6zM1025.8 1441L1028.8 1436.5L1031.1 1442zM1056.3 1441L1059.3 1436.5L1061.6 1442zM1103.1 1430.1L1102 1435.4L1097.7 1431.1zM1130.3 1427.9L1131.3 1433.2L1125.8 1430.9zM1156.9 1427.2L1159.9 1431.7L1153.9 1431.7zM1180.3 1430.1L1185.7 1431.1L1181.4 1435.4zM1210.8 1444.2L1211.9 1438.9L1216.1 1443.2zM1235 1442.7L1239.9 1437.4L1242.2 1443zM1264.4 1437.2L1270.9 1434.2L1270.9 1440.2zM1295.9 1442.7L1300.8 1437.4L1303.1 1443zM1320.8 1437.2L1327.8 1434.2L1327.8 1440.2zM1356.9 1442.7L1361.8 1437.4L1364.1 1443zM1393.7 1444.2L1394.8 1438.9L1399 1443.2zM1422 1441L1425 1436.5L1427.3 1442zM1452.5 1441L1455.5 1436.5L1457.8 1442zM1483 1441L1486 1436.5L1488.3 1442zM1509.3 1442.7L1514.2 1437.4L1516.5 1443zM1539.8 1442.7L1544.7 1437.4L1547 1443zM1569.2 1437.2L1575.7 1434.2L1575.7 1440.2zM1604.9 1441L1607.9 1436.5L1610.2 1442zM1648.2 1433.6L1648.2 1436.8L1645 1433.6zM1688.5 1423.7L1685.7 1430.8L1681.5 1426.5zM1719 1423.7L1716.2 1430.8L1711.9 1426.5zM1003.7 1466.8h1.6v1.6h-1.6zM1034.2 1466.8h1.6v1.6h-1.6zM1064.7 1466.8h1.6v1.6h-1.6zM1092.4 1464.1L1095.6 1464.1L1092.4 1467.3zM1126.5 1462.6L1128.7 1464.9L1124.2 1464.9zM1156.1 1466.8h1.6v1.6h-1.6zM1177.4 1467.6L1181.9 1464.6L1181.9 1470.6zM1208.7 1471.5L1211.7 1467L1214 1472.5zM1238.4 1467.6L1242.9 1464.6L1242.9 1470.6zM1268.9 1467.6L1273.4 1464.6L1273.4 1470.6zM1299.3 1467.6L1303.8 1464.6L1303.8 1470.6zM1330.6 1471.5L1333.6 1467L1335.9 1472.5zM1361.1 1471.5L1364.1 1467L1366.4 1472.5zM1393.7 1474.7L1394.8 1469.4L1399 1473.6zM1422 1471.5L1425 1467L1427.3 1472.5zM1452.5 1471.5L1455.5 1467L1457.8 1472.5zM1483 1471.5L1486 1467L1488.3 1472.5zM1513.5 1471.5L1516.5 1467L1518.8 1472.5zM1539.8 1473.2L1544.7 1467.9L1547 1473.4zM1578.7 1467.6L1580.9 1465.4L1580.9 1469.9zM1604.1 1467.6L1608.6 1464.6L1608.6 1470.6zM1648.2 1471.2L1645 1471.2L1648.2 1468zM1671.6 1464.1L1674.7 1464.1L1671.6 1467.3zM1705.6 1462.6L1707.8 1464.9L1703.3 1464.9z" fill="#080808"/><g fill="none" stroke-width="11"><circle cx="1373.2" cy="420.8" r="164.5" stroke="#e4313b" stroke-dasharray="21 20.34"/><circle cx="1306.1" cy="936.1" r="121" stroke="#e4313b" stroke-dasharray="21 21.24"/><circle cx="1425.6" cy="1214.1" r="121" stroke="#2c9fdc" stroke-dasharray="21 21.24"/></g><g id="cba"><defs><linearGradient id="cba_g" x1="0" y1="1" x2="0" y2="0"><stop offset="0.0000" stop-color="#2008dc"/><stop offset="0.0242" stop-color="#1e10e8"/><stop offset="0.0681" stop-color="#1e20f8"/><stop offset="0.0819" stop-color="#2034fe"/><stop offset="0.0957" stop-color="#2444fe"/><stop offset="0.1396" stop-color="#2e6cfd"/><stop offset="0.1834" stop-color="#3f88fe"/><stop offset="0.1972" stop-color="#4592fe"/><stop offset="0.2111" stop-color="#4d9efe"/><stop offset="0.2549" stop-color="#60bcfe"/><stop offset="0.3126" stop-color="#82e0fe"/><stop offset="0.3702" stop-color="#a8f2fe"/><stop offset="0.4152" stop-color="#c0fcfe"/><stop offset="0.4291" stop-color="#ccfefe"/><stop offset="0.4429" stop-color="#d6fefe"/><stop offset="0.4740" stop-color="#eafdff"/><stop offset="0.4856" stop-color="#f4fefa"/><stop offset="0.5006" stop-color="#f8fff4"/><stop offset="0.5352" stop-color="#fefee6"/><stop offset="0.5548" stop-color="#fff9d4"/><stop offset="0.5871" stop-color="#fdf2b8"/><stop offset="0.6009" stop-color="#fee8ae"/><stop offset="0.6148" stop-color="#fee2a8"/><stop offset="0.6459" stop-color="#fed498"/><stop offset="0.6724" stop-color="#fec486"/><stop offset="0.7024" stop-color="#feac74"/><stop offset="0.7163" stop-color="#ffa070"/><stop offset="0.7301" stop-color="#ff9468"/><stop offset="0.7601" stop-color="#ff7858"/><stop offset="0.7878" stop-color="#ff614c"/><stop offset="0.8316" stop-color="#ff3a3e"/><stop offset="0.8766" stop-color="#f72535"/><stop offset="0.9043" stop-color="#ee2233"/><stop offset="0.9331" stop-color="#dc1530"/><stop offset="0.9469" stop-color="#d21230"/><stop offset="0.9712" stop-color="#c0082a"/><stop offset="1.0000" stop-color="#a40020"/></linearGradient></defs><rect x="763.4" y="19.9" width="21.4" height="695.1" fill="url(#cba_g)" stroke="#333" stroke-width="1.1"/><path d="M784.8 85.6h-4.5M784.8 147.2h-4.5M784.8 208.8h-4.5M784.8 270.4h-4.5M784.8 332h-4.5M784.8 393.6h-4.5M784.8 455.2h-4.5M784.8 516.7h-4.5M784.8 578.3h-4.5M784.8 639.9h-4.5M784.8 701.5h-4.5" stroke="#333" stroke-width="1.3"/><text x="798.8" y="94.9" font-size="25">0.7</text><text x="798.8" y="156.5" font-size="25">0.6</text><text x="798.8" y="218.1" font-size="25">0.5</text><text x="798.8" y="279.7" font-size="25">0.4</text><text x="798.8" y="341.3" font-size="25">0.3</text><text x="798.8" y="402.9" font-size="25">0.2</text><text x="798.8" y="464.5" font-size="25">0.1</text><text x="798.8" y="526" font-size="25">0</text><text x="798.8" y="587.6" font-size="25">-0.1</text><text x="798.8" y="649.2" font-size="25">-0.2</text><text x="798.8" y="710.8" font-size="25">-0.3</text></g><g id="cbb"><defs><linearGradient id="cbb_g" x1="0" y1="1" x2="0" y2="0"><stop offset="0.0000" stop-color="#2008dc"/><stop offset="0.0242" stop-color="#1e10e8"/><stop offset="0.0681" stop-color="#1e20f8"/><stop offset="0.0819" stop-color="#2034fe"/><stop offset="0.0957" stop-color="#2444fe"/><stop offset="0.1396" stop-color="#2e6cfd"/><stop offset="0.1834" stop-color="#3f88fe"/><stop offset="0.1972" stop-color="#4592fe"/><stop offset="0.2111" stop-color="#4d9efe"/><stop offset="0.2549" stop-color="#60bcfe"/><stop offset="0.3126" stop-color="#82e0fe"/><stop offset="0.3702" stop-color="#a8f2fe"/><stop offset="0.4152" stop-color="#c0fcfe"/><stop offset="0.4291" stop-color="#ccfefe"/><stop offset="0.4429" stop-color="#d6fefe"/><stop offset="0.4740" stop-color="#eafdff"/><stop offset="0.4856" stop-color="#f4fefa"/><stop offset="0.5006" stop-color="#f8fff4"/><stop offset="0.5352" stop-color="#fefee6"/><stop offset="0.5548" stop-color="#fff9d4"/><stop offset="0.5871" stop-color="#fdf2b8"/><stop offset="0.6009" stop-color="#fee8ae"/><stop offset="0.6148" stop-color="#fee2a8"/><stop offset="0.6459" stop-color="#fed498"/><stop offset="0.6724" stop-color="#fec486"/><stop offset="0.7024" stop-color="#feac74"/><stop offset="0.7163" stop-color="#ffa070"/><stop offset="0.7301" stop-color="#ff9468"/><stop offset="0.7601" stop-color="#ff7858"/><stop offset="0.7878" stop-color="#ff614c"/><stop offset="0.8316" stop-color="#ff3a3e"/><stop offset="0.8766" stop-color="#f72535"/><stop offset="0.9043" stop-color="#ee2233"/><stop offset="0.9331" stop-color="#dc1530"/><stop offset="0.9469" stop-color="#d21230"/><stop offset="0.9712" stop-color="#c0082a"/><stop offset="1.0000" stop-color="#a40020"/></linearGradient></defs><rect x="759.3" y="798" width="25.6" height="687.7" fill="url(#cbb_g)" stroke="#333" stroke-width="1.1"/><path d="M784.9 820.2h-4.5M784.9 892.9h-4.5M784.9 965.6h-4.5M784.9 1038.3h-4.5M784.9 1111h-4.5M784.9 1183.6h-4.5M784.9 1256.3h-4.5M784.9 1329h-4.5M784.9 1401.7h-4.5M784.9 1474.4h-4.5" stroke="#333" stroke-width="1.3"/><text x="798.8" y="829.5" font-size="25">0.12</text><text x="798.8" y="902.2" font-size="25">0.10</text><text x="798.8" y="974.9" font-size="25">0.08</text><text x="798.8" y="1047.6" font-size="25">0.06</text><text x="798.8" y="1120.3" font-size="25">0.04</text><text x="798.8" y="1192.9" font-size="25">0.02</text><text x="798.8" y="1265.6" font-size="25">0</text><text x="798.8" y="1338.3" font-size="25">-0.02</text><text x="798.8" y="1411" font-size="25">-0.04</text><text x="798.8" y="1483.7" font-size="25">-0.06</text></g><g id="cbc"><defs><linearGradient id="cbc_g" x1="0" y1="1" x2="0" y2="0"><stop offset="0.0000" stop-color="#2008dc"/><stop offset="0.0242" stop-color="#1e10e8"/><stop offset="0.0681" stop-color="#1e20f8"/><stop offset="0.0819" stop-color="#2034fe"/><stop offset="0.0957" stop-color="#2444fe"/><stop offset="0.1396" stop-color="#2e6cfd"/><stop offset="0.1834" stop-color="#3f88fe"/><stop offset="0.1972" stop-color="#4592fe"/><stop offset="0.2111" stop-color="#4d9efe"/><stop offset="0.2549" stop-color="#60bcfe"/><stop offset="0.3126" stop-color="#82e0fe"/><stop offset="0.3702" stop-color="#a8f2fe"/><stop offset="0.4152" stop-color="#c0fcfe"/><stop offset="0.4291" stop-color="#ccfefe"/><stop offset="0.4429" stop-color="#d6fefe"/><stop offset="0.4740" stop-color="#eafdff"/><stop offset="0.4856" stop-color="#f4fefa"/><stop offset="0.5006" stop-color="#f8fff4"/><stop offset="0.5352" stop-color="#fefee6"/><stop offset="0.5548" stop-color="#fff9d4"/><stop offset="0.5871" stop-color="#fdf2b8"/><stop offset="0.6009" stop-color="#fee8ae"/><stop offset="0.6148" stop-color="#fee2a8"/><stop offset="0.6459" stop-color="#fed498"/><stop offset="0.6724" stop-color="#fec486"/><stop offset="0.7024" stop-color="#feac74"/><stop offset="0.7163" stop-color="#ffa070"/><stop offset="0.7301" stop-color="#ff9468"/><stop offset="0.7601" stop-color="#ff7858"/><stop offset="0.7878" stop-color="#ff614c"/><stop offset="0.8316" stop-color="#ff3a3e"/><stop offset="0.8766" stop-color="#f72535"/><stop offset="0.9043" stop-color="#ee2233"/><stop offset="0.9331" stop-color="#dc1530"/><stop offset="0.9469" stop-color="#d21230"/><stop offset="0.9712" stop-color="#c0082a"/><stop offset="1.0000" stop-color="#a40020"/></linearGradient></defs><rect x="1752.8" y="20.3" width="44" height="1462.7" fill="url(#cbc_g)" stroke="#333" stroke-width="1.1"/><path d="M1796.8 95.5h-4.5M1796.8 264.2h-4.5M1796.8 432.8h-4.5M1796.8 601.5h-4.5M1796.8 770.1h-4.5M1796.8 938.8h-4.5M1796.8 1107.4h-4.5M1796.8 1276.1h-4.5M1796.8 1444.7h-4.5" stroke="#333" stroke-width="1.3"/><text x="1810" y="104.8" font-size="25">400</text><text x="1810" y="273.5" font-size="25">300</text><text x="1810" y="442.1" font-size="25">200</text><text x="1810" y="610.8" font-size="25">100</text><text x="1810" y="779.4" font-size="25">0</text><text x="1810" y="948.1" font-size="25">-100</text><text x="1810" y="1116.7" font-size="25">-200</text><text x="1810" y="1285.4" font-size="25">-300</text><text x="1810" y="1454" font-size="25">-400</text></g><text x="0" y="0" font-size="29" text-anchor="middle" transform="translate(873 370) rotate(90)">&#8711; &#183;P (a.u.)</text><text x="0" y="0" font-size="29" text-anchor="middle" transform="translate(873.5 1148) rotate(90)">&#8711; &#183;P (a.u.)</text><text x="0" y="0" font-size="29" text-anchor="middle" transform="translate(1868.5 755.5) rotate(90)">&#8711; &#183;P (a.u.)</text><text x="3" y="18" font-size="32" font-weight="bold">a</text><text x="3" y="796" font-size="32" font-weight="bold">b</text><text x="949.5" y="18.4" font-size="33.5" font-weight="bold">c</text></svg></body></html>
